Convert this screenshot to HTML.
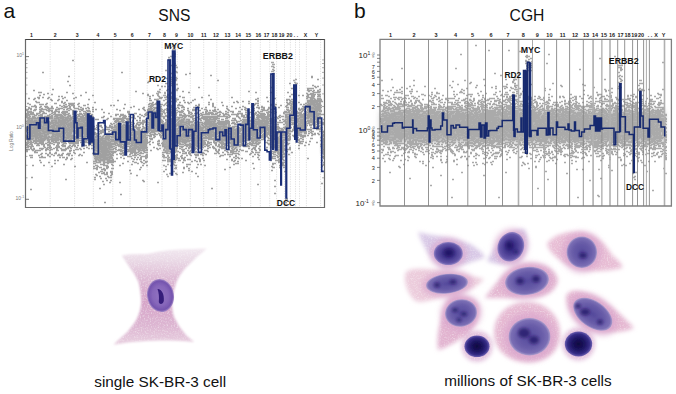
<!DOCTYPE html><html><head><meta charset="utf-8"><style>html,body{margin:0;padding:0;background:#fff;width:676px;height:394px;overflow:hidden}svg{display:block}</style></head><body>
<svg width="676" height="394" viewBox="0 0 676 394" font-family='"Liberation Sans", sans-serif'>
<defs>
<filter id="bl1" x="-20%" y="-20%" width="140%" height="140%"><feGaussianBlur stdDeviation="0.5"/></filter>
<filter id="bl2" x="-30%" y="-30%" width="160%" height="160%"><feGaussianBlur stdDeviation="1.5"/></filter>
<filter id="bl3" x="-30%" y="-30%" width="160%" height="160%"><feGaussianBlur stdDeviation="3"/></filter>
<radialGradient id="nuc" cx="50%" cy="50%" r="50%"><stop offset="0" stop-color="#2e2478"/><stop offset="0.55" stop-color="#3f3590"/><stop offset="0.85" stop-color="#5a4fa8"/><stop offset="1" stop-color="#7f74c0"/></radialGradient>
<radialGradient id="nucd" cx="50%" cy="50%" r="50%"><stop offset="0" stop-color="#15104a"/><stop offset="0.45" stop-color="#2a2070"/><stop offset="0.8" stop-color="#40368e"/><stop offset="1" stop-color="#6a60b0"/></radialGradient>
<radialGradient id="nuc1" cx="50%" cy="50%" r="50%"><stop offset="0" stop-color="#7550b0"/><stop offset="0.8" stop-color="#8a64bc"/><stop offset="1" stop-color="#a98ac8"/></radialGradient>
</defs>
<text x="3.6" y="17.6" font-size="21" fill="#111">a</text>
<text x="354" y="17.8" font-size="21" fill="#111">b</text>
<text x="174.4" y="20.5" font-size="15.6" text-anchor="middle" fill="#111">SNS</text>
<text x="527" y="20.5" font-size="15.7" text-anchor="middle" fill="#111">CGH</text>
<line x1="50.2" y1="39.5" x2="50.2" y2="207.5" stroke="#d8d8d8" stroke-width="0.8" stroke-dasharray="1.2 1.2"/>
<line x1="74.6" y1="39.5" x2="74.6" y2="207.5" stroke="#d8d8d8" stroke-width="0.8" stroke-dasharray="1.2 1.2"/>
<line x1="93.3" y1="39.5" x2="93.3" y2="207.5" stroke="#d8d8d8" stroke-width="0.8" stroke-dasharray="1.2 1.2"/>
<line x1="112.8" y1="39.5" x2="112.8" y2="207.5" stroke="#d8d8d8" stroke-width="0.8" stroke-dasharray="1.2 1.2"/>
<line x1="130.0" y1="39.5" x2="130.0" y2="207.5" stroke="#d8d8d8" stroke-width="0.8" stroke-dasharray="1.2 1.2"/>
<line x1="147.2" y1="39.5" x2="147.2" y2="207.5" stroke="#d8d8d8" stroke-width="0.8" stroke-dasharray="1.2 1.2"/>
<line x1="162.0" y1="39.5" x2="162.0" y2="207.5" stroke="#d8d8d8" stroke-width="0.8" stroke-dasharray="1.2 1.2"/>
<line x1="177.2" y1="39.5" x2="177.2" y2="207.5" stroke="#d8d8d8" stroke-width="0.8" stroke-dasharray="1.2 1.2"/>
<line x1="190.3" y1="39.5" x2="190.3" y2="207.5" stroke="#d8d8d8" stroke-width="0.8" stroke-dasharray="1.2 1.2"/>
<line x1="203.7" y1="39.5" x2="203.7" y2="207.5" stroke="#d8d8d8" stroke-width="0.8" stroke-dasharray="1.2 1.2"/>
<line x1="216.8" y1="39.5" x2="216.8" y2="207.5" stroke="#d8d8d8" stroke-width="0.8" stroke-dasharray="1.2 1.2"/>
<line x1="229.3" y1="39.5" x2="229.3" y2="207.5" stroke="#d8d8d8" stroke-width="0.8" stroke-dasharray="1.2 1.2"/>
<line x1="240.4" y1="39.5" x2="240.4" y2="207.5" stroke="#d8d8d8" stroke-width="0.8" stroke-dasharray="1.2 1.2"/>
<line x1="250.7" y1="39.5" x2="250.7" y2="207.5" stroke="#d8d8d8" stroke-width="0.8" stroke-dasharray="1.2 1.2"/>
<line x1="260.3" y1="39.5" x2="260.3" y2="207.5" stroke="#d8d8d8" stroke-width="0.8" stroke-dasharray="1.2 1.2"/>
<line x1="269.7" y1="39.5" x2="269.7" y2="207.5" stroke="#d8d8d8" stroke-width="0.8" stroke-dasharray="1.2 1.2"/>
<line x1="276.6" y1="39.5" x2="276.6" y2="207.5" stroke="#d8d8d8" stroke-width="0.8" stroke-dasharray="1.2 1.2"/>
<line x1="284.5" y1="39.5" x2="284.5" y2="207.5" stroke="#d8d8d8" stroke-width="0.8" stroke-dasharray="1.2 1.2"/>
<line x1="290.4" y1="39.5" x2="290.4" y2="207.5" stroke="#d8d8d8" stroke-width="0.8" stroke-dasharray="1.2 1.2"/>
<line x1="295.5" y1="39.5" x2="295.5" y2="207.5" stroke="#d8d8d8" stroke-width="0.8" stroke-dasharray="1.2 1.2"/>
<line x1="299.5" y1="39.5" x2="299.5" y2="207.5" stroke="#d8d8d8" stroke-width="0.8" stroke-dasharray="1.2 1.2"/>
<line x1="306.4" y1="39.5" x2="306.4" y2="207.5" stroke="#d8d8d8" stroke-width="0.8" stroke-dasharray="1.2 1.2"/>
<line x1="320.6" y1="39.5" x2="320.6" y2="207.5" stroke="#d8d8d8" stroke-width="0.8" stroke-dasharray="1.2 1.2"/>
<g fill="#b4b4b4" filter="url(#bl2)"><rect x="26.5" y="117.5" width="22.7" height="22.9"/><rect x="51.2" y="116.4" width="22.4" height="24.1"/><rect x="75.6" y="119.0" width="16.7" height="18.0"/><rect x="94.3" y="136.3" width="17.5" height="25.4"/><rect x="113.8" y="124.2" width="15.2" height="19.6"/><rect x="131.0" y="129.8" width="15.2" height="20.5"/><rect x="148.2" y="110.1" width="12.8" height="20.9"/><rect x="163.0" y="127.5" width="13.2" height="20.0"/><rect x="178.2" y="118.7" width="11.1" height="24.5"/><rect x="191.3" y="122.7" width="11.4" height="24.5"/><rect x="204.7" y="118.3" width="11.1" height="18.4"/><rect x="217.8" y="122.5" width="10.5" height="20.0"/><rect x="230.3" y="127.8" width="9.1" height="20.5"/><rect x="241.4" y="121.3" width="8.3" height="18.4"/><rect x="251.7" y="118.4" width="7.6" height="24.1"/><rect x="261.3" y="118.0" width="7.4" height="13.9"/><rect x="270.7" y="121.4" width="4.9" height="28.2"/><rect x="277.6" y="131.2" width="5.9" height="22.5"/><rect x="285.5" y="113.4" width="3.9" height="21.3"/><rect x="291.4" y="101.9" width="3.6" height="19.2"/><rect x="297.0" y="116.8" width="8.4" height="16.4"/><rect x="307.4" y="99.8" width="12.2" height="20.5"/><rect x="321.6" y="131.2" width="1.4" height="22.5"/></g>
<path d="M36 102.5h2M37 118.5h2M38 122.5h2M38 124.5h2M40 130.5h2M33 123.5h2M27 136.5h2M26 110.5h2M49 147.5h2M40 124.5h2M29 144.5h2M27 130.5h2M30 129.5h2M36 132.5h2M36 137.5h2M41 116.5h2M37 121.5h2M32 117.5h2M49 153.5h2M42 128.5h2M33 130.5h2M27 139.5h2M44 109.5h2M35 143.5h2M48 129.5h2M30 128.5h2M47 93.5h2M35 135.5h2M27 113.5h2M32 112.5h2M27 112.5h2M44 157.5h2M28 129.5h2M27 134.5h2M45 136.5h2M36 143.5h2M30 128.5h2M41 122.5h2M28 121.5h2M32 133.5h2M49 132.5h2M47 118.5h2M30 109.5h2M41 144.5h2M28 137.5h2M32 128.5h2M44 123.5h2M27 138.5h2M27 120.5h2M40 124.5h2M34 98.5h2M37 138.5h2M39 134.5h2M29 122.5h2M47 132.5h2M30 120.5h2M43 136.5h2M48 125.5h2M47 118.5h2M28 120.5h2M26 138.5h2M42 126.5h2M31 136.5h2M32 113.5h2M30 128.5h2M31 124.5h2M39 139.5h2M32 114.5h2M47 129.5h2M32 131.5h2M36 136.5h2M34 131.5h2M39 137.5h2M47 137.5h2M49 118.5h2M39 112.5h2M29 131.5h2M47 129.5h2M42 131.5h2M41 128.5h2M37 127.5h2M49 117.5h2M27 109.5h2M47 123.5h2M43 122.5h2M47 107.5h2M34 118.5h2M46 103.5h2M35 135.5h2M39 104.5h2M40 116.5h2M40 140.5h2M27 103.5h2M47 98.5h2M43 113.5h2M39 142.5h2M36 131.5h2M43 124.5h2M26 117.5h2M31 120.5h2M42 111.5h2M47 129.5h2M31 139.5h2M42 129.5h2M30 142.5h2M41 153.5h2M36 137.5h2M41 121.5h2M30 108.5h2M47 138.5h2M47 116.5h2M33 140.5h2M29 104.5h2M46 129.5h2M42 138.5h2M29 125.5h2M36 127.5h2M35 137.5h2M40 117.5h2M46 129.5h2M49 124.5h2M26 130.5h2M46 148.5h2M39 134.5h2M33 129.5h2M29 126.5h2M36 152.5h2M31 132.5h2M29 146.5h2M36 134.5h2M40 116.5h2M48 109.5h2M42 133.5h2M30 142.5h2M26 109.5h2M30 132.5h2M32 117.5h2M38 145.5h2M40 129.5h2M44 116.5h2M47 154.5h2M43 144.5h2M28 111.5h2M47 134.5h2M34 105.5h2M45 118.5h2M48 111.5h2M30 133.5h2M43 136.5h2M43 112.5h2M30 157.5h2M49 108.5h2M38 131.5h2M47 118.5h2M46 125.5h2M36 133.5h2M39 130.5h2M26 114.5h2M45 150.5h2M29 137.5h2M33 130.5h2M29 122.5h2M38 124.5h2M42 104.5h2M48 97.5h2M27 130.5h2M31 118.5h2M43 127.5h2M41 104.5h2M39 125.5h2M33 110.5h2M47 145.5h2M30 148.5h2M38 102.5h2M39 133.5h2M37 144.5h2M40 162.5h2M38 134.5h2M35 134.5h2M37 113.5h2M42 143.5h2M35 135.5h2M48 137.5h2M37 124.5h2M28 107.5h2M47 138.5h2M37 125.5h2M40 136.5h2M48 144.5h2M26 145.5h2M30 131.5h2M33 148.5h2M34 124.5h2M43 124.5h2M28 119.5h2M30 128.5h2M38 117.5h2M35 133.5h2M38 133.5h2M41 136.5h2M41 104.5h2M40 124.5h2M46 131.5h2M45 149.5h2M47 124.5h2M48 139.5h2M31 155.5h2M29 128.5h2M31 127.5h2M28 119.5h2M45 109.5h2M28 139.5h2M35 128.5h2M30 126.5h2M42 157.5h2M28 111.5h2M37 129.5h2M42 113.5h2M30 134.5h2M26 131.5h2M39 112.5h2M29 127.5h2M30 135.5h2M49 152.5h2M48 132.5h2M48 131.5h2M36 130.5h2M37 117.5h2M38 113.5h2M26 136.5h2M42 133.5h2M36 122.5h2M43 122.5h2M29 133.5h2M38 155.5h2M45 131.5h2M42 140.5h2M35 115.5h2M40 92.5h2M45 128.5h2M32 146.5h2M44 117.5h2M45 106.5h2M47 144.5h2M42 131.5h2M35 107.5h2M43 139.5h2M37 133.5h2M26 117.5h2M40 143.5h2M31 146.5h2M33 122.5h2M41 114.5h2M35 122.5h2M49 116.5h2M44 113.5h2M49 146.5h2M43 131.5h2M31 125.5h2M30 131.5h2M34 136.5h2M47 134.5h2M39 95.5h2M39 127.5h2M49 114.5h2M27 111.5h2M40 129.5h2M48 125.5h2M29 121.5h2M37 130.5h2M40 157.5h2M35 140.5h2M38 119.5h2M32 121.5h2M41 119.5h2M43 125.5h2M32 138.5h2M26 129.5h2M29 129.5h2M47 116.5h2M43 165.5h2M48 140.5h2M27 140.5h2M37 121.5h2M49 129.5h2M48 144.5h2M43 94.5h2M45 135.5h2M40 142.5h2M36 140.5h2M30 143.5h2M28 134.5h2M36 122.5h2M32 116.5h2M39 109.5h2M38 139.5h2M49 148.5h2M31 122.5h2M28 146.5h2M40 115.5h2M34 126.5h2M39 148.5h2M40 114.5h2M30 113.5h2M31 157.5h2M46 125.5h2M26 138.5h2M36 132.5h2M40 141.5h2M27 138.5h2M27 121.5h2M41 114.5h2M34 120.5h2M34 130.5h2M43 131.5h2M28 124.5h2M45 113.5h2M30 113.5h2M36 127.5h2M34 152.5h2M41 140.5h2M39 128.5h2M43 140.5h2M34 122.5h2M28 132.5h2M27 125.5h2M39 109.5h2M33 130.5h2M44 136.5h2M41 133.5h2M27 122.5h2M42 148.5h2M32 136.5h2M43 138.5h2M34 143.5h2M39 142.5h2M47 155.5h2M36 118.5h2M45 125.5h2M35 139.5h2M48 136.5h2M34 123.5h2M34 120.5h2M35 138.5h2M30 108.5h2M38 120.5h2M45 121.5h2M44 125.5h2M47 128.5h2M38 131.5h2M38 98.5h2M41 115.5h2M45 143.5h2M44 135.5h2M27 147.5h2M47 139.5h2M27 124.5h2M43 123.5h2M41 129.5h2M44 137.5h2M38 130.5h2M33 116.5h2M49 122.5h2M38 115.5h2M43 121.5h2M35 101.5h2M45 116.5h2M45 107.5h2M45 153.5h2M41 108.5h2M38 123.5h2M35 106.5h2M35 141.5h2M49 145.5h2M34 133.5h2M36 136.5h2M32 133.5h2M33 128.5h2M28 115.5h2M30 111.5h2M27 112.5h2M47 133.5h2M26 135.5h2M31 134.5h2M31 125.5h2M31 112.5h2M30 127.5h2M44 136.5h2M33 106.5h2M37 121.5h2M32 150.5h2M34 110.5h2M38 143.5h2M31 125.5h2M26 150.5h2M35 121.5h2M38 118.5h2M49 127.5h2M41 129.5h2M37 130.5h2M34 134.5h2M40 109.5h2M29 135.5h2M32 138.5h2M46 110.5h2M49 127.5h2M32 121.5h2M44 127.5h2M25 139.5h2M45 106.5h2M27 126.5h2M28 149.5h2M37 97.5h2M39 135.5h2M46 121.5h2M35 150.5h2M47 149.5h2M30 141.5h2M38 121.5h2M45 127.5h2M33 127.5h2M33 133.5h2M37 126.5h2M42 117.5h2M28 117.5h2M49 137.5h2M45 127.5h2M34 127.5h2M42 130.5h2M36 145.5h2M26 151.5h2M30 127.5h2M40 125.5h2M38 140.5h2M32 122.5h2M41 139.5h2M31 135.5h2M33 148.5h2M48 110.5h2M33 121.5h2M45 134.5h2M28 132.5h2M42 126.5h2M35 121.5h2M45 124.5h2M31 125.5h2M29 138.5h2M27 138.5h2M47 115.5h2M41 135.5h2M44 134.5h2M33 117.5h2M35 141.5h2M42 130.5h2M49 133.5h2M40 110.5h2M26 123.5h2M41 139.5h2M28 118.5h2M44 139.5h2M45 123.5h2M44 124.5h2M47 117.5h2M37 125.5h2M29 120.5h2M38 92.5h2M43 133.5h2M48 121.5h2M40 130.5h2M31 134.5h2M39 125.5h2M48 118.5h2M34 122.5h2M49 130.5h2M29 142.5h2M39 119.5h2M39 126.5h2M49 156.5h2M45 123.5h2M45 125.5h2M32 136.5h2M39 123.5h2M45 135.5h2M27 143.5h2M26 144.5h2M48 162.5h2M41 122.5h2M43 146.5h2M34 109.5h2M26 116.5h2M30 122.5h2M35 130.5h2M39 136.5h2M32 142.5h2M39 120.5h2M26 144.5h2M41 148.5h2M40 154.5h2M37 113.5h2M42 138.5h2M44 129.5h2M49 114.5h2M46 137.5h2M36 118.5h2M39 141.5h2M38 120.5h2M36 138.5h2M27 122.5h2M43 145.5h2M40 116.5h2M43 123.5h2M27 145.5h2M28 114.5h2M35 133.5h2M27 123.5h2M31 114.5h2M33 121.5h2M27 134.5h2M47 147.5h2M46 125.5h2M35 132.5h2M43 120.5h2M39 133.5h2M44 125.5h2M28 98.5h2M25 121.5h2M31 125.5h2M27 139.5h2M47 134.5h2M34 117.5h2M39 132.5h2M47 129.5h2M33 99.5h2M49 129.5h2M37 131.5h2M48 139.5h2M47 137.5h2M34 151.5h2M37 141.5h2M49 152.5h2M30 123.5h2M47 122.5h2M27 145.5h2M33 141.5h2M47 142.5h2M29 114.5h2M42 141.5h2M27 123.5h2M31 121.5h2M30 147.5h2M30 130.5h2M44 147.5h2M34 115.5h2M40 106.5h2M31 119.5h2M41 156.5h2M32 125.5h2M49 124.5h2M36 113.5h2M26 126.5h2M40 126.5h2M45 138.5h2M27 124.5h2M31 149.5h2M32 121.5h2M47 126.5h2M49 142.5h2M43 131.5h2M35 142.5h2M30 122.5h2M39 121.5h2M41 119.5h2M44 113.5h2M46 127.5h2M42 97.5h2M29 124.5h2M44 137.5h2M31 144.5h2M36 132.5h2M44 106.5h2M31 120.5h2M39 129.5h2M37 145.5h2M43 132.5h2M39 134.5h2M29 123.5h2M26 115.5h2M36 129.5h2M32 130.5h2M47 124.5h2M39 107.5h2M31 122.5h2M29 127.5h2M33 132.5h2M40 119.5h2M39 127.5h2M27 132.5h2M31 121.5h2M29 120.5h2M44 106.5h2M27 118.5h2M31 135.5h2M49 143.5h2M44 132.5h2M49 137.5h2M43 140.5h2M26 130.5h2M29 155.5h2M35 125.5h2M27 141.5h2M26 150.5h2M43 128.5h2M31 128.5h2M31 145.5h2M36 140.5h2M33 124.5h2M49 126.5h2M35 126.5h2M41 139.5h2M42 133.5h2M46 106.5h2M36 114.5h2M35 135.5h2M44 118.5h2M30 124.5h2M39 135.5h2M29 131.5h2M37 137.5h2M33 90.5h2M42 142.5h2M46 132.5h2M27 141.5h2M42 122.5h2M26 136.5h2M30 128.5h2M48 141.5h2M43 127.5h2M29 140.5h2M48 115.5h2M43 145.5h2M47 140.5h2M35 130.5h2M27 137.5h2M44 121.5h2M38 140.5h2M31 133.5h2M26 138.5h2M26 142.5h2M33 114.5h2M29 136.5h2M42 127.5h2M41 149.5h2M29 131.5h2M42 138.5h2M35 109.5h2M31 145.5h2M32 124.5h2M26 136.5h2M26 117.5h2M45 116.5h2M49 123.5h2M47 147.5h2M31 121.5h2M48 111.5h2M46 130.5h2M27 146.5h2M36 125.5h2M35 131.5h2M33 118.5h2M29 129.5h2M35 121.5h2M41 130.5h2M31 138.5h2M35 135.5h2M29 111.5h2M39 119.5h2M42 141.5h2M34 130.5h2M27 125.5h2M37 131.5h2M39 117.5h2M31 131.5h2M26 113.5h2M39 150.5h2M32 124.5h2M37 121.5h2M40 140.5h2M39 125.5h2M48 131.5h2M40 111.5h2M35 120.5h2M45 134.5h2M47 108.5h2M26 147.5h2M29 118.5h2M34 128.5h2M49 133.5h2M31 135.5h2M42 129.5h2M38 129.5h2M35 129.5h2M41 143.5h2M39 117.5h2M45 117.5h2M49 123.5h2M47 139.5h2M33 124.5h2M42 109.5h2M49 132.5h2M40 122.5h2M37 117.5h2M32 124.5h2M43 119.5h2M31 127.5h2M33 135.5h2M28 142.5h2M27 134.5h2M42 131.5h2M28 108.5h2M37 135.5h2M29 146.5h2M27 109.5h2M31 106.5h2M35 127.5h2M43 128.5h2M33 149.5h2M33 130.5h2M45 104.5h2M39 111.5h2M40 138.5h2M45 131.5h2M34 122.5h2M41 129.5h2M26 137.5h2M39 160.5h2M29 116.5h2M42 113.5h2M35 137.5h2M48 133.5h2M42 128.5h2M28 139.5h2M43 136.5h2M49 150.5h2M26 149.5h2M38 97.5h2M33 132.5h2M45 143.5h2M35 106.5h2M40 137.5h2M42 72.5h2M29 112.5h2M30 189.5h2M31 177.5h2M37 150.5h2M26 149.5h2M39 157.5h2M32 165.5h2M55 115.5h2M56 129.5h2M51 154.5h2M57 139.5h2M52 134.5h2M74 142.5h2M55 138.5h2M60 117.5h2M69 124.5h2M63 131.5h2M66 120.5h2M72 120.5h2M71 143.5h2M70 127.5h2M67 129.5h2M54 131.5h2M53 139.5h2M68 134.5h2M57 126.5h2M55 128.5h2M73 144.5h2M69 129.5h2M69 127.5h2M69 115.5h2M70 132.5h2M52 89.5h2M73 111.5h2M56 140.5h2M72 145.5h2M55 131.5h2M59 115.5h2M69 142.5h2M59 120.5h2M57 118.5h2M72 125.5h2M58 133.5h2M68 133.5h2M63 149.5h2M66 131.5h2M53 134.5h2M58 126.5h2M62 129.5h2M60 121.5h2M73 143.5h2M55 137.5h2M68 120.5h2M53 142.5h2M73 127.5h2M55 110.5h2M54 139.5h2M57 114.5h2M58 99.5h2M54 103.5h2M54 160.5h2M65 114.5h2M55 141.5h2M65 148.5h2M65 111.5h2M62 122.5h2M70 125.5h2M66 109.5h2M60 134.5h2M59 130.5h2M64 146.5h2M62 146.5h2M61 132.5h2M64 102.5h2M54 111.5h2M61 150.5h2M57 127.5h2M68 142.5h2M71 127.5h2M53 144.5h2M56 127.5h2M70 109.5h2M70 103.5h2M69 85.5h2M52 125.5h2M71 126.5h2M69 118.5h2M61 102.5h2M55 122.5h2M57 125.5h2M63 124.5h2M69 118.5h2M69 129.5h2M70 130.5h2M72 111.5h2M69 135.5h2M52 138.5h2M51 113.5h2M70 150.5h2M53 134.5h2M70 140.5h2M65 132.5h2M74 125.5h2M55 109.5h2M67 108.5h2M55 121.5h2M50 116.5h2M58 120.5h2M57 145.5h2M64 125.5h2M53 120.5h2M67 121.5h2M53 129.5h2M72 118.5h2M55 120.5h2M74 120.5h2M59 108.5h2M57 122.5h2M65 132.5h2M60 134.5h2M61 116.5h2M62 140.5h2M67 124.5h2M56 118.5h2M71 123.5h2M57 140.5h2M61 112.5h2M72 111.5h2M64 142.5h2M61 141.5h2M57 133.5h2M60 139.5h2M67 125.5h2M66 128.5h2M53 142.5h2M71 128.5h2M58 142.5h2M70 139.5h2M63 114.5h2M52 133.5h2M59 125.5h2M59 125.5h2M58 108.5h2M71 131.5h2M65 127.5h2M61 118.5h2M58 139.5h2M66 100.5h2M73 106.5h2M74 108.5h2M65 143.5h2M67 133.5h2M61 128.5h2M60 123.5h2M74 120.5h2M55 123.5h2M59 133.5h2M68 135.5h2M65 132.5h2M65 127.5h2M69 118.5h2M67 129.5h2M61 121.5h2M50 149.5h2M71 103.5h2M51 118.5h2M63 141.5h2M53 131.5h2M62 117.5h2M53 122.5h2M52 125.5h2M62 122.5h2M56 150.5h2M60 137.5h2M61 131.5h2M63 103.5h2M52 135.5h2M70 148.5h2M62 157.5h2M60 108.5h2M73 111.5h2M60 136.5h2M69 129.5h2M67 126.5h2M63 120.5h2M51 137.5h2M73 135.5h2M65 130.5h2M60 125.5h2M52 128.5h2M72 135.5h2M58 109.5h2M71 129.5h2M73 114.5h2M72 121.5h2M59 121.5h2M56 149.5h2M59 114.5h2M59 135.5h2M60 124.5h2M70 129.5h2M51 111.5h2M60 125.5h2M55 139.5h2M57 136.5h2M62 131.5h2M62 150.5h2M50 99.5h2M50 147.5h2M64 140.5h2M64 125.5h2M59 122.5h2M64 145.5h2M58 112.5h2M68 128.5h2M51 137.5h2M56 134.5h2M69 104.5h2M60 140.5h2M57 126.5h2M73 123.5h2M70 122.5h2M70 138.5h2M69 125.5h2M68 124.5h2M51 116.5h2M72 116.5h2M65 159.5h2M68 132.5h2M64 150.5h2M60 129.5h2M66 158.5h2M52 125.5h2M69 107.5h2M59 136.5h2M61 122.5h2M58 131.5h2M67 134.5h2M70 131.5h2M66 122.5h2M53 126.5h2M57 144.5h2M72 123.5h2M55 114.5h2M70 136.5h2M53 139.5h2M51 117.5h2M60 114.5h2M72 142.5h2M62 123.5h2M69 116.5h2M53 128.5h2M64 120.5h2M55 123.5h2M58 135.5h2M64 115.5h2M64 126.5h2M70 117.5h2M61 142.5h2M73 118.5h2M56 146.5h2M56 126.5h2M56 111.5h2M52 134.5h2M67 116.5h2M60 115.5h2M73 116.5h2M72 113.5h2M56 132.5h2M68 137.5h2M70 135.5h2M51 122.5h2M63 112.5h2M58 147.5h2M68 155.5h2M69 147.5h2M55 142.5h2M55 110.5h2M53 124.5h2M68 103.5h2M72 114.5h2M66 106.5h2M67 153.5h2M57 142.5h2M56 111.5h2M56 145.5h2M56 130.5h2M57 128.5h2M62 135.5h2M56 126.5h2M62 139.5h2M71 142.5h2M70 150.5h2M65 107.5h2M63 122.5h2M66 148.5h2M56 117.5h2M51 140.5h2M69 123.5h2M56 116.5h2M67 132.5h2M72 111.5h2M58 127.5h2M56 134.5h2M72 126.5h2M66 154.5h2M52 141.5h2M63 157.5h2M57 155.5h2M71 146.5h2M52 135.5h2M51 94.5h2M66 112.5h2M70 132.5h2M52 112.5h2M63 135.5h2M58 143.5h2M62 135.5h2M60 148.5h2M62 142.5h2M63 135.5h2M73 121.5h2M57 125.5h2M58 119.5h2M73 98.5h2M73 152.5h2M72 116.5h2M50 110.5h2M66 129.5h2M65 104.5h2M52 108.5h2M62 131.5h2M53 127.5h2M71 131.5h2M51 127.5h2M70 122.5h2M64 113.5h2M68 128.5h2M52 128.5h2M69 153.5h2M60 124.5h2M58 127.5h2M68 130.5h2M56 114.5h2M58 120.5h2M66 119.5h2M71 131.5h2M54 134.5h2M61 136.5h2M69 123.5h2M66 137.5h2M56 118.5h2M71 127.5h2M54 129.5h2M58 139.5h2M67 117.5h2M63 107.5h2M52 129.5h2M55 118.5h2M60 141.5h2M58 127.5h2M72 141.5h2M53 127.5h2M69 130.5h2M69 116.5h2M59 124.5h2M68 146.5h2M61 129.5h2M62 126.5h2M59 155.5h2M53 140.5h2M55 153.5h2M72 104.5h2M58 135.5h2M67 125.5h2M73 131.5h2M66 135.5h2M71 123.5h2M61 96.5h2M59 136.5h2M72 135.5h2M52 133.5h2M51 139.5h2M57 131.5h2M63 134.5h2M63 107.5h2M63 119.5h2M73 136.5h2M52 133.5h2M57 130.5h2M62 98.5h2M54 120.5h2M57 143.5h2M69 143.5h2M64 125.5h2M70 119.5h2M72 130.5h2M73 150.5h2M60 131.5h2M51 132.5h2M68 135.5h2M55 137.5h2M69 129.5h2M62 119.5h2M54 116.5h2M50 127.5h2M56 132.5h2M65 118.5h2M65 139.5h2M58 111.5h2M64 150.5h2M60 114.5h2M58 124.5h2M72 131.5h2M70 159.5h2M71 136.5h2M73 142.5h2M57 138.5h2M56 147.5h2M64 146.5h2M57 155.5h2M52 123.5h2M63 117.5h2M62 142.5h2M59 120.5h2M50 117.5h2M64 128.5h2M65 122.5h2M62 129.5h2M61 106.5h2M57 100.5h2M61 149.5h2M56 140.5h2M70 131.5h2M71 118.5h2M62 113.5h2M73 136.5h2M62 117.5h2M70 129.5h2M62 123.5h2M55 135.5h2M70 140.5h2M72 93.5h2M66 134.5h2M69 108.5h2M69 139.5h2M57 150.5h2M56 131.5h2M62 127.5h2M58 133.5h2M72 110.5h2M72 125.5h2M66 124.5h2M53 155.5h2M57 125.5h2M54 120.5h2M73 107.5h2M65 143.5h2M51 143.5h2M71 131.5h2M71 105.5h2M64 146.5h2M62 121.5h2M59 126.5h2M54 130.5h2M69 131.5h2M68 147.5h2M67 116.5h2M56 127.5h2M54 116.5h2M72 112.5h2M58 154.5h2M57 115.5h2M73 103.5h2M68 105.5h2M58 125.5h2M62 144.5h2M51 139.5h2M61 115.5h2M68 128.5h2M64 137.5h2M56 126.5h2M51 133.5h2M58 96.5h2M65 122.5h2M60 120.5h2M61 133.5h2M73 138.5h2M66 138.5h2M68 110.5h2M72 121.5h2M71 128.5h2M74 145.5h2M63 136.5h2M51 149.5h2M54 118.5h2M67 125.5h2M67 118.5h2M65 149.5h2M67 114.5h2M53 132.5h2M61 155.5h2M51 120.5h2M52 125.5h2M60 148.5h2M53 112.5h2M68 136.5h2M60 116.5h2M65 112.5h2M51 126.5h2M51 121.5h2M61 133.5h2M59 129.5h2M61 154.5h2M70 148.5h2M62 118.5h2M73 122.5h2M53 125.5h2M71 137.5h2M62 117.5h2M71 135.5h2M56 133.5h2M61 108.5h2M59 114.5h2M58 134.5h2M65 118.5h2M68 134.5h2M61 101.5h2M61 133.5h2M59 157.5h2M69 106.5h2M60 118.5h2M57 109.5h2M67 147.5h2M66 122.5h2M60 123.5h2M68 120.5h2M63 140.5h2M67 126.5h2M50 108.5h2M56 139.5h2M65 130.5h2M74 141.5h2M55 132.5h2M64 126.5h2M70 135.5h2M64 117.5h2M67 130.5h2M64 106.5h2M56 123.5h2M63 111.5h2M73 143.5h2M58 146.5h2M67 138.5h2M63 125.5h2M63 120.5h2M65 128.5h2M71 122.5h2M69 119.5h2M60 139.5h2M61 142.5h2M63 145.5h2M73 127.5h2M58 128.5h2M57 123.5h2M66 119.5h2M59 105.5h2M57 118.5h2M51 141.5h2M59 124.5h2M57 122.5h2M71 137.5h2M54 124.5h2M53 148.5h2M68 140.5h2M56 107.5h2M51 129.5h2M69 134.5h2M67 121.5h2M67 114.5h2M55 152.5h2M61 122.5h2M69 141.5h2M64 97.5h2M55 103.5h2M55 122.5h2M73 123.5h2M58 115.5h2M70 133.5h2M72 124.5h2M58 121.5h2M67 134.5h2M71 155.5h2M55 122.5h2M67 135.5h2M51 126.5h2M70 123.5h2M63 123.5h2M51 125.5h2M58 146.5h2M71 126.5h2M51 130.5h2M67 130.5h2M54 125.5h2M67 148.5h2M58 117.5h2M63 130.5h2M58 122.5h2M57 136.5h2M56 140.5h2M64 129.5h2M56 148.5h2M61 145.5h2M62 117.5h2M68 154.5h2M65 117.5h2M62 111.5h2M60 116.5h2M61 138.5h2M63 105.5h2M71 123.5h2M55 139.5h2M51 130.5h2M69 120.5h2M55 120.5h2M71 138.5h2M66 111.5h2M68 115.5h2M63 132.5h2M71 158.5h2M70 126.5h2M52 129.5h2M63 164.5h2M62 118.5h2M62 153.5h2M74 166.5h2M50 147.5h2M54 113.5h2M53 140.5h2M63 141.5h2M68 123.5h2M64 121.5h2M61 124.5h2M71 124.5h2M61 120.5h2M63 119.5h2M65 143.5h2M50 132.5h2M55 147.5h2M52 129.5h2M73 116.5h2M63 143.5h2M56 139.5h2M69 124.5h2M51 106.5h2M51 130.5h2M55 121.5h2M51 136.5h2M73 141.5h2M58 127.5h2M54 153.5h2M65 104.5h2M51 107.5h2M63 109.5h2M56 145.5h2M67 134.5h2M73 142.5h2M56 123.5h2M66 157.5h2M52 132.5h2M57 137.5h2M70 117.5h2M66 92.5h2M65 112.5h2M62 142.5h2M51 115.5h2M63 129.5h2M51 166.5h2M59 135.5h2M58 139.5h2M72 142.5h2M54 112.5h2M68 128.5h2M63 129.5h2M67 137.5h2M52 130.5h2M55 125.5h2M61 138.5h2M68 113.5h2M68 127.5h2M70 124.5h2M54 130.5h2M51 131.5h2M71 124.5h2M51 132.5h2M70 104.5h2M51 110.5h2M53 126.5h2M53 136.5h2M55 123.5h2M54 122.5h2M63 123.5h2M64 133.5h2M62 116.5h2M51 138.5h2M65 132.5h2M50 139.5h2M71 117.5h2M63 121.5h2M72 137.5h2M67 138.5h2M59 120.5h2M51 100.5h2M57 122.5h2M69 150.5h2M67 136.5h2M59 124.5h2M70 129.5h2M73 121.5h2M68 136.5h2M64 119.5h2M73 142.5h2M71 117.5h2M74 138.5h2M73 111.5h2M53 114.5h2M53 138.5h2M69 145.5h2M57 135.5h2M58 121.5h2M61 123.5h2M70 138.5h2M59 127.5h2M67 138.5h2M55 152.5h2M63 128.5h2M50 129.5h2M50 123.5h2M74 153.5h2M65 179.5h2M56 150.5h2M61 116.5h2M72 60.5h2M60 114.5h2M57 160.5h2M68 76.5h2M54 140.5h2M69 151.5h2M65 123.5h2M54 163.5h2M54 136.5h2M67 81.5h2M73 105.5h2M51 136.5h2M61 133.5h2M89 122.5h2M90 116.5h2M81 138.5h2M75 137.5h2M79 133.5h2M76 129.5h2M84 137.5h2M89 137.5h2M81 138.5h2M88 138.5h2M90 115.5h2M90 123.5h2M87 136.5h2M88 126.5h2M86 126.5h2M83 128.5h2M79 118.5h2M84 120.5h2M75 137.5h2M87 138.5h2M92 130.5h2M83 120.5h2M84 131.5h2M91 118.5h2M83 118.5h2M81 134.5h2M92 137.5h2M76 130.5h2M87 131.5h2M82 132.5h2M85 128.5h2M80 117.5h2M81 133.5h2M75 123.5h2M90 122.5h2M77 128.5h2M91 127.5h2M87 124.5h2M78 115.5h2M75 132.5h2M91 125.5h2M89 132.5h2M76 142.5h2M83 131.5h2M91 129.5h2M75 121.5h2M85 119.5h2M91 129.5h2M78 125.5h2M91 124.5h2M92 121.5h2M88 122.5h2M91 128.5h2M84 125.5h2M77 104.5h2M90 120.5h2M79 119.5h2M77 125.5h2M88 128.5h2M82 118.5h2M87 126.5h2M77 116.5h2M76 137.5h2M83 144.5h2M86 121.5h2M78 135.5h2M92 123.5h2M87 124.5h2M85 115.5h2M85 116.5h2M90 138.5h2M86 126.5h2M81 119.5h2M86 133.5h2M81 116.5h2M89 143.5h2M87 133.5h2M86 119.5h2M79 126.5h2M89 132.5h2M91 124.5h2M77 137.5h2M77 114.5h2M76 111.5h2M79 128.5h2M90 120.5h2M81 121.5h2M80 129.5h2M82 125.5h2M75 143.5h2M86 130.5h2M78 119.5h2M77 143.5h2M85 136.5h2M75 115.5h2M80 131.5h2M75 119.5h2M92 132.5h2M81 145.5h2M85 118.5h2M77 129.5h2M84 123.5h2M76 136.5h2M77 133.5h2M92 109.5h2M92 117.5h2M88 121.5h2M88 119.5h2M87 134.5h2M82 138.5h2M84 124.5h2M85 113.5h2M89 130.5h2M77 124.5h2M75 141.5h2M80 149.5h2M82 115.5h2M79 130.5h2M88 118.5h2M89 144.5h2M74 123.5h2M90 126.5h2M76 126.5h2M85 145.5h2M86 117.5h2M78 134.5h2M83 127.5h2M76 142.5h2M77 131.5h2M85 139.5h2M74 146.5h2M81 126.5h2M77 140.5h2M78 103.5h2M88 137.5h2M78 106.5h2M77 131.5h2M91 134.5h2M91 122.5h2M81 128.5h2M79 118.5h2M88 115.5h2M82 117.5h2M81 131.5h2M83 121.5h2M80 113.5h2M85 129.5h2M81 130.5h2M81 131.5h2M82 128.5h2M91 129.5h2M80 125.5h2M81 125.5h2M85 133.5h2M90 123.5h2M76 132.5h2M75 128.5h2M88 120.5h2M89 133.5h2M80 131.5h2M88 127.5h2M83 119.5h2M81 110.5h2M79 131.5h2M89 139.5h2M92 121.5h2M91 142.5h2M78 155.5h2M89 134.5h2M82 133.5h2M90 125.5h2M91 121.5h2M90 124.5h2M80 127.5h2M80 107.5h2M85 139.5h2M89 134.5h2M88 131.5h2M81 128.5h2M75 131.5h2M82 118.5h2M85 125.5h2M80 142.5h2M80 129.5h2M83 122.5h2M75 133.5h2M80 126.5h2M75 132.5h2M83 148.5h2M81 130.5h2M82 125.5h2M76 127.5h2M89 117.5h2M81 123.5h2M88 110.5h2M90 127.5h2M91 125.5h2M83 113.5h2M84 117.5h2M89 122.5h2M90 143.5h2M86 133.5h2M85 130.5h2M83 126.5h2M81 133.5h2M85 126.5h2M77 128.5h2M88 116.5h2M80 128.5h2M78 127.5h2M88 140.5h2M79 116.5h2M76 123.5h2M75 112.5h2M91 125.5h2M83 127.5h2M81 144.5h2M91 140.5h2M77 120.5h2M87 130.5h2M76 122.5h2M83 136.5h2M82 108.5h2M91 114.5h2M91 131.5h2M79 121.5h2M83 119.5h2M81 117.5h2M92 127.5h2M76 129.5h2M78 125.5h2M75 108.5h2M79 128.5h2M91 145.5h2M79 148.5h2M92 143.5h2M87 111.5h2M88 130.5h2M84 126.5h2M86 140.5h2M80 124.5h2M92 123.5h2M78 131.5h2M92 153.5h2M91 138.5h2M89 111.5h2M85 142.5h2M90 135.5h2M90 131.5h2M88 128.5h2M83 152.5h2M82 109.5h2M87 120.5h2M81 114.5h2M86 147.5h2M87 136.5h2M89 121.5h2M83 129.5h2M87 123.5h2M74 126.5h2M82 128.5h2M78 135.5h2M82 120.5h2M87 107.5h2M75 137.5h2M88 117.5h2M86 122.5h2M76 135.5h2M86 142.5h2M91 133.5h2M86 113.5h2M92 116.5h2M89 139.5h2M75 127.5h2M86 115.5h2M85 112.5h2M81 146.5h2M86 128.5h2M92 111.5h2M88 117.5h2M92 107.5h2M82 133.5h2M75 123.5h2M92 136.5h2M82 125.5h2M76 143.5h2M80 123.5h2M85 131.5h2M82 130.5h2M92 119.5h2M78 120.5h2M75 126.5h2M80 134.5h2M83 122.5h2M84 126.5h2M76 140.5h2M81 124.5h2M88 145.5h2M87 111.5h2M88 116.5h2M75 139.5h2M90 140.5h2M92 128.5h2M85 122.5h2M86 123.5h2M92 124.5h2M84 124.5h2M81 155.5h2M76 124.5h2M78 121.5h2M80 121.5h2M86 122.5h2M91 148.5h2M91 126.5h2M79 129.5h2M85 124.5h2M76 147.5h2M77 142.5h2M87 127.5h2M89 127.5h2M75 141.5h2M83 115.5h2M82 143.5h2M75 130.5h2M84 141.5h2M77 121.5h2M87 125.5h2M88 119.5h2M85 117.5h2M79 134.5h2M80 135.5h2M88 122.5h2M81 128.5h2M92 128.5h2M88 141.5h2M76 126.5h2M77 141.5h2M86 132.5h2M92 125.5h2M78 134.5h2M77 139.5h2M82 130.5h2M81 136.5h2M89 125.5h2M84 129.5h2M85 129.5h2M90 142.5h2M79 132.5h2M87 136.5h2M79 114.5h2M77 149.5h2M91 123.5h2M84 137.5h2M91 131.5h2M76 127.5h2M90 130.5h2M81 136.5h2M78 132.5h2M82 117.5h2M76 118.5h2M84 138.5h2M89 131.5h2M79 131.5h2M82 121.5h2M89 140.5h2M84 128.5h2M87 142.5h2M78 123.5h2M78 119.5h2M84 128.5h2M76 124.5h2M75 118.5h2M77 145.5h2M90 120.5h2M81 134.5h2M88 127.5h2M91 128.5h2M77 128.5h2M76 132.5h2M83 115.5h2M76 124.5h2M77 123.5h2M85 116.5h2M89 113.5h2M77 126.5h2M83 133.5h2M75 138.5h2M89 116.5h2M83 144.5h2M89 118.5h2M89 129.5h2M75 136.5h2M88 99.5h2M80 132.5h2M82 145.5h2M88 108.5h2M90 135.5h2M86 124.5h2M76 117.5h2M84 105.5h2M77 124.5h2M83 126.5h2M76 111.5h2M88 137.5h2M90 117.5h2M75 130.5h2M89 118.5h2M77 123.5h2M83 132.5h2M76 129.5h2M82 140.5h2M85 142.5h2M90 122.5h2M79 126.5h2M90 115.5h2M86 120.5h2M75 131.5h2M90 138.5h2M91 121.5h2M75 123.5h2M85 108.5h2M78 140.5h2M78 130.5h2M89 128.5h2M90 129.5h2M85 129.5h2M79 111.5h2M88 113.5h2M79 121.5h2M88 122.5h2M79 138.5h2M91 116.5h2M81 140.5h2M79 124.5h2M86 126.5h2M75 132.5h2M85 128.5h2M88 132.5h2M77 128.5h2M81 120.5h2M91 136.5h2M92 111.5h2M85 140.5h2M85 122.5h2M80 118.5h2M79 136.5h2M86 138.5h2M78 115.5h2M75 120.5h2M90 135.5h2M84 114.5h2M84 126.5h2M87 116.5h2M79 123.5h2M77 108.5h2M92 135.5h2M80 117.5h2M83 122.5h2M78 129.5h2M79 123.5h2M79 129.5h2M76 134.5h2M84 134.5h2M85 140.5h2M86 114.5h2M80 129.5h2M83 125.5h2M88 121.5h2M85 141.5h2M84 125.5h2M88 125.5h2M82 137.5h2M88 126.5h2M92 121.5h2M92 95.5h2M86 128.5h2M81 129.5h2M85 128.5h2M87 114.5h2M82 116.5h2M88 116.5h2M84 119.5h2M86 123.5h2M87 126.5h2M87 104.5h2M83 139.5h2M77 118.5h2M77 127.5h2M90 134.5h2M77 142.5h2M84 132.5h2M90 127.5h2M75 149.5h2M83 124.5h2M86 122.5h2M81 129.5h2M82 131.5h2M84 124.5h2M83 111.5h2M85 122.5h2M80 140.5h2M79 124.5h2M84 130.5h2M86 125.5h2M83 126.5h2M79 133.5h2M82 116.5h2M79 134.5h2M86 110.5h2M89 130.5h2M79 140.5h2M80 126.5h2M79 125.5h2M87 117.5h2M79 133.5h2M90 121.5h2M82 117.5h2M84 135.5h2M84 105.5h2M88 118.5h2M76 129.5h2M75 127.5h2M89 127.5h2M78 130.5h2M83 129.5h2M77 126.5h2M75 136.5h2M83 130.5h2M92 116.5h2M85 112.5h2M91 124.5h2M81 121.5h2M83 145.5h2M83 142.5h2M78 109.5h2M79 128.5h2M85 134.5h2M78 132.5h2M84 125.5h2M87 121.5h2M85 128.5h2M80 95.5h2M92 116.5h2M78 131.5h2M76 125.5h2M75 124.5h2M76 121.5h2M79 126.5h2M88 122.5h2M87 129.5h2M92 120.5h2M84 120.5h2M87 137.5h2M79 113.5h2M89 132.5h2M84 131.5h2M78 120.5h2M91 124.5h2M82 137.5h2M83 105.5h2M88 117.5h2M77 129.5h2M86 162.5h2M80 109.5h2M84 111.5h2M88 148.5h2M75 97.5h2M77 131.5h2M88 127.5h2M79 154.5h2M85 92.5h2M82 144.5h2M89 116.5h2M83 124.5h2M98 138.5h2M102 181.5h2M107 160.5h2M95 165.5h2M97 151.5h2M110 151.5h2M111 147.5h2M107 150.5h2M106 172.5h2M94 155.5h2M97 153.5h2M98 125.5h2M103 154.5h2M103 130.5h2M97 157.5h2M103 152.5h2M104 129.5h2M104 153.5h2M105 126.5h2M103 163.5h2M110 175.5h2M108 146.5h2M106 138.5h2M95 145.5h2M106 149.5h2M103 168.5h2M105 139.5h2M99 153.5h2M106 158.5h2M99 140.5h2M102 131.5h2M107 157.5h2M108 157.5h2M111 127.5h2M102 129.5h2M99 155.5h2M109 133.5h2M103 157.5h2M100 160.5h2M102 149.5h2M111 168.5h2M111 172.5h2M108 148.5h2M110 151.5h2M94 139.5h2M106 180.5h2M109 153.5h2M103 141.5h2M95 137.5h2M109 160.5h2M99 145.5h2M98 142.5h2M94 132.5h2M107 139.5h2M101 169.5h2M104 140.5h2M110 154.5h2M103 159.5h2M104 169.5h2M94 143.5h2M111 139.5h2M107 150.5h2M105 159.5h2M98 134.5h2M102 136.5h2M104 151.5h2M96 148.5h2M94 156.5h2M103 147.5h2M110 134.5h2M105 142.5h2M110 139.5h2M100 154.5h2M111 140.5h2M106 158.5h2M96 169.5h2M100 139.5h2M100 157.5h2M96 143.5h2M108 152.5h2M100 145.5h2M111 134.5h2M110 141.5h2M110 123.5h2M111 132.5h2M94 158.5h2M100 139.5h2M93 166.5h2M107 162.5h2M102 155.5h2M109 143.5h2M106 143.5h2M98 138.5h2M111 139.5h2M102 147.5h2M111 161.5h2M100 149.5h2M106 166.5h2M111 160.5h2M107 155.5h2M102 141.5h2M95 129.5h2M94 154.5h2M97 159.5h2M99 151.5h2M103 151.5h2M107 152.5h2M107 154.5h2M95 159.5h2M99 161.5h2M108 131.5h2M100 148.5h2M94 155.5h2M109 136.5h2M95 133.5h2M96 156.5h2M94 179.5h2M112 135.5h2M103 146.5h2M102 130.5h2M96 139.5h2M106 137.5h2M94 147.5h2M107 155.5h2M102 143.5h2M103 172.5h2M99 148.5h2M94 149.5h2M94 177.5h2M103 142.5h2M111 128.5h2M95 143.5h2M101 137.5h2M105 139.5h2M100 143.5h2M102 141.5h2M101 144.5h2M98 148.5h2M107 157.5h2M112 162.5h2M105 146.5h2M111 124.5h2M100 130.5h2M94 163.5h2M102 146.5h2M107 166.5h2M109 127.5h2M95 148.5h2M106 166.5h2M102 140.5h2M103 141.5h2M97 153.5h2M108 145.5h2M105 148.5h2M109 143.5h2M111 141.5h2M97 133.5h2M96 148.5h2M98 152.5h2M94 156.5h2M105 143.5h2M111 139.5h2M101 117.5h2M105 157.5h2M102 148.5h2M99 125.5h2M94 146.5h2M104 125.5h2M95 148.5h2M108 140.5h2M105 145.5h2M100 144.5h2M107 152.5h2M101 151.5h2M109 142.5h2M95 141.5h2M109 161.5h2M97 130.5h2M107 157.5h2M99 149.5h2M111 157.5h2M107 150.5h2M107 148.5h2M109 154.5h2M111 164.5h2M95 139.5h2M107 133.5h2M107 127.5h2M103 164.5h2M102 146.5h2M105 153.5h2M111 130.5h2M98 172.5h2M100 131.5h2M94 133.5h2M111 137.5h2M104 145.5h2M96 125.5h2M106 139.5h2M98 152.5h2M100 147.5h2M99 131.5h2M94 154.5h2M109 126.5h2M108 159.5h2M102 153.5h2M99 153.5h2M93 140.5h2M102 152.5h2M105 150.5h2M104 143.5h2M104 147.5h2M103 145.5h2M96 158.5h2M102 136.5h2M106 162.5h2M98 140.5h2M107 142.5h2M97 129.5h2M108 136.5h2M103 184.5h2M108 127.5h2M100 146.5h2M96 168.5h2M96 165.5h2M100 160.5h2M110 155.5h2M100 132.5h2M99 155.5h2M110 151.5h2M99 188.5h2M100 151.5h2M108 113.5h2M95 159.5h2M102 147.5h2M110 146.5h2M99 146.5h2M95 143.5h2M95 157.5h2M110 116.5h2M103 169.5h2M103 162.5h2M108 136.5h2M96 135.5h2M96 162.5h2M99 156.5h2M111 171.5h2M95 156.5h2M95 157.5h2M104 144.5h2M104 138.5h2M96 156.5h2M106 135.5h2M109 162.5h2M95 137.5h2M111 155.5h2M105 154.5h2M93 163.5h2M103 155.5h2M103 152.5h2M103 153.5h2M99 167.5h2M106 174.5h2M102 157.5h2M96 143.5h2M95 168.5h2M110 151.5h2M94 163.5h2M102 157.5h2M96 146.5h2M103 144.5h2M97 142.5h2M104 149.5h2M106 152.5h2M109 158.5h2M97 123.5h2M99 133.5h2M105 137.5h2M104 150.5h2M95 159.5h2M94 143.5h2M110 146.5h2M111 171.5h2M105 178.5h2M93 139.5h2M99 157.5h2M94 149.5h2M102 151.5h2M102 152.5h2M110 180.5h2M103 153.5h2M107 136.5h2M108 135.5h2M100 167.5h2M96 142.5h2M107 152.5h2M98 123.5h2M104 149.5h2M110 145.5h2M107 127.5h2M106 165.5h2M106 139.5h2M103 116.5h2M99 141.5h2M97 136.5h2M107 148.5h2M105 158.5h2M105 149.5h2M101 142.5h2M95 134.5h2M106 155.5h2M105 147.5h2M105 136.5h2M103 138.5h2M112 159.5h2M108 138.5h2M106 165.5h2M94 102.5h2M97 151.5h2M111 174.5h2M97 119.5h2M107 151.5h2M104 174.5h2M95 129.5h2M111 144.5h2M107 167.5h2M99 138.5h2M108 177.5h2M112 165.5h2M107 159.5h2M111 147.5h2M95 137.5h2M96 147.5h2M99 167.5h2M96 167.5h2M108 160.5h2M95 109.5h2M100 145.5h2M103 150.5h2M110 146.5h2M108 147.5h2M102 136.5h2M111 154.5h2M105 151.5h2M111 154.5h2M102 156.5h2M108 129.5h2M94 140.5h2M97 129.5h2M95 137.5h2M95 143.5h2M99 162.5h2M96 167.5h2M111 158.5h2M105 155.5h2M105 145.5h2M100 159.5h2M105 133.5h2M110 156.5h2M101 146.5h2M95 139.5h2M106 145.5h2M100 178.5h2M95 150.5h2M98 144.5h2M108 148.5h2M107 163.5h2M96 162.5h2M103 158.5h2M102 155.5h2M103 130.5h2M99 122.5h2M100 154.5h2M100 171.5h2M97 154.5h2M109 162.5h2M101 155.5h2M104 134.5h2M98 129.5h2M95 161.5h2M102 148.5h2M99 160.5h2M97 145.5h2M98 147.5h2M98 160.5h2M106 173.5h2M110 155.5h2M99 155.5h2M103 162.5h2M109 125.5h2M93 161.5h2M101 151.5h2M93 144.5h2M110 154.5h2M97 145.5h2M109 156.5h2M95 139.5h2M98 152.5h2M112 143.5h2M100 126.5h2M112 168.5h2M97 144.5h2M94 133.5h2M109 144.5h2M112 153.5h2M112 139.5h2M105 158.5h2M111 151.5h2M108 147.5h2M94 128.5h2M111 141.5h2M103 172.5h2M102 117.5h2M109 143.5h2M101 154.5h2M100 142.5h2M99 162.5h2M93 153.5h2M111 155.5h2M94 134.5h2M98 150.5h2M95 137.5h2M101 142.5h2M100 145.5h2M104 148.5h2M112 134.5h2M98 149.5h2M110 143.5h2M103 161.5h2M110 171.5h2M96 175.5h2M100 125.5h2M108 145.5h2M100 131.5h2M99 158.5h2M111 126.5h2M94 129.5h2M97 139.5h2M93 168.5h2M107 133.5h2M99 125.5h2M95 158.5h2M107 144.5h2M111 133.5h2M105 155.5h2M101 142.5h2M99 125.5h2M112 149.5h2M110 172.5h2M107 118.5h2M107 161.5h2M102 156.5h2M95 160.5h2M98 141.5h2M95 136.5h2M111 146.5h2M105 141.5h2M94 152.5h2M106 136.5h2M103 138.5h2M101 152.5h2M97 146.5h2M108 143.5h2M101 160.5h2M99 149.5h2M104 142.5h2M107 136.5h2M100 167.5h2M105 158.5h2M104 156.5h2M105 145.5h2M103 149.5h2M109 147.5h2M105 158.5h2M97 153.5h2M105 152.5h2M110 151.5h2M110 130.5h2M109 147.5h2M111 162.5h2M111 136.5h2M100 133.5h2M95 144.5h2M105 157.5h2M105 127.5h2M93 126.5h2M97 159.5h2M110 156.5h2M102 151.5h2M100 140.5h2M108 142.5h2M104 170.5h2M105 162.5h2M112 151.5h2M100 139.5h2M104 202.5h2M106 129.5h2M100 151.5h2M98 146.5h2M106 158.5h2M95 161.5h2M112 160.5h2M108 137.5h2M97 128.5h2M103 165.5h2M94 150.5h2M95 158.5h2M102 157.5h2M97 155.5h2M111 152.5h2M112 155.5h2M97 145.5h2M110 156.5h2M105 149.5h2M111 173.5h2M99 136.5h2M107 176.5h2M111 137.5h2M107 154.5h2M101 127.5h2M104 165.5h2M94 141.5h2M102 164.5h2M102 132.5h2M111 149.5h2M106 138.5h2M109 182.5h2M101 150.5h2M109 161.5h2M99 149.5h2M97 135.5h2M105 127.5h2M110 157.5h2M101 156.5h2M108 145.5h2M110 105.5h2M103 147.5h2M103 123.5h2M106 165.5h2M96 127.5h2M94 142.5h2M97 124.5h2M109 149.5h2M96 140.5h2M106 143.5h2M110 143.5h2M97 166.5h2M95 119.5h2M106 119.5h2M101 139.5h2M101 151.5h2M99 176.5h2M110 177.5h2M93 155.5h2M107 160.5h2M104 145.5h2M101 173.5h2M102 159.5h2M108 157.5h2M97 150.5h2M108 151.5h2M100 149.5h2M100 164.5h2M98 126.5h2M107 134.5h2M106 167.5h2M94 134.5h2M102 151.5h2M104 143.5h2M103 135.5h2M109 145.5h2M96 140.5h2M98 162.5h2M110 144.5h2M111 144.5h2M107 136.5h2M103 164.5h2M105 144.5h2M106 142.5h2M104 142.5h2M101 138.5h2M97 126.5h2M100 147.5h2M109 134.5h2M103 173.5h2M95 174.5h2M101 109.5h2M112 161.5h2M103 160.5h2M106 168.5h2M103 112.5h2M101 171.5h2M106 139.5h2M102 142.5h2M117 123.5h2M125 127.5h2M129 133.5h2M121 118.5h2M114 133.5h2M119 126.5h2M122 131.5h2M122 155.5h2M129 146.5h2M118 135.5h2M122 125.5h2M128 122.5h2M120 121.5h2M122 147.5h2M117 140.5h2M114 130.5h2M122 152.5h2M126 122.5h2M123 124.5h2M115 133.5h2M120 140.5h2M129 121.5h2M126 119.5h2M120 130.5h2M128 137.5h2M128 128.5h2M124 122.5h2M120 147.5h2M124 118.5h2M128 133.5h2M127 123.5h2M124 135.5h2M124 144.5h2M117 141.5h2M123 138.5h2M117 141.5h2M117 114.5h2M123 125.5h2M123 134.5h2M120 123.5h2M123 138.5h2M128 151.5h2M127 156.5h2M116 143.5h2M115 126.5h2M116 127.5h2M123 120.5h2M121 130.5h2M123 136.5h2M124 116.5h2M126 118.5h2M114 136.5h2M114 118.5h2M116 138.5h2M129 130.5h2M120 146.5h2M129 138.5h2M123 140.5h2M119 130.5h2M128 138.5h2M120 126.5h2M128 130.5h2M114 132.5h2M121 130.5h2M118 145.5h2M127 130.5h2M113 136.5h2M119 165.5h2M113 133.5h2M121 144.5h2M119 129.5h2M120 145.5h2M116 119.5h2M122 132.5h2M125 126.5h2M128 136.5h2M115 130.5h2M119 144.5h2M116 139.5h2M122 126.5h2M123 141.5h2M115 142.5h2M122 131.5h2M128 112.5h2M114 118.5h2M119 138.5h2M128 111.5h2M114 134.5h2M119 127.5h2M121 114.5h2M127 134.5h2M124 122.5h2M121 151.5h2M127 149.5h2M127 135.5h2M113 152.5h2M121 129.5h2M119 146.5h2M122 117.5h2M124 141.5h2M117 136.5h2M118 141.5h2M120 115.5h2M129 133.5h2M117 130.5h2M113 146.5h2M123 148.5h2M122 137.5h2M119 143.5h2M113 133.5h2M114 135.5h2M125 151.5h2M118 138.5h2M116 129.5h2M122 115.5h2M118 130.5h2M128 122.5h2M122 121.5h2M116 109.5h2M113 123.5h2M118 131.5h2M125 141.5h2M123 145.5h2M127 146.5h2M114 148.5h2M127 135.5h2M122 122.5h2M122 133.5h2M128 119.5h2M120 123.5h2M127 135.5h2M118 121.5h2M118 149.5h2M114 131.5h2M121 120.5h2M117 140.5h2M128 113.5h2M117 136.5h2M127 120.5h2M120 130.5h2M128 121.5h2M119 128.5h2M120 132.5h2M117 145.5h2M114 132.5h2M124 135.5h2M114 141.5h2M117 128.5h2M122 129.5h2M118 150.5h2M128 137.5h2M127 134.5h2M124 132.5h2M119 149.5h2M121 131.5h2M123 147.5h2M127 133.5h2M122 148.5h2M127 112.5h2M128 136.5h2M119 110.5h2M122 150.5h2M121 136.5h2M121 119.5h2M124 133.5h2M113 144.5h2M125 141.5h2M129 118.5h2M125 141.5h2M128 139.5h2M114 148.5h2M115 120.5h2M116 132.5h2M113 118.5h2M121 142.5h2M121 153.5h2M113 132.5h2M128 134.5h2M127 133.5h2M128 133.5h2M117 123.5h2M122 118.5h2M114 134.5h2M115 151.5h2M119 144.5h2M115 129.5h2M123 122.5h2M119 149.5h2M126 137.5h2M122 127.5h2M120 151.5h2M118 150.5h2M123 158.5h2M129 143.5h2M124 144.5h2M120 145.5h2M120 135.5h2M127 140.5h2M123 133.5h2M119 116.5h2M122 128.5h2M120 149.5h2M126 131.5h2M114 144.5h2M113 134.5h2M120 135.5h2M119 136.5h2M129 131.5h2M114 138.5h2M117 125.5h2M123 132.5h2M115 135.5h2M124 127.5h2M117 100.5h2M125 126.5h2M117 144.5h2M119 141.5h2M120 129.5h2M128 114.5h2M121 139.5h2M118 131.5h2M119 118.5h2M129 151.5h2M125 145.5h2M124 116.5h2M113 136.5h2M124 141.5h2M125 125.5h2M124 115.5h2M121 133.5h2M115 115.5h2M115 131.5h2M120 134.5h2M127 132.5h2M118 122.5h2M122 146.5h2M117 140.5h2M127 143.5h2M129 130.5h2M124 117.5h2M128 137.5h2M127 139.5h2M113 123.5h2M128 132.5h2M123 134.5h2M120 137.5h2M122 119.5h2M114 136.5h2M119 138.5h2M116 126.5h2M116 154.5h2M119 125.5h2M118 118.5h2M128 150.5h2M128 144.5h2M114 121.5h2M128 142.5h2M118 149.5h2M113 129.5h2M127 126.5h2M116 128.5h2M113 123.5h2M117 127.5h2M125 151.5h2M128 137.5h2M119 140.5h2M118 138.5h2M113 151.5h2M121 140.5h2M117 141.5h2M120 150.5h2M120 127.5h2M129 133.5h2M123 141.5h2M125 131.5h2M125 121.5h2M118 150.5h2M126 128.5h2M122 144.5h2M128 127.5h2M120 143.5h2M121 131.5h2M122 114.5h2M127 127.5h2M116 130.5h2M119 121.5h2M114 161.5h2M125 116.5h2M122 142.5h2M118 138.5h2M114 126.5h2M119 141.5h2M114 152.5h2M122 153.5h2M116 124.5h2M121 137.5h2M115 133.5h2M123 108.5h2M129 139.5h2M121 121.5h2M124 131.5h2M120 137.5h2M126 132.5h2M126 131.5h2M113 127.5h2M118 133.5h2M116 121.5h2M127 122.5h2M121 136.5h2M114 135.5h2M115 138.5h2M115 142.5h2M127 126.5h2M126 143.5h2M116 130.5h2M121 133.5h2M128 125.5h2M123 130.5h2M121 118.5h2M124 134.5h2M127 161.5h2M126 129.5h2M124 136.5h2M116 127.5h2M127 131.5h2M125 134.5h2M115 130.5h2M116 158.5h2M126 131.5h2M119 153.5h2M122 126.5h2M116 118.5h2M124 138.5h2M126 141.5h2M115 129.5h2M122 136.5h2M115 114.5h2M120 157.5h2M121 142.5h2M114 135.5h2M123 137.5h2M115 139.5h2M125 128.5h2M118 126.5h2M117 120.5h2M115 129.5h2M115 127.5h2M124 127.5h2M115 137.5h2M127 136.5h2M121 144.5h2M123 135.5h2M116 134.5h2M121 133.5h2M122 146.5h2M122 163.5h2M115 134.5h2M124 131.5h2M126 132.5h2M114 132.5h2M126 138.5h2M128 126.5h2M126 151.5h2M113 148.5h2M118 135.5h2M121 141.5h2M113 141.5h2M124 132.5h2M118 146.5h2M121 127.5h2M125 122.5h2M115 129.5h2M126 125.5h2M129 125.5h2M120 133.5h2M119 127.5h2M123 132.5h2M129 170.5h2M123 132.5h2M125 125.5h2M127 120.5h2M123 137.5h2M117 140.5h2M121 135.5h2M123 139.5h2M115 127.5h2M120 138.5h2M121 141.5h2M124 139.5h2M120 138.5h2M121 141.5h2M122 148.5h2M129 148.5h2M114 129.5h2M121 132.5h2M114 142.5h2M124 129.5h2M116 126.5h2M129 118.5h2M117 128.5h2M128 131.5h2M114 121.5h2M120 141.5h2M126 135.5h2M114 136.5h2M129 143.5h2M115 122.5h2M113 140.5h2M122 142.5h2M118 138.5h2M129 125.5h2M118 137.5h2M118 138.5h2M124 142.5h2M118 134.5h2M126 137.5h2M118 131.5h2M129 154.5h2M122 152.5h2M125 142.5h2M113 129.5h2M120 154.5h2M115 141.5h2M116 133.5h2M124 151.5h2M113 132.5h2M113 137.5h2M129 149.5h2M114 125.5h2M113 119.5h2M128 129.5h2M126 143.5h2M122 131.5h2M123 131.5h2M115 142.5h2M123 117.5h2M123 154.5h2M124 130.5h2M119 182.5h2M114 137.5h2M113 105.5h2M120 114.5h2M116 140.5h2M119 134.5h2M118 131.5h2M129 156.5h2M129 139.5h2M115 149.5h2M120 124.5h2M126 133.5h2M116 140.5h2M123 116.5h2M114 148.5h2M129 147.5h2M117 124.5h2M127 118.5h2M115 135.5h2M124 137.5h2M119 131.5h2M123 127.5h2M117 120.5h2M128 139.5h2M116 134.5h2M115 130.5h2M124 152.5h2M127 144.5h2M116 129.5h2M129 118.5h2M121 118.5h2M117 150.5h2M128 126.5h2M126 142.5h2M125 140.5h2M129 148.5h2M119 119.5h2M125 128.5h2M119 129.5h2M123 138.5h2M118 134.5h2M125 130.5h2M115 147.5h2M118 119.5h2M114 135.5h2M129 141.5h2M126 135.5h2M122 134.5h2M120 114.5h2M126 127.5h2M115 145.5h2M120 131.5h2M115 134.5h2M117 140.5h2M122 133.5h2M114 142.5h2M114 143.5h2M120 127.5h2M115 135.5h2M126 133.5h2M113 130.5h2M120 146.5h2M124 118.5h2M114 126.5h2M117 132.5h2M120 146.5h2M114 136.5h2M113 136.5h2M123 148.5h2M116 130.5h2M123 125.5h2M126 134.5h2M117 132.5h2M117 137.5h2M128 116.5h2M121 136.5h2M117 126.5h2M118 144.5h2M121 144.5h2M114 138.5h2M121 72.5h2M127 122.5h2M127 111.5h2M127 142.5h2M115 126.5h2M126 140.5h2M125 150.5h2M126 125.5h2M124 104.5h2M126 125.5h2M120 194.5h2M136 131.5h2M139 117.5h2M144 150.5h2M136 133.5h2M141 147.5h2M141 129.5h2M141 130.5h2M130 122.5h2M142 142.5h2M143 143.5h2M146 165.5h2M140 143.5h2M133 133.5h2M133 116.5h2M136 134.5h2M145 141.5h2M130 137.5h2M146 120.5h2M144 140.5h2M135 162.5h2M145 142.5h2M136 139.5h2M145 138.5h2M140 157.5h2M136 137.5h2M133 117.5h2M139 137.5h2M139 141.5h2M134 146.5h2M135 113.5h2M134 144.5h2M134 138.5h2M134 113.5h2M135 136.5h2M131 142.5h2M139 140.5h2M143 148.5h2M138 124.5h2M142 133.5h2M145 145.5h2M142 138.5h2M130 146.5h2M132 145.5h2M132 142.5h2M143 160.5h2M138 122.5h2M140 134.5h2M131 132.5h2M138 141.5h2M146 143.5h2M139 149.5h2M141 136.5h2M138 150.5h2M145 162.5h2M139 147.5h2M145 127.5h2M130 150.5h2M133 133.5h2M138 131.5h2M146 124.5h2M139 133.5h2M134 151.5h2M130 139.5h2M137 133.5h2M137 143.5h2M131 152.5h2M135 135.5h2M139 130.5h2M143 133.5h2M137 157.5h2M141 130.5h2M133 130.5h2M143 109.5h2M131 139.5h2M141 140.5h2M145 133.5h2M139 124.5h2M142 120.5h2M132 134.5h2M138 137.5h2M139 136.5h2M145 155.5h2M142 149.5h2M145 155.5h2M140 136.5h2M138 125.5h2M135 145.5h2M143 128.5h2M138 136.5h2M142 150.5h2M142 122.5h2M134 145.5h2M131 140.5h2M138 151.5h2M142 145.5h2M137 147.5h2M138 132.5h2M134 150.5h2M132 150.5h2M132 135.5h2M146 157.5h2M133 141.5h2M139 169.5h2M143 156.5h2M134 139.5h2M146 140.5h2M146 139.5h2M141 141.5h2M135 152.5h2M143 136.5h2M145 142.5h2M135 148.5h2M132 155.5h2M140 134.5h2M146 141.5h2M141 162.5h2M141 148.5h2M143 140.5h2M135 133.5h2M133 150.5h2M139 114.5h2M141 153.5h2M137 137.5h2M134 145.5h2M133 139.5h2M144 147.5h2M139 141.5h2M134 138.5h2M141 141.5h2M131 138.5h2M141 145.5h2M133 137.5h2M139 139.5h2M135 146.5h2M135 135.5h2M144 152.5h2M138 144.5h2M135 146.5h2M130 151.5h2M130 137.5h2M134 150.5h2M142 126.5h2M140 147.5h2M142 153.5h2M141 133.5h2M139 159.5h2M139 149.5h2M130 139.5h2M146 126.5h2M137 116.5h2M145 144.5h2M143 128.5h2M142 144.5h2M145 122.5h2M139 144.5h2M139 142.5h2M134 149.5h2M146 147.5h2M133 141.5h2M143 135.5h2M132 131.5h2M141 139.5h2M142 123.5h2M140 159.5h2M144 143.5h2M133 115.5h2M146 161.5h2M143 143.5h2M144 134.5h2M143 147.5h2M143 163.5h2M145 144.5h2M133 137.5h2M143 144.5h2M143 149.5h2M144 130.5h2M141 146.5h2M146 132.5h2M134 132.5h2M133 126.5h2M133 128.5h2M142 128.5h2M139 130.5h2M137 154.5h2M141 141.5h2M145 156.5h2M132 137.5h2M144 114.5h2M145 155.5h2M131 143.5h2M141 141.5h2M138 132.5h2M140 132.5h2M131 144.5h2M134 157.5h2M132 120.5h2M145 113.5h2M144 139.5h2M132 138.5h2M139 118.5h2M130 135.5h2M140 157.5h2M131 148.5h2M138 144.5h2M143 107.5h2M143 135.5h2M139 155.5h2M138 129.5h2M136 133.5h2M142 121.5h2M145 115.5h2M143 150.5h2M138 148.5h2M143 146.5h2M130 135.5h2M144 150.5h2M140 138.5h2M136 127.5h2M141 150.5h2M145 131.5h2M137 149.5h2M146 114.5h2M146 137.5h2M130 140.5h2M138 134.5h2M140 153.5h2M141 147.5h2M136 128.5h2M132 137.5h2M134 155.5h2M139 134.5h2M143 149.5h2M136 123.5h2M139 138.5h2M145 143.5h2M131 124.5h2M135 155.5h2M145 146.5h2M137 140.5h2M140 146.5h2M143 116.5h2M133 143.5h2M138 139.5h2M136 147.5h2M146 141.5h2M146 112.5h2M142 180.5h2M130 133.5h2M134 135.5h2M142 142.5h2M130 150.5h2M135 138.5h2M131 145.5h2M137 163.5h2M134 153.5h2M136 159.5h2M133 148.5h2M131 122.5h2M145 158.5h2M138 136.5h2M145 137.5h2M142 140.5h2M132 161.5h2M138 136.5h2M134 154.5h2M139 139.5h2M132 142.5h2M143 127.5h2M141 144.5h2M134 144.5h2M142 150.5h2M142 124.5h2M134 143.5h2M146 126.5h2M136 124.5h2M139 136.5h2M142 126.5h2M134 142.5h2M138 130.5h2M132 120.5h2M130 153.5h2M133 123.5h2M141 135.5h2M141 137.5h2M132 124.5h2M139 139.5h2M138 141.5h2M146 121.5h2M140 144.5h2M130 107.5h2M141 129.5h2M135 153.5h2M145 130.5h2M144 128.5h2M139 133.5h2M135 143.5h2M146 135.5h2M135 125.5h2M135 145.5h2M140 161.5h2M132 147.5h2M144 152.5h2M142 124.5h2M133 136.5h2M142 138.5h2M143 143.5h2M131 151.5h2M141 138.5h2M140 136.5h2M144 150.5h2M134 162.5h2M130 156.5h2M133 149.5h2M144 135.5h2M143 141.5h2M135 140.5h2M135 140.5h2M137 124.5h2M131 140.5h2M130 149.5h2M142 132.5h2M145 124.5h2M133 129.5h2M133 106.5h2M146 137.5h2M134 133.5h2M136 132.5h2M134 151.5h2M138 139.5h2M131 142.5h2M144 136.5h2M134 140.5h2M136 143.5h2M146 133.5h2M142 147.5h2M134 141.5h2M144 110.5h2M130 143.5h2M143 120.5h2M139 153.5h2M139 150.5h2M138 140.5h2M136 132.5h2M140 167.5h2M145 119.5h2M134 127.5h2M137 146.5h2M131 122.5h2M136 159.5h2M144 150.5h2M145 131.5h2M146 155.5h2M146 140.5h2M135 135.5h2M144 144.5h2M139 127.5h2M145 131.5h2M138 128.5h2M135 136.5h2M146 131.5h2M131 129.5h2M140 152.5h2M133 143.5h2M136 141.5h2M137 147.5h2M132 139.5h2M131 158.5h2M144 133.5h2M143 144.5h2M136 139.5h2M133 140.5h2M145 127.5h2M140 140.5h2M131 153.5h2M140 158.5h2M135 146.5h2M137 132.5h2M143 145.5h2M146 132.5h2M133 138.5h2M139 153.5h2M139 120.5h2M134 144.5h2M137 129.5h2M134 118.5h2M136 131.5h2M138 141.5h2M145 142.5h2M145 161.5h2M138 136.5h2M139 144.5h2M144 133.5h2M144 145.5h2M132 122.5h2M138 132.5h2M135 131.5h2M141 134.5h2M143 146.5h2M132 121.5h2M134 132.5h2M145 125.5h2M137 144.5h2M131 141.5h2M139 138.5h2M145 142.5h2M131 128.5h2M141 156.5h2M133 152.5h2M143 137.5h2M137 122.5h2M131 117.5h2M139 114.5h2M140 123.5h2M134 149.5h2M133 151.5h2M136 146.5h2M133 138.5h2M141 115.5h2M135 139.5h2M142 108.5h2M145 158.5h2M133 131.5h2M138 149.5h2M140 137.5h2M141 133.5h2M143 132.5h2M134 144.5h2M140 145.5h2M135 145.5h2M141 139.5h2M132 125.5h2M136 175.5h2M137 154.5h2M144 140.5h2M132 149.5h2M136 134.5h2M135 126.5h2M132 137.5h2M133 159.5h2M146 143.5h2M130 134.5h2M143 156.5h2M138 144.5h2M137 138.5h2M142 138.5h2M144 148.5h2M144 142.5h2M133 152.5h2M146 156.5h2M146 142.5h2M130 145.5h2M132 126.5h2M142 165.5h2M133 128.5h2M132 148.5h2M131 143.5h2M130 148.5h2M146 152.5h2M137 137.5h2M139 145.5h2M145 129.5h2M146 137.5h2M146 154.5h2M135 153.5h2M141 139.5h2M131 126.5h2M133 150.5h2M146 128.5h2M143 148.5h2M135 134.5h2M143 122.5h2M135 132.5h2M137 152.5h2M138 122.5h2M132 132.5h2M133 149.5h2M133 149.5h2M145 143.5h2M143 151.5h2M134 147.5h2M142 143.5h2M136 146.5h2M135 137.5h2M138 135.5h2M132 148.5h2M138 139.5h2M146 129.5h2M140 132.5h2M134 148.5h2M131 126.5h2M143 142.5h2M131 164.5h2M136 144.5h2M142 146.5h2M133 133.5h2M143 135.5h2M130 152.5h2M139 132.5h2M133 142.5h2M145 147.5h2M135 134.5h2M135 133.5h2M146 149.5h2M130 130.5h2M140 150.5h2M135 137.5h2M132 128.5h2M145 144.5h2M145 157.5h2M133 140.5h2M136 120.5h2M145 148.5h2M146 150.5h2M139 148.5h2M141 131.5h2M138 127.5h2M142 93.5h2M142 149.5h2M143 181.5h2M142 156.5h2M130 173.5h2M146 126.5h2M140 122.5h2M135 91.5h2M144 121.5h2M146 120.5h2M138 109.5h2M149 144.5h2M161 125.5h2M159 126.5h2M150 135.5h2M152 127.5h2M147 94.5h2M158 116.5h2M149 103.5h2M152 120.5h2M149 112.5h2M154 124.5h2M149 128.5h2M150 130.5h2M152 127.5h2M149 125.5h2M148 131.5h2M151 138.5h2M149 125.5h2M154 131.5h2M161 133.5h2M157 127.5h2M149 124.5h2M160 137.5h2M158 130.5h2M159 109.5h2M152 125.5h2M156 102.5h2M153 122.5h2M159 113.5h2M153 115.5h2M150 123.5h2M153 118.5h2M153 116.5h2M157 117.5h2M149 118.5h2M148 130.5h2M161 143.5h2M157 129.5h2M160 108.5h2M153 112.5h2M155 117.5h2M155 126.5h2M158 145.5h2M156 116.5h2M150 114.5h2M159 118.5h2M158 113.5h2M160 127.5h2M153 135.5h2M153 128.5h2M149 125.5h2M150 114.5h2M155 120.5h2M153 130.5h2M160 110.5h2M159 113.5h2M160 122.5h2M158 119.5h2M158 116.5h2M156 102.5h2M150 139.5h2M150 111.5h2M155 123.5h2M156 128.5h2M149 136.5h2M156 121.5h2M160 130.5h2M149 122.5h2M160 122.5h2M154 114.5h2M157 110.5h2M155 111.5h2M150 126.5h2M154 123.5h2M149 127.5h2M147 114.5h2M156 110.5h2M153 104.5h2M160 108.5h2M158 96.5h2M151 113.5h2M156 123.5h2M153 109.5h2M150 123.5h2M155 118.5h2M149 109.5h2M156 110.5h2M159 110.5h2M160 121.5h2M160 104.5h2M155 112.5h2M152 119.5h2M152 119.5h2M150 129.5h2M148 108.5h2M158 116.5h2M157 143.5h2M149 109.5h2M156 124.5h2M149 118.5h2M147 132.5h2M159 145.5h2M149 126.5h2M159 120.5h2M152 110.5h2M153 115.5h2M156 124.5h2M153 118.5h2M157 124.5h2M151 104.5h2M147 122.5h2M160 135.5h2M155 111.5h2M158 113.5h2M161 104.5h2M155 123.5h2M151 124.5h2M153 117.5h2M160 110.5h2M150 115.5h2M152 120.5h2M156 102.5h2M160 114.5h2M156 127.5h2M160 114.5h2M159 98.5h2M147 114.5h2M157 113.5h2M158 123.5h2M152 113.5h2M149 129.5h2M155 104.5h2M155 119.5h2M150 107.5h2M161 122.5h2M155 107.5h2M150 120.5h2M156 124.5h2M159 119.5h2M153 128.5h2M151 120.5h2M151 111.5h2M153 132.5h2M149 106.5h2M149 136.5h2M156 125.5h2M149 115.5h2M148 142.5h2M157 128.5h2M152 105.5h2M158 133.5h2M156 113.5h2M156 148.5h2M156 107.5h2M154 130.5h2M153 129.5h2M157 111.5h2M150 121.5h2M158 102.5h2M150 111.5h2M153 125.5h2M152 125.5h2M151 125.5h2M154 118.5h2M148 124.5h2M159 116.5h2M151 117.5h2M156 124.5h2M148 113.5h2M151 108.5h2M156 119.5h2M160 116.5h2M159 128.5h2M152 95.5h2M149 96.5h2M157 131.5h2M149 120.5h2M154 99.5h2M156 128.5h2M158 111.5h2M155 125.5h2M149 98.5h2M150 111.5h2M151 114.5h2M147 82.5h2M153 134.5h2M150 109.5h2M147 131.5h2M149 109.5h2M157 118.5h2M149 144.5h2M158 130.5h2M156 114.5h2M149 115.5h2M153 115.5h2M154 108.5h2M148 128.5h2M153 117.5h2M158 130.5h2M153 116.5h2M159 114.5h2M150 120.5h2M152 124.5h2M160 120.5h2M159 125.5h2M152 111.5h2M160 132.5h2M152 124.5h2M158 105.5h2M161 86.5h2M156 134.5h2M150 112.5h2M154 117.5h2M158 145.5h2M148 110.5h2M158 107.5h2M149 115.5h2M153 117.5h2M152 113.5h2M154 129.5h2M149 115.5h2M157 119.5h2M148 119.5h2M158 120.5h2M160 120.5h2M154 107.5h2M158 130.5h2M154 125.5h2M149 110.5h2M149 123.5h2M155 114.5h2M155 122.5h2M150 111.5h2M157 116.5h2M155 130.5h2M158 120.5h2M152 123.5h2M160 97.5h2M158 108.5h2M148 126.5h2M151 118.5h2M158 141.5h2M156 121.5h2M156 108.5h2M152 134.5h2M159 121.5h2M154 129.5h2M151 113.5h2M149 111.5h2M149 124.5h2M151 139.5h2M153 114.5h2M150 110.5h2M156 120.5h2M151 106.5h2M151 106.5h2M150 106.5h2M160 114.5h2M159 107.5h2M158 123.5h2M155 128.5h2M149 128.5h2M157 123.5h2M148 104.5h2M153 137.5h2M158 122.5h2M150 119.5h2M149 116.5h2M160 124.5h2M160 136.5h2M158 108.5h2M153 123.5h2M149 123.5h2M158 106.5h2M154 121.5h2M149 129.5h2M157 109.5h2M161 120.5h2M152 115.5h2M151 126.5h2M151 108.5h2M154 119.5h2M159 111.5h2M154 133.5h2M160 98.5h2M152 105.5h2M150 126.5h2M149 141.5h2M151 122.5h2M157 117.5h2M153 125.5h2M159 148.5h2M150 130.5h2M148 131.5h2M160 115.5h2M148 129.5h2M154 114.5h2M157 118.5h2M154 131.5h2M159 97.5h2M153 111.5h2M153 134.5h2M153 120.5h2M148 127.5h2M156 148.5h2M151 103.5h2M150 125.5h2M159 123.5h2M152 115.5h2M157 126.5h2M150 122.5h2M160 119.5h2M153 107.5h2M150 125.5h2M160 106.5h2M159 118.5h2M156 123.5h2M151 115.5h2M150 111.5h2M160 119.5h2M150 111.5h2M152 128.5h2M157 99.5h2M152 121.5h2M159 126.5h2M160 110.5h2M160 122.5h2M159 134.5h2M150 127.5h2M159 113.5h2M152 142.5h2M152 112.5h2M147 109.5h2M151 110.5h2M160 108.5h2M150 127.5h2M157 114.5h2M160 119.5h2M151 132.5h2M153 134.5h2M158 107.5h2M157 127.5h2M159 123.5h2M154 125.5h2M149 123.5h2M152 110.5h2M148 118.5h2M151 131.5h2M150 116.5h2M149 138.5h2M154 119.5h2M159 118.5h2M158 120.5h2M148 124.5h2M159 135.5h2M155 124.5h2M156 108.5h2M154 124.5h2M158 127.5h2M154 125.5h2M153 111.5h2M161 113.5h2M150 122.5h2M159 119.5h2M148 117.5h2M160 132.5h2M149 100.5h2M154 119.5h2M157 141.5h2M151 120.5h2M152 102.5h2M161 114.5h2M159 123.5h2M157 104.5h2M159 122.5h2M150 113.5h2M153 130.5h2M159 118.5h2M151 114.5h2M161 97.5h2M155 114.5h2M159 116.5h2M150 136.5h2M154 136.5h2M154 129.5h2M157 144.5h2M159 110.5h2M154 128.5h2M148 135.5h2M152 122.5h2M159 121.5h2M155 103.5h2M150 105.5h2M151 112.5h2M154 136.5h2M153 127.5h2M150 115.5h2M150 100.5h2M147 95.5h2M148 106.5h2M158 106.5h2M147 109.5h2M153 147.5h2M161 128.5h2M157 103.5h2M149 109.5h2M161 111.5h2M147 128.5h2M148 127.5h2M154 117.5h2M157 118.5h2M157 108.5h2M159 123.5h2M155 131.5h2M157 117.5h2M150 119.5h2M152 131.5h2M151 108.5h2M155 111.5h2M157 149.5h2M159 115.5h2M158 124.5h2M150 132.5h2M159 104.5h2M155 118.5h2M151 118.5h2M149 133.5h2M148 126.5h2M154 124.5h2M158 126.5h2M161 109.5h2M150 108.5h2M153 123.5h2M152 117.5h2M150 121.5h2M157 127.5h2M152 130.5h2M157 119.5h2M152 121.5h2M161 116.5h2M151 119.5h2M147 110.5h2M155 134.5h2M150 134.5h2M148 81.5h2M156 110.5h2M157 182.5h2M158 140.5h2M158 145.5h2M150 121.5h2M160 116.5h2M150 150.5h2M157 144.5h2M158 143.5h2M167 139.5h2M165 150.5h2M172 140.5h2M163 129.5h2M167 159.5h2M176 139.5h2M170 122.5h2M167 135.5h2M170 121.5h2M166 123.5h2M164 134.5h2M166 138.5h2M169 146.5h2M176 125.5h2M173 160.5h2M167 135.5h2M164 131.5h2M168 120.5h2M174 124.5h2M162 121.5h2M174 143.5h2M174 131.5h2M166 149.5h2M174 120.5h2M163 142.5h2M165 150.5h2M167 161.5h2M164 131.5h2M164 140.5h2M162 123.5h2M176 139.5h2M175 141.5h2M174 149.5h2M176 146.5h2M176 155.5h2M175 125.5h2M168 132.5h2M174 116.5h2M171 147.5h2M175 121.5h2M175 142.5h2M167 132.5h2M169 146.5h2M175 137.5h2M176 124.5h2M163 138.5h2M170 146.5h2M171 133.5h2M174 126.5h2M172 140.5h2M164 133.5h2M163 144.5h2M165 146.5h2M168 121.5h2M163 128.5h2M171 136.5h2M174 131.5h2M174 145.5h2M174 133.5h2M175 128.5h2M163 155.5h2M163 136.5h2M164 144.5h2M163 112.5h2M171 147.5h2M175 124.5h2M175 139.5h2M175 141.5h2M165 157.5h2M167 117.5h2M173 140.5h2M164 150.5h2M171 144.5h2M162 146.5h2M176 129.5h2M165 130.5h2M173 123.5h2M162 138.5h2M167 116.5h2M165 141.5h2M163 129.5h2M162 135.5h2M163 125.5h2M166 138.5h2M172 146.5h2M169 140.5h2M165 147.5h2M168 135.5h2M176 129.5h2M169 136.5h2M176 142.5h2M163 129.5h2M175 136.5h2M168 141.5h2M173 123.5h2M175 151.5h2M172 148.5h2M163 127.5h2M172 136.5h2M175 157.5h2M169 136.5h2M170 134.5h2M171 141.5h2M165 135.5h2M173 128.5h2M176 129.5h2M163 141.5h2M165 133.5h2M171 155.5h2M166 143.5h2M173 130.5h2M173 132.5h2M175 138.5h2M168 132.5h2M163 128.5h2M170 140.5h2M174 136.5h2M163 117.5h2M169 122.5h2M175 146.5h2M162 143.5h2M162 129.5h2M171 109.5h2M174 131.5h2M169 141.5h2M169 114.5h2M166 125.5h2M172 119.5h2M171 146.5h2M171 152.5h2M172 134.5h2M166 138.5h2M170 143.5h2M168 145.5h2M164 135.5h2M175 149.5h2M172 146.5h2M174 144.5h2M162 132.5h2M165 120.5h2M162 133.5h2M172 146.5h2M163 146.5h2M162 152.5h2M170 130.5h2M168 144.5h2M167 144.5h2M170 113.5h2M172 140.5h2M169 133.5h2M162 138.5h2M164 113.5h2M168 127.5h2M163 128.5h2M168 129.5h2M175 150.5h2M163 125.5h2M167 134.5h2M165 132.5h2M172 139.5h2M166 143.5h2M165 131.5h2M165 134.5h2M174 116.5h2M169 130.5h2M170 129.5h2M163 145.5h2M169 129.5h2M163 130.5h2M176 136.5h2M163 134.5h2M165 141.5h2M169 151.5h2M171 144.5h2M173 128.5h2M167 150.5h2M172 144.5h2M172 136.5h2M173 137.5h2M169 141.5h2M169 123.5h2M167 125.5h2M174 135.5h2M165 129.5h2M168 151.5h2M170 119.5h2M170 119.5h2M162 138.5h2M172 123.5h2M174 136.5h2M163 110.5h2M165 135.5h2M171 134.5h2M171 156.5h2M164 144.5h2M168 145.5h2M173 150.5h2M163 132.5h2M169 141.5h2M168 135.5h2M166 132.5h2M162 131.5h2M165 125.5h2M174 135.5h2M165 122.5h2M162 116.5h2M169 140.5h2M166 148.5h2M173 136.5h2M165 169.5h2M166 133.5h2M164 133.5h2M167 126.5h2M170 119.5h2M166 108.5h2M167 125.5h2M163 149.5h2M176 140.5h2M176 134.5h2M167 129.5h2M165 119.5h2M162 144.5h2M169 140.5h2M173 152.5h2M173 123.5h2M162 156.5h2M166 147.5h2M169 151.5h2M171 142.5h2M173 139.5h2M171 147.5h2M171 131.5h2M168 144.5h2M169 130.5h2M173 129.5h2M163 146.5h2M176 124.5h2M164 137.5h2M168 133.5h2M167 143.5h2M167 134.5h2M176 134.5h2M174 149.5h2M173 138.5h2M162 160.5h2M163 118.5h2M167 146.5h2M173 135.5h2M174 150.5h2M167 137.5h2M174 152.5h2M162 145.5h2M171 112.5h2M176 141.5h2M174 134.5h2M170 127.5h2M168 136.5h2M171 107.5h2M164 124.5h2M175 133.5h2M166 123.5h2M171 147.5h2M169 131.5h2M163 132.5h2M168 119.5h2M168 134.5h2M167 161.5h2M165 131.5h2M174 135.5h2M173 140.5h2M169 148.5h2M162 132.5h2M168 134.5h2M171 129.5h2M165 136.5h2M172 136.5h2M165 115.5h2M163 156.5h2M163 157.5h2M170 133.5h2M169 121.5h2M174 141.5h2M164 129.5h2M164 147.5h2M163 117.5h2M174 112.5h2M166 120.5h2M174 165.5h2M171 142.5h2M173 140.5h2M167 133.5h2M172 131.5h2M169 141.5h2M165 141.5h2M168 111.5h2M165 130.5h2M165 129.5h2M162 135.5h2M169 123.5h2M169 145.5h2M163 132.5h2M163 139.5h2M174 160.5h2M173 122.5h2M171 123.5h2M166 137.5h2M175 113.5h2M167 143.5h2M165 126.5h2M169 124.5h2M165 151.5h2M164 145.5h2M174 120.5h2M166 141.5h2M175 139.5h2M163 171.5h2M173 129.5h2M171 162.5h2M173 119.5h2M166 132.5h2M167 135.5h2M166 134.5h2M165 141.5h2M162 145.5h2M170 121.5h2M176 146.5h2M171 124.5h2M176 117.5h2M168 145.5h2M169 128.5h2M166 137.5h2M166 129.5h2M168 157.5h2M162 139.5h2M164 152.5h2M162 125.5h2M165 135.5h2M165 138.5h2M167 141.5h2M172 137.5h2M165 136.5h2M173 136.5h2M175 165.5h2M174 148.5h2M166 136.5h2M164 137.5h2M163 132.5h2M163 144.5h2M163 139.5h2M164 141.5h2M174 133.5h2M174 139.5h2M164 138.5h2M174 140.5h2M168 125.5h2M174 131.5h2M175 141.5h2M172 124.5h2M165 146.5h2M162 127.5h2M167 146.5h2M164 134.5h2M176 124.5h2M167 143.5h2M166 126.5h2M169 160.5h2M172 131.5h2M175 132.5h2M175 139.5h2M172 140.5h2M164 146.5h2M169 127.5h2M166 128.5h2M162 134.5h2M170 149.5h2M169 125.5h2M174 144.5h2M167 139.5h2M162 154.5h2M169 148.5h2M171 147.5h2M175 159.5h2M167 140.5h2M166 147.5h2M167 129.5h2M175 120.5h2M171 144.5h2M163 123.5h2M164 137.5h2M166 142.5h2M172 136.5h2M170 125.5h2M171 132.5h2M167 126.5h2M169 132.5h2M169 134.5h2M169 138.5h2M176 128.5h2M172 128.5h2M164 128.5h2M167 132.5h2M163 149.5h2M162 138.5h2M166 137.5h2M168 147.5h2M166 136.5h2M169 121.5h2M172 121.5h2M163 157.5h2M163 123.5h2M174 155.5h2M175 126.5h2M166 124.5h2M174 122.5h2M171 149.5h2M167 126.5h2M176 133.5h2M175 140.5h2M167 143.5h2M173 115.5h2M172 131.5h2M168 149.5h2M174 132.5h2M173 148.5h2M163 140.5h2M172 123.5h2M172 138.5h2M171 160.5h2M167 143.5h2M162 142.5h2M166 139.5h2M163 139.5h2M163 138.5h2M166 142.5h2M163 145.5h2M167 149.5h2M172 139.5h2M166 153.5h2M168 137.5h2M176 142.5h2M166 152.5h2M163 137.5h2M163 138.5h2M167 144.5h2M167 130.5h2M167 155.5h2M175 130.5h2M168 115.5h2M167 101.5h2M163 117.5h2M172 143.5h2M164 124.5h2M176 125.5h2M169 159.5h2M164 128.5h2M166 132.5h2M175 168.5h2M171 115.5h2M172 90.5h2M171 153.5h2M176 157.5h2M162 80.5h2M169 151.5h2M163 157.5h2M174 101.5h2M187 135.5h2M187 133.5h2M178 128.5h2M183 97.5h2M181 110.5h2M179 131.5h2M186 138.5h2M184 131.5h2M182 153.5h2M179 152.5h2M187 141.5h2M186 164.5h2M177 122.5h2M179 114.5h2M181 130.5h2M180 127.5h2M183 167.5h2M182 129.5h2M187 108.5h2M187 127.5h2M183 140.5h2M186 127.5h2M179 160.5h2M180 124.5h2M179 136.5h2M181 149.5h2M184 131.5h2M179 130.5h2M184 116.5h2M188 124.5h2M181 130.5h2M179 138.5h2M178 124.5h2M183 118.5h2M177 151.5h2M180 128.5h2M183 136.5h2M188 147.5h2M177 122.5h2M185 140.5h2M185 144.5h2M189 121.5h2M178 126.5h2M186 123.5h2M184 140.5h2M185 129.5h2M187 129.5h2M185 144.5h2M185 116.5h2M180 112.5h2M181 157.5h2M188 130.5h2M189 146.5h2M185 129.5h2M182 130.5h2M179 96.5h2M180 115.5h2M189 138.5h2M188 127.5h2M186 134.5h2M185 137.5h2M188 123.5h2M185 153.5h2M179 127.5h2M179 120.5h2M183 158.5h2M177 137.5h2M189 159.5h2M184 128.5h2M189 143.5h2M183 134.5h2M179 121.5h2M183 107.5h2M178 117.5h2M189 154.5h2M182 158.5h2M186 133.5h2M178 118.5h2M189 130.5h2M184 143.5h2M181 124.5h2M184 142.5h2M181 138.5h2M179 140.5h2M186 115.5h2M185 132.5h2M179 141.5h2M185 128.5h2M187 137.5h2M179 143.5h2M185 129.5h2M189 132.5h2M181 158.5h2M184 114.5h2M186 135.5h2M187 115.5h2M188 145.5h2M183 116.5h2M179 133.5h2M185 129.5h2M189 144.5h2M181 121.5h2M185 148.5h2M188 138.5h2M179 138.5h2M179 112.5h2M187 145.5h2M179 128.5h2M183 122.5h2M179 132.5h2M186 155.5h2M183 136.5h2M181 126.5h2M185 141.5h2M182 141.5h2M179 129.5h2M184 141.5h2M181 119.5h2M186 125.5h2M188 111.5h2M183 113.5h2M178 138.5h2M178 125.5h2M186 144.5h2M182 140.5h2M178 124.5h2M186 132.5h2M188 115.5h2M182 139.5h2M184 140.5h2M184 129.5h2M177 135.5h2M182 128.5h2M182 121.5h2M179 128.5h2M184 145.5h2M182 97.5h2M180 128.5h2M188 137.5h2M187 150.5h2M183 153.5h2M184 115.5h2M180 114.5h2M181 112.5h2M186 125.5h2M180 137.5h2M182 150.5h2M189 164.5h2M189 121.5h2M188 132.5h2M187 126.5h2M187 134.5h2M188 136.5h2M179 143.5h2M181 134.5h2M181 136.5h2M188 144.5h2M177 99.5h2M187 135.5h2M177 122.5h2M179 127.5h2M188 170.5h2M177 107.5h2M177 124.5h2M178 142.5h2M188 92.5h2M178 139.5h2M183 159.5h2M188 153.5h2M178 108.5h2M184 160.5h2M182 119.5h2M188 121.5h2M178 104.5h2M177 117.5h2M181 115.5h2M187 140.5h2M184 160.5h2M179 148.5h2M187 135.5h2M185 135.5h2M182 133.5h2M178 127.5h2M178 123.5h2M179 133.5h2M183 135.5h2M182 107.5h2M181 129.5h2M182 151.5h2M186 138.5h2M184 137.5h2M177 151.5h2M182 115.5h2M178 121.5h2M181 139.5h2M182 134.5h2M178 134.5h2M179 135.5h2M179 144.5h2M179 115.5h2M180 122.5h2M186 121.5h2M188 129.5h2M184 141.5h2M178 143.5h2M181 141.5h2M183 122.5h2M177 105.5h2M188 141.5h2M183 168.5h2M178 127.5h2M187 131.5h2M183 149.5h2M180 144.5h2M188 168.5h2M182 139.5h2M182 111.5h2M187 137.5h2M188 120.5h2M181 136.5h2M187 159.5h2M180 123.5h2M187 129.5h2M178 160.5h2M182 130.5h2M188 113.5h2M188 136.5h2M177 142.5h2M184 131.5h2M186 132.5h2M177 135.5h2M177 139.5h2M182 162.5h2M180 136.5h2M180 144.5h2M180 117.5h2M189 135.5h2M182 135.5h2M186 132.5h2M184 102.5h2M181 112.5h2M179 102.5h2M188 148.5h2M184 130.5h2M183 119.5h2M180 111.5h2M184 117.5h2M188 132.5h2M186 155.5h2M188 119.5h2M182 127.5h2M186 121.5h2M186 166.5h2M189 116.5h2M187 138.5h2M189 153.5h2M189 147.5h2M182 126.5h2M185 135.5h2M182 124.5h2M188 137.5h2M177 137.5h2M182 127.5h2M180 135.5h2M178 132.5h2M177 131.5h2M184 142.5h2M188 103.5h2M182 129.5h2M187 132.5h2M180 144.5h2M182 91.5h2M186 133.5h2M182 126.5h2M185 152.5h2M189 135.5h2M188 128.5h2M178 126.5h2M180 141.5h2M182 134.5h2M180 146.5h2M184 135.5h2M178 130.5h2M179 139.5h2M187 164.5h2M183 135.5h2M178 130.5h2M179 139.5h2M181 107.5h2M188 116.5h2M187 141.5h2M186 119.5h2M179 126.5h2M182 172.5h2M188 120.5h2M186 146.5h2M189 132.5h2M183 119.5h2M184 116.5h2M185 116.5h2M189 131.5h2M182 106.5h2M181 107.5h2M179 137.5h2M180 131.5h2M183 160.5h2M184 135.5h2M185 142.5h2M182 128.5h2M189 151.5h2M181 117.5h2M188 137.5h2M184 131.5h2M178 158.5h2M181 155.5h2M179 136.5h2M188 124.5h2M182 128.5h2M180 156.5h2M189 135.5h2M179 133.5h2M189 129.5h2M182 141.5h2M177 119.5h2M188 122.5h2M188 112.5h2M189 129.5h2M182 146.5h2M178 124.5h2M179 134.5h2M177 88.5h2M179 135.5h2M179 105.5h2M182 116.5h2M182 120.5h2M184 157.5h2M181 120.5h2M189 128.5h2M182 142.5h2M188 159.5h2M187 140.5h2M183 109.5h2M187 139.5h2M185 145.5h2M181 135.5h2M183 137.5h2M189 125.5h2M182 126.5h2M187 110.5h2M186 131.5h2M182 150.5h2M189 135.5h2M179 135.5h2M177 141.5h2M184 139.5h2M183 137.5h2M177 133.5h2M185 127.5h2M181 147.5h2M188 121.5h2M187 133.5h2M183 107.5h2M178 111.5h2M181 124.5h2M178 140.5h2M182 129.5h2M188 92.5h2M188 132.5h2M184 135.5h2M189 145.5h2M182 134.5h2M187 137.5h2M187 108.5h2M177 123.5h2M181 105.5h2M177 145.5h2M177 105.5h2M184 124.5h2M183 151.5h2M188 135.5h2M185 122.5h2M179 146.5h2M182 144.5h2M188 152.5h2M183 118.5h2M179 130.5h2M183 132.5h2M187 164.5h2M177 138.5h2M189 127.5h2M189 140.5h2M183 100.5h2M189 136.5h2M177 122.5h2M184 117.5h2M182 135.5h2M185 74.5h2M187 102.5h2M178 140.5h2M182 130.5h2M181 122.5h2M189 73.5h2M199 161.5h2M193 133.5h2M199 159.5h2M194 113.5h2M199 133.5h2M201 108.5h2M198 152.5h2M197 152.5h2M197 131.5h2M191 161.5h2M197 145.5h2M195 139.5h2M195 142.5h2M196 130.5h2M193 128.5h2M195 151.5h2M201 142.5h2M202 128.5h2M202 127.5h2M198 138.5h2M191 127.5h2M192 151.5h2M197 138.5h2M201 124.5h2M190 122.5h2M202 131.5h2M198 135.5h2M202 153.5h2M197 142.5h2M190 134.5h2M196 141.5h2M196 128.5h2M201 154.5h2M190 127.5h2M197 141.5h2M195 132.5h2M192 121.5h2M200 132.5h2M200 148.5h2M195 143.5h2M192 146.5h2M197 143.5h2M201 135.5h2M198 107.5h2M192 143.5h2M193 132.5h2M195 157.5h2M191 132.5h2M192 139.5h2M195 145.5h2M198 128.5h2M196 109.5h2M192 135.5h2M192 136.5h2M194 147.5h2M193 140.5h2M195 152.5h2M198 140.5h2M193 146.5h2M201 133.5h2M192 146.5h2M197 132.5h2M195 155.5h2M198 104.5h2M193 130.5h2M201 141.5h2M199 151.5h2M190 130.5h2M192 148.5h2M200 145.5h2M193 144.5h2M199 126.5h2M197 112.5h2M198 146.5h2M202 127.5h2M194 110.5h2M191 149.5h2M196 131.5h2M190 117.5h2M195 141.5h2M194 122.5h2M193 134.5h2M200 130.5h2M194 109.5h2M200 137.5h2M200 138.5h2M201 141.5h2M197 131.5h2M195 148.5h2M201 136.5h2M200 120.5h2M200 133.5h2M197 143.5h2M191 133.5h2M195 122.5h2M201 135.5h2M201 141.5h2M190 150.5h2M191 125.5h2M200 133.5h2M202 147.5h2M191 117.5h2M196 161.5h2M197 176.5h2M198 146.5h2M201 140.5h2M194 139.5h2M200 164.5h2M201 145.5h2M195 120.5h2M197 146.5h2M192 129.5h2M203 137.5h2M193 145.5h2M196 122.5h2M195 144.5h2M192 124.5h2M195 145.5h2M193 140.5h2M202 112.5h2M190 140.5h2M194 140.5h2M202 116.5h2M195 140.5h2M197 129.5h2M197 106.5h2M202 144.5h2M198 145.5h2M194 130.5h2M203 119.5h2M191 171.5h2M194 115.5h2M190 114.5h2M193 143.5h2M197 136.5h2M193 150.5h2M192 148.5h2M203 153.5h2M202 112.5h2M202 142.5h2M190 127.5h2M191 147.5h2M196 135.5h2M199 130.5h2M195 138.5h2M199 132.5h2M195 133.5h2M199 140.5h2M200 146.5h2M201 133.5h2M193 140.5h2M200 134.5h2M194 127.5h2M195 122.5h2M191 135.5h2M195 105.5h2M190 126.5h2M200 127.5h2M200 139.5h2M190 138.5h2M194 149.5h2M200 151.5h2M191 138.5h2M190 136.5h2M192 141.5h2M195 173.5h2M193 134.5h2M193 128.5h2M200 140.5h2M196 124.5h2M193 125.5h2M192 142.5h2M196 146.5h2M191 126.5h2M199 139.5h2M202 130.5h2M197 137.5h2M198 119.5h2M201 143.5h2M193 120.5h2M191 152.5h2M199 140.5h2M200 144.5h2M200 115.5h2M192 146.5h2M198 105.5h2M201 122.5h2M197 135.5h2M202 143.5h2M191 132.5h2M191 152.5h2M202 125.5h2M196 109.5h2M199 160.5h2M201 136.5h2M196 129.5h2M194 126.5h2M195 137.5h2M192 100.5h2M202 131.5h2M200 128.5h2M194 148.5h2M191 137.5h2M202 138.5h2M191 144.5h2M196 125.5h2M199 134.5h2M202 140.5h2M193 143.5h2M195 123.5h2M197 140.5h2M202 128.5h2M197 131.5h2M197 124.5h2M195 135.5h2M194 99.5h2M196 113.5h2M195 141.5h2M193 138.5h2M197 126.5h2M201 124.5h2M203 118.5h2M197 155.5h2M193 145.5h2M199 147.5h2M195 123.5h2M191 116.5h2M195 119.5h2M192 116.5h2M198 119.5h2M197 164.5h2M203 140.5h2M194 118.5h2M194 134.5h2M203 141.5h2M201 130.5h2M202 128.5h2M197 128.5h2M202 128.5h2M191 122.5h2M202 142.5h2M197 121.5h2M199 130.5h2M190 155.5h2M196 113.5h2M196 117.5h2M200 132.5h2M200 129.5h2M202 142.5h2M192 135.5h2M193 118.5h2M193 146.5h2M197 149.5h2M191 128.5h2M202 132.5h2M201 136.5h2M196 154.5h2M192 110.5h2M199 110.5h2M202 116.5h2M192 119.5h2M191 149.5h2M202 152.5h2M192 109.5h2M199 143.5h2M195 157.5h2M191 126.5h2M198 116.5h2M197 132.5h2M200 136.5h2M202 128.5h2M196 136.5h2M195 125.5h2M196 167.5h2M199 134.5h2M194 126.5h2M200 139.5h2M198 135.5h2M190 121.5h2M195 132.5h2M194 148.5h2M195 137.5h2M194 132.5h2M197 128.5h2M200 154.5h2M195 131.5h2M196 124.5h2M200 148.5h2M196 145.5h2M200 137.5h2M197 154.5h2M201 152.5h2M197 117.5h2M194 141.5h2M194 122.5h2M194 140.5h2M201 130.5h2M199 137.5h2M201 115.5h2M191 113.5h2M194 133.5h2M202 145.5h2M192 144.5h2M198 137.5h2M201 127.5h2M196 146.5h2M200 122.5h2M194 123.5h2M202 142.5h2M193 135.5h2M202 114.5h2M201 132.5h2M202 133.5h2M201 128.5h2M191 124.5h2M198 143.5h2M192 131.5h2M194 154.5h2M202 116.5h2M199 119.5h2M197 125.5h2M196 140.5h2M201 129.5h2M196 140.5h2M193 107.5h2M191 136.5h2M197 132.5h2M192 118.5h2M201 146.5h2M200 113.5h2M198 151.5h2M200 133.5h2M201 133.5h2M197 112.5h2M202 130.5h2M196 117.5h2M195 132.5h2M192 139.5h2M191 127.5h2M191 134.5h2M199 119.5h2M198 124.5h2M190 112.5h2M194 133.5h2M191 148.5h2M202 127.5h2M191 152.5h2M198 132.5h2M191 131.5h2M196 135.5h2M197 127.5h2M190 102.5h2M192 128.5h2M197 129.5h2M192 137.5h2M198 122.5h2M193 147.5h2M194 144.5h2M202 155.5h2M202 132.5h2M203 141.5h2M202 117.5h2M198 148.5h2M202 133.5h2M196 130.5h2M190 146.5h2M192 115.5h2M196 138.5h2M197 122.5h2M191 131.5h2M202 134.5h2M201 97.5h2M193 145.5h2M203 126.5h2M202 123.5h2M201 134.5h2M191 124.5h2M201 117.5h2M195 132.5h2M198 133.5h2M198 158.5h2M200 118.5h2M194 144.5h2M191 132.5h2M193 148.5h2M196 130.5h2M190 136.5h2M196 130.5h2M193 131.5h2M194 129.5h2M202 135.5h2M193 137.5h2M201 114.5h2M198 118.5h2M193 139.5h2M201 149.5h2M196 143.5h2M201 118.5h2M199 140.5h2M194 160.5h2M193 134.5h2M199 138.5h2M202 158.5h2M201 139.5h2M203 160.5h2M198 87.5h2M193 146.5h2M197 164.5h2M194 128.5h2M198 114.5h2M211 112.5h2M210 139.5h2M205 111.5h2M205 136.5h2M207 151.5h2M214 127.5h2M207 134.5h2M204 130.5h2M206 113.5h2M209 112.5h2M212 110.5h2M210 138.5h2M214 136.5h2M214 126.5h2M206 131.5h2M215 117.5h2M212 104.5h2M207 113.5h2M210 121.5h2M215 127.5h2M214 137.5h2M208 112.5h2M207 135.5h2M213 111.5h2M212 114.5h2M207 138.5h2M204 123.5h2M208 131.5h2M204 123.5h2M210 121.5h2M205 113.5h2M212 135.5h2M215 123.5h2M206 122.5h2M213 135.5h2M211 136.5h2M204 146.5h2M214 110.5h2M210 123.5h2M215 132.5h2M214 126.5h2M211 135.5h2M205 129.5h2M205 128.5h2M207 131.5h2M209 113.5h2M210 132.5h2M215 137.5h2M216 132.5h2M207 137.5h2M211 134.5h2M210 135.5h2M212 147.5h2M211 138.5h2M213 141.5h2M214 125.5h2M214 132.5h2M212 129.5h2M207 142.5h2M206 138.5h2M212 119.5h2M206 145.5h2M211 130.5h2M215 119.5h2M206 150.5h2M209 128.5h2M206 111.5h2M210 124.5h2M213 123.5h2M215 124.5h2M204 132.5h2M211 130.5h2M208 145.5h2M212 113.5h2M207 128.5h2M205 131.5h2M206 138.5h2M214 143.5h2M212 124.5h2M204 123.5h2M205 125.5h2M209 136.5h2M204 117.5h2M210 121.5h2M215 114.5h2M216 131.5h2M216 125.5h2M214 128.5h2M213 127.5h2M207 131.5h2M210 124.5h2M210 99.5h2M206 132.5h2M210 137.5h2M204 114.5h2M214 137.5h2M215 145.5h2M208 123.5h2M214 132.5h2M214 121.5h2M208 104.5h2M205 128.5h2M208 114.5h2M213 114.5h2M212 125.5h2M206 126.5h2M205 123.5h2M207 120.5h2M212 119.5h2M205 130.5h2M210 113.5h2M208 114.5h2M205 154.5h2M216 123.5h2M213 134.5h2M208 135.5h2M208 134.5h2M208 119.5h2M204 137.5h2M204 150.5h2M209 119.5h2M207 126.5h2M208 131.5h2M214 134.5h2M209 125.5h2M206 118.5h2M209 121.5h2M212 128.5h2M214 123.5h2M215 128.5h2M206 110.5h2M215 116.5h2M206 119.5h2M212 123.5h2M215 149.5h2M212 124.5h2M212 105.5h2M206 126.5h2M214 120.5h2M207 146.5h2M213 122.5h2M215 130.5h2M214 148.5h2M214 132.5h2M214 109.5h2M209 137.5h2M213 125.5h2M213 129.5h2M215 133.5h2M212 123.5h2M210 144.5h2M212 106.5h2M214 132.5h2M205 129.5h2M204 114.5h2M208 132.5h2M206 117.5h2M210 131.5h2M207 130.5h2M204 109.5h2M213 132.5h2M212 146.5h2M208 95.5h2M211 123.5h2M212 121.5h2M209 130.5h2M216 136.5h2M209 117.5h2M207 114.5h2M206 128.5h2M208 126.5h2M215 111.5h2M210 126.5h2M211 139.5h2M207 141.5h2M212 131.5h2M213 126.5h2M204 137.5h2M214 138.5h2M212 134.5h2M206 145.5h2M209 137.5h2M206 124.5h2M207 130.5h2M207 148.5h2M204 144.5h2M211 130.5h2M210 131.5h2M215 143.5h2M216 126.5h2M208 143.5h2M210 126.5h2M214 132.5h2M207 134.5h2M207 127.5h2M205 121.5h2M209 122.5h2M211 132.5h2M208 124.5h2M208 114.5h2M204 124.5h2M212 146.5h2M209 142.5h2M208 116.5h2M210 133.5h2M210 123.5h2M213 139.5h2M210 129.5h2M209 110.5h2M211 128.5h2M213 118.5h2M214 124.5h2M207 129.5h2M212 138.5h2M212 117.5h2M211 113.5h2M214 137.5h2M215 136.5h2M211 116.5h2M208 120.5h2M216 113.5h2M209 118.5h2M210 136.5h2M205 123.5h2M211 117.5h2M213 148.5h2M215 138.5h2M215 124.5h2M213 142.5h2M204 144.5h2M214 143.5h2M215 118.5h2M211 119.5h2M215 124.5h2M215 132.5h2M204 124.5h2M214 118.5h2M214 135.5h2M210 135.5h2M204 133.5h2M208 117.5h2M208 139.5h2M215 144.5h2M214 142.5h2M205 140.5h2M208 128.5h2M205 112.5h2M205 107.5h2M210 117.5h2M208 127.5h2M210 142.5h2M211 114.5h2M213 126.5h2M208 117.5h2M209 135.5h2M212 117.5h2M210 134.5h2M216 132.5h2M213 136.5h2M213 140.5h2M212 128.5h2M204 130.5h2M214 120.5h2M215 113.5h2M211 125.5h2M212 130.5h2M209 147.5h2M214 125.5h2M214 117.5h2M209 125.5h2M205 128.5h2M205 113.5h2M204 117.5h2M216 123.5h2M210 124.5h2M208 122.5h2M216 151.5h2M214 140.5h2M205 120.5h2M204 137.5h2M214 137.5h2M213 129.5h2M204 138.5h2M207 123.5h2M205 123.5h2M208 127.5h2M209 125.5h2M208 131.5h2M212 130.5h2M208 112.5h2M206 134.5h2M207 121.5h2M214 153.5h2M209 138.5h2M211 139.5h2M215 124.5h2M204 116.5h2M207 127.5h2M213 142.5h2M215 137.5h2M211 130.5h2M213 127.5h2M205 120.5h2M214 116.5h2M204 134.5h2M214 118.5h2M204 140.5h2M213 125.5h2M208 133.5h2M216 126.5h2M204 126.5h2M214 117.5h2M215 128.5h2M215 130.5h2M208 126.5h2M215 128.5h2M214 120.5h2M215 144.5h2M204 122.5h2M204 135.5h2M208 121.5h2M213 119.5h2M208 122.5h2M208 132.5h2M209 126.5h2M209 137.5h2M213 116.5h2M209 125.5h2M216 134.5h2M205 128.5h2M207 124.5h2M207 143.5h2M210 123.5h2M216 140.5h2M211 138.5h2M210 125.5h2M205 137.5h2M204 116.5h2M205 109.5h2M209 116.5h2M206 114.5h2M208 102.5h2M206 137.5h2M214 129.5h2M211 119.5h2M208 135.5h2M205 132.5h2M212 128.5h2M208 123.5h2M214 109.5h2M204 114.5h2M211 134.5h2M213 125.5h2M207 129.5h2M210 116.5h2M212 106.5h2M209 124.5h2M206 116.5h2M208 136.5h2M211 130.5h2M214 127.5h2M209 132.5h2M204 140.5h2M205 119.5h2M207 130.5h2M205 118.5h2M213 129.5h2M215 128.5h2M210 122.5h2M205 121.5h2M204 140.5h2M205 136.5h2M216 127.5h2M204 127.5h2M213 133.5h2M206 144.5h2M213 142.5h2M209 117.5h2M212 103.5h2M214 134.5h2M204 142.5h2M215 142.5h2M212 125.5h2M206 138.5h2M216 117.5h2M216 132.5h2M204 137.5h2M213 138.5h2M205 131.5h2M211 128.5h2M208 132.5h2M205 124.5h2M214 121.5h2M204 143.5h2M215 150.5h2M215 153.5h2M213 147.5h2M210 75.5h2M204 165.5h2M211 188.5h2M215 137.5h2M214 107.5h2M223 136.5h2M223 123.5h2M226 138.5h2M219 130.5h2M222 140.5h2M222 124.5h2M228 124.5h2M224 132.5h2M224 169.5h2M227 132.5h2M222 142.5h2M224 124.5h2M219 156.5h2M223 122.5h2M226 108.5h2M222 135.5h2M220 116.5h2M217 141.5h2M223 125.5h2M220 155.5h2M218 129.5h2M223 140.5h2M221 139.5h2M227 140.5h2M218 131.5h2M220 130.5h2M221 133.5h2M221 116.5h2M221 132.5h2M221 146.5h2M219 136.5h2M219 116.5h2M222 134.5h2M223 126.5h2M219 127.5h2M225 122.5h2M225 126.5h2M218 131.5h2M221 133.5h2M225 113.5h2M217 132.5h2M224 121.5h2M224 127.5h2M219 116.5h2M217 120.5h2M217 130.5h2M227 145.5h2M224 138.5h2M225 123.5h2M228 134.5h2M221 126.5h2M219 142.5h2M218 118.5h2M224 130.5h2M227 114.5h2M227 142.5h2M225 122.5h2M224 136.5h2M226 140.5h2M221 130.5h2M226 142.5h2M221 147.5h2M225 136.5h2M226 129.5h2M218 129.5h2M222 155.5h2M223 131.5h2M219 133.5h2M217 116.5h2M217 129.5h2M226 108.5h2M220 136.5h2M222 137.5h2M228 122.5h2M218 144.5h2M218 121.5h2M220 135.5h2M225 134.5h2M221 140.5h2M225 128.5h2M228 137.5h2M223 126.5h2M217 140.5h2M224 150.5h2M225 139.5h2M220 131.5h2M222 123.5h2M225 137.5h2M223 143.5h2M226 142.5h2M225 131.5h2M218 120.5h2M221 135.5h2M223 130.5h2M224 138.5h2M221 148.5h2M227 112.5h2M220 126.5h2M221 138.5h2M219 132.5h2M228 136.5h2M225 132.5h2M222 152.5h2M223 121.5h2M218 115.5h2M226 130.5h2M222 134.5h2M225 122.5h2M218 146.5h2M225 131.5h2M219 130.5h2M218 141.5h2M225 120.5h2M218 146.5h2M217 152.5h2M219 122.5h2M223 123.5h2M224 135.5h2M223 122.5h2M218 150.5h2M217 118.5h2M220 143.5h2M218 140.5h2M223 128.5h2M217 136.5h2M219 127.5h2M221 129.5h2M221 102.5h2M227 130.5h2M224 137.5h2M224 131.5h2M226 159.5h2M225 135.5h2M228 133.5h2M225 139.5h2M218 123.5h2M218 127.5h2M219 137.5h2M218 128.5h2M221 135.5h2M225 145.5h2M228 128.5h2M220 124.5h2M222 128.5h2M222 146.5h2M227 135.5h2M228 117.5h2M227 129.5h2M227 154.5h2M226 135.5h2M228 130.5h2M224 139.5h2M227 149.5h2M224 148.5h2M224 127.5h2M227 152.5h2M223 128.5h2M225 132.5h2M218 139.5h2M221 135.5h2M226 116.5h2M220 123.5h2M218 153.5h2M227 136.5h2M226 123.5h2M228 115.5h2M218 123.5h2M228 147.5h2M226 136.5h2M225 133.5h2M219 147.5h2M220 132.5h2M219 111.5h2M226 121.5h2M221 126.5h2M224 127.5h2M228 129.5h2M227 123.5h2M227 120.5h2M224 128.5h2M218 121.5h2M228 149.5h2M225 126.5h2M218 135.5h2M220 112.5h2M221 144.5h2M228 136.5h2M226 106.5h2M224 135.5h2M219 116.5h2M224 145.5h2M219 136.5h2M223 148.5h2M219 133.5h2M227 138.5h2M226 138.5h2M217 115.5h2M218 128.5h2M226 117.5h2M226 118.5h2M228 139.5h2M217 122.5h2M223 123.5h2M224 127.5h2M225 135.5h2M228 110.5h2M227 135.5h2M223 139.5h2M221 124.5h2M222 126.5h2M218 133.5h2M224 135.5h2M221 145.5h2M222 116.5h2M217 151.5h2M218 138.5h2M224 132.5h2M221 138.5h2M221 129.5h2M228 121.5h2M223 132.5h2M228 138.5h2M227 122.5h2M228 126.5h2M227 141.5h2M221 141.5h2M225 136.5h2M219 127.5h2M222 130.5h2M224 145.5h2M219 139.5h2M222 131.5h2M222 130.5h2M223 146.5h2M227 131.5h2M227 141.5h2M218 122.5h2M220 136.5h2M222 134.5h2M225 127.5h2M219 114.5h2M218 145.5h2M220 135.5h2M225 132.5h2M220 122.5h2M223 147.5h2M225 114.5h2M225 131.5h2M225 130.5h2M217 140.5h2M220 133.5h2M226 130.5h2M228 125.5h2M217 112.5h2M218 128.5h2M224 130.5h2M217 146.5h2M225 122.5h2M218 126.5h2M218 124.5h2M221 140.5h2M220 123.5h2M225 134.5h2M221 138.5h2M217 133.5h2M221 123.5h2M223 134.5h2M225 118.5h2M227 136.5h2M217 132.5h2M223 137.5h2M226 117.5h2M221 121.5h2M228 124.5h2M218 112.5h2M219 130.5h2M225 124.5h2M223 144.5h2M223 130.5h2M221 138.5h2M218 127.5h2M228 142.5h2M219 130.5h2M221 134.5h2M224 144.5h2M222 122.5h2M225 128.5h2M221 130.5h2M223 144.5h2M224 143.5h2M223 132.5h2M219 135.5h2M222 113.5h2M219 140.5h2M219 140.5h2M227 109.5h2M227 143.5h2M223 147.5h2M221 142.5h2M228 121.5h2M222 119.5h2M217 141.5h2M219 140.5h2M217 138.5h2M225 122.5h2M228 130.5h2M221 121.5h2M220 129.5h2M218 135.5h2M220 121.5h2M218 149.5h2M227 132.5h2M223 134.5h2M220 135.5h2M219 147.5h2M219 135.5h2M227 112.5h2M220 122.5h2M220 140.5h2M220 126.5h2M223 132.5h2M221 143.5h2M217 131.5h2M223 115.5h2M224 116.5h2M219 128.5h2M225 140.5h2M223 114.5h2M226 141.5h2M221 136.5h2M221 138.5h2M221 133.5h2M223 135.5h2M222 105.5h2M228 123.5h2M221 122.5h2M220 146.5h2M219 126.5h2M223 127.5h2M225 132.5h2M222 133.5h2M218 130.5h2M218 128.5h2M225 147.5h2M217 127.5h2M220 126.5h2M221 148.5h2M227 128.5h2M221 130.5h2M219 133.5h2M225 128.5h2M220 136.5h2M217 128.5h2M225 135.5h2M226 137.5h2M227 139.5h2M225 113.5h2M221 138.5h2M227 127.5h2M227 141.5h2M228 127.5h2M223 127.5h2M224 137.5h2M227 129.5h2M217 127.5h2M228 130.5h2M226 127.5h2M226 138.5h2M227 133.5h2M224 139.5h2M219 127.5h2M225 130.5h2M221 121.5h2M221 119.5h2M217 109.5h2M224 154.5h2M218 130.5h2M219 140.5h2M217 80.5h2M219 122.5h2M225 111.5h2M226 151.5h2M227 132.5h2M232 130.5h2M230 134.5h2M233 153.5h2M238 140.5h2M233 136.5h2M234 134.5h2M238 128.5h2M232 132.5h2M236 145.5h2M239 129.5h2M233 145.5h2M236 138.5h2M235 136.5h2M239 128.5h2M236 149.5h2M231 123.5h2M229 129.5h2M236 137.5h2M235 158.5h2M238 129.5h2M236 138.5h2M238 140.5h2M231 127.5h2M236 141.5h2M237 153.5h2M237 132.5h2M230 137.5h2M237 142.5h2M236 150.5h2M233 133.5h2M235 155.5h2M235 129.5h2M231 150.5h2M238 138.5h2M239 133.5h2M230 140.5h2M237 144.5h2M233 120.5h2M236 133.5h2M235 120.5h2M239 139.5h2M235 126.5h2M239 107.5h2M230 127.5h2M233 141.5h2M232 138.5h2M237 142.5h2M238 141.5h2M234 118.5h2M233 161.5h2M232 145.5h2M234 119.5h2M236 130.5h2M230 146.5h2M238 151.5h2M237 145.5h2M240 142.5h2M229 154.5h2M239 138.5h2M231 114.5h2M238 131.5h2M232 135.5h2M236 144.5h2M239 141.5h2M240 125.5h2M238 117.5h2M231 128.5h2M231 134.5h2M239 118.5h2M239 146.5h2M232 153.5h2M235 143.5h2M233 145.5h2M229 139.5h2M235 143.5h2M231 137.5h2M231 106.5h2M238 121.5h2M229 156.5h2M235 137.5h2M232 134.5h2M238 137.5h2M233 122.5h2M237 143.5h2M239 144.5h2M237 113.5h2M237 131.5h2M237 138.5h2M237 153.5h2M238 144.5h2M239 130.5h2M235 129.5h2M233 149.5h2M234 143.5h2M234 139.5h2M231 129.5h2M234 134.5h2M240 139.5h2M235 163.5h2M235 126.5h2M232 146.5h2M232 141.5h2M233 114.5h2M238 132.5h2M236 114.5h2M239 138.5h2M237 132.5h2M232 132.5h2M238 133.5h2M237 128.5h2M230 151.5h2M238 142.5h2M234 144.5h2M231 137.5h2M232 111.5h2M235 156.5h2M231 141.5h2M239 113.5h2M231 136.5h2M236 115.5h2M229 167.5h2M229 146.5h2M235 130.5h2M232 136.5h2M229 116.5h2M232 137.5h2M232 149.5h2M237 138.5h2M232 138.5h2M236 137.5h2M230 152.5h2M238 151.5h2M237 102.5h2M231 137.5h2M233 102.5h2M235 147.5h2M234 137.5h2M235 133.5h2M239 149.5h2M234 134.5h2M234 129.5h2M232 140.5h2M229 146.5h2M233 151.5h2M230 139.5h2M229 154.5h2M233 127.5h2M233 139.5h2M229 137.5h2M230 128.5h2M236 139.5h2M236 135.5h2M232 120.5h2M236 128.5h2M237 157.5h2M235 153.5h2M232 131.5h2M231 151.5h2M230 111.5h2M231 142.5h2M234 114.5h2M238 136.5h2M232 140.5h2M230 140.5h2M231 136.5h2M232 122.5h2M238 128.5h2M239 135.5h2M238 138.5h2M232 129.5h2M230 134.5h2M233 123.5h2M229 128.5h2M233 144.5h2M238 128.5h2M231 145.5h2M230 133.5h2M238 154.5h2M236 130.5h2M234 120.5h2M237 133.5h2M236 131.5h2M237 131.5h2M238 142.5h2M236 101.5h2M235 120.5h2M235 132.5h2M237 116.5h2M233 129.5h2M236 122.5h2M232 126.5h2M238 141.5h2M231 160.5h2M231 159.5h2M234 142.5h2M239 131.5h2M236 116.5h2M236 132.5h2M236 135.5h2M232 152.5h2M237 136.5h2M233 126.5h2M237 129.5h2M233 143.5h2M237 143.5h2M235 135.5h2M233 140.5h2M239 145.5h2M237 143.5h2M229 137.5h2M234 141.5h2M231 137.5h2M236 142.5h2M232 147.5h2M229 125.5h2M232 145.5h2M235 108.5h2M233 141.5h2M238 139.5h2M239 135.5h2M235 136.5h2M235 151.5h2M233 137.5h2M233 133.5h2M236 130.5h2M237 144.5h2M234 126.5h2M230 131.5h2M231 135.5h2M232 139.5h2M236 126.5h2M231 136.5h2M230 137.5h2M233 139.5h2M236 134.5h2M236 137.5h2M238 142.5h2M230 139.5h2M234 148.5h2M232 150.5h2M237 114.5h2M232 149.5h2M238 130.5h2M238 131.5h2M229 136.5h2M237 134.5h2M230 140.5h2M238 142.5h2M234 123.5h2M237 137.5h2M232 137.5h2M233 164.5h2M232 118.5h2M231 136.5h2M232 134.5h2M229 131.5h2M232 144.5h2M235 144.5h2M229 131.5h2M238 128.5h2M230 150.5h2M239 140.5h2M237 145.5h2M239 137.5h2M230 136.5h2M231 120.5h2M230 143.5h2M236 121.5h2M239 138.5h2M239 142.5h2M231 144.5h2M233 157.5h2M231 123.5h2M231 132.5h2M239 142.5h2M236 141.5h2M230 129.5h2M236 139.5h2M230 139.5h2M237 163.5h2M235 135.5h2M234 130.5h2M236 149.5h2M231 145.5h2M232 112.5h2M239 111.5h2M238 158.5h2M232 143.5h2M237 145.5h2M231 154.5h2M238 136.5h2M236 136.5h2M236 142.5h2M237 121.5h2M232 145.5h2M231 132.5h2M238 141.5h2M238 138.5h2M234 124.5h2M235 134.5h2M231 120.5h2M231 127.5h2M231 148.5h2M231 146.5h2M231 159.5h2M232 135.5h2M239 124.5h2M231 140.5h2M232 140.5h2M230 137.5h2M238 127.5h2M239 130.5h2M239 138.5h2M232 149.5h2M232 131.5h2M232 132.5h2M235 144.5h2M232 128.5h2M235 124.5h2M235 140.5h2M235 142.5h2M232 133.5h2M230 140.5h2M236 135.5h2M236 131.5h2M235 139.5h2M233 132.5h2M230 133.5h2M236 150.5h2M235 131.5h2M239 133.5h2M237 161.5h2M229 142.5h2M231 97.5h2M238 111.5h2M235 114.5h2M239 145.5h2M234 160.5h2M232 153.5h2M249 130.5h2M246 121.5h2M246 124.5h2M249 135.5h2M243 146.5h2M242 119.5h2M247 138.5h2M241 126.5h2M241 143.5h2M246 144.5h2M241 129.5h2M246 125.5h2M245 146.5h2M244 138.5h2M241 130.5h2M242 138.5h2M250 124.5h2M242 131.5h2M241 140.5h2M245 132.5h2M249 131.5h2M244 125.5h2M245 114.5h2M244 128.5h2M242 123.5h2M246 136.5h2M242 124.5h2M243 116.5h2M244 121.5h2M242 128.5h2M241 134.5h2M245 123.5h2M247 115.5h2M247 140.5h2M244 130.5h2M247 127.5h2M246 130.5h2M241 128.5h2M246 123.5h2M245 144.5h2M249 112.5h2M245 137.5h2M243 117.5h2M247 139.5h2M241 150.5h2M249 132.5h2M241 140.5h2M245 110.5h2M242 135.5h2M249 125.5h2M241 137.5h2M240 142.5h2M248 131.5h2M249 144.5h2M243 129.5h2M248 118.5h2M241 139.5h2M245 129.5h2M246 128.5h2M247 146.5h2M247 133.5h2M243 133.5h2M250 144.5h2M242 130.5h2M246 127.5h2M243 144.5h2M243 120.5h2M244 130.5h2M244 122.5h2M244 120.5h2M246 131.5h2M244 137.5h2M244 119.5h2M244 136.5h2M240 120.5h2M246 124.5h2M240 144.5h2M244 134.5h2M245 132.5h2M241 140.5h2M245 131.5h2M246 115.5h2M249 117.5h2M245 136.5h2M244 132.5h2M242 144.5h2M244 129.5h2M244 128.5h2M246 133.5h2M243 131.5h2M247 136.5h2M245 130.5h2M245 127.5h2M244 122.5h2M242 123.5h2M250 139.5h2M243 126.5h2M244 125.5h2M244 140.5h2M244 132.5h2M245 130.5h2M240 138.5h2M243 115.5h2M248 140.5h2M250 143.5h2M242 140.5h2M246 146.5h2M247 133.5h2M244 107.5h2M246 120.5h2M245 127.5h2M246 121.5h2M248 112.5h2M245 138.5h2M243 133.5h2M244 136.5h2M248 136.5h2M242 115.5h2M244 117.5h2M243 146.5h2M247 134.5h2M248 146.5h2M241 144.5h2M248 118.5h2M245 132.5h2M249 121.5h2M245 142.5h2M245 146.5h2M248 127.5h2M241 133.5h2M249 132.5h2M241 128.5h2M248 131.5h2M241 128.5h2M247 145.5h2M241 113.5h2M248 114.5h2M245 142.5h2M249 128.5h2M246 119.5h2M249 123.5h2M245 126.5h2M243 119.5h2M244 133.5h2M247 130.5h2M242 127.5h2M244 119.5h2M248 135.5h2M242 130.5h2M243 132.5h2M242 150.5h2M249 132.5h2M245 133.5h2M243 138.5h2M241 124.5h2M243 116.5h2M244 128.5h2M248 129.5h2M242 122.5h2M249 142.5h2M247 124.5h2M242 123.5h2M246 135.5h2M244 129.5h2M248 138.5h2M241 136.5h2M247 115.5h2M246 134.5h2M244 144.5h2M244 132.5h2M247 135.5h2M248 137.5h2M250 129.5h2M241 109.5h2M244 109.5h2M247 138.5h2M241 140.5h2M243 131.5h2M245 124.5h2M240 136.5h2M245 108.5h2M242 126.5h2M246 140.5h2M248 132.5h2M246 131.5h2M243 121.5h2M247 143.5h2M242 124.5h2M242 121.5h2M242 132.5h2M245 131.5h2M242 121.5h2M241 129.5h2M245 151.5h2M247 138.5h2M250 128.5h2M241 140.5h2M247 130.5h2M246 125.5h2M247 121.5h2M249 127.5h2M246 110.5h2M250 135.5h2M246 120.5h2M249 117.5h2M248 120.5h2M246 125.5h2M244 122.5h2M248 134.5h2M245 121.5h2M248 129.5h2M245 139.5h2M241 113.5h2M247 138.5h2M242 136.5h2M241 145.5h2M243 116.5h2M245 127.5h2M248 138.5h2M243 130.5h2M246 122.5h2M244 141.5h2M245 126.5h2M246 151.5h2M245 131.5h2M248 129.5h2M248 120.5h2M249 133.5h2M242 106.5h2M241 136.5h2M248 103.5h2M249 133.5h2M249 127.5h2M244 133.5h2M244 124.5h2M246 125.5h2M249 138.5h2M247 133.5h2M243 129.5h2M250 153.5h2M242 127.5h2M245 139.5h2M244 130.5h2M248 137.5h2M244 126.5h2M241 123.5h2M246 116.5h2M248 101.5h2M246 136.5h2M241 127.5h2M244 133.5h2M241 139.5h2M248 143.5h2M244 138.5h2M243 123.5h2M245 133.5h2M250 126.5h2M241 128.5h2M249 137.5h2M245 114.5h2M250 130.5h2M242 115.5h2M245 131.5h2M249 126.5h2M241 115.5h2M244 134.5h2M245 131.5h2M249 154.5h2M241 124.5h2M249 138.5h2M244 129.5h2M245 130.5h2M242 137.5h2M248 112.5h2M250 133.5h2M246 121.5h2M241 128.5h2M241 138.5h2M241 130.5h2M241 130.5h2M248 113.5h2M245 160.5h2M245 112.5h2M240 141.5h2M246 128.5h2M244 132.5h2M241 116.5h2M243 128.5h2M249 120.5h2M241 135.5h2M245 124.5h2M247 121.5h2M248 148.5h2M249 134.5h2M241 141.5h2M243 123.5h2M246 117.5h2M245 129.5h2M240 129.5h2M248 124.5h2M244 132.5h2M245 123.5h2M241 114.5h2M246 123.5h2M249 136.5h2M246 129.5h2M247 118.5h2M244 123.5h2M241 127.5h2M240 124.5h2M241 158.5h2M249 112.5h2M248 118.5h2M242 101.5h2M248 91.5h2M257 100.5h2M251 112.5h2M251 126.5h2M256 141.5h2M256 134.5h2M255 127.5h2M258 123.5h2M254 131.5h2M252 141.5h2M252 130.5h2M254 143.5h2M256 117.5h2M259 116.5h2M257 123.5h2M254 132.5h2M255 146.5h2M253 134.5h2M257 118.5h2M251 119.5h2M252 134.5h2M254 121.5h2M259 120.5h2M256 133.5h2M258 139.5h2M253 139.5h2M251 124.5h2M255 113.5h2M252 116.5h2M255 126.5h2M253 123.5h2M258 135.5h2M259 129.5h2M253 113.5h2M257 114.5h2M258 124.5h2M257 105.5h2M254 143.5h2M253 116.5h2M251 149.5h2M257 98.5h2M257 154.5h2M256 107.5h2M259 115.5h2M258 127.5h2M258 143.5h2M258 127.5h2M259 131.5h2M253 121.5h2M258 122.5h2M259 129.5h2M252 143.5h2M253 133.5h2M259 121.5h2M259 146.5h2M251 140.5h2M259 149.5h2M254 147.5h2M256 122.5h2M252 131.5h2M252 116.5h2M252 132.5h2M251 145.5h2M252 134.5h2M258 107.5h2M256 124.5h2M258 124.5h2M258 116.5h2M251 121.5h2M251 112.5h2M254 154.5h2M259 140.5h2M255 126.5h2M258 119.5h2M253 116.5h2M252 115.5h2M257 124.5h2M252 122.5h2M257 132.5h2M256 128.5h2M251 138.5h2M251 151.5h2M255 124.5h2M258 155.5h2M252 156.5h2M256 115.5h2M252 124.5h2M255 152.5h2M256 128.5h2M259 130.5h2M253 134.5h2M253 110.5h2M257 114.5h2M257 119.5h2M252 117.5h2M256 134.5h2M255 137.5h2M252 112.5h2M253 133.5h2M259 126.5h2M252 130.5h2M252 110.5h2M252 117.5h2M253 147.5h2M257 111.5h2M256 152.5h2M252 128.5h2M255 140.5h2M258 128.5h2M257 127.5h2M251 124.5h2M256 135.5h2M252 115.5h2M259 122.5h2M258 126.5h2M256 124.5h2M253 118.5h2M254 121.5h2M254 114.5h2M252 120.5h2M251 144.5h2M252 138.5h2M254 121.5h2M251 122.5h2M251 129.5h2M255 112.5h2M254 132.5h2M253 148.5h2M252 111.5h2M259 124.5h2M255 103.5h2M253 145.5h2M253 115.5h2M253 136.5h2M259 142.5h2M254 104.5h2M254 129.5h2M253 118.5h2M253 131.5h2M256 139.5h2M251 130.5h2M253 121.5h2M251 131.5h2M256 137.5h2M254 129.5h2M252 115.5h2M258 125.5h2M252 124.5h2M256 132.5h2M253 118.5h2M253 117.5h2M259 137.5h2M257 101.5h2M253 118.5h2M257 140.5h2M255 145.5h2M251 124.5h2M258 108.5h2M257 103.5h2M255 123.5h2M255 131.5h2M258 119.5h2M259 137.5h2M252 136.5h2M256 133.5h2M256 143.5h2M259 117.5h2M251 141.5h2M254 149.5h2M258 139.5h2M252 135.5h2M253 134.5h2M256 140.5h2M259 140.5h2M251 106.5h2M253 108.5h2M259 125.5h2M251 120.5h2M257 119.5h2M254 139.5h2M259 135.5h2M252 163.5h2M255 119.5h2M252 141.5h2M252 123.5h2M252 113.5h2M258 148.5h2M252 127.5h2M258 120.5h2M253 136.5h2M252 125.5h2M251 114.5h2M257 157.5h2M256 103.5h2M254 148.5h2M258 140.5h2M254 145.5h2M257 133.5h2M257 134.5h2M251 128.5h2M258 152.5h2M257 132.5h2M253 168.5h2M257 130.5h2M253 125.5h2M255 143.5h2M253 125.5h2M259 136.5h2M258 129.5h2M257 116.5h2M253 128.5h2M253 130.5h2M251 132.5h2M253 140.5h2M252 142.5h2M254 128.5h2M255 137.5h2M257 129.5h2M253 143.5h2M254 133.5h2M254 138.5h2M254 131.5h2M258 117.5h2M252 121.5h2M252 122.5h2M256 124.5h2M257 144.5h2M253 105.5h2M259 113.5h2M251 121.5h2M258 112.5h2M258 159.5h2M255 142.5h2M258 138.5h2M251 125.5h2M251 137.5h2M253 120.5h2M252 136.5h2M252 148.5h2M256 129.5h2M253 122.5h2M254 114.5h2M256 135.5h2M257 115.5h2M255 131.5h2M255 150.5h2M253 138.5h2M259 123.5h2M259 126.5h2M259 130.5h2M259 130.5h2M258 115.5h2M258 136.5h2M251 134.5h2M257 134.5h2M252 140.5h2M253 126.5h2M259 122.5h2M256 133.5h2M255 125.5h2M255 123.5h2M252 134.5h2M258 138.5h2M253 140.5h2M254 136.5h2M257 127.5h2M255 113.5h2M255 121.5h2M251 133.5h2M253 128.5h2M254 126.5h2M259 122.5h2M255 135.5h2M251 139.5h2M256 144.5h2M254 123.5h2M251 135.5h2M255 130.5h2M257 121.5h2M258 137.5h2M259 127.5h2M251 110.5h2M255 125.5h2M253 127.5h2M252 126.5h2M258 122.5h2M258 142.5h2M255 99.5h2M255 134.5h2M255 92.5h2M252 152.5h2M259 150.5h2M258 139.5h2M257 184.5h2M258 128.5h2M263 126.5h2M260 116.5h2M263 110.5h2M268 130.5h2M269 114.5h2M268 125.5h2M262 131.5h2M265 128.5h2M263 131.5h2M265 131.5h2M268 143.5h2M261 118.5h2M261 122.5h2M264 126.5h2M264 140.5h2M268 115.5h2M263 127.5h2M266 133.5h2M260 130.5h2M264 127.5h2M262 117.5h2M262 116.5h2M261 115.5h2M267 121.5h2M262 120.5h2M261 135.5h2M262 117.5h2M268 118.5h2M264 122.5h2M268 127.5h2M268 144.5h2M265 132.5h2M263 121.5h2M265 127.5h2M265 122.5h2M261 118.5h2M267 114.5h2M267 125.5h2M263 137.5h2M268 119.5h2M264 121.5h2M267 128.5h2M268 112.5h2M264 116.5h2M269 140.5h2M267 134.5h2M261 122.5h2M267 114.5h2M262 129.5h2M265 131.5h2M264 132.5h2M263 121.5h2M263 117.5h2M267 137.5h2M261 129.5h2M264 130.5h2M262 116.5h2M268 125.5h2M264 127.5h2M268 125.5h2M268 118.5h2M263 115.5h2M265 142.5h2M265 128.5h2M268 114.5h2M268 107.5h2M264 130.5h2M261 136.5h2M261 109.5h2M267 123.5h2M268 138.5h2M261 116.5h2M264 122.5h2M264 134.5h2M263 124.5h2M265 124.5h2M267 127.5h2M266 127.5h2M266 110.5h2M267 132.5h2M262 119.5h2M266 118.5h2M262 110.5h2M267 113.5h2M261 124.5h2M266 127.5h2M267 122.5h2M261 124.5h2M267 117.5h2M262 121.5h2M263 107.5h2M263 113.5h2M261 124.5h2M263 121.5h2M268 127.5h2M266 123.5h2M263 113.5h2M262 129.5h2M263 135.5h2M263 128.5h2M261 135.5h2M264 126.5h2M265 122.5h2M265 126.5h2M264 124.5h2M261 131.5h2M267 127.5h2M265 116.5h2M263 117.5h2M268 134.5h2M261 131.5h2M266 124.5h2M266 119.5h2M268 138.5h2M266 126.5h2M268 108.5h2M261 129.5h2M261 125.5h2M261 117.5h2M261 123.5h2M261 123.5h2M266 147.5h2M266 142.5h2M262 113.5h2M268 115.5h2M262 116.5h2M266 116.5h2M262 116.5h2M261 107.5h2M263 129.5h2M269 126.5h2M266 135.5h2M262 125.5h2M268 131.5h2M267 130.5h2M261 139.5h2M267 123.5h2M263 121.5h2M269 129.5h2M267 123.5h2M263 109.5h2M262 125.5h2M263 130.5h2M263 123.5h2M267 134.5h2M260 114.5h2M261 129.5h2M264 117.5h2M264 130.5h2M265 122.5h2M268 116.5h2M261 106.5h2M262 130.5h2M265 125.5h2M262 134.5h2M268 123.5h2M266 127.5h2M269 135.5h2M267 115.5h2M268 143.5h2M267 118.5h2M268 127.5h2M264 124.5h2M261 125.5h2M261 123.5h2M263 119.5h2M260 113.5h2M268 111.5h2M268 127.5h2M263 120.5h2M262 130.5h2M265 124.5h2M264 130.5h2M269 115.5h2M263 117.5h2M260 111.5h2M266 117.5h2M263 129.5h2M264 135.5h2M260 123.5h2M263 119.5h2M265 121.5h2M264 121.5h2M263 124.5h2M267 109.5h2M268 125.5h2M261 132.5h2M264 124.5h2M268 128.5h2M267 119.5h2M261 128.5h2M261 115.5h2M266 129.5h2M268 121.5h2M262 114.5h2M264 118.5h2M266 133.5h2M268 116.5h2M262 125.5h2M261 116.5h2M267 132.5h2M261 125.5h2M264 131.5h2M267 119.5h2M264 121.5h2M261 121.5h2M265 126.5h2M261 137.5h2M263 118.5h2M261 120.5h2M266 120.5h2M267 143.5h2M261 128.5h2M263 126.5h2M264 120.5h2M264 117.5h2M267 128.5h2M264 123.5h2M263 136.5h2M265 110.5h2M264 114.5h2M268 118.5h2M264 125.5h2M266 142.5h2M265 136.5h2M260 125.5h2M261 111.5h2M268 132.5h2M268 119.5h2M263 118.5h2M262 117.5h2M264 122.5h2M268 127.5h2M267 101.5h2M265 136.5h2M263 108.5h2M261 115.5h2M266 132.5h2M267 121.5h2M263 123.5h2M262 135.5h2M262 135.5h2M266 130.5h2M268 123.5h2M266 122.5h2M263 133.5h2M263 138.5h2M268 125.5h2M264 137.5h2M263 118.5h2M262 124.5h2M267 134.5h2M266 133.5h2M268 133.5h2M261 131.5h2M262 131.5h2M265 133.5h2M262 139.5h2M260 133.5h2M266 123.5h2M267 140.5h2M264 120.5h2M266 132.5h2M267 130.5h2M266 134.5h2M265 126.5h2M267 123.5h2M264 125.5h2M269 120.5h2M266 127.5h2M268 129.5h2M263 129.5h2M267 127.5h2M263 131.5h2M265 122.5h2M268 138.5h2M269 118.5h2M264 126.5h2M263 129.5h2M264 125.5h2M262 129.5h2M265 149.5h2M269 111.5h2M266 136.5h2M261 115.5h2M266 112.5h2M266 97.5h2M270 155.5h2M275 120.5h2M274 186.5h2M270 92.5h2M276 141.5h2M272 138.5h2M271 141.5h2M271 130.5h2M274 129.5h2M273 154.5h2M272 125.5h2M271 157.5h2M273 117.5h2M271 135.5h2M274 135.5h2M274 119.5h2M270 154.5h2M273 134.5h2M275 129.5h2M272 158.5h2M275 116.5h2M271 153.5h2M276 143.5h2M271 119.5h2M271 138.5h2M275 121.5h2M274 127.5h2M270 109.5h2M271 138.5h2M272 153.5h2M275 132.5h2M274 138.5h2M270 123.5h2M275 126.5h2M271 153.5h2M276 155.5h2M276 138.5h2M273 131.5h2M272 164.5h2M273 140.5h2M271 127.5h2M270 126.5h2M272 128.5h2M275 137.5h2M275 133.5h2M274 152.5h2M273 152.5h2M275 133.5h2M274 163.5h2M270 129.5h2M273 134.5h2M270 133.5h2M273 144.5h2M274 128.5h2M270 131.5h2M270 152.5h2M273 124.5h2M271 166.5h2M272 113.5h2M272 125.5h2M270 131.5h2M272 140.5h2M275 141.5h2M275 146.5h2M274 158.5h2M275 104.5h2M270 126.5h2M271 127.5h2M271 131.5h2M274 134.5h2M273 124.5h2M270 104.5h2M275 148.5h2M270 126.5h2M270 132.5h2M275 139.5h2M273 131.5h2M273 154.5h2M272 135.5h2M270 123.5h2M273 140.5h2M272 167.5h2M274 151.5h2M271 132.5h2M274 141.5h2M272 146.5h2M273 126.5h2M272 146.5h2M275 144.5h2M271 138.5h2M272 127.5h2M273 136.5h2M272 130.5h2M271 142.5h2M270 105.5h2M274 132.5h2M270 144.5h2M273 147.5h2M270 138.5h2M276 126.5h2M272 156.5h2M274 156.5h2M271 156.5h2M271 130.5h2M274 111.5h2M273 140.5h2M271 146.5h2M270 137.5h2M275 150.5h2M273 139.5h2M270 146.5h2M274 106.5h2M274 121.5h2M273 127.5h2M270 140.5h2M273 122.5h2M271 151.5h2M271 132.5h2M273 142.5h2M273 151.5h2M272 128.5h2M272 98.5h2M274 136.5h2M271 118.5h2M272 147.5h2M275 112.5h2M274 156.5h2M270 142.5h2M274 154.5h2M272 134.5h2M270 153.5h2M272 140.5h2M272 132.5h2M272 151.5h2M274 144.5h2M273 146.5h2M275 131.5h2M270 133.5h2M275 133.5h2M275 133.5h2M271 139.5h2M273 167.5h2M275 121.5h2M271 133.5h2M270 121.5h2M274 98.5h2M272 163.5h2M272 128.5h2M272 140.5h2M276 160.5h2M271 122.5h2M271 132.5h2M271 139.5h2M275 119.5h2M270 138.5h2M274 145.5h2M272 134.5h2M274 136.5h2M273 131.5h2M270 160.5h2M271 147.5h2M272 146.5h2M271 153.5h2M276 147.5h2M271 158.5h2M275 116.5h2M275 124.5h2M275 144.5h2M270 136.5h2M271 140.5h2M270 112.5h2M272 129.5h2M276 117.5h2M275 151.5h2M271 127.5h2M270 120.5h2M270 132.5h2M275 160.5h2M270 153.5h2M271 170.5h2M272 139.5h2M271 151.5h2M270 137.5h2M272 141.5h2M270 147.5h2M273 152.5h2M275 149.5h2M270 147.5h2M271 128.5h2M272 158.5h2M272 126.5h2M270 121.5h2M270 127.5h2M274 113.5h2M275 127.5h2M273 120.5h2M273 152.5h2M270 160.5h2M270 137.5h2M274 121.5h2M274 180.5h2M271 119.5h2M273 146.5h2M275 133.5h2M272 143.5h2M271 87.5h2M273 124.5h2M270 112.5h2M273 73.5h2M271 130.5h2M274 193.5h2M278 139.5h2M276 146.5h2M281 152.5h2M283 165.5h2M279 141.5h2M278 142.5h2M279 167.5h2M277 160.5h2M281 122.5h2M284 171.5h2M284 150.5h2M278 141.5h2M280 137.5h2M280 166.5h2M281 116.5h2M279 155.5h2M277 126.5h2M278 143.5h2M279 160.5h2M278 128.5h2M277 151.5h2M280 163.5h2M277 142.5h2M281 146.5h2M280 143.5h2M281 128.5h2M279 165.5h2M283 153.5h2M278 132.5h2M277 124.5h2M282 135.5h2M281 146.5h2M283 112.5h2M278 147.5h2M282 157.5h2M283 167.5h2M278 141.5h2M277 133.5h2M277 141.5h2M280 139.5h2M280 152.5h2M278 154.5h2M283 146.5h2M283 156.5h2M282 145.5h2M278 161.5h2M283 145.5h2M280 146.5h2M280 130.5h2M277 147.5h2M282 135.5h2M283 134.5h2M279 146.5h2M277 147.5h2M281 148.5h2M282 143.5h2M282 152.5h2M284 149.5h2M283 124.5h2M283 146.5h2M280 122.5h2M279 139.5h2M284 128.5h2M281 137.5h2M278 149.5h2M283 142.5h2M278 116.5h2M282 142.5h2M281 142.5h2M278 154.5h2M280 140.5h2M278 139.5h2M283 150.5h2M282 137.5h2M282 147.5h2M277 129.5h2M281 129.5h2M282 146.5h2M279 117.5h2M282 154.5h2M282 143.5h2M280 155.5h2M283 133.5h2M283 145.5h2M278 147.5h2M279 149.5h2M279 140.5h2M282 163.5h2M278 154.5h2M277 118.5h2M282 130.5h2M283 140.5h2M283 162.5h2M277 157.5h2M280 145.5h2M281 146.5h2M277 151.5h2M279 152.5h2M282 159.5h2M283 148.5h2M283 133.5h2M283 140.5h2M282 130.5h2M278 145.5h2M282 144.5h2M277 138.5h2M279 132.5h2M278 162.5h2M282 146.5h2M281 131.5h2M278 152.5h2M282 119.5h2M277 142.5h2M283 124.5h2M282 144.5h2M279 140.5h2M279 131.5h2M278 141.5h2M280 156.5h2M283 133.5h2M279 155.5h2M282 152.5h2M282 129.5h2M283 150.5h2M278 147.5h2M280 148.5h2M282 147.5h2M279 136.5h2M278 122.5h2M277 126.5h2M281 142.5h2M281 135.5h2M282 156.5h2M277 152.5h2M282 142.5h2M277 150.5h2M277 157.5h2M277 128.5h2M280 136.5h2M281 152.5h2M279 115.5h2M283 142.5h2M279 145.5h2M283 133.5h2M282 116.5h2M281 155.5h2M277 141.5h2M282 140.5h2M282 135.5h2M280 131.5h2M283 148.5h2M276 127.5h2M282 154.5h2M280 138.5h2M277 149.5h2M281 165.5h2M281 158.5h2M283 121.5h2M282 133.5h2M282 164.5h2M282 141.5h2M277 139.5h2M281 158.5h2M278 153.5h2M277 145.5h2M278 141.5h2M279 141.5h2M277 137.5h2M278 116.5h2M283 127.5h2M276 155.5h2M277 153.5h2M279 138.5h2M283 149.5h2M280 144.5h2M284 132.5h2M283 160.5h2M282 144.5h2M281 147.5h2M283 137.5h2M280 153.5h2M278 140.5h2M281 149.5h2M280 137.5h2M282 150.5h2M279 136.5h2M281 142.5h2M277 145.5h2M279 152.5h2M279 120.5h2M277 143.5h2M284 137.5h2M282 142.5h2M277 149.5h2M283 139.5h2M282 159.5h2M278 138.5h2M280 151.5h2M283 154.5h2M278 162.5h2M280 138.5h2M278 150.5h2M282 149.5h2M278 140.5h2M280 157.5h2M282 151.5h2M277 122.5h2M279 159.5h2M277 129.5h2M282 151.5h2M280 159.5h2M281 148.5h2M280 136.5h2M279 145.5h2M277 156.5h2M278 127.5h2M281 135.5h2M279 158.5h2M282 135.5h2M283 134.5h2M279 156.5h2M277 142.5h2M281 163.5h2M278 159.5h2M280 146.5h2M277 157.5h2M277 149.5h2M282 162.5h2M278 130.5h2M278 138.5h2M278 138.5h2M278 140.5h2M283 113.5h2M278 139.5h2M281 147.5h2M280 128.5h2M280 160.5h2M278 107.5h2M280 105.5h2M279 138.5h2M283 133.5h2M285 121.5h2M289 148.5h2M286 122.5h2M290 127.5h2M285 145.5h2M285 135.5h2M285 117.5h2M285 127.5h2M285 114.5h2M287 110.5h2M288 111.5h2M286 134.5h2M287 136.5h2M288 130.5h2M287 144.5h2M289 110.5h2M289 147.5h2M289 102.5h2M285 119.5h2M288 117.5h2M287 128.5h2M288 135.5h2M289 100.5h2M287 116.5h2M288 127.5h2M286 122.5h2M285 119.5h2M287 116.5h2M289 113.5h2M285 126.5h2M286 121.5h2M287 114.5h2M289 131.5h2M287 119.5h2M289 133.5h2M286 132.5h2M285 133.5h2M288 114.5h2M288 128.5h2M287 126.5h2M289 125.5h2M289 119.5h2M287 129.5h2M286 102.5h2M289 119.5h2M285 129.5h2M289 120.5h2M285 106.5h2M288 143.5h2M287 120.5h2M286 100.5h2M289 123.5h2M289 114.5h2M286 112.5h2M287 133.5h2M289 138.5h2M288 112.5h2M288 116.5h2M286 109.5h2M287 92.5h2M286 130.5h2M286 139.5h2M288 99.5h2M288 135.5h2M285 134.5h2M288 129.5h2M288 111.5h2M286 124.5h2M288 135.5h2M289 125.5h2M285 133.5h2M287 125.5h2M286 125.5h2M289 83.5h2M285 145.5h2M285 150.5h2M285 119.5h2M286 112.5h2M287 114.5h2M289 126.5h2M287 109.5h2M285 106.5h2M286 109.5h2M285 123.5h2M289 119.5h2M286 125.5h2M289 134.5h2M288 128.5h2M286 112.5h2M286 121.5h2M285 139.5h2M289 130.5h2M286 143.5h2M285 117.5h2M289 118.5h2M288 128.5h2M288 104.5h2M287 129.5h2M286 137.5h2M286 117.5h2M288 104.5h2M289 103.5h2M289 127.5h2M286 123.5h2M287 118.5h2M287 103.5h2M289 149.5h2M289 125.5h2M285 134.5h2M286 99.5h2M287 103.5h2M288 121.5h2M286 117.5h2M288 133.5h2M285 137.5h2M284 135.5h2M288 122.5h2M288 122.5h2M289 96.5h2M286 151.5h2M288 140.5h2M289 121.5h2M285 106.5h2M287 121.5h2M288 154.5h2M285 139.5h2M285 134.5h2M289 136.5h2M289 131.5h2M287 138.5h2M285 116.5h2M289 119.5h2M287 107.5h2M285 129.5h2M285 132.5h2M289 137.5h2M286 107.5h2M286 140.5h2M289 128.5h2M289 102.5h2M287 133.5h2M284 111.5h2M287 149.5h2M288 121.5h2M285 115.5h2M287 103.5h2M287 131.5h2M287 128.5h2M286 126.5h2M287 129.5h2M287 127.5h2M286 102.5h2M286 114.5h2M284 120.5h2M287 129.5h2M285 122.5h2M288 123.5h2M288 118.5h2M290 108.5h2M288 127.5h2M287 132.5h2M285 112.5h2M286 105.5h2M285 111.5h2M287 130.5h2M289 125.5h2M289 127.5h2M289 113.5h2M289 139.5h2M286 121.5h2M285 138.5h2M287 139.5h2M284 111.5h2M287 124.5h2M287 130.5h2M285 114.5h2M287 104.5h2M289 139.5h2M286 136.5h2M286 142.5h2M294 106.5h2M293 104.5h2M293 127.5h2M294 130.5h2M291 88.5h2M294 106.5h2M291 117.5h2M293 111.5h2M292 130.5h2M291 118.5h2M293 127.5h2M293 104.5h2M293 129.5h2M294 93.5h2M293 104.5h2M292 118.5h2M294 116.5h2M294 112.5h2M293 103.5h2M292 110.5h2M291 118.5h2M291 99.5h2M292 115.5h2M293 98.5h2M294 112.5h2M292 115.5h2M295 104.5h2M292 117.5h2M293 113.5h2M293 105.5h2M293 136.5h2M294 102.5h2M293 101.5h2M293 126.5h2M294 126.5h2M294 116.5h2M290 119.5h2M293 100.5h2M295 111.5h2M292 112.5h2M293 97.5h2M292 109.5h2M290 101.5h2M293 130.5h2M291 106.5h2M295 114.5h2M293 114.5h2M293 94.5h2M292 102.5h2M291 115.5h2M291 122.5h2M292 114.5h2M295 123.5h2M294 123.5h2M295 129.5h2M294 98.5h2M293 114.5h2M293 112.5h2M295 108.5h2M294 108.5h2M295 98.5h2M293 97.5h2M293 109.5h2M295 116.5h2M292 110.5h2M295 125.5h2M291 109.5h2M295 113.5h2M293 113.5h2M292 109.5h2M294 112.5h2M292 101.5h2M292 117.5h2M290 105.5h2M292 107.5h2M290 114.5h2M295 83.5h2M293 105.5h2M292 106.5h2M290 118.5h2M292 108.5h2M293 107.5h2M293 104.5h2M291 108.5h2M291 131.5h2M293 104.5h2M291 115.5h2M295 105.5h2M293 128.5h2M294 125.5h2M291 103.5h2M292 104.5h2M295 114.5h2M294 85.5h2M293 100.5h2M291 111.5h2M294 107.5h2M292 103.5h2M294 128.5h2M293 115.5h2M292 135.5h2M294 134.5h2M295 106.5h2M291 113.5h2M294 101.5h2M293 105.5h2M293 122.5h2M291 112.5h2M292 112.5h2M293 96.5h2M295 109.5h2M292 111.5h2M291 124.5h2M295 115.5h2M292 120.5h2M291 112.5h2M292 124.5h2M294 109.5h2M292 117.5h2M292 103.5h2M293 113.5h2M293 111.5h2M293 105.5h2M290 120.5h2M294 112.5h2M291 94.5h2M292 123.5h2M290 107.5h2M293 91.5h2M291 104.5h2M293 88.5h2M293 127.5h2M292 101.5h2M294 105.5h2M291 94.5h2M292 103.5h2M293 118.5h2M293 118.5h2M294 117.5h2M291 124.5h2M291 120.5h2M293 112.5h2M294 109.5h2M291 113.5h2M293 130.5h2M295 114.5h2M291 117.5h2M294 121.5h2M294 123.5h2M291 131.5h2M295 104.5h2M293 120.5h2M292 117.5h2M293 93.5h2M293 101.5h2M293 110.5h2M291 113.5h2M294 118.5h2M291 115.5h2M295 128.5h2M294 104.5h2M295 119.5h2M291 109.5h2M290 124.5h2M290 119.5h2M293 108.5h2M294 102.5h2M291 115.5h2M292 129.5h2M294 99.5h2M291 152.5h2M298 124.5h2M299 142.5h2M297 135.5h2M297 131.5h2M303 130.5h2M304 130.5h2M302 137.5h2M304 128.5h2M300 119.5h2M300 119.5h2M302 128.5h2M304 131.5h2M299 123.5h2M304 133.5h2M299 143.5h2M303 130.5h2M298 95.5h2M297 116.5h2M299 124.5h2M303 107.5h2M297 129.5h2M300 127.5h2M304 113.5h2M301 117.5h2M303 126.5h2M302 108.5h2M300 120.5h2M298 123.5h2M303 123.5h2M301 121.5h2M305 111.5h2M300 122.5h2M304 120.5h2M302 120.5h2M300 131.5h2M299 123.5h2M300 136.5h2M303 129.5h2M296 137.5h2M298 123.5h2M296 127.5h2M300 138.5h2M298 130.5h2M303 107.5h2M304 133.5h2M302 116.5h2M298 128.5h2M304 135.5h2M298 127.5h2M299 135.5h2M297 112.5h2M296 121.5h2M305 133.5h2M297 120.5h2M296 120.5h2M297 125.5h2M300 112.5h2M303 123.5h2M300 128.5h2M304 136.5h2M301 116.5h2M304 135.5h2M296 111.5h2M297 120.5h2M305 123.5h2M302 136.5h2M298 125.5h2M301 127.5h2M305 129.5h2M303 118.5h2M299 115.5h2M305 121.5h2M298 140.5h2M303 113.5h2M302 123.5h2M305 122.5h2M298 109.5h2M305 118.5h2M304 124.5h2M300 123.5h2M303 125.5h2M300 131.5h2M304 145.5h2M302 141.5h2M303 120.5h2M300 113.5h2M299 127.5h2M305 117.5h2M298 118.5h2M302 110.5h2M304 116.5h2M305 125.5h2M297 139.5h2M298 121.5h2M302 129.5h2M303 125.5h2M297 135.5h2M306 129.5h2M300 125.5h2M297 120.5h2M296 128.5h2M297 126.5h2M305 125.5h2M296 126.5h2M300 127.5h2M303 113.5h2M298 121.5h2M297 116.5h2M305 103.5h2M305 126.5h2M305 128.5h2M304 128.5h2M305 142.5h2M298 133.5h2M301 129.5h2M300 114.5h2M296 127.5h2M298 113.5h2M296 120.5h2M305 126.5h2M296 138.5h2M305 129.5h2M300 129.5h2M303 130.5h2M299 126.5h2M298 145.5h2M300 127.5h2M297 130.5h2M301 125.5h2M304 123.5h2M301 143.5h2M298 118.5h2M297 115.5h2M305 132.5h2M304 111.5h2M297 113.5h2M304 117.5h2M305 131.5h2M299 131.5h2M297 125.5h2M301 114.5h2M299 128.5h2M304 127.5h2M302 123.5h2M296 130.5h2M300 135.5h2M300 104.5h2M304 125.5h2M300 132.5h2M296 127.5h2M297 129.5h2M299 110.5h2M304 123.5h2M304 126.5h2M302 131.5h2M296 120.5h2M304 113.5h2M303 130.5h2M305 125.5h2M301 130.5h2M299 131.5h2M301 108.5h2M304 109.5h2M298 134.5h2M305 133.5h2M304 122.5h2M297 139.5h2M303 119.5h2M300 116.5h2M298 148.5h2M304 111.5h2M300 113.5h2M297 118.5h2M305 125.5h2M304 122.5h2M298 133.5h2M296 113.5h2M297 125.5h2M299 117.5h2M297 137.5h2M304 130.5h2M300 116.5h2M298 126.5h2M304 132.5h2M303 129.5h2M302 109.5h2M300 134.5h2M303 135.5h2M297 112.5h2M296 119.5h2M303 121.5h2M297 127.5h2M306 117.5h2M305 105.5h2M304 133.5h2M305 131.5h2M303 123.5h2M296 118.5h2M303 136.5h2M301 126.5h2M301 111.5h2M301 109.5h2M305 125.5h2M300 113.5h2M297 125.5h2M296 122.5h2M304 130.5h2M304 128.5h2M303 114.5h2M301 130.5h2M304 123.5h2M302 122.5h2M302 130.5h2M298 131.5h2M299 123.5h2M303 131.5h2M303 125.5h2M297 130.5h2M298 139.5h2M302 106.5h2M302 128.5h2M305 112.5h2M297 132.5h2M304 131.5h2M302 117.5h2M300 123.5h2M303 104.5h2M300 119.5h2M299 141.5h2M305 123.5h2M300 127.5h2M297 115.5h2M300 134.5h2M304 132.5h2M302 114.5h2M302 130.5h2M299 125.5h2M299 121.5h2M301 135.5h2M301 121.5h2M303 126.5h2M300 134.5h2M297 131.5h2M300 116.5h2M300 119.5h2M303 115.5h2M301 115.5h2M300 123.5h2M305 142.5h2M302 119.5h2M303 120.5h2M303 109.5h2M297 135.5h2M302 124.5h2M302 115.5h2M301 117.5h2M299 129.5h2M297 120.5h2M304 119.5h2M299 114.5h2M305 126.5h2M302 110.5h2M298 126.5h2M302 136.5h2M298 112.5h2M302 123.5h2M298 108.5h2M300 129.5h2M299 109.5h2M301 141.5h2M305 113.5h2M297 116.5h2M302 139.5h2M297 119.5h2M301 129.5h2M303 127.5h2M302 110.5h2M304 131.5h2M298 124.5h2M296 112.5h2M300 120.5h2M303 107.5h2M304 117.5h2M305 129.5h2M304 113.5h2M304 126.5h2M301 125.5h2M299 110.5h2M305 128.5h2M302 120.5h2M304 118.5h2M298 142.5h2M300 119.5h2M305 122.5h2M298 115.5h2M300 127.5h2M298 109.5h2M304 130.5h2M300 122.5h2M301 116.5h2M305 127.5h2M298 132.5h2M303 125.5h2M305 124.5h2M303 121.5h2M296 127.5h2M305 122.5h2M297 125.5h2M297 129.5h2M302 128.5h2M297 133.5h2M305 108.5h2M297 113.5h2M302 95.5h2M301 121.5h2M303 126.5h2M298 102.5h2M298 140.5h2M314 108.5h2M310 138.5h2M317 123.5h2M307 114.5h2M316 108.5h2M313 90.5h2M307 89.5h2M319 102.5h2M315 104.5h2M311 112.5h2M309 108.5h2M312 113.5h2M312 115.5h2M317 129.5h2M320 100.5h2M307 95.5h2M315 114.5h2M315 87.5h2M308 129.5h2M319 111.5h2M307 110.5h2M311 131.5h2M314 105.5h2M317 121.5h2M306 112.5h2M316 122.5h2M314 119.5h2M309 115.5h2M315 110.5h2M319 117.5h2M309 116.5h2M307 107.5h2M311 138.5h2M309 115.5h2M312 85.5h2M319 118.5h2M311 119.5h2M317 90.5h2M311 112.5h2M313 104.5h2M311 94.5h2M319 122.5h2M309 114.5h2M308 106.5h2M310 132.5h2M317 100.5h2M307 112.5h2M319 114.5h2M310 116.5h2M307 121.5h2M314 125.5h2M310 99.5h2M314 94.5h2M310 98.5h2M318 126.5h2M310 110.5h2M308 100.5h2M307 115.5h2M315 109.5h2M317 86.5h2M309 113.5h2M312 104.5h2M317 115.5h2M310 115.5h2M311 95.5h2M318 106.5h2M307 105.5h2M307 135.5h2M313 100.5h2M312 115.5h2M311 108.5h2M320 111.5h2M317 119.5h2M313 95.5h2M314 113.5h2M318 99.5h2M312 101.5h2M310 115.5h2M308 101.5h2M315 117.5h2M309 141.5h2M318 94.5h2M313 103.5h2M312 121.5h2M317 91.5h2M313 96.5h2M307 89.5h2M317 109.5h2M317 117.5h2M314 123.5h2M316 116.5h2M313 112.5h2M310 125.5h2M317 99.5h2M311 98.5h2M310 97.5h2M311 100.5h2M315 128.5h2M315 108.5h2M316 119.5h2M309 121.5h2M319 119.5h2M319 111.5h2M307 116.5h2M311 77.5h2M308 121.5h2M318 121.5h2M319 91.5h2M311 107.5h2M311 76.5h2M320 107.5h2M311 99.5h2M312 96.5h2M312 119.5h2M308 106.5h2M311 113.5h2M314 128.5h2M319 110.5h2M309 107.5h2M308 108.5h2M310 111.5h2M311 110.5h2M312 103.5h2M312 94.5h2M313 104.5h2M310 113.5h2M311 135.5h2M317 92.5h2M312 112.5h2M308 108.5h2M310 101.5h2M320 128.5h2M312 116.5h2M317 101.5h2M313 95.5h2M308 113.5h2M314 119.5h2M310 97.5h2M311 113.5h2M316 111.5h2M316 118.5h2M317 115.5h2M316 100.5h2M311 96.5h2M309 88.5h2M309 122.5h2M312 107.5h2M315 124.5h2M319 101.5h2M307 100.5h2M314 125.5h2M319 94.5h2M307 120.5h2M318 126.5h2M315 110.5h2M310 129.5h2M319 105.5h2M317 99.5h2M308 110.5h2M308 110.5h2M307 121.5h2M312 104.5h2M307 116.5h2M313 116.5h2M317 79.5h2M306 125.5h2M310 119.5h2M314 123.5h2M309 114.5h2M307 96.5h2M311 124.5h2M314 126.5h2M316 114.5h2M307 115.5h2M314 102.5h2M313 95.5h2M312 131.5h2M315 121.5h2M316 108.5h2M319 125.5h2M314 110.5h2M306 96.5h2M307 94.5h2M316 121.5h2M308 111.5h2M317 104.5h2M315 104.5h2M310 114.5h2M318 128.5h2M314 118.5h2M317 94.5h2M308 116.5h2M314 111.5h2M320 111.5h2M315 108.5h2M314 111.5h2M308 91.5h2M316 126.5h2M315 104.5h2M306 93.5h2M315 107.5h2M307 97.5h2M319 104.5h2M308 116.5h2M311 110.5h2M311 122.5h2M309 106.5h2M307 88.5h2M319 104.5h2M314 113.5h2M316 113.5h2M315 118.5h2M309 103.5h2M307 129.5h2M317 118.5h2M315 109.5h2M312 98.5h2M320 105.5h2M317 105.5h2M314 133.5h2M315 106.5h2M310 130.5h2M307 90.5h2M317 114.5h2M309 94.5h2M307 109.5h2M309 114.5h2M316 142.5h2M313 118.5h2M317 119.5h2M316 121.5h2M314 109.5h2M312 100.5h2M316 102.5h2M320 107.5h2M307 106.5h2M312 124.5h2M316 108.5h2M319 94.5h2M314 106.5h2M307 100.5h2M318 119.5h2M307 102.5h2M313 122.5h2M313 103.5h2M314 114.5h2M314 122.5h2M315 114.5h2M318 123.5h2M317 98.5h2M313 98.5h2M317 96.5h2M318 134.5h2M308 117.5h2M314 117.5h2M309 120.5h2M320 127.5h2M319 121.5h2M313 102.5h2M317 110.5h2M316 115.5h2M319 103.5h2M310 88.5h2M315 106.5h2M319 129.5h2M308 104.5h2M312 117.5h2M306 123.5h2M315 113.5h2M310 124.5h2M312 110.5h2M307 101.5h2M319 129.5h2M308 103.5h2M316 111.5h2M317 107.5h2M310 103.5h2M310 115.5h2M318 126.5h2M313 104.5h2M307 116.5h2M314 113.5h2M315 107.5h2M315 114.5h2M313 101.5h2M313 119.5h2M309 105.5h2M309 125.5h2M311 133.5h2M316 107.5h2M315 112.5h2M314 122.5h2M317 106.5h2M318 107.5h2M312 122.5h2M315 118.5h2M319 106.5h2M316 120.5h2M314 106.5h2M314 134.5h2M319 118.5h2M308 115.5h2M319 121.5h2M319 108.5h2M316 127.5h2M306 98.5h2M309 97.5h2M319 109.5h2M319 96.5h2M311 116.5h2M318 108.5h2M319 121.5h2M310 118.5h2M316 121.5h2M318 107.5h2M311 119.5h2M319 116.5h2M319 98.5h2M310 90.5h2M312 107.5h2M319 116.5h2M308 112.5h2M315 114.5h2M307 112.5h2M317 133.5h2M314 100.5h2M310 121.5h2M310 93.5h2M311 120.5h2M317 120.5h2M310 107.5h2M313 120.5h2M320 110.5h2M308 104.5h2M313 108.5h2M309 115.5h2M312 100.5h2M314 99.5h2M313 108.5h2M307 105.5h2M306 115.5h2M310 110.5h2M320 99.5h2M310 127.5h2M308 133.5h2M314 108.5h2M313 116.5h2M319 100.5h2M309 108.5h2M319 107.5h2M312 115.5h2M313 105.5h2M312 97.5h2M316 103.5h2M317 107.5h2M309 100.5h2M312 128.5h2M306 114.5h2M315 116.5h2M313 125.5h2M308 103.5h2M311 102.5h2M319 100.5h2M318 114.5h2M312 93.5h2M306 107.5h2M312 103.5h2M317 106.5h2M312 88.5h2M315 117.5h2M313 117.5h2M315 108.5h2M313 92.5h2M320 111.5h2M312 115.5h2M315 113.5h2M316 101.5h2M319 104.5h2M320 114.5h2M308 131.5h2M312 134.5h2M314 101.5h2M307 118.5h2M307 121.5h2M316 103.5h2M318 95.5h2M309 121.5h2M308 122.5h2M309 106.5h2M319 119.5h2M313 101.5h2M308 90.5h2M317 127.5h2M319 131.5h2M310 116.5h2M308 131.5h2M306 112.5h2M312 114.5h2M317 119.5h2M319 123.5h2M311 115.5h2M318 117.5h2M311 96.5h2M312 103.5h2M319 113.5h2M310 130.5h2M310 104.5h2M308 123.5h2M310 97.5h2M309 115.5h2M318 108.5h2M309 124.5h2M308 108.5h2M314 102.5h2M309 110.5h2M312 128.5h2M317 103.5h2M312 91.5h2M310 102.5h2M310 101.5h2M306 112.5h2M311 121.5h2M316 106.5h2M308 108.5h2M307 104.5h2M316 129.5h2M315 92.5h2M318 113.5h2M318 92.5h2M308 144.5h2M312 123.5h2M308 114.5h2M314 86.5h2M319 89.5h2M307 158.5h2M321 127.5h2M323 145.5h2M321 146.5h2M322 123.5h2M322 157.5h2M323 134.5h2M322 146.5h2M321 122.5h2M323 153.5h2M323 157.5h2M321 129.5h2M321 143.5h2M321 166.5h2M322 151.5h2M323 138.5h2M322 140.5h2M323 154.5h2M321 140.5h2M321 142.5h2M322 152.5h2M321 160.5h2M321 165.5h2M322 142.5h2M323 145.5h2M320 140.5h2M320 144.5h2M320 140.5h2M322 142.5h2M323 119.5h2M322 131.5h2M323 145.5h2M321 148.5h2M322 147.5h2M323 134.5h2M322 147.5h2M321 143.5h2M323 149.5h2M322 149.5h2M321 140.5h2M322 149.5h2M323 141.5h2M323 151.5h2M322 138.5h2M323 140.5h2M322 124.5h2M321 137.5h2M321 129.5h2M323 154.5h2M322 149.5h2M323 139.5h2M323 136.5h2M321 140.5h2M322 114.5h2M321 145.5h2M322 145.5h2M321 156.5h2M321 122.5h2M322 150.5h2M322 144.5h2M321 142.5h2M321 153.5h2M321 101.5h2M323 144.5h2M323 164.5h2M323 150.5h2M323 149.5h2M320 137.5h2M323 158.5h2M321 151.5h2M323 135.5h2M321 145.5h2M321 136.5h2M320 146.5h2M323 122.5h2M321 143.5h2M321 151.5h2M322 132.5h2M321 137.5h2M321 147.5h2M323 153.5h2M322 142.5h2M321 137.5h2M322 148.5h2M321 133.5h2M322 139.5h2M321 138.5h2M322 153.5h2M321 146.5h2M323 138.5h2M323 152.5h2M323 132.5h2M323 162.5h2M321 127.5h2M322 142.5h2M321 127.5h2M322 156.5h2M321 141.5h2M322 135.5h2M322 157.5h2M322 144.5h2M321 123.5h2M321 183.5h2M321 122.5h2" stroke="#a0a0a0" stroke-width="1.5" fill="none"/>
<path d="M174 46.5h2M168 59.5h2M169 45.5h2M172 49.5h2M174 47.5h2M174 49.5h2M172 58.5h2M172 58.5h2M172 44.5h2M174 53.5h2M170 47.5h2M173 53.5h2M174 56.5h2M174 53.5h2M172 53.5h2M169 59.5h2M170 56.5h2M174 54.5h2M168 57.5h2M172 46.5h2M156 93.5h2M156 99.5h2M158 92.5h2M157 95.5h2M159 89.5h2M157 93.5h2M157 94.5h2M158 91.5h2M158 92.5h2M156 100.5h2M157 91.5h2M157 99.5h2M159 92.5h2M157 85.5h2M273 64.5h2M272 66.5h2M271 66.5h2M271 62.5h2M272 71.5h2M272 64.5h2M272 62.5h2M271 71.5h2M273 67.5h2M273 67.5h2M272 69.5h2M273 70.5h2M294 82.5h2M295 79.5h2M296 83.5h2M295 84.5h2M293 80.5h2M295 79.5h2M285 202.5h2M286 199.5h2M285 204.5h2M286 198.5h2M285 199.5h2M175 132.5h2M164 141.5h2M169 130.5h2M173 144.5h2M175 128.5h2M168 119.5h2M174 139.5h2M169 128.5h2M168 125.5h2M169 89.5h2M166 127.5h2M163 142.5h2M172 150.5h2M172 163.5h2M163 95.5h2M163 125.5h2M169 161.5h2M163 131.5h2M171 167.5h2M166 121.5h2M170 137.5h2M175 140.5h2M174 146.5h2M171 126.5h2M165 140.5h2M170 81.5h2M168 140.5h2M165 103.5h2M166 147.5h2M170 160.5h2M172 149.5h2M165 70.5h2M168 151.5h2M168 98.5h2M172 129.5h2M163 137.5h2M168 127.5h2M176 151.5h2M165 83.5h2M171 109.5h2M170 125.5h2M176 120.5h2M172 139.5h2M164 86.5h2M163 136.5h2M176 148.5h2M175 98.5h2M173 141.5h2M167 176.5h2M173 115.5h2M175 135.5h2M167 94.5h2M166 125.5h2M175 132.5h2M167 143.5h2M164 127.5h2M169 118.5h2M169 136.5h2M168 100.5h2M167 156.5h2M170 165.5h2M168 86.5h2M163 150.5h2M166 116.5h2M164 126.5h2M164 143.5h2M163 165.5h2M164 123.5h2M169 133.5h2M163 100.5h2M167 89.5h2M171 158.5h2M169 120.5h2M172 119.5h2M174 115.5h2M167 106.5h2M163 136.5h2M169 131.5h2M173 130.5h2M171 149.5h2M171 174.5h2M171 131.5h2M167 127.5h2M176 158.5h2M167 102.5h2M165 141.5h2M168 149.5h2M174 111.5h2M166 151.5h2M166 96.5h2M170 113.5h2M171 98.5h2M166 105.5h2M174 118.5h2M168 153.5h2M166 121.5h2M168 149.5h2M163 150.5h2M171 111.5h2M164 160.5h2M172 121.5h2M164 109.5h2M168 114.5h2M163 111.5h2M169 129.5h2M176 112.5h2M170 130.5h2M168 133.5h2M169 129.5h2M170 133.5h2M166 102.5h2M172 133.5h2M171 126.5h2M175 138.5h2M163 130.5h2M174 130.5h2M170 152.5h2M167 110.5h2M169 123.5h2M174 109.5h2M168 144.5h2M170 130.5h2M165 166.5h2M170 96.5h2M175 114.5h2M165 99.5h2M176 146.5h2M168 113.5h2M164 93.5h2M168 95.5h2M167 95.5h2M165 99.5h2M166 120.5h2M174 120.5h2M167 136.5h2M165 103.5h2M163 137.5h2M173 136.5h2M174 112.5h2M172 111.5h2M173 118.5h2M169 131.5h2M166 133.5h2M164 145.5h2M175 115.5h2M173 171.5h2M163 157.5h2M170 101.5h2M175 120.5h2M165 125.5h2M167 150.5h2M164 92.5h2M167 137.5h2M167 135.5h2M168 143.5h2M166 151.5h2M175 101.5h2M173 127.5h2M167 124.5h2M167 136.5h2M166 123.5h2M172 104.5h2M166 141.5h2M168 132.5h2M175 129.5h2M165 139.5h2M166 174.5h2M166 112.5h2M163 95.5h2M164 127.5h2M168 125.5h2M173 123.5h2M172 130.5h2M169 100.5h2M170 142.5h2M166 144.5h2M167 137.5h2M163 128.5h2M170 127.5h2M170 152.5h2M166 145.5h2M172 146.5h2M172 96.5h2M163 123.5h2M167 131.5h2M164 104.5h2M168 130.5h2M164 116.5h2M169 140.5h2M166 109.5h2M173 140.5h2M171 135.5h2M174 137.5h2M166 110.5h2M168 137.5h2M173 137.5h2M176 123.5h2M173 133.5h2M176 131.5h2M173 103.5h2M173 124.5h2M176 99.5h2M173 127.5h2M164 148.5h2M168 135.5h2M170 101.5h2M173 142.5h2M169 135.5h2M169 104.5h2M174 77.5h2M170 113.5h2M176 99.5h2M171 106.5h2M168 112.5h2M173 91.5h2M173 159.5h2M176 117.5h2M168 97.5h2M163 105.5h2M173 93.5h2M173 157.5h2M166 132.5h2M168 140.5h2M169 108.5h2M163 131.5h2M166 138.5h2M170 134.5h2M164 127.5h2M173 161.5h2M170 118.5h2M164 127.5h2M164 113.5h2M170 137.5h2M175 110.5h2M167 160.5h2M175 117.5h2M176 130.5h2M170 111.5h2M170 122.5h2M171 109.5h2M166 134.5h2M174 147.5h2M170 115.5h2M168 137.5h2M168 122.5h2M166 143.5h2M167 110.5h2M171 97.5h2M175 119.5h2M168 114.5h2M170 124.5h2M164 97.5h2M169 103.5h2M169 93.5h2M165 150.5h2M173 130.5h2M164 95.5h2M170 120.5h2M166 128.5h2M167 127.5h2M175 108.5h2M176 154.5h2M172 110.5h2M172 156.5h2M169 77.5h2M175 132.5h2M170 105.5h2M167 125.5h2M174 117.5h2M173 144.5h2M169 133.5h2M176 142.5h2M168 136.5h2M173 149.5h2M173 164.5h2M176 84.5h2M171 65.5h2M176 72.5h2M170 130.5h2M170 79.5h2M171 85.5h2M171 142.5h2M169 111.5h2M172 121.5h2M174 162.5h2M176 78.5h2M171 73.5h2M173 105.5h2M175 115.5h2M174 63.5h2M172 107.5h2M175 71.5h2M166 139.5h2M169 110.5h2M170 173.5h2M172 155.5h2M175 158.5h2M170 93.5h2M171 162.5h2M175 114.5h2M175 147.5h2M166 132.5h2M174 65.5h2M170 134.5h2M171 120.5h2M166 90.5h2M175 100.5h2M171 127.5h2M169 107.5h2M171 159.5h2M175 80.5h2M171 146.5h2M175 121.5h2M172 134.5h2M173 162.5h2M176 174.5h2M167 142.5h2M170 92.5h2M167 164.5h2M175 120.5h2M171 83.5h2M176 147.5h2M167 126.5h2M176 90.5h2M170 101.5h2M170 73.5h2M172 88.5h2M173 113.5h2M175 145.5h2M175 77.5h2M174 149.5h2M169 60.5h2M167 148.5h2M176 67.5h2M168 106.5h2M166 133.5h2M175 156.5h2M167 164.5h2M174 77.5h2M175 167.5h2M175 146.5h2M174 121.5h2M166 138.5h2M171 77.5h2M167 161.5h2M175 65.5h2M166 140.5h2M169 160.5h2M171 141.5h2M166 149.5h2M168 109.5h2M171 97.5h2M168 111.5h2M166 78.5h2M167 158.5h2M169 173.5h2M175 79.5h2M175 173.5h2M170 115.5h2M173 116.5h2M168 144.5h2M168 104.5h2M166 97.5h2M174 75.5h2M168 105.5h2M169 60.5h2M166 83.5h2M174 149.5h2M174 139.5h2M176 89.5h2M173 111.5h2M176 110.5h2M173 149.5h2M176 147.5h2M169 134.5h2M174 168.5h2M168 143.5h2M173 78.5h2M167 124.5h2M172 97.5h2" stroke="#a8a8a8" stroke-width="1.5" fill="none"/>
<rect x="168.9" y="60.0" width="2.0" height="89.0" fill="#1e3276"/>
<rect x="173.0" y="51.0" width="2.0" height="109.0" fill="#1e3276"/>
<rect x="157.3" y="101.4" width="2.1" height="29.6" fill="#1e3276"/>
<rect x="271.9" y="73.0" width="2.2" height="77.0" fill="#1e3276"/>
<rect x="274.5" y="106.7" width="2.0" height="33.3" fill="#1e3276"/>
<rect x="294.0" y="85.0" width="2.2" height="55.0" fill="#1e3276"/>
<path d="M27.2 126.8H27.4V139.0H29.9V124.8H36.5V122.7H38.5V128.2H40.0V118.0H44.6V122.8H46.8V118.0H48.4V130.5H53.0V131.2H59.0V128.2H63.6V141.1H74.2V111.4H75.8V122.8H77.0V138.0H78.0V128.0H81.0V127.4H82.3V145.7H83.8V138.8H87.6V114.0H89.0V144.0H90.0V116.0H91.5V142.0H92.5V118.0H93.7V154.0H98.3V122.8H103.6V120.6H105.1V134.3H112.7V132.0H115.8V139.6H118.8V123.6H120.4V141.9H125.0V155.0H126.4V122.0H128.0V140.0H130.3V114.5H133.3V130.0H134.5V140.0H136.3V142.5H141.3V131.9H146.7V118.2H148.2V112.0H152.0V128.0H153.5V113.0H155.5V117.4H157.3V101.4H159.6V131.0H161.9V125.0H163.4V138.7H165.7V129.6H168.0V60.0H170.3V149.0H171.5V175.0H172.5V51.0H175.0V146.0H177.1V135.7H180.2V126.5H183.2V129.6H186.3V136.0H188.5V129.6H192.3V152.5H193.8V131.2H196.0V107.6H198.4V152.5H201.4V132.7H208.3V129.7H209.8V129.0H213.0V128.0H215.9V139.6H219.7V132.0H222.7V135.8H225.0V129.7H226.5V149.5H228.8V128.2H231.1V139.0H234.2V145.0H238.0V124.4H240.3V125.1H243.3V145.7H245.6V124.4H248.0V109.0H249.0V139.6H249.6V128.2H251.9V103.8H253.4V129.7H257.2V138.0H260.2V127.4H264.8V150.2H267.1V151.8H269.4V160.0H270.9V74.0H273.9V109.0H275.5V150.0H277.0V132.0H280.8V185.0H281.4V132.0H286.0V198.0H286.6V128.2H289.9V115.2H293.8V85.0H296.3V142.0H297.0V128.2H300.2V130.0H305.2V106.6H310.0V111.7H314.1V128.2H318.0V118.0H321.7V171.4H323.8V171.4" fill="none" stroke="#1b2f78" stroke-width="1.6" stroke-linejoin="miter"/>
<path d="M25.5 39.5V207.5H324.5V39.5Z" fill="none" stroke="#6a6a6a" stroke-width="1.2"/>
<line x1="25.5" y1="39.5" x2="324.5" y2="39.5" stroke="#444" stroke-width="1.2"/>
<line x1="25.5" y1="56.6" x2="29" y2="56.6" stroke="#555" stroke-width="0.8"/>
<line x1="25.5" y1="128.0" x2="29" y2="128.0" stroke="#555" stroke-width="0.8"/>
<line x1="25.5" y1="199.3" x2="29" y2="199.3" stroke="#555" stroke-width="0.8"/>
<line x1="25.5" y1="106.5" x2="27.5" y2="106.5" stroke="#777" stroke-width="0.6"/>
<line x1="322" y1="106.5" x2="324.5" y2="106.5" stroke="#777" stroke-width="0.6"/>
<line x1="25.5" y1="93.9" x2="27.5" y2="93.9" stroke="#777" stroke-width="0.6"/>
<line x1="322" y1="93.9" x2="324.5" y2="93.9" stroke="#777" stroke-width="0.6"/>
<line x1="25.5" y1="85.0" x2="27.5" y2="85.0" stroke="#777" stroke-width="0.6"/>
<line x1="322" y1="85.0" x2="324.5" y2="85.0" stroke="#777" stroke-width="0.6"/>
<line x1="25.5" y1="78.1" x2="27.5" y2="78.1" stroke="#777" stroke-width="0.6"/>
<line x1="322" y1="78.1" x2="324.5" y2="78.1" stroke="#777" stroke-width="0.6"/>
<line x1="25.5" y1="72.4" x2="27.5" y2="72.4" stroke="#777" stroke-width="0.6"/>
<line x1="322" y1="72.4" x2="324.5" y2="72.4" stroke="#777" stroke-width="0.6"/>
<line x1="25.5" y1="67.7" x2="27.5" y2="67.7" stroke="#777" stroke-width="0.6"/>
<line x1="322" y1="67.7" x2="324.5" y2="67.7" stroke="#777" stroke-width="0.6"/>
<line x1="25.5" y1="63.5" x2="27.5" y2="63.5" stroke="#777" stroke-width="0.6"/>
<line x1="322" y1="63.5" x2="324.5" y2="63.5" stroke="#777" stroke-width="0.6"/>
<line x1="25.5" y1="59.9" x2="27.5" y2="59.9" stroke="#777" stroke-width="0.6"/>
<line x1="322" y1="59.9" x2="324.5" y2="59.9" stroke="#777" stroke-width="0.6"/>
<line x1="25.5" y1="177.8" x2="27.5" y2="177.8" stroke="#777" stroke-width="0.6"/>
<line x1="322" y1="177.8" x2="324.5" y2="177.8" stroke="#777" stroke-width="0.6"/>
<line x1="25.5" y1="165.3" x2="27.5" y2="165.3" stroke="#777" stroke-width="0.6"/>
<line x1="322" y1="165.3" x2="324.5" y2="165.3" stroke="#777" stroke-width="0.6"/>
<line x1="25.5" y1="156.4" x2="27.5" y2="156.4" stroke="#777" stroke-width="0.6"/>
<line x1="322" y1="156.4" x2="324.5" y2="156.4" stroke="#777" stroke-width="0.6"/>
<line x1="25.5" y1="149.5" x2="27.5" y2="149.5" stroke="#777" stroke-width="0.6"/>
<line x1="322" y1="149.5" x2="324.5" y2="149.5" stroke="#777" stroke-width="0.6"/>
<line x1="25.5" y1="143.8" x2="27.5" y2="143.8" stroke="#777" stroke-width="0.6"/>
<line x1="322" y1="143.8" x2="324.5" y2="143.8" stroke="#777" stroke-width="0.6"/>
<line x1="25.5" y1="139.0" x2="27.5" y2="139.0" stroke="#777" stroke-width="0.6"/>
<line x1="322" y1="139.0" x2="324.5" y2="139.0" stroke="#777" stroke-width="0.6"/>
<line x1="25.5" y1="134.9" x2="27.5" y2="134.9" stroke="#777" stroke-width="0.6"/>
<line x1="322" y1="134.9" x2="324.5" y2="134.9" stroke="#777" stroke-width="0.6"/>
<line x1="25.5" y1="131.3" x2="27.5" y2="131.3" stroke="#777" stroke-width="0.6"/>
<line x1="322" y1="131.3" x2="324.5" y2="131.3" stroke="#777" stroke-width="0.6"/>
<text x="16.5" y="57" font-size="5" fill="#777">10<tspan font-size="3.5" dy="-2">1</tspan></text>
<text x="16.2" y="128.6" font-size="5" fill="#777">10<tspan font-size="3.5" dy="-2">0</tspan></text>
<text x="15.5" y="200" font-size="5" fill="#777">10<tspan font-size="3.5" dy="-2">-1</tspan></text>
<text transform="translate(12.5,141) rotate(-90)" font-size="4.5" text-anchor="middle" fill="#777">Log Ratio</text>
<text x="31.4" y="37.2" font-size="5.2" font-weight="bold" text-anchor="middle" fill="#222">1</text>
<text x="55.3" y="37.2" font-size="5.2" font-weight="bold" text-anchor="middle" fill="#222">2</text>
<text x="77.2" y="37.2" font-size="5.2" font-weight="bold" text-anchor="middle" fill="#222">3</text>
<text x="98.0" y="37.2" font-size="5.2" font-weight="bold" text-anchor="middle" fill="#222">4</text>
<text x="115.3" y="37.2" font-size="5.2" font-weight="bold" text-anchor="middle" fill="#222">5</text>
<text x="132.2" y="37.2" font-size="5.2" font-weight="bold" text-anchor="middle" fill="#222">6</text>
<text x="149.4" y="37.2" font-size="5.2" font-weight="bold" text-anchor="middle" fill="#222">7</text>
<text x="164.4" y="37.2" font-size="5.2" font-weight="bold" text-anchor="middle" fill="#222">8</text>
<text x="176.4" y="37.2" font-size="5.2" font-weight="bold" text-anchor="middle" fill="#222">9</text>
<text x="190.5" y="37.2" font-size="5.2" font-weight="bold" text-anchor="middle" fill="#222">10</text>
<text x="203.8" y="37.2" font-size="5.2" font-weight="bold" text-anchor="middle" fill="#222">11</text>
<text x="216.0" y="37.2" font-size="5.2" font-weight="bold" text-anchor="middle" fill="#222">12</text>
<text x="227.5" y="37.2" font-size="5.2" font-weight="bold" text-anchor="middle" fill="#222">13</text>
<text x="238.1" y="37.2" font-size="5.2" font-weight="bold" text-anchor="middle" fill="#222">14</text>
<text x="248.3" y="37.2" font-size="5.2" font-weight="bold" text-anchor="middle" fill="#222">15</text>
<text x="258.3" y="37.2" font-size="5.2" font-weight="bold" text-anchor="middle" fill="#222">16</text>
<text x="266.6" y="37.2" font-size="5.2" font-weight="bold" text-anchor="middle" fill="#222">17</text>
<text x="274.4" y="37.2" font-size="5.2" font-weight="bold" text-anchor="middle" fill="#222">18</text>
<text x="281.6" y="37.2" font-size="5.2" font-weight="bold" text-anchor="middle" fill="#222">19</text>
<text x="289.4" y="37.2" font-size="5.2" font-weight="bold" text-anchor="middle" fill="#222">20</text>
<text x="296.0" y="37.2" font-size="5.2" font-weight="bold" text-anchor="middle" fill="#222">. .</text>
<text x="305.5" y="37.2" font-size="5.2" font-weight="bold" text-anchor="middle" fill="#222">X</text>
<text x="316.5" y="37.2" font-size="5.2" font-weight="bold" text-anchor="middle" fill="#222">Y</text>
<text x="164.2" y="49.1" font-size="8.6" font-weight="bold" fill="#111">MYC</text>
<text x="148.9" y="81.8" font-size="8.6" font-weight="bold" fill="#111">RD2</text>
<text x="262.8" y="58.8" font-size="8.9" font-weight="bold" fill="#111">ERBB2</text>
<text x="276.8" y="206.0" font-size="8.5" font-weight="bold" fill="#111">DCC</text>
<rect x="381" y="111" width="283" height="31" fill="#b6b6b6" filter="url(#bl3)"/>
<path d="M456 124.5h2M495 101.5h2M470 128.5h2M437 123.5h2M495 108.5h2M394 102.5h2M437 125.5h2M450 142.5h2M382 127.5h2M492 135.5h2M473 138.5h2M397 145.5h2M455 126.5h2M486 126.5h2M406 133.5h2M486 162.5h2M415 141.5h2M463 121.5h2M405 144.5h2M498 118.5h2M489 121.5h2M400 137.5h2M398 135.5h2M454 129.5h2M381 120.5h2M418 114.5h2M480 114.5h2M439 126.5h2M466 159.5h2M383 138.5h2M471 126.5h2M476 123.5h2M425 123.5h2M386 124.5h2M402 133.5h2M472 123.5h2M493 136.5h2M423 121.5h2M444 126.5h2M471 119.5h2M477 127.5h2M495 122.5h2M391 115.5h2M492 140.5h2M422 140.5h2M418 117.5h2M419 127.5h2M398 130.5h2M464 133.5h2M386 125.5h2M500 112.5h2M409 122.5h2M452 132.5h2M432 112.5h2M387 128.5h2M440 123.5h2M482 140.5h2M496 141.5h2M457 126.5h2M433 119.5h2M398 131.5h2M435 116.5h2M502 147.5h2M435 96.5h2M440 123.5h2M416 110.5h2M429 133.5h2M500 135.5h2M497 114.5h2M421 114.5h2M391 122.5h2M486 148.5h2M424 130.5h2M465 103.5h2M461 126.5h2M466 112.5h2M414 102.5h2M464 127.5h2M416 143.5h2M451 119.5h2M382 115.5h2M462 122.5h2M437 133.5h2M477 108.5h2M423 112.5h2M481 108.5h2M423 140.5h2M464 103.5h2M499 140.5h2M445 121.5h2M400 141.5h2M438 98.5h2M464 121.5h2M401 104.5h2M475 108.5h2M431 115.5h2M456 128.5h2M468 106.5h2M384 133.5h2M459 137.5h2M407 118.5h2M385 108.5h2M438 126.5h2M397 129.5h2M419 129.5h2M385 133.5h2M437 112.5h2M452 137.5h2M409 125.5h2M430 125.5h2M414 119.5h2M481 129.5h2M426 143.5h2M392 129.5h2M446 116.5h2M497 140.5h2M480 104.5h2M458 137.5h2M425 136.5h2M449 139.5h2M497 143.5h2M423 121.5h2M489 131.5h2M449 125.5h2M455 137.5h2M489 139.5h2M426 116.5h2M416 129.5h2M498 100.5h2M491 148.5h2M453 123.5h2M441 162.5h2M431 109.5h2M440 160.5h2M415 118.5h2M456 126.5h2M434 119.5h2M481 147.5h2M382 115.5h2M494 123.5h2M475 125.5h2M399 135.5h2M500 120.5h2M438 142.5h2M459 108.5h2M395 112.5h2M473 120.5h2M421 141.5h2M416 110.5h2M424 122.5h2M471 122.5h2M411 123.5h2M436 149.5h2M447 111.5h2M382 127.5h2M450 111.5h2M466 115.5h2M491 114.5h2M427 105.5h2M404 141.5h2M416 127.5h2M482 121.5h2M465 115.5h2M475 129.5h2M491 134.5h2M447 137.5h2M441 121.5h2M451 132.5h2M479 134.5h2M480 129.5h2M476 123.5h2M468 122.5h2M499 146.5h2M386 125.5h2M483 129.5h2M496 144.5h2M467 132.5h2M492 133.5h2M398 114.5h2M400 116.5h2M456 131.5h2M426 127.5h2M389 141.5h2M470 131.5h2M487 134.5h2M418 136.5h2M453 94.5h2M426 127.5h2M387 123.5h2M457 118.5h2M442 139.5h2M456 116.5h2M412 115.5h2M471 122.5h2M443 131.5h2M425 132.5h2M470 134.5h2M460 144.5h2M391 122.5h2M395 120.5h2M452 127.5h2M439 152.5h2M420 126.5h2M468 122.5h2M387 144.5h2M463 152.5h2M407 152.5h2M461 149.5h2M480 137.5h2M423 139.5h2M409 116.5h2M423 141.5h2M427 141.5h2M459 144.5h2M478 101.5h2M443 136.5h2M452 106.5h2M428 115.5h2M392 134.5h2M385 127.5h2M488 103.5h2M380 128.5h2M437 139.5h2M432 113.5h2M437 131.5h2M400 130.5h2M426 104.5h2M399 143.5h2M411 124.5h2M415 133.5h2M409 122.5h2M493 125.5h2M425 144.5h2M462 117.5h2M438 131.5h2M461 123.5h2M416 115.5h2M400 106.5h2M405 134.5h2M390 126.5h2M429 137.5h2M418 123.5h2M437 121.5h2M467 146.5h2M400 126.5h2M494 145.5h2M459 92.5h2M381 140.5h2M388 127.5h2M386 112.5h2M447 141.5h2M423 124.5h2M392 151.5h2M440 137.5h2M494 134.5h2M386 128.5h2M429 134.5h2M430 129.5h2M417 128.5h2M498 126.5h2M402 112.5h2M445 124.5h2M391 123.5h2M446 131.5h2M492 104.5h2M406 110.5h2M382 110.5h2M450 121.5h2M426 110.5h2M491 110.5h2M418 101.5h2M407 133.5h2M394 123.5h2M474 130.5h2M480 122.5h2M390 131.5h2M410 137.5h2M450 132.5h2M410 144.5h2M386 133.5h2M405 122.5h2M392 137.5h2M431 116.5h2M448 145.5h2M489 112.5h2M450 107.5h2M434 133.5h2M496 107.5h2M469 122.5h2M479 115.5h2M427 128.5h2M401 129.5h2M412 120.5h2M388 115.5h2M473 122.5h2M386 124.5h2M396 109.5h2M496 146.5h2M455 127.5h2M424 139.5h2M420 143.5h2M481 126.5h2M469 138.5h2M401 134.5h2M466 95.5h2M477 135.5h2M395 113.5h2M436 152.5h2M433 104.5h2M494 133.5h2M445 143.5h2M393 122.5h2M479 121.5h2M499 127.5h2M384 112.5h2M487 118.5h2M428 127.5h2M405 135.5h2M449 111.5h2M410 142.5h2M423 125.5h2M482 163.5h2M483 115.5h2M398 116.5h2M481 121.5h2M401 125.5h2M392 119.5h2M404 97.5h2M477 116.5h2M485 143.5h2M456 129.5h2M382 113.5h2M442 118.5h2M428 121.5h2M419 136.5h2M427 127.5h2M438 121.5h2M500 112.5h2M479 143.5h2M462 116.5h2M445 129.5h2M452 113.5h2M463 114.5h2M390 123.5h2M391 114.5h2M473 139.5h2M467 114.5h2M414 154.5h2M467 145.5h2M462 135.5h2M496 141.5h2M482 113.5h2M470 118.5h2M443 119.5h2M489 127.5h2M446 161.5h2M428 138.5h2M402 125.5h2M460 148.5h2M455 108.5h2M427 141.5h2M447 138.5h2M467 106.5h2M406 145.5h2M417 123.5h2M489 143.5h2M401 110.5h2M408 108.5h2M388 102.5h2M487 115.5h2M469 113.5h2M444 132.5h2M490 122.5h2M454 135.5h2M498 126.5h2M394 128.5h2M449 118.5h2M403 120.5h2M452 113.5h2M469 109.5h2M388 100.5h2M497 127.5h2M419 136.5h2M493 110.5h2M408 117.5h2M438 101.5h2M393 128.5h2M392 132.5h2M399 120.5h2M472 121.5h2M470 135.5h2M467 103.5h2M492 143.5h2M497 120.5h2M393 129.5h2M405 128.5h2M426 106.5h2M470 130.5h2M390 111.5h2M426 134.5h2M395 114.5h2M463 118.5h2M440 156.5h2M389 118.5h2M473 123.5h2M394 114.5h2M438 112.5h2M492 142.5h2M427 121.5h2M465 140.5h2M476 115.5h2M421 120.5h2M483 121.5h2M431 124.5h2M409 122.5h2M413 121.5h2M392 87.5h2M446 130.5h2M427 130.5h2M423 123.5h2M479 148.5h2M424 126.5h2M382 125.5h2M427 140.5h2M443 134.5h2M499 128.5h2M434 119.5h2M414 126.5h2M496 119.5h2M387 110.5h2M428 128.5h2M452 111.5h2M490 113.5h2M385 110.5h2M383 127.5h2M486 111.5h2M481 136.5h2M502 118.5h2M472 131.5h2M475 120.5h2M432 167.5h2M407 118.5h2M431 123.5h2M415 140.5h2M461 131.5h2M436 131.5h2M389 104.5h2M488 144.5h2M404 150.5h2M497 128.5h2M453 131.5h2M492 132.5h2M494 133.5h2M432 127.5h2M413 125.5h2M474 112.5h2M399 89.5h2M466 121.5h2M391 140.5h2M426 137.5h2M425 108.5h2M498 127.5h2M410 116.5h2M447 121.5h2M469 135.5h2M466 136.5h2M381 127.5h2M442 111.5h2M454 126.5h2M441 121.5h2M385 116.5h2M383 133.5h2M416 107.5h2M493 131.5h2M425 104.5h2M494 121.5h2M496 136.5h2M401 124.5h2M493 138.5h2M470 132.5h2M444 102.5h2M417 144.5h2M447 128.5h2M423 119.5h2M440 117.5h2M435 121.5h2M388 135.5h2M398 131.5h2M498 124.5h2M475 136.5h2M470 123.5h2M456 150.5h2M427 118.5h2M412 118.5h2M487 99.5h2M402 136.5h2M397 146.5h2M448 132.5h2M381 149.5h2M440 132.5h2M486 142.5h2M395 129.5h2M468 111.5h2M407 113.5h2M496 129.5h2M463 128.5h2M392 138.5h2M459 131.5h2M489 124.5h2M458 120.5h2M483 141.5h2M412 140.5h2M417 147.5h2M443 125.5h2M490 117.5h2M407 127.5h2M412 133.5h2M391 122.5h2M423 137.5h2M456 132.5h2M459 128.5h2M440 131.5h2M464 109.5h2M491 131.5h2M398 123.5h2M445 140.5h2M490 107.5h2M431 118.5h2M476 131.5h2M393 116.5h2M412 108.5h2M412 147.5h2M457 104.5h2M394 99.5h2M474 122.5h2M457 130.5h2M483 121.5h2M498 123.5h2M427 111.5h2M412 109.5h2M430 122.5h2M388 130.5h2M467 102.5h2M388 139.5h2M417 138.5h2M476 154.5h2M489 119.5h2M431 125.5h2M408 142.5h2M416 128.5h2M393 94.5h2M495 123.5h2M437 143.5h2M394 139.5h2M446 159.5h2M446 145.5h2M433 123.5h2M498 142.5h2M432 129.5h2M492 140.5h2M427 105.5h2M420 103.5h2M479 118.5h2M387 124.5h2M494 111.5h2M492 128.5h2M450 114.5h2M471 125.5h2M411 103.5h2M454 129.5h2M397 131.5h2M469 145.5h2M393 132.5h2M401 125.5h2M391 108.5h2M484 131.5h2M400 123.5h2M451 119.5h2M411 122.5h2M468 128.5h2M395 126.5h2M452 113.5h2M458 98.5h2M492 127.5h2M415 111.5h2M396 148.5h2M431 94.5h2M396 144.5h2M460 126.5h2M380 104.5h2M495 115.5h2M461 149.5h2M431 135.5h2M422 108.5h2M469 104.5h2M455 124.5h2M477 133.5h2M380 138.5h2M476 128.5h2M386 100.5h2M445 118.5h2M405 126.5h2M499 131.5h2M481 117.5h2M459 111.5h2M408 138.5h2M414 144.5h2M451 126.5h2M471 111.5h2M417 125.5h2M470 113.5h2M472 138.5h2M434 123.5h2M412 121.5h2M482 128.5h2M382 129.5h2M473 137.5h2M434 134.5h2M478 109.5h2M383 127.5h2M477 127.5h2M482 107.5h2M455 120.5h2M455 100.5h2M383 155.5h2M405 98.5h2M388 122.5h2M425 130.5h2M391 125.5h2M432 126.5h2M417 123.5h2M400 112.5h2M496 141.5h2M407 113.5h2M429 112.5h2M383 129.5h2M436 127.5h2M485 105.5h2M463 127.5h2M492 98.5h2M477 108.5h2M460 135.5h2M487 122.5h2M403 111.5h2M420 125.5h2M474 145.5h2M404 100.5h2M425 120.5h2M392 115.5h2M398 117.5h2M415 133.5h2M432 125.5h2M393 142.5h2M497 126.5h2M482 111.5h2M390 152.5h2M399 130.5h2M453 125.5h2M472 101.5h2M435 128.5h2M492 112.5h2M401 115.5h2M432 102.5h2M408 134.5h2M416 127.5h2M445 120.5h2M407 116.5h2M392 110.5h2M469 115.5h2M484 131.5h2M475 118.5h2M395 144.5h2M443 141.5h2M492 134.5h2M458 140.5h2M437 129.5h2M434 131.5h2M435 134.5h2M389 120.5h2M416 116.5h2M391 115.5h2M416 154.5h2M392 107.5h2M391 151.5h2M422 130.5h2M436 144.5h2M392 133.5h2M464 116.5h2M435 128.5h2M408 122.5h2M415 123.5h2M441 150.5h2M422 99.5h2M449 124.5h2M435 115.5h2M430 110.5h2M432 135.5h2M487 135.5h2M417 113.5h2M452 138.5h2M402 105.5h2M385 132.5h2M394 126.5h2M388 96.5h2M390 117.5h2M460 117.5h2M384 117.5h2M421 127.5h2M464 99.5h2M482 123.5h2M455 130.5h2M438 118.5h2M419 120.5h2M488 120.5h2M425 132.5h2M494 94.5h2M428 153.5h2M396 90.5h2M471 123.5h2M414 110.5h2M401 99.5h2M429 141.5h2M411 115.5h2M455 115.5h2M435 124.5h2M480 128.5h2M460 126.5h2M451 141.5h2M441 144.5h2M418 112.5h2M421 119.5h2M494 120.5h2M386 114.5h2M444 125.5h2M386 131.5h2M476 164.5h2M407 122.5h2M395 126.5h2M404 136.5h2M410 124.5h2M388 158.5h2M470 153.5h2M492 137.5h2M411 105.5h2M401 124.5h2M402 130.5h2M468 123.5h2M417 125.5h2M483 138.5h2M469 108.5h2M491 113.5h2M450 120.5h2M415 135.5h2M436 127.5h2M395 134.5h2M425 130.5h2M496 100.5h2M471 127.5h2M452 119.5h2M419 137.5h2M457 139.5h2M416 106.5h2M398 143.5h2M408 126.5h2M381 122.5h2M405 134.5h2M461 116.5h2M469 120.5h2M405 131.5h2M452 122.5h2M466 123.5h2M486 110.5h2M457 123.5h2M403 120.5h2M437 119.5h2M470 123.5h2M422 109.5h2M482 128.5h2M417 108.5h2M460 118.5h2M418 122.5h2M453 140.5h2M459 135.5h2M448 136.5h2M404 149.5h2M383 143.5h2M441 124.5h2M413 128.5h2M400 101.5h2M390 142.5h2M423 119.5h2M383 108.5h2M408 120.5h2M434 153.5h2M412 110.5h2M398 127.5h2M461 122.5h2M446 110.5h2M474 143.5h2M386 120.5h2M442 119.5h2M463 115.5h2M425 111.5h2M462 113.5h2M493 120.5h2M466 105.5h2M408 111.5h2M388 113.5h2M472 127.5h2M444 140.5h2M468 126.5h2M494 110.5h2M434 88.5h2M420 108.5h2M467 130.5h2M475 123.5h2M459 102.5h2M485 119.5h2M398 107.5h2M465 127.5h2M497 133.5h2M388 101.5h2M432 152.5h2M472 108.5h2M421 127.5h2M461 109.5h2M458 139.5h2M498 109.5h2M440 106.5h2M449 126.5h2M386 136.5h2M441 122.5h2M385 136.5h2M414 153.5h2M417 129.5h2M461 116.5h2M449 137.5h2M420 116.5h2M412 125.5h2M395 125.5h2M398 116.5h2M495 146.5h2M423 125.5h2M457 136.5h2M438 137.5h2M413 136.5h2M398 126.5h2M434 119.5h2M473 99.5h2M419 118.5h2M495 152.5h2M432 133.5h2M381 123.5h2M467 165.5h2M470 126.5h2M418 124.5h2M437 149.5h2M398 109.5h2M500 114.5h2M390 121.5h2M432 111.5h2M418 123.5h2M495 114.5h2M475 127.5h2M410 120.5h2M409 128.5h2M501 113.5h2M462 114.5h2M462 112.5h2M398 123.5h2M384 135.5h2M382 134.5h2M462 120.5h2M418 133.5h2M440 132.5h2M439 150.5h2M389 149.5h2M450 139.5h2M416 124.5h2M488 121.5h2M494 123.5h2M432 121.5h2M482 117.5h2M409 120.5h2M388 117.5h2M434 124.5h2M489 138.5h2M475 116.5h2M397 150.5h2M439 116.5h2M488 114.5h2M419 161.5h2M493 141.5h2M469 99.5h2M389 121.5h2M491 144.5h2M463 137.5h2M422 128.5h2M401 127.5h2M426 141.5h2M413 98.5h2M453 142.5h2M472 128.5h2M487 124.5h2M392 132.5h2M472 146.5h2M455 104.5h2M432 128.5h2M404 126.5h2M385 131.5h2M496 137.5h2M430 121.5h2M414 128.5h2M401 110.5h2M488 129.5h2M436 123.5h2M407 117.5h2M416 115.5h2M417 113.5h2M440 115.5h2M463 93.5h2M434 130.5h2M476 142.5h2M452 117.5h2M476 123.5h2M431 117.5h2M399 145.5h2M420 128.5h2M411 128.5h2M462 125.5h2M424 107.5h2M490 133.5h2M465 133.5h2M403 164.5h2M451 118.5h2M488 116.5h2M454 123.5h2M481 118.5h2M415 109.5h2M419 110.5h2M412 107.5h2M460 157.5h2M438 107.5h2M412 118.5h2M390 139.5h2M453 136.5h2M499 106.5h2M500 107.5h2M441 112.5h2M425 132.5h2M473 119.5h2M496 122.5h2M444 125.5h2M452 108.5h2M450 130.5h2M469 130.5h2M423 142.5h2M471 143.5h2M473 120.5h2M473 130.5h2M406 115.5h2M413 107.5h2M381 105.5h2M452 112.5h2M500 128.5h2M433 146.5h2M451 122.5h2M447 134.5h2M454 140.5h2M441 115.5h2M459 116.5h2M413 115.5h2M463 122.5h2M401 127.5h2M424 117.5h2M440 107.5h2M479 119.5h2M471 136.5h2M463 100.5h2M383 137.5h2M445 142.5h2M404 104.5h2M478 95.5h2M420 119.5h2M461 100.5h2M421 94.5h2M428 139.5h2M389 139.5h2M483 130.5h2M496 132.5h2M441 125.5h2M410 113.5h2M425 134.5h2M490 124.5h2M487 121.5h2M469 116.5h2M490 117.5h2M454 120.5h2M496 119.5h2M405 121.5h2M457 126.5h2M426 125.5h2M412 120.5h2M448 125.5h2M462 118.5h2M444 141.5h2M476 108.5h2M449 116.5h2M480 130.5h2M485 129.5h2M482 153.5h2M454 126.5h2M484 121.5h2M394 113.5h2M473 121.5h2M413 111.5h2M425 139.5h2M406 119.5h2M500 133.5h2M404 124.5h2M469 114.5h2M463 135.5h2M413 118.5h2M407 120.5h2M447 100.5h2M398 137.5h2M492 124.5h2M393 137.5h2M419 137.5h2M482 123.5h2M499 122.5h2M433 117.5h2M401 125.5h2M400 137.5h2M463 114.5h2M411 123.5h2M398 136.5h2M389 134.5h2M444 124.5h2M413 148.5h2M484 154.5h2M408 115.5h2M493 98.5h2M437 130.5h2M446 124.5h2M425 147.5h2M488 121.5h2M384 111.5h2M413 114.5h2M451 131.5h2M381 98.5h2M496 131.5h2M464 118.5h2M502 108.5h2M476 110.5h2M494 129.5h2M447 116.5h2M461 118.5h2M440 175.5h2M501 106.5h2M496 130.5h2M421 126.5h2M481 115.5h2M393 121.5h2M411 130.5h2M471 130.5h2M404 134.5h2M396 141.5h2M481 109.5h2M468 103.5h2M469 123.5h2M426 139.5h2M428 137.5h2M477 118.5h2M457 133.5h2M450 130.5h2M476 126.5h2M426 135.5h2M436 99.5h2M454 140.5h2M414 116.5h2M400 138.5h2M428 143.5h2M486 133.5h2M489 114.5h2M448 118.5h2M448 132.5h2M441 140.5h2M404 101.5h2M458 134.5h2M420 126.5h2M447 144.5h2M416 112.5h2M456 127.5h2M487 114.5h2M449 137.5h2M461 125.5h2M492 135.5h2M398 121.5h2M440 116.5h2M435 126.5h2M497 133.5h2M385 139.5h2M425 142.5h2M404 131.5h2M406 88.5h2M466 88.5h2M453 153.5h2M489 121.5h2M434 119.5h2M466 128.5h2M501 130.5h2M492 122.5h2M465 121.5h2M500 129.5h2M434 104.5h2M457 139.5h2M389 118.5h2M398 145.5h2M494 119.5h2M398 141.5h2M432 137.5h2M436 127.5h2M475 147.5h2M468 111.5h2M428 132.5h2M437 118.5h2M497 138.5h2M478 138.5h2M480 140.5h2M422 149.5h2M389 105.5h2M456 114.5h2M447 135.5h2M485 106.5h2M411 105.5h2M477 118.5h2M478 130.5h2M450 129.5h2M440 153.5h2M462 137.5h2M446 124.5h2M447 121.5h2M498 141.5h2M465 123.5h2M455 145.5h2M425 119.5h2M475 114.5h2M427 130.5h2M401 115.5h2M420 144.5h2M501 144.5h2M431 127.5h2M484 152.5h2M410 120.5h2M396 140.5h2M406 120.5h2M398 129.5h2M454 116.5h2M497 153.5h2M462 122.5h2M421 147.5h2M486 107.5h2M471 134.5h2M466 125.5h2M399 113.5h2M425 129.5h2M415 124.5h2M418 100.5h2M401 135.5h2M393 137.5h2M468 126.5h2M435 115.5h2M424 112.5h2M430 157.5h2M469 133.5h2M392 132.5h2M442 147.5h2M471 125.5h2M480 118.5h2M405 139.5h2M479 142.5h2M417 109.5h2M416 139.5h2M434 132.5h2M495 125.5h2M488 135.5h2M404 125.5h2M433 139.5h2M450 151.5h2M483 109.5h2M496 126.5h2M395 129.5h2M452 151.5h2M475 148.5h2M454 124.5h2M472 116.5h2M420 123.5h2M493 122.5h2M458 124.5h2M501 114.5h2M436 114.5h2M457 113.5h2M490 115.5h2M488 129.5h2M468 104.5h2M404 115.5h2M405 126.5h2M496 128.5h2M482 149.5h2M429 133.5h2M459 126.5h2M466 114.5h2M400 139.5h2M460 130.5h2M449 102.5h2M450 135.5h2M430 125.5h2M389 155.5h2M463 140.5h2M449 115.5h2M457 100.5h2M432 98.5h2M496 147.5h2M399 133.5h2M422 108.5h2M465 122.5h2M448 147.5h2M451 152.5h2M496 135.5h2M473 119.5h2M394 145.5h2M447 117.5h2M415 137.5h2M389 116.5h2M402 129.5h2M421 127.5h2M499 127.5h2M387 136.5h2M395 116.5h2M432 121.5h2M446 125.5h2M381 119.5h2M483 145.5h2M402 98.5h2M419 143.5h2M395 126.5h2M422 152.5h2M461 142.5h2M404 118.5h2M439 118.5h2M455 138.5h2M499 119.5h2M479 110.5h2M442 132.5h2M413 143.5h2M406 113.5h2M384 135.5h2M424 140.5h2M425 121.5h2M436 120.5h2M429 110.5h2M451 122.5h2M432 145.5h2M466 114.5h2M404 140.5h2M439 123.5h2M396 125.5h2M436 127.5h2M483 101.5h2M478 134.5h2M399 123.5h2M397 127.5h2M419 117.5h2M397 133.5h2M409 120.5h2M452 124.5h2M451 121.5h2M445 110.5h2M477 120.5h2M480 133.5h2M385 116.5h2M437 144.5h2M439 128.5h2M471 136.5h2M464 106.5h2M421 122.5h2M407 106.5h2M486 109.5h2M404 128.5h2M481 103.5h2M483 129.5h2M443 112.5h2M409 117.5h2M477 128.5h2M384 123.5h2M437 137.5h2M422 132.5h2M410 128.5h2M492 108.5h2M404 112.5h2M474 138.5h2M432 130.5h2M449 137.5h2M498 110.5h2M482 104.5h2M432 100.5h2M468 124.5h2M429 133.5h2M416 145.5h2M412 125.5h2M459 145.5h2M494 112.5h2M488 117.5h2M397 92.5h2M421 104.5h2M399 127.5h2M469 127.5h2M430 136.5h2M383 102.5h2M418 124.5h2M384 135.5h2M411 117.5h2M445 137.5h2M500 131.5h2M490 129.5h2M415 114.5h2M489 122.5h2M494 120.5h2M425 122.5h2M466 115.5h2M428 121.5h2M388 105.5h2M427 139.5h2M437 135.5h2M431 143.5h2M427 127.5h2M390 114.5h2M458 125.5h2M422 121.5h2M488 111.5h2M396 124.5h2M415 100.5h2M461 110.5h2M498 121.5h2M422 128.5h2M425 130.5h2M491 127.5h2M489 129.5h2M499 129.5h2M401 122.5h2M406 134.5h2M384 103.5h2M389 130.5h2M440 141.5h2M490 142.5h2M487 118.5h2M467 123.5h2M389 127.5h2M489 114.5h2M415 124.5h2M409 110.5h2M440 118.5h2M447 128.5h2M445 121.5h2M455 114.5h2M404 115.5h2M476 124.5h2M403 124.5h2M417 130.5h2M446 126.5h2M489 132.5h2M418 128.5h2M482 138.5h2M471 139.5h2M421 115.5h2M441 144.5h2M482 132.5h2M491 134.5h2M478 108.5h2M416 118.5h2M494 122.5h2M442 142.5h2M456 159.5h2M406 136.5h2M456 110.5h2M487 121.5h2M450 135.5h2M405 120.5h2M405 111.5h2M395 134.5h2M491 140.5h2M477 135.5h2M478 111.5h2M420 106.5h2M412 146.5h2M456 121.5h2M449 123.5h2M477 136.5h2M489 116.5h2M385 142.5h2M479 114.5h2M435 104.5h2M407 112.5h2M403 126.5h2M408 98.5h2M447 114.5h2M483 124.5h2M415 128.5h2M398 112.5h2M497 129.5h2M384 130.5h2M423 133.5h2M495 126.5h2M411 123.5h2M382 116.5h2M381 149.5h2M436 148.5h2M411 143.5h2M419 131.5h2M402 106.5h2M422 133.5h2M448 131.5h2M385 141.5h2M492 141.5h2M438 117.5h2M429 125.5h2M466 108.5h2M434 108.5h2M402 137.5h2M422 126.5h2M485 134.5h2M418 125.5h2M493 121.5h2M437 125.5h2M454 119.5h2M479 124.5h2M427 131.5h2M474 125.5h2M420 120.5h2M491 124.5h2M486 130.5h2M480 106.5h2M471 132.5h2M482 133.5h2M492 145.5h2M476 112.5h2M499 123.5h2M501 130.5h2M489 110.5h2M486 118.5h2M455 125.5h2M397 116.5h2M441 140.5h2M458 139.5h2M418 96.5h2M496 120.5h2M472 136.5h2M499 101.5h2M481 124.5h2M419 102.5h2M383 104.5h2M395 137.5h2M431 113.5h2M477 118.5h2M423 128.5h2M473 115.5h2M382 113.5h2M501 134.5h2M476 130.5h2M494 120.5h2M471 113.5h2M461 105.5h2M447 114.5h2M446 124.5h2M393 148.5h2M392 122.5h2M486 122.5h2M404 115.5h2M439 127.5h2M455 130.5h2M498 141.5h2M398 127.5h2M393 134.5h2M382 158.5h2M385 116.5h2M481 117.5h2M487 121.5h2M394 112.5h2M465 110.5h2M409 136.5h2M416 140.5h2M454 125.5h2M468 122.5h2M499 111.5h2M420 135.5h2M487 126.5h2M441 131.5h2M434 117.5h2M493 121.5h2M445 108.5h2M385 139.5h2M492 130.5h2M435 116.5h2M385 134.5h2M453 91.5h2M499 99.5h2M483 130.5h2M493 110.5h2M385 129.5h2M496 140.5h2M453 134.5h2M401 118.5h2M381 134.5h2M429 109.5h2M465 139.5h2M495 132.5h2M454 118.5h2M464 127.5h2M421 118.5h2M455 113.5h2M431 152.5h2M466 151.5h2M498 137.5h2M497 111.5h2M500 146.5h2M393 142.5h2M500 134.5h2M384 135.5h2M438 108.5h2M398 109.5h2M405 124.5h2M490 124.5h2M456 117.5h2M453 160.5h2M488 111.5h2M387 118.5h2M471 129.5h2M390 134.5h2M458 109.5h2M495 140.5h2M457 109.5h2M447 122.5h2M404 125.5h2M464 113.5h2M483 132.5h2M427 122.5h2M481 101.5h2M409 113.5h2M452 116.5h2M391 129.5h2M476 134.5h2M475 112.5h2M434 137.5h2M446 124.5h2M497 137.5h2M488 130.5h2M485 130.5h2M434 114.5h2M454 111.5h2M490 140.5h2M412 147.5h2M390 120.5h2M478 140.5h2M451 133.5h2M426 123.5h2M450 108.5h2M442 114.5h2M393 130.5h2M389 102.5h2M479 145.5h2M456 126.5h2M416 134.5h2M456 130.5h2M445 128.5h2M456 118.5h2M417 133.5h2M394 127.5h2M400 160.5h2M424 134.5h2M472 111.5h2M411 132.5h2M495 133.5h2M475 158.5h2M485 157.5h2M460 147.5h2M451 112.5h2M496 119.5h2M499 132.5h2M445 123.5h2M465 136.5h2M472 150.5h2M395 119.5h2M487 144.5h2M501 121.5h2M451 150.5h2M424 125.5h2M385 131.5h2M433 131.5h2M419 131.5h2M397 128.5h2M499 135.5h2M432 113.5h2M497 114.5h2M481 149.5h2M470 113.5h2M487 116.5h2M420 141.5h2M493 119.5h2M409 178.5h2M422 124.5h2M406 108.5h2M396 131.5h2M442 119.5h2M482 110.5h2M400 126.5h2M494 109.5h2M428 113.5h2M467 119.5h2M424 131.5h2M473 135.5h2M460 113.5h2M494 104.5h2M411 96.5h2M486 125.5h2M452 108.5h2M401 128.5h2M488 125.5h2M429 114.5h2M487 116.5h2M470 112.5h2M406 138.5h2M495 141.5h2M445 150.5h2M398 134.5h2M463 124.5h2M412 141.5h2M488 142.5h2M489 116.5h2M399 108.5h2M501 116.5h2M383 142.5h2M419 110.5h2M430 123.5h2M427 144.5h2M423 127.5h2M394 112.5h2M471 140.5h2M431 139.5h2M453 137.5h2M439 137.5h2M444 123.5h2M384 131.5h2M403 131.5h2M401 148.5h2M452 144.5h2M440 115.5h2M485 121.5h2M470 122.5h2M380 126.5h2M385 124.5h2M435 122.5h2M443 117.5h2M494 133.5h2M496 126.5h2M496 109.5h2M466 126.5h2M398 132.5h2M393 111.5h2M406 137.5h2M390 117.5h2M487 138.5h2M488 129.5h2M480 116.5h2M414 111.5h2M409 117.5h2M446 123.5h2M409 149.5h2M475 126.5h2M434 127.5h2M487 118.5h2M442 117.5h2M421 119.5h2M401 116.5h2M502 132.5h2M419 127.5h2M421 110.5h2M399 120.5h2M481 123.5h2M401 117.5h2M394 106.5h2M468 124.5h2M409 144.5h2M438 104.5h2M395 135.5h2M388 144.5h2M456 124.5h2M398 122.5h2M410 101.5h2M477 135.5h2M428 141.5h2M404 126.5h2M415 135.5h2M428 120.5h2M462 129.5h2M452 123.5h2M461 129.5h2M421 129.5h2M421 114.5h2M461 92.5h2M432 156.5h2M434 124.5h2M437 119.5h2M458 124.5h2M467 108.5h2M491 128.5h2M456 115.5h2M469 100.5h2M436 156.5h2M390 116.5h2M502 139.5h2M458 149.5h2M475 119.5h2M402 134.5h2M395 131.5h2M480 130.5h2M446 149.5h2M434 95.5h2M402 130.5h2M443 121.5h2M483 132.5h2M459 132.5h2M392 140.5h2M448 109.5h2M475 141.5h2M446 145.5h2M427 131.5h2M386 112.5h2M465 142.5h2M407 129.5h2M430 107.5h2M458 135.5h2M423 128.5h2M388 148.5h2M451 122.5h2M383 107.5h2M390 110.5h2M457 107.5h2M500 121.5h2M496 112.5h2M409 135.5h2M384 133.5h2M449 117.5h2M454 123.5h2M437 118.5h2M477 103.5h2M463 139.5h2M461 135.5h2M404 114.5h2M413 137.5h2M390 122.5h2M474 138.5h2M500 141.5h2M500 102.5h2M442 123.5h2M468 123.5h2M482 115.5h2M392 140.5h2M494 112.5h2M407 131.5h2M486 138.5h2M444 121.5h2M415 120.5h2M483 107.5h2M382 90.5h2M383 124.5h2M456 120.5h2M417 130.5h2M497 128.5h2M485 140.5h2M394 143.5h2M456 128.5h2M385 137.5h2M453 106.5h2M410 133.5h2M502 121.5h2M447 139.5h2M454 116.5h2M495 114.5h2M498 129.5h2M501 143.5h2M473 144.5h2M406 125.5h2M482 130.5h2M390 137.5h2M500 105.5h2M394 127.5h2M394 120.5h2M483 139.5h2M500 142.5h2M439 100.5h2M458 138.5h2M500 120.5h2M386 112.5h2M489 125.5h2M464 118.5h2M413 118.5h2M390 128.5h2M437 120.5h2M484 105.5h2M491 125.5h2M474 115.5h2M469 127.5h2M491 127.5h2M401 147.5h2M431 102.5h2M444 130.5h2M484 127.5h2M456 125.5h2M390 134.5h2M473 124.5h2M480 129.5h2M418 133.5h2M425 140.5h2M444 109.5h2M413 129.5h2M441 134.5h2M431 123.5h2M436 113.5h2M457 129.5h2M494 133.5h2M499 137.5h2M380 121.5h2M442 113.5h2M469 125.5h2M458 130.5h2M500 95.5h2M443 134.5h2M463 113.5h2M459 106.5h2M464 123.5h2M487 115.5h2M454 106.5h2M422 125.5h2M409 133.5h2M424 120.5h2M452 119.5h2M413 125.5h2M473 135.5h2M394 137.5h2M390 139.5h2M437 123.5h2M389 133.5h2M493 139.5h2M494 112.5h2M407 134.5h2M482 132.5h2M404 134.5h2M470 135.5h2M420 114.5h2M492 143.5h2M419 138.5h2M491 124.5h2M484 152.5h2M418 130.5h2M389 143.5h2M450 118.5h2M393 143.5h2M464 123.5h2M468 142.5h2M401 115.5h2M464 144.5h2M489 138.5h2M423 127.5h2M488 113.5h2M400 125.5h2M434 124.5h2M457 127.5h2M488 113.5h2M487 133.5h2M496 146.5h2M403 120.5h2M424 112.5h2M476 145.5h2M480 130.5h2M501 133.5h2M422 113.5h2M467 117.5h2M381 135.5h2M465 98.5h2M423 122.5h2M474 116.5h2M477 107.5h2M464 113.5h2M474 143.5h2M491 112.5h2M467 133.5h2M491 129.5h2M391 139.5h2M397 109.5h2M488 123.5h2M422 116.5h2M463 113.5h2M484 113.5h2M419 146.5h2M484 98.5h2M433 125.5h2M429 141.5h2M461 134.5h2M391 131.5h2M395 119.5h2M476 140.5h2M426 137.5h2M497 115.5h2M421 121.5h2M476 132.5h2M452 140.5h2M473 120.5h2M400 130.5h2M403 123.5h2M500 155.5h2M501 139.5h2M388 104.5h2M498 136.5h2M446 137.5h2M471 117.5h2M389 120.5h2M468 117.5h2M415 139.5h2M408 128.5h2M442 139.5h2M407 126.5h2M424 108.5h2M439 111.5h2M432 121.5h2M470 143.5h2M409 140.5h2M413 140.5h2M472 119.5h2M422 123.5h2M493 135.5h2M501 108.5h2M501 131.5h2M441 99.5h2M489 118.5h2M499 156.5h2M480 144.5h2M463 120.5h2M394 124.5h2M490 119.5h2M478 140.5h2M414 110.5h2M453 98.5h2M453 127.5h2M430 120.5h2M457 102.5h2M425 116.5h2M393 110.5h2M413 135.5h2M394 138.5h2M473 119.5h2M466 121.5h2M476 146.5h2M438 129.5h2M489 141.5h2M477 116.5h2M403 124.5h2M471 105.5h2M435 126.5h2M401 138.5h2M461 117.5h2M476 108.5h2M415 106.5h2M457 110.5h2M402 122.5h2M418 136.5h2M463 119.5h2M495 131.5h2M451 137.5h2M395 117.5h2M389 128.5h2M389 123.5h2M453 122.5h2M422 127.5h2M452 132.5h2M410 136.5h2M442 138.5h2M472 114.5h2M479 131.5h2M480 126.5h2M440 102.5h2M411 138.5h2M438 131.5h2M388 105.5h2M412 137.5h2M428 111.5h2M489 98.5h2M413 120.5h2M455 124.5h2M460 126.5h2M443 120.5h2M431 135.5h2M457 146.5h2M495 121.5h2M417 133.5h2M482 126.5h2M392 127.5h2M476 85.5h2M440 132.5h2M403 149.5h2M381 95.5h2M501 129.5h2M443 139.5h2M433 129.5h2M460 115.5h2M484 134.5h2M477 125.5h2M386 142.5h2M441 144.5h2M427 127.5h2M493 117.5h2M472 125.5h2M428 105.5h2M429 118.5h2M444 136.5h2M389 128.5h2M441 116.5h2M424 126.5h2M382 150.5h2M418 117.5h2M501 123.5h2M417 109.5h2M465 136.5h2M435 104.5h2M486 130.5h2M499 148.5h2M385 135.5h2M462 142.5h2M397 155.5h2M500 129.5h2M491 145.5h2M434 133.5h2M425 118.5h2M429 145.5h2M400 129.5h2M432 126.5h2M468 94.5h2M488 110.5h2M489 110.5h2M465 121.5h2M457 133.5h2M436 140.5h2M440 109.5h2M454 126.5h2M418 150.5h2M472 162.5h2M414 136.5h2M420 105.5h2M415 126.5h2M410 127.5h2M491 143.5h2M499 122.5h2M387 91.5h2M412 115.5h2M383 142.5h2M494 117.5h2M390 134.5h2M485 110.5h2M418 143.5h2M422 128.5h2M399 128.5h2M454 130.5h2M475 132.5h2M480 130.5h2M410 118.5h2M480 121.5h2M451 135.5h2M462 131.5h2M409 134.5h2M383 135.5h2M387 133.5h2M479 132.5h2M489 108.5h2M480 138.5h2M499 128.5h2M489 145.5h2M471 149.5h2M474 132.5h2M453 130.5h2M381 126.5h2M447 120.5h2M482 121.5h2M430 136.5h2M412 138.5h2M406 131.5h2M392 148.5h2M409 138.5h2M463 140.5h2M432 127.5h2M493 127.5h2M453 143.5h2M481 132.5h2M405 133.5h2M434 122.5h2M433 140.5h2M470 122.5h2M468 122.5h2M436 139.5h2M421 128.5h2M500 133.5h2M493 147.5h2M422 161.5h2M473 110.5h2M432 128.5h2M384 115.5h2M492 124.5h2M457 120.5h2M451 150.5h2M457 123.5h2M407 104.5h2M486 124.5h2M471 103.5h2M409 146.5h2M491 122.5h2M415 115.5h2M501 151.5h2M465 131.5h2M446 134.5h2M381 116.5h2M493 140.5h2M464 132.5h2M486 119.5h2M407 125.5h2M410 144.5h2M382 124.5h2M458 120.5h2M393 97.5h2M431 124.5h2M405 148.5h2M438 106.5h2M470 125.5h2M408 128.5h2M453 127.5h2M397 118.5h2M416 124.5h2M471 137.5h2M425 124.5h2M491 106.5h2M452 138.5h2M447 123.5h2M405 128.5h2M484 137.5h2M490 113.5h2M420 128.5h2M449 85.5h2M464 136.5h2M424 111.5h2M497 119.5h2M403 129.5h2M428 115.5h2M385 125.5h2M412 137.5h2M457 133.5h2M446 133.5h2M445 118.5h2M412 121.5h2M474 133.5h2M391 125.5h2M487 138.5h2M497 125.5h2M452 128.5h2M383 123.5h2M482 119.5h2M474 126.5h2M380 133.5h2M470 145.5h2M443 111.5h2M412 114.5h2M423 118.5h2M476 118.5h2M492 119.5h2M415 119.5h2M452 112.5h2M383 129.5h2M428 120.5h2M500 130.5h2M474 135.5h2M463 123.5h2M468 125.5h2M468 143.5h2M452 115.5h2M412 122.5h2M419 111.5h2M405 125.5h2M387 137.5h2M488 124.5h2M489 129.5h2M408 132.5h2M381 128.5h2M465 143.5h2M401 106.5h2M468 122.5h2M463 125.5h2M396 119.5h2M468 105.5h2M469 132.5h2M474 122.5h2M490 111.5h2M462 100.5h2M422 128.5h2M422 94.5h2M403 104.5h2M416 140.5h2M438 137.5h2M438 117.5h2M451 135.5h2M400 118.5h2M442 126.5h2M441 115.5h2M477 131.5h2M409 91.5h2M425 119.5h2M431 119.5h2M475 111.5h2M488 126.5h2M438 141.5h2M436 119.5h2M414 118.5h2M410 114.5h2M417 130.5h2M495 117.5h2M392 117.5h2M457 111.5h2M386 115.5h2M454 130.5h2M462 109.5h2M423 118.5h2M473 132.5h2M471 110.5h2M416 121.5h2M498 142.5h2M418 129.5h2M478 142.5h2M468 121.5h2M405 139.5h2M486 124.5h2M384 115.5h2M401 143.5h2M381 116.5h2M485 143.5h2M403 103.5h2M473 110.5h2M458 115.5h2M414 126.5h2M449 118.5h2M410 145.5h2M456 130.5h2M488 145.5h2M488 99.5h2M397 140.5h2M428 122.5h2M387 138.5h2M424 107.5h2M434 112.5h2M492 115.5h2M482 106.5h2M423 126.5h2M415 110.5h2M462 124.5h2M467 121.5h2M496 156.5h2M432 132.5h2M493 114.5h2M460 134.5h2M417 127.5h2M421 144.5h2M383 118.5h2M470 152.5h2M397 107.5h2M401 124.5h2M480 144.5h2M476 122.5h2M429 125.5h2M486 145.5h2M470 152.5h2M490 162.5h2M464 127.5h2M395 133.5h2M475 87.5h2M401 113.5h2M424 120.5h2M473 150.5h2M469 115.5h2M429 125.5h2M394 121.5h2M446 107.5h2M486 138.5h2M393 139.5h2M411 116.5h2M486 112.5h2M408 117.5h2M416 135.5h2M462 118.5h2M476 136.5h2M390 116.5h2M430 112.5h2M434 128.5h2M468 131.5h2M420 125.5h2M457 134.5h2M465 123.5h2M434 123.5h2M431 135.5h2M429 145.5h2M483 115.5h2M486 125.5h2M387 118.5h2M394 135.5h2M458 115.5h2M491 155.5h2M385 132.5h2M466 144.5h2M408 105.5h2M494 158.5h2M425 115.5h2M460 91.5h2M431 141.5h2M462 118.5h2M490 131.5h2M388 127.5h2M414 146.5h2M424 121.5h2M453 111.5h2M422 131.5h2M493 125.5h2M454 120.5h2M494 120.5h2M386 130.5h2M446 113.5h2M463 137.5h2M433 111.5h2M450 114.5h2M443 128.5h2M462 135.5h2M494 128.5h2M435 128.5h2M495 132.5h2M455 119.5h2M389 127.5h2M495 120.5h2M423 121.5h2M394 136.5h2M424 126.5h2M437 128.5h2M482 126.5h2M395 108.5h2M436 125.5h2M487 140.5h2M404 110.5h2M434 122.5h2M389 149.5h2M407 111.5h2M485 100.5h2M418 132.5h2M387 138.5h2M385 124.5h2M407 113.5h2M498 147.5h2M414 130.5h2M500 130.5h2M438 133.5h2M443 133.5h2M456 103.5h2M435 120.5h2M482 118.5h2M392 108.5h2M419 120.5h2M486 152.5h2M466 122.5h2M382 118.5h2M390 115.5h2M501 129.5h2M392 117.5h2M402 117.5h2M479 132.5h2M439 111.5h2M394 107.5h2M488 112.5h2M480 128.5h2M492 117.5h2M391 126.5h2M467 142.5h2M458 109.5h2M429 111.5h2M386 121.5h2M467 142.5h2M429 100.5h2M455 117.5h2M438 120.5h2M426 129.5h2M499 110.5h2M460 124.5h2M408 116.5h2M444 128.5h2M442 131.5h2M424 104.5h2M501 113.5h2M400 120.5h2M382 114.5h2M413 139.5h2M396 118.5h2M407 126.5h2M441 123.5h2M464 113.5h2M419 140.5h2M459 143.5h2M460 124.5h2M388 109.5h2M398 106.5h2M385 120.5h2M469 140.5h2M488 116.5h2M440 125.5h2M445 122.5h2M471 132.5h2M430 96.5h2M386 124.5h2M495 86.5h2M485 145.5h2M492 128.5h2M417 112.5h2M427 113.5h2M492 132.5h2M471 130.5h2M473 98.5h2M404 128.5h2M410 149.5h2M417 131.5h2M454 109.5h2M413 127.5h2M395 130.5h2M422 111.5h2M446 146.5h2M421 132.5h2M420 125.5h2M469 129.5h2M461 130.5h2M485 111.5h2M429 101.5h2M417 120.5h2M437 122.5h2M498 129.5h2M483 125.5h2M490 123.5h2M396 136.5h2M382 118.5h2M472 149.5h2M397 129.5h2M481 132.5h2M464 127.5h2M454 124.5h2M449 118.5h2M484 135.5h2M465 101.5h2M479 110.5h2M454 124.5h2M480 129.5h2M481 135.5h2M409 142.5h2M499 141.5h2M396 140.5h2M450 129.5h2M459 113.5h2M393 115.5h2M424 86.5h2M441 131.5h2M459 115.5h2M462 110.5h2M394 126.5h2M432 134.5h2M417 130.5h2M388 121.5h2M470 129.5h2M412 127.5h2M428 107.5h2M471 125.5h2M493 124.5h2M427 140.5h2M403 101.5h2M407 116.5h2M400 137.5h2M502 132.5h2M458 151.5h2M406 148.5h2M435 96.5h2M486 105.5h2M422 142.5h2M480 121.5h2M418 110.5h2M501 109.5h2M483 121.5h2M468 122.5h2M395 155.5h2M485 112.5h2M393 110.5h2M475 114.5h2M485 131.5h2M381 131.5h2M500 107.5h2M486 127.5h2M403 116.5h2M422 142.5h2M470 110.5h2M447 135.5h2M426 149.5h2M415 121.5h2M447 117.5h2M400 119.5h2M431 104.5h2M447 112.5h2M441 121.5h2M418 126.5h2M474 122.5h2M488 121.5h2M487 138.5h2M420 107.5h2M412 115.5h2M387 135.5h2M404 115.5h2M389 101.5h2M401 126.5h2M438 150.5h2M416 109.5h2M450 111.5h2M452 130.5h2M458 109.5h2M432 146.5h2M448 102.5h2M455 130.5h2M423 121.5h2M421 105.5h2M452 113.5h2M449 127.5h2M461 113.5h2M474 103.5h2M382 129.5h2M455 122.5h2M393 105.5h2M443 111.5h2M496 109.5h2M394 129.5h2M385 144.5h2M434 143.5h2M457 131.5h2M393 132.5h2M418 135.5h2M440 115.5h2M383 119.5h2M388 130.5h2M495 118.5h2M432 133.5h2M390 140.5h2M410 114.5h2M390 118.5h2M460 125.5h2M404 159.5h2M401 120.5h2M487 148.5h2M478 127.5h2M446 138.5h2M444 146.5h2M442 116.5h2M398 166.5h2M480 124.5h2M472 125.5h2M471 94.5h2M451 107.5h2M387 120.5h2M455 147.5h2M393 141.5h2M414 125.5h2M404 117.5h2M440 159.5h2M391 111.5h2M382 136.5h2M459 146.5h2M482 111.5h2M481 124.5h2M425 133.5h2M393 109.5h2M384 113.5h2M500 126.5h2M386 103.5h2M419 128.5h2M463 118.5h2M389 131.5h2M452 117.5h2M421 110.5h2M392 137.5h2M426 149.5h2M454 130.5h2M388 134.5h2M500 124.5h2M400 139.5h2M434 138.5h2M381 123.5h2M430 116.5h2M385 117.5h2M463 99.5h2M498 136.5h2M454 127.5h2M390 103.5h2M453 128.5h2M451 102.5h2M471 133.5h2M408 102.5h2M500 129.5h2M417 121.5h2M391 118.5h2M434 124.5h2M423 115.5h2M394 119.5h2M380 136.5h2M458 117.5h2M389 140.5h2M458 132.5h2M493 122.5h2M498 152.5h2M426 120.5h2M462 122.5h2M477 134.5h2M421 109.5h2M397 108.5h2M385 133.5h2M420 136.5h2M492 111.5h2M394 115.5h2M458 124.5h2M498 103.5h2M473 100.5h2M405 135.5h2M461 108.5h2M491 140.5h2M484 142.5h2M381 111.5h2M434 117.5h2M420 138.5h2M485 134.5h2M476 142.5h2M423 127.5h2M489 130.5h2M413 113.5h2M384 118.5h2M474 128.5h2M442 119.5h2M396 125.5h2M403 128.5h2M420 131.5h2M446 111.5h2M442 124.5h2M387 109.5h2M383 136.5h2M461 156.5h2M498 107.5h2M419 123.5h2M388 130.5h2M461 121.5h2M469 125.5h2M483 116.5h2M421 115.5h2M386 124.5h2M484 164.5h2M401 127.5h2M403 123.5h2M426 136.5h2M476 147.5h2M474 110.5h2M492 113.5h2M478 100.5h2M381 80.5h2M433 103.5h2M397 123.5h2M435 107.5h2M476 121.5h2M437 133.5h2M485 123.5h2M451 129.5h2M482 97.5h2M486 117.5h2M433 130.5h2M439 105.5h2M494 120.5h2M386 132.5h2M425 132.5h2M423 133.5h2M406 126.5h2M447 117.5h2M381 149.5h2M466 110.5h2M408 143.5h2M493 127.5h2M489 132.5h2M463 127.5h2M492 111.5h2M490 135.5h2M493 103.5h2M399 129.5h2M461 118.5h2M413 117.5h2M395 132.5h2M444 134.5h2M402 116.5h2M478 125.5h2M386 131.5h2M465 145.5h2M450 120.5h2M466 126.5h2M457 84.5h2M399 145.5h2M429 125.5h2M489 135.5h2M431 117.5h2M399 145.5h2M460 118.5h2M407 124.5h2M485 93.5h2M436 141.5h2M387 135.5h2M432 98.5h2M471 140.5h2M395 107.5h2M410 120.5h2M451 145.5h2M452 132.5h2M492 134.5h2M387 119.5h2M460 116.5h2M419 105.5h2M430 131.5h2M414 108.5h2M394 122.5h2M494 114.5h2M482 116.5h2M383 128.5h2M446 124.5h2M432 119.5h2M426 107.5h2M435 128.5h2M465 128.5h2M439 146.5h2M451 104.5h2M499 106.5h2M382 121.5h2M458 109.5h2M409 112.5h2M430 130.5h2M491 120.5h2M386 139.5h2M421 125.5h2M400 138.5h2M416 117.5h2M437 138.5h2M458 116.5h2M431 113.5h2M443 118.5h2M500 115.5h2M478 129.5h2M407 119.5h2M455 135.5h2M479 114.5h2M453 161.5h2M491 126.5h2M426 128.5h2M459 117.5h2M458 105.5h2M396 141.5h2M402 106.5h2M383 116.5h2M462 128.5h2M441 141.5h2M469 106.5h2M418 138.5h2M495 120.5h2M419 131.5h2M495 121.5h2M393 114.5h2M464 124.5h2M425 118.5h2M479 100.5h2M454 102.5h2M401 104.5h2M502 123.5h2M418 140.5h2M467 145.5h2M396 92.5h2M434 130.5h2M446 156.5h2M425 147.5h2M446 115.5h2M431 155.5h2M459 134.5h2M441 102.5h2M482 121.5h2M440 113.5h2M448 107.5h2M431 118.5h2M481 130.5h2M473 119.5h2M400 110.5h2M384 142.5h2M499 130.5h2M450 150.5h2M445 136.5h2M496 120.5h2M470 110.5h2M478 126.5h2M387 127.5h2M465 137.5h2M493 121.5h2M484 118.5h2M499 128.5h2M476 114.5h2M395 107.5h2M446 115.5h2M420 108.5h2M435 118.5h2M415 137.5h2M494 156.5h2M396 132.5h2M480 140.5h2M451 137.5h2M430 124.5h2M401 126.5h2M410 115.5h2M492 131.5h2M485 135.5h2M412 130.5h2M490 152.5h2M423 117.5h2M474 108.5h2M461 138.5h2M400 140.5h2M481 133.5h2M441 129.5h2M480 117.5h2M399 135.5h2M464 121.5h2M383 136.5h2M411 128.5h2M406 131.5h2M482 95.5h2M448 124.5h2M440 106.5h2M406 116.5h2M412 113.5h2M442 110.5h2M433 129.5h2M394 119.5h2M461 128.5h2M497 113.5h2M416 125.5h2M449 144.5h2M384 131.5h2M423 128.5h2M383 125.5h2M449 106.5h2M412 142.5h2M435 151.5h2M416 109.5h2M489 129.5h2M444 124.5h2M485 130.5h2M479 122.5h2M488 116.5h2M440 124.5h2M442 122.5h2M476 133.5h2M433 103.5h2M411 144.5h2M493 103.5h2M444 127.5h2M489 124.5h2M403 130.5h2M459 138.5h2M412 133.5h2M450 149.5h2M434 127.5h2M491 106.5h2M428 128.5h2M461 129.5h2M419 141.5h2M454 130.5h2M491 122.5h2M491 137.5h2M462 133.5h2M402 135.5h2M467 118.5h2M386 112.5h2M442 125.5h2M407 141.5h2M389 139.5h2M480 113.5h2M456 164.5h2M410 133.5h2M384 123.5h2M429 130.5h2M464 110.5h2M500 124.5h2M438 144.5h2M431 119.5h2M484 127.5h2M490 134.5h2M424 106.5h2M492 130.5h2M448 145.5h2M457 120.5h2M456 124.5h2M408 152.5h2M491 123.5h2M399 113.5h2M476 113.5h2M403 102.5h2M401 131.5h2M472 140.5h2M425 137.5h2M434 134.5h2M480 141.5h2M414 124.5h2M404 128.5h2M402 125.5h2M410 105.5h2M486 140.5h2M483 101.5h2M496 96.5h2M414 97.5h2M500 150.5h2M422 125.5h2M389 149.5h2M499 131.5h2M455 147.5h2M437 132.5h2M466 118.5h2M408 127.5h2M461 107.5h2M477 106.5h2M479 130.5h2M491 122.5h2M438 122.5h2M489 122.5h2M473 117.5h2M471 130.5h2M449 130.5h2M408 151.5h2M492 128.5h2M497 126.5h2M389 159.5h2M473 116.5h2M499 138.5h2M469 112.5h2M430 142.5h2M445 162.5h2M386 139.5h2M381 125.5h2M471 146.5h2M394 120.5h2M493 140.5h2M407 131.5h2M401 135.5h2M495 128.5h2M461 124.5h2M424 144.5h2M415 142.5h2M382 125.5h2M400 149.5h2M501 103.5h2M478 114.5h2M473 122.5h2M486 118.5h2M390 105.5h2M473 149.5h2M413 144.5h2M389 121.5h2M447 112.5h2M391 151.5h2M444 128.5h2M399 143.5h2M402 133.5h2M434 110.5h2M386 141.5h2M416 133.5h2M485 127.5h2M493 153.5h2M383 111.5h2M459 128.5h2M496 152.5h2M433 131.5h2M425 121.5h2M393 114.5h2M384 161.5h2M400 136.5h2M466 98.5h2M406 136.5h2M399 129.5h2M383 139.5h2M430 106.5h2M473 130.5h2M483 128.5h2M499 150.5h2M494 120.5h2M405 145.5h2M484 114.5h2M401 122.5h2M498 129.5h2M489 130.5h2M487 147.5h2M490 128.5h2M482 146.5h2M395 144.5h2M399 104.5h2M437 139.5h2M486 155.5h2M468 127.5h2M494 129.5h2M440 131.5h2M405 115.5h2M496 108.5h2M411 91.5h2M461 114.5h2M410 135.5h2M466 114.5h2M419 117.5h2M484 85.5h2M450 121.5h2M449 132.5h2M411 131.5h2M423 118.5h2M427 137.5h2M395 113.5h2M382 130.5h2M454 142.5h2M446 119.5h2M438 115.5h2M497 146.5h2M413 112.5h2M499 125.5h2M388 125.5h2M412 135.5h2M450 113.5h2M411 137.5h2M484 139.5h2M463 125.5h2M422 122.5h2M496 139.5h2M441 116.5h2M482 145.5h2M472 162.5h2M459 107.5h2M493 132.5h2M435 113.5h2M485 123.5h2M435 116.5h2M497 129.5h2M499 126.5h2M404 111.5h2M387 135.5h2M458 140.5h2M490 129.5h2M492 154.5h2M478 119.5h2M438 116.5h2M480 102.5h2M483 135.5h2M467 131.5h2M385 143.5h2M400 132.5h2M428 129.5h2M406 116.5h2M403 136.5h2M403 133.5h2M499 124.5h2M431 102.5h2M393 115.5h2M490 119.5h2M416 127.5h2M477 108.5h2M486 145.5h2M484 110.5h2M474 109.5h2M487 129.5h2M498 124.5h2M500 109.5h2M484 135.5h2M477 145.5h2M411 141.5h2M467 115.5h2M415 149.5h2M392 113.5h2M397 130.5h2M499 144.5h2M479 120.5h2M457 114.5h2M403 136.5h2M383 132.5h2M450 109.5h2M434 126.5h2M464 102.5h2M472 132.5h2M490 101.5h2M442 121.5h2M427 147.5h2M391 151.5h2M384 140.5h2M493 94.5h2M426 131.5h2M440 117.5h2M456 131.5h2M423 119.5h2M474 126.5h2M383 123.5h2M384 115.5h2M440 137.5h2M389 116.5h2M426 117.5h2M391 79.5h2M448 137.5h2M484 132.5h2M457 116.5h2M466 115.5h2M454 96.5h2M445 115.5h2M420 123.5h2M493 138.5h2M431 154.5h2M473 133.5h2M484 118.5h2M398 97.5h2M483 158.5h2M408 132.5h2M398 106.5h2M483 125.5h2M442 133.5h2M385 119.5h2M416 128.5h2M491 142.5h2M481 120.5h2M453 123.5h2M466 124.5h2M406 121.5h2M449 98.5h2M492 108.5h2M470 104.5h2M437 131.5h2M401 112.5h2M408 113.5h2M397 108.5h2M475 135.5h2M386 132.5h2M420 126.5h2M429 122.5h2M468 134.5h2M457 115.5h2M443 135.5h2M427 117.5h2M384 116.5h2M388 149.5h2M454 129.5h2M454 116.5h2M451 139.5h2M413 130.5h2M431 128.5h2M466 119.5h2M434 120.5h2M390 90.5h2M433 113.5h2M449 115.5h2M435 121.5h2M435 126.5h2M454 139.5h2M422 115.5h2M445 98.5h2M474 148.5h2M462 115.5h2M494 120.5h2M393 128.5h2M501 125.5h2M396 135.5h2M404 139.5h2M443 135.5h2M474 134.5h2M422 115.5h2M430 112.5h2M491 122.5h2M450 112.5h2M450 149.5h2M442 130.5h2M440 137.5h2M484 125.5h2M397 123.5h2M416 119.5h2M485 134.5h2M485 129.5h2M410 132.5h2M408 129.5h2M489 128.5h2M427 106.5h2M496 105.5h2M471 110.5h2M403 128.5h2M422 129.5h2M498 124.5h2M406 126.5h2M495 112.5h2M427 118.5h2M442 122.5h2M399 119.5h2M385 108.5h2M393 139.5h2M396 114.5h2M387 120.5h2M407 156.5h2M485 127.5h2M443 121.5h2M404 152.5h2M443 127.5h2M384 131.5h2M475 135.5h2M477 116.5h2M428 134.5h2M426 120.5h2M397 141.5h2M473 165.5h2M441 146.5h2M442 117.5h2M399 128.5h2M389 125.5h2M443 131.5h2M468 147.5h2M420 130.5h2M500 113.5h2M384 127.5h2M478 121.5h2M381 141.5h2M463 130.5h2M381 130.5h2M418 121.5h2M385 113.5h2M501 114.5h2M465 105.5h2M402 148.5h2M462 115.5h2M431 92.5h2M422 131.5h2M499 121.5h2M405 111.5h2M467 130.5h2M399 110.5h2M434 109.5h2M449 102.5h2M451 106.5h2M437 113.5h2M386 135.5h2M466 129.5h2M454 155.5h2M417 112.5h2M483 113.5h2M471 104.5h2M444 140.5h2M398 103.5h2M495 123.5h2M381 120.5h2M422 127.5h2M500 112.5h2M384 115.5h2M449 113.5h2M450 124.5h2M401 136.5h2M429 118.5h2M492 124.5h2M455 134.5h2M393 130.5h2M459 115.5h2M422 135.5h2M397 129.5h2M404 120.5h2M453 129.5h2M447 123.5h2M467 117.5h2M453 104.5h2M493 118.5h2M469 117.5h2M396 118.5h2M385 129.5h2M456 131.5h2M402 116.5h2M463 114.5h2M458 112.5h2M385 95.5h2M421 137.5h2M492 126.5h2M405 133.5h2M439 132.5h2M478 104.5h2M455 147.5h2M414 111.5h2M397 137.5h2M400 126.5h2M446 125.5h2M390 143.5h2M410 116.5h2M456 147.5h2M494 119.5h2M438 93.5h2M407 133.5h2M468 156.5h2M447 130.5h2M385 102.5h2M397 137.5h2M396 131.5h2M467 106.5h2M464 136.5h2M418 137.5h2M384 117.5h2M428 134.5h2M469 131.5h2M383 146.5h2M440 107.5h2M462 119.5h2M399 111.5h2M485 123.5h2M500 113.5h2M470 132.5h2M486 128.5h2M468 120.5h2M432 133.5h2M417 116.5h2M396 124.5h2M386 123.5h2M396 109.5h2M427 127.5h2M471 137.5h2M424 128.5h2M463 109.5h2M499 91.5h2M404 121.5h2M463 124.5h2M470 122.5h2M430 108.5h2M477 117.5h2M386 95.5h2M456 131.5h2M435 117.5h2M389 133.5h2M389 133.5h2M470 125.5h2M409 115.5h2M470 120.5h2M500 136.5h2M439 105.5h2M458 116.5h2M484 118.5h2M407 117.5h2M462 128.5h2M390 124.5h2M479 111.5h2M468 141.5h2M389 119.5h2M470 120.5h2M397 127.5h2M430 117.5h2M424 95.5h2M497 128.5h2M430 113.5h2M492 161.5h2M383 143.5h2M483 102.5h2M484 121.5h2M453 130.5h2M437 109.5h2M475 114.5h2M423 134.5h2M449 133.5h2M384 108.5h2M388 109.5h2M394 122.5h2M394 135.5h2M409 130.5h2M466 120.5h2M418 121.5h2M440 116.5h2M426 114.5h2M383 143.5h2M481 135.5h2M470 102.5h2M397 121.5h2M477 142.5h2M439 132.5h2M429 119.5h2M451 103.5h2M452 130.5h2M381 127.5h2M429 123.5h2M411 133.5h2M389 137.5h2M492 135.5h2M462 125.5h2M442 122.5h2M497 128.5h2M417 122.5h2M412 128.5h2M409 132.5h2M395 108.5h2M487 153.5h2M475 132.5h2M448 118.5h2M414 123.5h2M467 128.5h2M427 130.5h2M425 140.5h2M405 144.5h2M401 123.5h2M398 147.5h2M401 91.5h2M447 121.5h2M458 132.5h2M416 113.5h2M451 111.5h2M431 155.5h2M385 140.5h2M398 99.5h2M446 142.5h2M420 133.5h2M457 130.5h2M500 154.5h2M497 117.5h2M414 143.5h2M382 133.5h2M442 129.5h2M408 116.5h2M408 108.5h2M414 119.5h2M478 111.5h2M383 125.5h2M436 121.5h2M486 132.5h2M483 125.5h2M473 134.5h2M441 151.5h2M460 109.5h2M421 107.5h2M483 123.5h2M416 114.5h2M475 131.5h2M416 123.5h2M484 127.5h2M400 129.5h2M382 124.5h2M421 105.5h2M496 146.5h2M396 116.5h2M453 129.5h2M405 123.5h2M480 140.5h2M497 109.5h2M407 110.5h2M432 115.5h2M399 125.5h2M382 111.5h2M432 116.5h2M460 126.5h2M458 115.5h2M476 127.5h2M398 149.5h2M410 123.5h2M424 142.5h2M438 129.5h2M462 118.5h2M387 152.5h2M410 135.5h2M473 143.5h2M482 121.5h2M499 122.5h2M470 100.5h2M485 116.5h2M467 144.5h2M481 136.5h2M492 132.5h2M474 122.5h2M485 110.5h2M425 129.5h2M453 131.5h2M383 131.5h2M399 123.5h2M465 145.5h2M433 128.5h2M458 129.5h2M474 113.5h2M442 131.5h2M443 119.5h2M498 112.5h2M405 115.5h2M418 133.5h2M445 136.5h2M402 143.5h2M447 127.5h2M429 130.5h2M413 129.5h2M486 130.5h2M389 129.5h2M387 109.5h2M480 119.5h2M482 125.5h2M476 139.5h2M435 122.5h2M384 124.5h2M424 131.5h2M410 138.5h2M449 127.5h2M487 133.5h2M486 113.5h2M438 122.5h2M485 114.5h2M501 129.5h2M419 126.5h2M440 125.5h2M464 117.5h2M399 167.5h2M499 136.5h2M501 124.5h2M392 115.5h2M464 137.5h2M449 142.5h2M422 132.5h2M477 93.5h2M497 131.5h2M456 112.5h2M417 125.5h2M473 105.5h2M418 117.5h2M438 127.5h2M409 111.5h2M439 109.5h2M401 114.5h2M397 98.5h2M410 129.5h2M483 121.5h2M410 145.5h2M381 152.5h2M433 122.5h2M486 141.5h2M451 131.5h2M399 139.5h2M448 126.5h2M431 119.5h2M414 125.5h2M458 115.5h2M471 119.5h2M385 137.5h2M381 127.5h2M449 146.5h2M386 119.5h2M445 135.5h2M482 105.5h2M403 112.5h2M394 115.5h2M480 136.5h2M430 135.5h2M417 137.5h2M385 134.5h2M498 128.5h2M444 133.5h2M444 132.5h2M490 119.5h2M468 118.5h2M497 144.5h2M496 129.5h2M383 111.5h2M417 127.5h2M412 150.5h2M469 124.5h2M460 111.5h2M482 112.5h2M482 115.5h2M466 101.5h2M484 116.5h2M423 139.5h2M464 121.5h2M437 129.5h2M483 124.5h2M399 149.5h2M380 118.5h2M414 143.5h2M463 130.5h2M392 111.5h2M401 122.5h2M432 134.5h2M392 124.5h2M460 116.5h2M383 140.5h2M468 120.5h2M492 110.5h2M491 164.5h2M490 98.5h2M388 125.5h2M501 94.5h2M412 152.5h2M456 110.5h2M455 113.5h2M422 129.5h2M477 118.5h2M462 115.5h2M470 128.5h2M484 133.5h2M396 133.5h2M406 146.5h2M465 140.5h2M439 118.5h2M406 146.5h2M422 116.5h2M446 135.5h2M421 115.5h2M444 134.5h2M397 105.5h2M440 137.5h2M499 110.5h2M464 116.5h2M431 127.5h2M466 115.5h2M381 137.5h2M481 139.5h2M412 133.5h2M456 131.5h2M449 128.5h2M451 142.5h2M473 134.5h2M466 119.5h2M443 125.5h2M431 121.5h2M387 127.5h2M447 108.5h2M403 123.5h2M410 147.5h2M413 133.5h2M410 128.5h2M436 119.5h2M489 128.5h2M422 121.5h2M414 107.5h2M447 106.5h2M476 130.5h2M444 132.5h2M454 116.5h2M499 123.5h2M478 104.5h2M469 115.5h2M450 119.5h2M466 143.5h2M415 141.5h2M418 129.5h2M482 128.5h2M496 123.5h2M428 130.5h2M452 123.5h2M492 129.5h2M497 126.5h2M424 113.5h2M411 109.5h2M385 122.5h2M403 153.5h2M409 139.5h2M454 117.5h2M415 133.5h2M479 140.5h2M404 110.5h2M455 119.5h2M417 124.5h2M483 117.5h2M481 118.5h2M438 133.5h2M462 118.5h2M472 108.5h2M444 124.5h2M404 125.5h2M447 137.5h2M448 98.5h2M449 115.5h2M418 147.5h2M466 120.5h2M443 129.5h2M407 143.5h2M450 125.5h2M421 148.5h2M494 113.5h2M417 135.5h2M421 116.5h2M411 132.5h2M426 118.5h2M475 153.5h2M457 133.5h2M447 117.5h2M496 130.5h2M408 114.5h2M401 123.5h2M443 124.5h2M396 119.5h2M446 134.5h2M425 140.5h2M392 128.5h2M493 115.5h2M481 99.5h2M418 109.5h2M469 115.5h2M426 132.5h2M482 135.5h2M489 143.5h2M464 137.5h2M470 112.5h2M415 133.5h2M479 116.5h2M460 135.5h2M442 95.5h2M414 129.5h2M482 143.5h2M409 115.5h2M445 143.5h2M388 121.5h2M462 121.5h2M383 109.5h2M405 130.5h2M426 139.5h2M500 149.5h2M497 135.5h2M490 110.5h2M501 125.5h2M461 130.5h2M430 116.5h2M438 117.5h2M440 151.5h2M395 129.5h2M406 126.5h2M440 118.5h2M499 111.5h2M394 119.5h2M470 142.5h2M413 112.5h2M456 134.5h2M481 121.5h2M498 128.5h2M466 116.5h2M478 121.5h2M484 124.5h2M479 116.5h2M438 129.5h2M489 157.5h2M472 110.5h2M449 133.5h2M399 136.5h2M454 147.5h2M499 114.5h2M386 139.5h2M418 141.5h2M390 131.5h2M429 137.5h2M484 116.5h2M428 95.5h2M478 155.5h2M454 116.5h2M390 120.5h2M475 108.5h2M483 109.5h2M457 120.5h2M437 126.5h2M485 128.5h2M493 142.5h2M462 129.5h2M463 132.5h2M417 111.5h2M448 133.5h2M414 122.5h2M387 112.5h2M392 151.5h2M406 117.5h2M410 143.5h2M460 128.5h2M479 134.5h2M488 132.5h2M419 123.5h2M400 133.5h2M430 148.5h2M418 134.5h2M494 114.5h2M412 113.5h2M464 137.5h2M485 126.5h2M424 117.5h2M472 137.5h2M467 121.5h2M408 137.5h2M494 121.5h2M445 131.5h2M501 119.5h2M438 136.5h2M432 132.5h2M485 130.5h2M458 115.5h2M385 118.5h2M420 145.5h2M435 137.5h2M477 126.5h2M453 133.5h2M408 138.5h2M492 135.5h2M411 128.5h2M493 115.5h2M489 103.5h2M395 119.5h2M471 128.5h2M437 136.5h2M495 109.5h2M468 130.5h2M407 133.5h2M411 109.5h2M457 116.5h2M411 117.5h2M467 102.5h2M499 119.5h2M478 125.5h2M385 126.5h2M474 105.5h2M447 117.5h2M449 139.5h2M419 124.5h2M381 120.5h2M471 116.5h2M434 116.5h2M423 123.5h2M482 137.5h2M449 144.5h2M419 117.5h2M450 125.5h2M448 118.5h2M486 138.5h2M478 133.5h2M449 136.5h2M406 112.5h2M495 134.5h2M498 102.5h2M452 153.5h2M415 101.5h2M461 147.5h2M409 123.5h2M436 126.5h2M448 137.5h2M435 127.5h2M481 107.5h2M447 128.5h2M388 133.5h2M390 120.5h2M462 130.5h2M482 107.5h2M496 136.5h2M492 121.5h2M487 116.5h2M466 127.5h2M400 115.5h2M421 141.5h2M405 149.5h2M442 130.5h2M389 109.5h2M445 146.5h2M436 129.5h2M466 139.5h2M426 119.5h2M406 135.5h2M489 104.5h2M477 124.5h2M436 134.5h2M476 109.5h2M404 140.5h2M437 111.5h2M420 143.5h2M486 133.5h2M500 139.5h2M401 116.5h2M434 135.5h2M482 113.5h2M427 111.5h2M398 104.5h2M443 133.5h2M457 146.5h2M485 139.5h2M419 132.5h2M399 126.5h2M392 151.5h2M428 112.5h2M490 126.5h2M436 113.5h2M388 126.5h2M435 116.5h2M397 131.5h2M469 113.5h2M400 123.5h2M430 118.5h2M419 138.5h2M434 122.5h2M417 129.5h2M490 119.5h2M497 129.5h2M396 143.5h2M453 137.5h2M394 152.5h2M455 124.5h2M381 129.5h2M480 127.5h2M436 120.5h2M392 147.5h2M497 153.5h2M437 124.5h2M474 135.5h2M444 128.5h2M439 141.5h2M474 129.5h2M456 94.5h2M500 127.5h2M413 133.5h2M443 114.5h2M427 118.5h2M479 121.5h2M381 114.5h2M401 93.5h2M391 116.5h2M414 121.5h2M490 117.5h2M473 120.5h2M383 137.5h2M407 121.5h2M416 114.5h2M451 124.5h2M473 128.5h2M382 114.5h2M402 133.5h2M398 138.5h2M420 130.5h2M486 114.5h2M421 121.5h2M416 100.5h2M488 132.5h2M389 132.5h2M498 121.5h2M417 137.5h2M417 131.5h2M491 112.5h2M428 130.5h2M480 91.5h2M474 142.5h2M396 132.5h2M398 132.5h2M483 130.5h2M493 146.5h2M436 115.5h2M501 140.5h2M422 108.5h2M489 136.5h2M474 127.5h2M488 132.5h2M395 122.5h2M488 117.5h2M400 140.5h2M416 123.5h2M382 114.5h2M394 141.5h2M394 122.5h2M452 115.5h2M386 117.5h2M467 131.5h2M389 119.5h2M442 149.5h2M429 124.5h2M396 141.5h2M421 148.5h2M459 127.5h2M381 129.5h2M417 146.5h2M423 126.5h2M452 117.5h2M385 133.5h2M496 130.5h2M497 107.5h2M451 98.5h2M384 133.5h2M427 131.5h2M424 144.5h2M482 134.5h2M438 122.5h2M437 121.5h2M476 117.5h2M461 133.5h2M478 112.5h2M395 134.5h2M476 124.5h2M406 133.5h2M431 131.5h2M398 113.5h2M436 132.5h2M497 140.5h2M407 147.5h2M384 115.5h2M392 111.5h2M415 117.5h2M395 97.5h2M451 112.5h2M422 120.5h2M400 130.5h2M437 125.5h2M487 123.5h2M409 119.5h2M420 151.5h2M434 136.5h2M423 128.5h2M398 149.5h2M416 119.5h2M385 154.5h2M412 126.5h2M388 108.5h2M384 127.5h2M460 138.5h2M478 146.5h2M465 107.5h2M407 160.5h2M405 126.5h2M432 121.5h2M446 114.5h2M440 135.5h2M423 145.5h2M491 146.5h2M452 123.5h2M443 131.5h2M383 120.5h2M497 127.5h2M446 133.5h2M490 117.5h2M412 128.5h2M435 107.5h2M449 117.5h2M407 95.5h2M451 133.5h2M387 130.5h2M487 129.5h2M427 121.5h2M416 114.5h2M413 85.5h2M395 128.5h2M386 137.5h2M454 127.5h2M492 120.5h2M489 115.5h2M420 121.5h2M411 104.5h2M436 133.5h2M423 130.5h2M473 149.5h2M471 114.5h2M491 116.5h2M443 129.5h2M410 135.5h2M445 119.5h2M461 117.5h2M482 151.5h2M381 122.5h2M446 127.5h2M485 120.5h2M447 149.5h2M485 122.5h2M462 126.5h2M479 118.5h2M490 118.5h2M475 127.5h2M442 113.5h2M384 139.5h2M459 122.5h2M411 121.5h2M494 109.5h2M433 97.5h2M424 120.5h2M475 162.5h2M395 114.5h2M419 132.5h2M490 111.5h2M488 120.5h2M483 134.5h2M478 120.5h2M427 138.5h2M411 119.5h2M445 118.5h2M402 143.5h2M481 131.5h2M483 142.5h2M412 107.5h2M460 134.5h2M408 157.5h2M478 136.5h2M480 114.5h2M384 132.5h2M458 144.5h2M470 82.5h2M443 112.5h2M446 129.5h2M403 122.5h2M393 107.5h2M447 131.5h2M391 126.5h2M437 120.5h2M429 125.5h2M443 123.5h2M485 122.5h2M469 135.5h2M423 131.5h2M469 123.5h2M445 143.5h2M481 116.5h2M493 119.5h2M486 119.5h2M473 141.5h2M426 119.5h2M481 121.5h2M429 135.5h2M408 120.5h2M420 116.5h2M463 133.5h2M475 113.5h2M410 100.5h2M423 154.5h2M481 119.5h2M420 144.5h2M467 132.5h2M384 128.5h2M433 115.5h2M383 127.5h2M449 126.5h2M428 116.5h2M488 139.5h2M404 117.5h2M457 129.5h2M403 119.5h2M403 136.5h2M415 123.5h2M457 119.5h2M398 141.5h2M460 128.5h2M428 126.5h2M483 127.5h2M396 134.5h2M420 134.5h2M404 126.5h2M389 114.5h2M445 126.5h2M461 132.5h2M409 141.5h2M408 125.5h2M422 121.5h2M422 116.5h2M470 143.5h2M400 120.5h2M411 126.5h2M477 131.5h2M486 115.5h2M482 119.5h2M445 122.5h2M457 112.5h2M394 125.5h2M431 121.5h2M405 104.5h2M491 118.5h2M480 119.5h2M477 102.5h2M406 112.5h2M489 132.5h2M482 141.5h2M501 123.5h2M441 131.5h2M495 137.5h2M429 116.5h2M423 127.5h2M473 130.5h2M393 120.5h2M430 132.5h2M382 126.5h2M470 96.5h2M430 101.5h2M470 128.5h2M455 128.5h2M392 115.5h2M416 144.5h2M461 146.5h2M412 123.5h2M398 135.5h2M417 138.5h2M488 117.5h2M459 114.5h2M494 109.5h2M485 132.5h2M485 117.5h2M499 128.5h2M437 151.5h2M502 110.5h2M442 116.5h2M447 119.5h2M493 123.5h2M404 120.5h2M495 120.5h2M415 142.5h2M489 132.5h2M469 116.5h2M458 134.5h2M458 131.5h2M469 108.5h2M415 120.5h2M409 114.5h2M384 116.5h2M473 156.5h2M456 111.5h2M427 112.5h2M464 117.5h2M435 146.5h2M420 141.5h2M463 122.5h2M390 132.5h2M476 121.5h2M407 138.5h2M449 121.5h2M467 131.5h2M420 118.5h2M436 113.5h2M400 136.5h2M416 121.5h2M480 116.5h2M423 127.5h2M416 98.5h2M446 111.5h2M492 131.5h2M459 148.5h2M454 155.5h2M386 125.5h2M463 126.5h2M396 125.5h2M423 133.5h2M415 137.5h2M426 135.5h2M468 148.5h2M488 113.5h2M389 129.5h2M454 115.5h2M485 111.5h2M458 120.5h2M396 113.5h2M449 134.5h2M501 118.5h2M468 118.5h2M478 114.5h2M501 128.5h2M410 128.5h2M448 108.5h2M477 139.5h2M381 122.5h2M408 106.5h2M469 135.5h2M451 131.5h2M392 117.5h2M465 116.5h2M395 120.5h2M432 121.5h2M400 103.5h2M401 134.5h2M420 123.5h2M414 114.5h2M452 126.5h2M473 127.5h2M422 125.5h2M492 150.5h2M428 107.5h2M480 127.5h2M400 135.5h2M456 149.5h2M466 122.5h2M481 132.5h2M476 127.5h2M486 118.5h2M426 121.5h2M469 105.5h2M442 129.5h2M388 147.5h2M474 121.5h2M434 140.5h2M474 122.5h2M493 117.5h2M473 115.5h2M394 156.5h2M442 132.5h2M484 120.5h2M494 101.5h2M458 121.5h2M478 118.5h2M491 116.5h2M390 151.5h2M431 113.5h2M416 118.5h2M409 131.5h2M443 106.5h2M450 113.5h2M445 117.5h2M482 114.5h2M501 120.5h2M433 118.5h2M428 137.5h2M423 122.5h2M405 105.5h2M457 105.5h2M402 121.5h2M495 88.5h2M454 123.5h2M458 134.5h2M442 109.5h2M398 111.5h2M431 98.5h2M497 98.5h2M456 107.5h2M475 123.5h2M458 128.5h2M451 111.5h2M457 113.5h2M453 120.5h2M497 129.5h2M405 115.5h2M462 115.5h2M382 158.5h2M486 134.5h2M462 145.5h2M409 86.5h2M400 134.5h2M446 114.5h2M387 138.5h2M469 129.5h2M405 145.5h2M438 129.5h2M490 113.5h2M461 119.5h2M423 132.5h2M472 132.5h2M427 143.5h2M429 136.5h2M405 109.5h2M493 115.5h2M466 114.5h2M473 137.5h2M391 120.5h2M399 114.5h2M404 122.5h2M409 120.5h2M396 104.5h2M439 115.5h2M459 123.5h2M473 131.5h2M433 107.5h2M420 140.5h2M492 116.5h2M488 122.5h2M397 124.5h2M408 108.5h2M388 125.5h2M387 154.5h2M501 153.5h2M499 109.5h2M397 126.5h2M401 128.5h2M403 104.5h2M393 124.5h2M494 112.5h2M474 127.5h2M382 141.5h2M411 109.5h2M493 139.5h2M483 118.5h2M421 122.5h2M422 116.5h2M385 107.5h2M424 112.5h2M470 121.5h2M498 125.5h2M387 147.5h2M421 127.5h2M442 107.5h2M455 111.5h2M453 109.5h2M428 117.5h2M488 150.5h2M413 105.5h2M480 130.5h2M476 113.5h2M385 117.5h2M400 127.5h2M457 102.5h2M496 128.5h2M481 130.5h2M435 112.5h2M482 117.5h2M414 103.5h2M453 104.5h2M478 143.5h2M428 130.5h2M397 147.5h2M433 122.5h2M417 113.5h2M392 118.5h2M490 123.5h2M465 127.5h2M430 127.5h2M395 145.5h2M383 125.5h2M422 118.5h2M471 145.5h2M422 108.5h2M489 107.5h2M380 121.5h2M440 122.5h2M389 122.5h2M444 113.5h2M431 117.5h2M498 129.5h2M382 149.5h2M450 123.5h2M442 129.5h2M445 107.5h2M487 130.5h2M419 116.5h2M457 118.5h2M493 114.5h2M386 106.5h2M414 134.5h2M397 112.5h2M437 146.5h2M388 121.5h2M494 134.5h2M447 125.5h2M484 101.5h2M479 111.5h2M430 128.5h2M425 134.5h2M440 107.5h2M456 124.5h2M424 120.5h2M403 147.5h2M407 156.5h2M455 113.5h2M474 110.5h2M465 134.5h2M410 130.5h2M488 116.5h2M382 123.5h2M501 108.5h2M412 127.5h2M382 139.5h2M415 137.5h2M473 135.5h2M414 120.5h2M402 119.5h2M462 149.5h2M473 133.5h2M481 105.5h2M424 115.5h2M451 133.5h2M413 133.5h2M487 115.5h2M412 144.5h2M498 143.5h2M430 141.5h2M425 113.5h2M439 123.5h2M406 117.5h2M390 115.5h2M466 112.5h2M432 109.5h2M404 118.5h2M435 135.5h2M495 104.5h2M456 127.5h2M383 130.5h2M410 133.5h2M383 131.5h2M463 137.5h2M396 116.5h2M432 124.5h2M468 120.5h2M492 114.5h2M391 122.5h2M387 128.5h2M426 118.5h2M498 137.5h2M428 128.5h2M496 138.5h2M487 113.5h2M446 131.5h2M461 131.5h2M440 128.5h2M452 130.5h2M484 99.5h2M393 130.5h2M427 120.5h2M497 123.5h2M500 146.5h2M382 124.5h2M468 138.5h2M447 133.5h2M473 109.5h2M428 150.5h2M394 141.5h2M465 112.5h2M418 118.5h2M446 129.5h2M453 121.5h2M494 115.5h2M401 87.5h2M427 151.5h2M427 138.5h2M488 132.5h2M465 118.5h2M430 124.5h2M494 124.5h2M480 141.5h2M481 120.5h2M475 134.5h2M465 125.5h2M492 138.5h2M497 127.5h2M454 136.5h2M437 112.5h2M485 135.5h2M406 123.5h2M422 120.5h2M416 123.5h2M459 113.5h2M448 135.5h2M451 135.5h2M470 112.5h2M415 113.5h2M502 138.5h2M437 118.5h2M448 120.5h2M480 135.5h2M432 127.5h2M481 109.5h2M425 124.5h2M408 146.5h2M482 143.5h2M401 127.5h2M456 109.5h2M432 110.5h2M396 107.5h2M452 120.5h2M477 141.5h2M402 123.5h2M434 139.5h2M468 130.5h2M435 125.5h2M501 138.5h2M456 124.5h2M432 117.5h2M396 125.5h2M434 139.5h2M461 133.5h2M383 116.5h2M427 128.5h2M490 132.5h2M439 146.5h2M443 131.5h2M502 127.5h2M409 125.5h2M420 106.5h2M481 124.5h2M461 89.5h2M443 121.5h2M435 139.5h2M382 98.5h2M409 144.5h2M403 110.5h2M401 113.5h2M493 121.5h2M474 136.5h2M416 134.5h2M412 129.5h2M486 138.5h2M460 116.5h2M456 147.5h2M398 127.5h2M406 122.5h2M423 139.5h2M450 136.5h2M475 110.5h2M441 115.5h2M390 98.5h2M436 111.5h2M451 120.5h2M390 120.5h2M445 99.5h2M481 138.5h2M403 121.5h2M387 118.5h2M427 144.5h2M499 123.5h2M434 120.5h2M481 117.5h2M386 112.5h2M489 122.5h2M385 133.5h2M381 144.5h2M395 109.5h2M423 138.5h2M458 142.5h2M416 109.5h2M391 122.5h2M430 120.5h2M484 140.5h2M470 110.5h2M390 108.5h2M393 114.5h2M471 107.5h2M399 106.5h2M388 118.5h2M456 132.5h2M448 133.5h2M392 101.5h2M433 126.5h2M424 119.5h2M414 156.5h2M383 118.5h2M500 134.5h2M406 126.5h2M429 123.5h2M447 128.5h2M438 121.5h2M468 146.5h2M399 92.5h2M463 125.5h2M495 133.5h2M453 122.5h2M479 115.5h2M476 133.5h2M395 142.5h2M458 121.5h2M386 141.5h2M492 117.5h2M486 135.5h2M492 111.5h2M384 119.5h2M380 119.5h2M442 112.5h2M386 108.5h2M400 125.5h2M434 140.5h2M466 158.5h2M501 125.5h2M430 128.5h2M391 108.5h2M482 130.5h2M501 125.5h2M384 105.5h2M494 100.5h2M389 139.5h2M489 140.5h2M393 139.5h2M444 124.5h2M417 121.5h2M408 124.5h2M495 127.5h2M459 138.5h2M455 127.5h2M409 118.5h2M454 154.5h2M493 128.5h2M415 157.5h2M398 137.5h2M419 128.5h2M492 138.5h2M394 118.5h2M435 104.5h2M382 120.5h2M409 135.5h2M479 118.5h2M385 136.5h2M443 104.5h2M418 117.5h2M472 137.5h2M458 145.5h2M457 139.5h2M419 117.5h2M480 134.5h2M426 129.5h2M460 107.5h2M470 119.5h2M431 140.5h2M450 126.5h2M416 114.5h2M409 116.5h2M391 126.5h2M497 131.5h2M396 141.5h2M447 112.5h2M486 138.5h2M437 126.5h2M445 116.5h2M426 121.5h2M390 118.5h2M486 127.5h2M382 130.5h2M460 122.5h2M470 94.5h2M482 126.5h2M495 92.5h2M385 128.5h2M453 112.5h2M475 140.5h2M384 142.5h2M419 115.5h2M438 138.5h2M501 122.5h2M487 100.5h2M423 139.5h2M413 115.5h2M410 128.5h2M468 118.5h2M388 107.5h2M453 118.5h2M392 126.5h2M405 102.5h2M410 106.5h2M411 137.5h2M484 146.5h2M412 105.5h2M427 115.5h2M407 156.5h2M430 118.5h2M410 126.5h2M449 129.5h2M396 129.5h2M449 148.5h2M446 129.5h2M435 131.5h2M464 126.5h2M403 127.5h2M416 91.5h2M424 132.5h2M472 107.5h2M475 155.5h2M449 114.5h2M454 127.5h2M415 113.5h2M447 115.5h2M423 129.5h2M487 138.5h2M460 132.5h2M463 151.5h2M488 123.5h2M432 126.5h2M465 152.5h2M391 113.5h2M457 123.5h2M466 121.5h2M451 141.5h2M401 122.5h2M493 113.5h2M407 137.5h2M484 146.5h2M416 117.5h2M431 111.5h2M461 116.5h2M422 136.5h2M410 93.5h2M469 114.5h2M386 130.5h2M415 102.5h2M412 114.5h2M409 109.5h2M441 122.5h2M432 149.5h2M441 118.5h2M415 131.5h2M409 117.5h2M434 132.5h2M482 130.5h2M432 118.5h2M483 135.5h2M419 140.5h2M389 127.5h2M480 143.5h2M450 122.5h2M494 136.5h2M398 119.5h2M430 138.5h2M420 114.5h2M427 122.5h2M500 129.5h2M412 96.5h2M433 127.5h2M394 131.5h2M498 136.5h2M465 122.5h2M469 130.5h2M416 137.5h2M467 123.5h2M417 105.5h2M463 145.5h2M485 145.5h2M485 104.5h2M483 122.5h2M480 113.5h2M495 131.5h2M467 116.5h2M444 134.5h2M472 118.5h2M429 137.5h2M409 118.5h2M439 114.5h2M495 136.5h2M392 160.5h2M468 116.5h2M479 128.5h2M400 116.5h2M425 125.5h2M425 151.5h2M473 124.5h2M407 142.5h2M449 149.5h2M461 116.5h2M457 111.5h2M463 125.5h2M397 130.5h2M426 135.5h2M412 123.5h2M410 130.5h2M476 126.5h2M466 109.5h2M405 95.5h2M489 137.5h2M451 132.5h2M481 140.5h2M431 140.5h2M471 138.5h2M498 113.5h2M496 146.5h2M386 114.5h2M425 115.5h2M397 121.5h2M487 119.5h2M501 108.5h2M459 119.5h2M405 105.5h2M391 134.5h2M466 127.5h2M462 123.5h2M398 119.5h2M439 125.5h2M478 144.5h2M386 131.5h2M418 109.5h2M409 121.5h2M419 134.5h2M383 106.5h2M437 146.5h2M395 103.5h2M451 122.5h2M437 117.5h2M490 120.5h2M400 97.5h2M397 106.5h2M411 114.5h2M415 118.5h2M454 128.5h2M436 148.5h2M449 122.5h2M444 148.5h2M396 122.5h2M467 129.5h2M463 130.5h2M494 107.5h2M462 115.5h2M464 80.5h2M451 197.5h2M425 165.5h2M421 111.5h2M436 92.5h2M391 104.5h2M392 133.5h2M430 185.5h2M488 50.5h2M433 126.5h2M500 75.5h2M460 54.5h2M488 158.5h2M469 83.5h2M464 156.5h2M480 117.5h2M483 175.5h2M483 79.5h2M463 90.5h2M422 163.5h2M390 104.5h2M417 117.5h2M491 87.5h2M473 124.5h2M455 68.5h2M481 128.5h2M498 124.5h2M454 125.5h2M418 148.5h2M478 107.5h2M411 134.5h2M472 143.5h2M462 124.5h2M430 110.5h2M475 45.5h2M495 158.5h2M479 123.5h2M389 172.5h2M453 117.5h2M393 158.5h2M421 132.5h2M401 155.5h2M428 161.5h2M438 97.5h2M481 148.5h2M413 80.5h2M498 197.5h2M442 115.5h2M487 103.5h2M452 179.5h2M437 151.5h2M452 81.5h2M484 116.5h2M447 149.5h2M494 73.5h2M497 139.5h2M492 146.5h2M401 68.5h2M498 105.5h2M411 89.5h2M462 113.5h2M451 87.5h2M430 112.5h2M486 117.5h2M411 111.5h2M461 172.5h2M432 158.5h2M419 117.5h2M490 141.5h2M446 156.5h2M471 142.5h2M438 150.5h2M394 119.5h2M436 93.5h2M394 92.5h2M385 138.5h2M489 137.5h2M400 104.5h2M466 95.5h2M495 153.5h2M512 114.5h2M510 144.5h2M517 116.5h2M507 135.5h2M518 142.5h2M508 120.5h2M506 115.5h2M517 99.5h2M505 92.5h2M505 120.5h2M503 128.5h2M517 146.5h2M512 143.5h2M517 101.5h2M511 127.5h2M514 112.5h2M506 111.5h2M506 128.5h2M514 127.5h2M506 127.5h2M506 135.5h2M502 117.5h2M509 108.5h2M505 114.5h2M506 96.5h2M510 132.5h2M510 139.5h2M510 113.5h2M509 132.5h2M505 99.5h2M512 120.5h2M517 128.5h2M509 147.5h2M516 137.5h2M506 132.5h2M507 114.5h2M509 106.5h2M505 112.5h2M515 120.5h2M506 94.5h2M513 124.5h2M514 138.5h2M510 146.5h2M503 135.5h2M511 117.5h2M508 140.5h2M516 108.5h2M511 95.5h2M504 116.5h2M513 132.5h2M508 98.5h2M505 132.5h2M515 106.5h2M509 122.5h2M511 119.5h2M513 133.5h2M503 137.5h2M515 96.5h2M516 93.5h2M509 121.5h2M510 133.5h2M509 96.5h2M504 118.5h2M508 139.5h2M512 138.5h2M507 117.5h2M503 100.5h2M516 101.5h2M513 127.5h2M518 109.5h2M503 118.5h2M506 124.5h2M503 140.5h2M514 118.5h2M511 128.5h2M513 128.5h2M507 134.5h2M512 98.5h2M507 119.5h2M504 100.5h2M507 107.5h2M507 117.5h2M512 95.5h2M506 134.5h2M508 114.5h2M513 124.5h2M506 107.5h2M515 127.5h2M514 122.5h2M515 122.5h2M515 124.5h2M515 110.5h2M517 134.5h2M511 108.5h2M510 98.5h2M510 118.5h2M515 114.5h2M516 111.5h2M512 113.5h2M517 102.5h2M517 104.5h2M507 118.5h2M517 144.5h2M504 128.5h2M508 145.5h2M502 116.5h2M512 128.5h2M508 119.5h2M514 139.5h2M512 116.5h2M517 114.5h2M511 88.5h2M506 113.5h2M506 116.5h2M508 100.5h2M507 119.5h2M508 120.5h2M516 139.5h2M517 139.5h2M508 108.5h2M510 114.5h2M509 98.5h2M509 136.5h2M505 134.5h2M514 115.5h2M508 119.5h2M510 133.5h2M505 102.5h2M514 104.5h2M504 136.5h2M508 119.5h2M514 111.5h2M517 128.5h2M505 144.5h2M513 132.5h2M508 119.5h2M512 107.5h2M513 147.5h2M510 118.5h2M504 114.5h2M511 119.5h2M517 113.5h2M513 106.5h2M504 113.5h2M513 103.5h2M511 147.5h2M510 119.5h2M512 102.5h2M517 89.5h2M505 109.5h2M511 130.5h2M511 123.5h2M506 125.5h2M514 135.5h2M517 113.5h2M506 132.5h2M515 153.5h2M504 109.5h2M510 120.5h2M515 130.5h2M514 118.5h2M516 110.5h2M513 104.5h2M509 105.5h2M515 111.5h2M505 138.5h2M515 106.5h2M505 129.5h2M507 136.5h2M514 117.5h2M515 145.5h2M518 129.5h2M503 107.5h2M510 124.5h2M504 88.5h2M510 144.5h2M507 125.5h2M516 134.5h2M506 120.5h2M508 125.5h2M509 112.5h2M504 106.5h2M504 118.5h2M517 110.5h2M505 106.5h2M508 107.5h2M503 96.5h2M514 107.5h2M512 140.5h2M505 112.5h2M511 134.5h2M513 123.5h2M517 89.5h2M511 136.5h2M512 104.5h2M505 104.5h2M506 113.5h2M517 136.5h2M503 122.5h2M516 106.5h2M505 127.5h2M506 84.5h2M516 131.5h2M507 136.5h2M505 106.5h2M509 139.5h2M514 117.5h2M514 107.5h2M503 131.5h2M515 128.5h2M511 137.5h2M515 113.5h2M512 121.5h2M507 120.5h2M512 112.5h2M509 96.5h2M506 102.5h2M505 117.5h2M502 109.5h2M515 118.5h2M503 129.5h2M516 141.5h2M513 127.5h2M509 127.5h2M515 145.5h2M511 138.5h2M515 119.5h2M512 126.5h2M516 137.5h2M517 134.5h2M510 137.5h2M512 96.5h2M508 134.5h2M513 111.5h2M511 132.5h2M517 114.5h2M506 122.5h2M506 134.5h2M506 119.5h2M508 139.5h2M512 120.5h2M505 125.5h2M503 139.5h2M502 121.5h2M516 115.5h2M507 105.5h2M517 115.5h2M511 135.5h2M506 139.5h2M517 116.5h2M509 132.5h2M512 116.5h2M507 128.5h2M515 103.5h2M505 138.5h2M505 117.5h2M517 112.5h2M515 106.5h2M504 115.5h2M510 119.5h2M514 110.5h2M506 154.5h2M516 131.5h2M515 144.5h2M509 97.5h2M510 109.5h2M509 112.5h2M504 146.5h2M511 139.5h2M514 121.5h2M506 105.5h2M515 99.5h2M505 110.5h2M504 109.5h2M515 132.5h2M505 133.5h2M504 129.5h2M514 124.5h2M504 104.5h2M507 113.5h2M511 107.5h2M504 139.5h2M510 126.5h2M517 120.5h2M511 116.5h2M507 100.5h2M503 123.5h2M518 108.5h2M509 109.5h2M514 111.5h2M507 119.5h2M517 139.5h2M516 118.5h2M508 113.5h2M516 130.5h2M516 118.5h2M506 116.5h2M509 111.5h2M515 89.5h2M511 96.5h2M504 118.5h2M507 124.5h2M510 139.5h2M509 144.5h2M516 99.5h2M509 119.5h2M512 130.5h2M510 106.5h2M510 113.5h2M504 100.5h2M516 120.5h2M507 106.5h2M509 107.5h2M513 125.5h2M513 115.5h2M504 145.5h2M502 123.5h2M506 110.5h2M514 106.5h2M512 120.5h2M504 126.5h2M508 109.5h2M509 157.5h2M514 144.5h2M513 117.5h2M509 107.5h2M503 132.5h2M511 111.5h2M509 124.5h2M513 132.5h2M509 90.5h2M506 120.5h2M516 91.5h2M509 135.5h2M505 151.5h2M503 121.5h2M514 115.5h2M515 100.5h2M512 135.5h2M508 136.5h2M510 121.5h2M516 112.5h2M511 131.5h2M507 118.5h2M514 116.5h2M514 127.5h2M509 125.5h2M514 124.5h2M514 133.5h2M512 117.5h2M517 112.5h2M504 117.5h2M516 126.5h2M510 124.5h2M511 123.5h2M515 96.5h2M511 135.5h2M509 140.5h2M508 117.5h2M518 110.5h2M504 111.5h2M504 147.5h2M517 130.5h2M511 115.5h2M506 99.5h2M508 125.5h2M503 115.5h2M512 108.5h2M510 125.5h2M509 114.5h2M507 99.5h2M515 133.5h2M510 135.5h2M517 133.5h2M514 124.5h2M515 112.5h2M513 115.5h2M517 117.5h2M506 117.5h2M508 130.5h2M510 129.5h2M517 120.5h2M517 117.5h2M510 103.5h2M516 114.5h2M503 125.5h2M507 121.5h2M517 138.5h2M515 120.5h2M514 128.5h2M514 111.5h2M515 123.5h2M517 85.5h2M507 142.5h2M505 144.5h2M511 112.5h2M504 127.5h2M517 131.5h2M508 123.5h2M502 115.5h2M503 135.5h2M511 116.5h2M503 140.5h2M503 130.5h2M514 117.5h2M510 118.5h2M509 121.5h2M514 122.5h2M504 126.5h2M509 143.5h2M509 142.5h2M515 121.5h2M518 136.5h2M503 116.5h2M510 117.5h2M507 146.5h2M515 114.5h2M510 125.5h2M515 137.5h2M517 102.5h2M503 104.5h2M510 98.5h2M517 132.5h2M510 147.5h2M509 126.5h2M516 116.5h2M507 114.5h2M505 121.5h2M503 121.5h2M503 137.5h2M505 115.5h2M516 124.5h2M507 123.5h2M505 121.5h2M506 113.5h2M515 123.5h2M503 112.5h2M512 112.5h2M508 101.5h2M508 150.5h2M517 110.5h2M506 130.5h2M517 129.5h2M510 141.5h2M510 104.5h2M512 135.5h2M513 108.5h2M516 133.5h2M503 107.5h2M508 117.5h2M509 108.5h2M511 116.5h2M508 112.5h2M512 129.5h2M503 128.5h2M512 109.5h2M508 120.5h2M508 112.5h2M507 107.5h2M512 113.5h2M513 123.5h2M509 117.5h2M515 139.5h2M505 125.5h2M503 139.5h2M507 94.5h2M502 123.5h2M507 125.5h2M517 77.5h2M505 109.5h2M504 94.5h2M506 117.5h2M509 114.5h2M512 108.5h2M505 133.5h2M508 119.5h2M511 119.5h2M516 114.5h2M516 115.5h2M514 107.5h2M510 117.5h2M517 129.5h2M511 138.5h2M517 137.5h2M512 88.5h2M507 134.5h2M510 117.5h2M513 140.5h2M507 105.5h2M517 132.5h2M516 113.5h2M515 114.5h2M512 118.5h2M505 121.5h2M507 111.5h2M510 128.5h2M516 123.5h2M509 127.5h2M512 150.5h2M517 147.5h2M513 116.5h2M512 133.5h2M507 128.5h2M511 135.5h2M506 159.5h2M513 130.5h2M513 149.5h2M508 137.5h2M507 108.5h2M514 115.5h2M508 129.5h2M513 117.5h2M507 121.5h2M512 121.5h2M511 119.5h2M503 120.5h2M504 131.5h2M507 128.5h2M508 112.5h2M510 117.5h2M514 86.5h2M507 127.5h2M515 106.5h2M507 105.5h2M507 108.5h2M505 134.5h2M509 119.5h2M513 120.5h2M508 131.5h2M506 127.5h2M512 110.5h2M509 102.5h2M514 113.5h2M503 101.5h2M507 111.5h2M506 92.5h2M511 128.5h2M506 144.5h2M503 86.5h2M511 118.5h2M505 126.5h2M503 131.5h2M517 126.5h2M509 122.5h2M503 113.5h2M507 127.5h2M518 105.5h2M507 129.5h2M508 123.5h2M515 123.5h2M506 117.5h2M515 144.5h2M503 126.5h2M510 130.5h2M507 126.5h2M515 129.5h2M510 125.5h2M504 143.5h2M504 120.5h2M512 142.5h2M513 109.5h2M514 85.5h2M509 132.5h2M514 130.5h2M514 108.5h2M513 105.5h2M503 111.5h2M503 120.5h2M511 119.5h2M512 115.5h2M511 145.5h2M502 126.5h2M507 123.5h2M505 132.5h2M506 108.5h2M518 120.5h2M509 132.5h2M508 106.5h2M504 117.5h2M504 122.5h2M508 124.5h2M510 122.5h2M513 117.5h2M513 152.5h2M507 100.5h2M505 142.5h2M512 114.5h2M510 117.5h2M516 101.5h2M504 109.5h2M513 120.5h2M503 109.5h2M506 97.5h2M516 118.5h2M510 110.5h2M513 92.5h2M518 131.5h2M511 122.5h2M510 100.5h2M506 87.5h2M515 125.5h2M510 126.5h2M513 113.5h2M512 107.5h2M511 131.5h2M511 98.5h2M505 79.5h2M514 116.5h2M504 143.5h2M515 148.5h2M512 139.5h2M510 121.5h2M505 116.5h2M504 132.5h2M508 126.5h2M516 127.5h2M504 123.5h2M512 113.5h2M516 128.5h2M512 123.5h2M514 127.5h2M517 133.5h2M511 109.5h2M504 112.5h2M508 125.5h2M512 100.5h2M515 145.5h2M504 116.5h2M509 116.5h2M518 115.5h2M507 107.5h2M509 107.5h2M516 151.5h2M513 114.5h2M503 131.5h2M509 124.5h2M510 122.5h2M503 122.5h2M509 99.5h2M503 134.5h2M511 115.5h2M507 152.5h2M511 113.5h2M508 50.5h2M506 129.5h2M510 87.5h2M514 95.5h2M505 172.5h2M504 131.5h2M503 143.5h2M505 86.5h2M524 131.5h2M529 145.5h2M530 139.5h2M523 124.5h2M531 101.5h2M519 109.5h2M530 122.5h2M525 86.5h2M528 125.5h2M519 129.5h2M520 134.5h2M528 137.5h2M519 132.5h2M530 142.5h2M526 109.5h2M526 109.5h2M530 140.5h2M526 124.5h2M531 135.5h2M519 119.5h2M524 121.5h2M520 93.5h2M528 120.5h2M522 136.5h2M528 99.5h2M530 127.5h2M519 129.5h2M519 142.5h2M521 144.5h2M522 109.5h2M527 105.5h2M530 154.5h2M520 116.5h2M524 123.5h2M532 110.5h2M526 124.5h2M523 135.5h2M527 129.5h2M530 101.5h2M520 112.5h2M531 122.5h2M520 149.5h2M528 143.5h2M528 111.5h2M524 127.5h2M529 137.5h2M530 113.5h2M526 122.5h2M518 118.5h2M519 105.5h2M530 127.5h2M529 115.5h2M528 142.5h2M524 164.5h2M529 124.5h2M529 142.5h2M531 141.5h2M528 117.5h2M526 116.5h2M526 142.5h2M519 115.5h2M526 115.5h2M528 107.5h2M527 111.5h2M519 139.5h2M522 162.5h2M527 134.5h2M521 113.5h2M520 130.5h2M522 129.5h2M526 116.5h2M524 111.5h2M523 120.5h2M530 121.5h2M531 117.5h2M522 117.5h2M531 137.5h2M527 129.5h2M522 120.5h2M526 125.5h2M521 126.5h2M523 131.5h2M525 128.5h2M518 126.5h2M520 122.5h2M519 125.5h2M531 119.5h2M524 117.5h2M518 140.5h2M518 106.5h2M528 133.5h2M526 151.5h2M524 108.5h2M524 146.5h2M522 126.5h2M527 112.5h2M525 136.5h2M529 117.5h2M527 136.5h2M525 132.5h2M521 127.5h2M519 114.5h2M531 134.5h2M528 115.5h2M522 133.5h2M523 126.5h2M520 122.5h2M522 133.5h2M520 119.5h2M525 143.5h2M523 128.5h2M519 125.5h2M525 106.5h2M522 125.5h2M527 137.5h2M529 112.5h2M522 131.5h2M529 153.5h2M525 127.5h2M519 142.5h2M527 127.5h2M531 147.5h2M519 121.5h2M529 114.5h2M531 103.5h2M523 126.5h2M530 102.5h2M521 125.5h2M528 137.5h2M521 130.5h2M528 168.5h2M523 141.5h2M522 134.5h2M526 128.5h2M530 125.5h2M527 117.5h2M528 109.5h2M526 127.5h2M525 143.5h2M529 123.5h2M524 120.5h2M520 124.5h2M521 121.5h2M522 138.5h2M529 134.5h2M528 125.5h2M531 119.5h2M522 125.5h2M532 113.5h2M531 97.5h2M523 115.5h2M519 134.5h2M519 144.5h2M524 109.5h2M530 158.5h2M521 133.5h2M531 130.5h2M520 122.5h2M527 120.5h2M526 124.5h2M523 130.5h2M529 120.5h2M529 119.5h2M523 145.5h2M524 145.5h2M532 107.5h2M527 134.5h2M519 116.5h2M520 139.5h2M519 119.5h2M520 93.5h2M519 140.5h2M524 128.5h2M521 135.5h2M532 125.5h2M531 123.5h2M530 110.5h2M530 128.5h2M525 118.5h2M529 103.5h2M528 121.5h2M532 121.5h2M528 113.5h2M532 112.5h2M518 101.5h2M530 130.5h2M531 120.5h2M519 109.5h2M523 113.5h2M529 119.5h2M523 135.5h2M521 134.5h2M526 116.5h2M527 120.5h2M529 114.5h2M519 116.5h2M527 125.5h2M525 134.5h2M527 138.5h2M528 117.5h2M529 136.5h2M528 108.5h2M529 126.5h2M528 103.5h2M530 130.5h2M530 104.5h2M519 101.5h2M521 128.5h2M521 104.5h2M521 126.5h2M529 136.5h2M531 110.5h2M527 136.5h2M529 119.5h2M526 98.5h2M528 119.5h2M526 120.5h2M528 125.5h2M530 103.5h2M526 146.5h2M527 137.5h2M531 125.5h2M522 105.5h2M519 126.5h2M520 123.5h2M520 123.5h2M525 130.5h2M519 88.5h2M531 111.5h2M524 135.5h2M531 136.5h2M530 133.5h2M529 102.5h2M531 118.5h2M528 140.5h2M523 110.5h2M520 138.5h2M531 144.5h2M531 84.5h2M521 133.5h2M520 112.5h2M521 118.5h2M519 126.5h2M526 130.5h2M520 109.5h2M528 126.5h2M518 129.5h2M522 135.5h2M524 136.5h2M519 110.5h2M521 129.5h2M526 132.5h2M526 122.5h2M523 121.5h2M523 114.5h2M519 108.5h2M523 111.5h2M530 102.5h2M526 105.5h2M524 114.5h2M523 123.5h2M518 108.5h2M520 130.5h2M531 131.5h2M531 136.5h2M529 124.5h2M527 113.5h2M524 124.5h2M522 128.5h2M519 105.5h2M526 113.5h2M526 123.5h2M532 140.5h2M527 113.5h2M523 112.5h2M521 110.5h2M525 127.5h2M528 133.5h2M531 112.5h2M529 129.5h2M528 144.5h2M525 102.5h2M532 129.5h2M524 117.5h2M531 137.5h2M522 122.5h2M528 97.5h2M519 106.5h2M523 134.5h2M529 135.5h2M525 107.5h2M526 129.5h2M526 144.5h2M524 111.5h2M527 120.5h2M532 148.5h2M530 120.5h2M527 105.5h2M531 111.5h2M527 98.5h2M522 122.5h2M529 133.5h2M527 140.5h2M530 122.5h2M519 129.5h2M520 145.5h2M519 95.5h2M530 101.5h2M525 144.5h2M522 91.5h2M530 126.5h2M524 141.5h2M529 136.5h2M521 109.5h2M524 122.5h2M529 117.5h2M531 130.5h2M519 119.5h2M523 96.5h2M523 136.5h2M522 142.5h2M529 123.5h2M528 133.5h2M529 127.5h2M522 122.5h2M523 119.5h2M530 113.5h2M523 129.5h2M520 125.5h2M525 126.5h2M524 109.5h2M528 129.5h2M527 121.5h2M520 157.5h2M524 132.5h2M520 124.5h2M525 91.5h2M524 138.5h2M525 128.5h2M526 138.5h2M527 121.5h2M531 126.5h2M530 115.5h2M521 109.5h2M523 120.5h2M530 107.5h2M519 125.5h2M526 98.5h2M523 112.5h2M531 126.5h2M524 121.5h2M531 127.5h2M523 116.5h2M530 99.5h2M522 128.5h2M526 88.5h2M521 125.5h2M526 156.5h2M524 100.5h2M530 132.5h2M519 114.5h2M531 127.5h2M522 129.5h2M529 127.5h2M520 132.5h2M527 144.5h2M529 130.5h2M525 136.5h2M529 123.5h2M525 97.5h2M519 128.5h2M522 147.5h2M522 129.5h2M523 110.5h2M527 133.5h2M531 135.5h2M531 105.5h2M520 109.5h2M522 152.5h2M526 126.5h2M519 122.5h2M523 116.5h2M519 125.5h2M524 142.5h2M525 105.5h2M519 143.5h2M520 101.5h2M525 121.5h2M527 140.5h2M532 140.5h2M529 129.5h2M530 138.5h2M531 126.5h2M522 139.5h2M526 116.5h2M519 115.5h2M524 152.5h2M527 96.5h2M526 111.5h2M521 140.5h2M527 143.5h2M520 129.5h2M524 137.5h2M521 148.5h2M519 144.5h2M526 139.5h2M527 123.5h2M522 115.5h2M525 105.5h2M526 140.5h2M526 119.5h2M521 156.5h2M524 112.5h2M525 134.5h2M521 165.5h2M522 134.5h2M523 111.5h2M525 107.5h2M530 122.5h2M524 137.5h2M525 125.5h2M529 131.5h2M524 114.5h2M520 120.5h2M524 133.5h2M523 139.5h2M530 131.5h2M528 129.5h2M524 110.5h2M530 137.5h2M519 135.5h2M518 141.5h2M519 113.5h2M524 112.5h2M519 97.5h2M530 120.5h2M526 146.5h2M529 147.5h2M529 123.5h2M529 112.5h2M525 93.5h2M526 113.5h2M522 132.5h2M525 127.5h2M527 126.5h2M523 132.5h2M531 134.5h2M525 121.5h2M528 106.5h2M519 130.5h2M527 132.5h2M519 117.5h2M524 119.5h2M526 133.5h2M523 138.5h2M527 97.5h2M525 128.5h2M522 111.5h2M523 135.5h2M521 134.5h2M531 124.5h2M519 116.5h2M530 124.5h2M532 105.5h2M519 131.5h2M527 126.5h2M527 132.5h2M530 121.5h2M522 124.5h2M523 135.5h2M519 129.5h2M524 124.5h2M529 125.5h2M520 104.5h2M521 128.5h2M523 149.5h2M520 124.5h2M519 140.5h2M520 94.5h2M530 114.5h2M526 154.5h2M526 119.5h2M527 134.5h2M520 137.5h2M520 157.5h2M527 120.5h2M522 134.5h2M532 137.5h2M520 157.5h2M528 125.5h2M520 114.5h2M532 126.5h2M519 122.5h2M519 121.5h2M521 122.5h2M526 130.5h2M519 106.5h2M526 133.5h2M522 121.5h2M521 106.5h2M529 115.5h2M525 112.5h2M521 127.5h2M530 123.5h2M525 101.5h2M519 157.5h2M529 121.5h2M526 134.5h2M525 131.5h2M524 130.5h2M529 122.5h2M524 134.5h2M524 114.5h2M519 118.5h2M532 129.5h2M520 124.5h2M522 125.5h2M522 123.5h2M524 137.5h2M522 144.5h2M522 147.5h2M525 124.5h2M527 118.5h2M522 133.5h2M523 119.5h2M531 120.5h2M526 117.5h2M529 130.5h2M529 138.5h2M521 122.5h2M531 112.5h2M527 163.5h2M520 103.5h2M519 132.5h2M527 125.5h2M519 125.5h2M527 119.5h2M526 146.5h2M521 144.5h2M519 115.5h2M530 130.5h2M525 119.5h2M529 128.5h2M527 108.5h2M525 123.5h2M531 129.5h2M525 102.5h2M528 114.5h2M523 134.5h2M525 147.5h2M524 104.5h2M521 101.5h2M523 99.5h2M523 120.5h2M531 134.5h2M530 107.5h2M525 137.5h2M528 134.5h2M525 133.5h2M530 120.5h2M527 110.5h2M519 51.5h2M524 98.5h2M523 74.5h2M525 99.5h2M520 121.5h2M523 163.5h2M524 98.5h2M531 98.5h2M553 110.5h2M651 138.5h2M587 129.5h2M634 134.5h2M624 125.5h2M619 124.5h2M562 130.5h2M574 120.5h2M606 126.5h2M575 123.5h2M588 109.5h2M556 116.5h2M630 136.5h2M538 121.5h2M541 136.5h2M644 112.5h2M609 116.5h2M631 141.5h2M635 111.5h2M561 120.5h2M632 142.5h2M591 135.5h2M541 124.5h2M655 133.5h2M611 130.5h2M608 122.5h2M624 113.5h2M654 126.5h2M636 134.5h2M565 103.5h2M631 105.5h2M625 127.5h2M544 130.5h2M595 122.5h2M595 135.5h2M599 113.5h2M591 116.5h2M566 126.5h2M633 133.5h2M656 119.5h2M623 115.5h2M578 130.5h2M619 110.5h2M636 140.5h2M654 128.5h2M538 113.5h2M641 146.5h2M573 129.5h2M595 101.5h2M545 130.5h2M534 150.5h2M652 122.5h2M580 152.5h2M599 120.5h2M619 142.5h2M624 120.5h2M539 112.5h2M642 135.5h2M639 122.5h2M576 108.5h2M572 151.5h2M595 130.5h2M559 131.5h2M586 133.5h2M653 127.5h2M574 121.5h2M549 112.5h2M596 149.5h2M561 142.5h2M542 122.5h2M625 104.5h2M544 90.5h2M568 121.5h2M612 130.5h2M633 134.5h2M561 130.5h2M604 123.5h2M568 123.5h2M615 105.5h2M538 140.5h2M557 132.5h2M549 128.5h2M652 128.5h2M568 122.5h2M602 118.5h2M538 127.5h2M583 133.5h2M583 90.5h2M539 125.5h2M620 130.5h2M661 118.5h2M570 115.5h2M536 123.5h2M633 136.5h2M660 148.5h2M539 128.5h2M607 123.5h2M596 129.5h2M641 114.5h2M640 149.5h2M600 125.5h2M622 120.5h2M633 132.5h2M609 126.5h2M652 126.5h2M615 109.5h2M622 143.5h2M578 121.5h2M540 109.5h2M560 129.5h2M607 119.5h2M647 136.5h2M644 137.5h2M639 134.5h2M574 127.5h2M536 137.5h2M562 127.5h2M549 120.5h2M660 119.5h2M577 152.5h2M625 148.5h2M562 130.5h2M635 104.5h2M623 149.5h2M605 144.5h2M552 145.5h2M622 144.5h2M581 123.5h2M599 124.5h2M564 114.5h2M591 98.5h2M535 121.5h2M543 157.5h2M622 136.5h2M656 119.5h2M546 135.5h2M643 133.5h2M655 113.5h2M581 149.5h2M534 161.5h2M578 129.5h2M535 120.5h2M580 112.5h2M662 131.5h2M546 145.5h2M538 134.5h2M663 130.5h2M630 122.5h2M569 127.5h2M613 144.5h2M552 110.5h2M583 124.5h2M541 140.5h2M603 130.5h2M586 133.5h2M565 113.5h2M597 153.5h2M634 114.5h2M546 128.5h2M662 121.5h2M561 109.5h2M571 125.5h2M551 106.5h2M561 135.5h2M623 132.5h2M624 117.5h2M548 112.5h2M636 103.5h2M549 145.5h2M632 130.5h2M655 143.5h2M602 133.5h2M542 140.5h2M555 129.5h2M599 125.5h2M562 131.5h2M624 118.5h2M582 108.5h2M580 144.5h2M619 139.5h2M635 114.5h2M658 125.5h2M534 132.5h2M660 114.5h2M544 136.5h2M612 127.5h2M634 136.5h2M550 123.5h2M657 123.5h2M563 118.5h2M606 151.5h2M602 156.5h2M566 137.5h2M626 133.5h2M586 106.5h2M634 143.5h2M552 160.5h2M552 114.5h2M653 117.5h2M549 157.5h2M603 133.5h2M573 140.5h2M538 138.5h2M627 132.5h2M570 120.5h2M609 136.5h2M639 118.5h2M539 130.5h2M562 112.5h2M605 126.5h2M632 124.5h2M547 136.5h2M597 126.5h2M613 117.5h2M648 123.5h2M630 142.5h2M545 124.5h2M594 131.5h2M545 134.5h2M651 131.5h2M602 109.5h2M594 145.5h2M583 111.5h2M611 100.5h2M662 133.5h2M648 130.5h2M588 122.5h2M657 98.5h2M594 123.5h2M661 120.5h2M601 96.5h2M569 121.5h2M601 104.5h2M658 119.5h2M553 131.5h2M631 145.5h2M629 129.5h2M657 109.5h2M572 131.5h2M542 103.5h2M581 135.5h2M609 107.5h2M574 118.5h2M575 157.5h2M580 133.5h2M561 132.5h2M592 103.5h2M535 109.5h2M600 132.5h2M549 119.5h2M642 124.5h2M655 133.5h2M619 130.5h2M572 100.5h2M575 128.5h2M648 140.5h2M611 134.5h2M586 132.5h2M560 119.5h2M583 90.5h2M574 139.5h2M563 112.5h2M553 147.5h2M550 137.5h2M642 105.5h2M599 132.5h2M656 126.5h2M637 144.5h2M653 103.5h2M543 133.5h2M626 107.5h2M542 108.5h2M590 109.5h2M547 145.5h2M555 142.5h2M657 136.5h2M550 116.5h2M547 113.5h2M597 126.5h2M585 113.5h2M546 136.5h2M578 115.5h2M572 114.5h2M559 137.5h2M578 137.5h2M617 114.5h2M636 129.5h2M552 139.5h2M576 114.5h2M640 137.5h2M640 131.5h2M543 131.5h2M552 126.5h2M582 140.5h2M549 137.5h2M650 123.5h2M582 138.5h2M630 127.5h2M597 140.5h2M585 146.5h2M629 144.5h2M612 129.5h2M658 130.5h2M582 124.5h2M621 129.5h2M645 138.5h2M577 129.5h2M592 130.5h2M570 126.5h2M605 111.5h2M576 130.5h2M657 104.5h2M550 116.5h2M618 99.5h2M621 123.5h2M592 114.5h2M633 131.5h2M600 119.5h2M609 127.5h2M634 129.5h2M637 122.5h2M599 98.5h2M586 147.5h2M540 142.5h2M533 114.5h2M539 124.5h2M534 132.5h2M599 115.5h2M633 134.5h2M582 122.5h2M556 125.5h2M545 112.5h2M660 102.5h2M600 112.5h2M535 127.5h2M612 115.5h2M596 143.5h2M616 128.5h2M562 111.5h2M540 123.5h2M536 134.5h2M562 110.5h2M590 144.5h2M631 150.5h2M536 125.5h2M552 124.5h2M650 116.5h2M563 155.5h2M552 117.5h2M642 136.5h2M649 134.5h2M586 133.5h2M661 116.5h2M536 155.5h2M607 125.5h2M615 127.5h2M622 138.5h2M552 114.5h2M662 143.5h2M602 120.5h2M595 144.5h2M621 121.5h2M655 115.5h2M592 119.5h2M557 135.5h2M602 118.5h2M647 129.5h2M581 121.5h2M554 130.5h2M555 134.5h2M611 152.5h2M660 126.5h2M649 114.5h2M608 127.5h2M578 125.5h2M571 123.5h2M578 145.5h2M533 119.5h2M574 137.5h2M575 128.5h2M552 157.5h2M549 100.5h2M591 124.5h2M572 127.5h2M638 144.5h2M550 141.5h2M559 131.5h2M626 126.5h2M656 125.5h2M592 109.5h2M649 101.5h2M578 122.5h2M636 114.5h2M568 129.5h2M618 137.5h2M636 105.5h2M579 145.5h2M587 122.5h2M572 111.5h2M639 108.5h2M533 143.5h2M607 123.5h2M587 132.5h2M554 124.5h2M580 113.5h2M571 115.5h2M600 121.5h2M617 115.5h2M661 109.5h2M618 141.5h2M564 123.5h2M609 118.5h2M556 126.5h2M564 156.5h2M537 133.5h2M633 124.5h2M606 141.5h2M575 135.5h2M551 125.5h2M642 152.5h2M567 131.5h2M602 120.5h2M639 136.5h2M621 127.5h2M607 110.5h2M640 105.5h2M608 134.5h2M575 146.5h2M633 118.5h2M584 118.5h2M639 124.5h2M570 121.5h2M538 136.5h2M608 122.5h2M639 132.5h2M595 125.5h2M594 130.5h2M582 140.5h2M557 106.5h2M539 140.5h2M627 120.5h2M652 121.5h2M533 110.5h2M571 128.5h2M536 133.5h2M593 107.5h2M537 108.5h2M631 106.5h2M630 112.5h2M569 125.5h2M607 130.5h2M608 110.5h2M537 147.5h2M650 115.5h2M662 127.5h2M536 126.5h2M541 132.5h2M636 142.5h2M594 130.5h2M563 118.5h2M610 116.5h2M642 122.5h2M583 134.5h2M641 135.5h2M650 124.5h2M553 142.5h2M562 134.5h2M597 136.5h2M635 148.5h2M659 132.5h2M551 115.5h2M589 124.5h2M654 101.5h2M651 107.5h2M569 146.5h2M651 117.5h2M662 125.5h2M563 136.5h2M616 140.5h2M611 142.5h2M590 126.5h2M631 119.5h2M594 121.5h2M586 101.5h2M609 142.5h2M545 126.5h2M572 139.5h2M641 99.5h2M584 130.5h2M571 144.5h2M605 129.5h2M627 135.5h2M618 113.5h2M618 127.5h2M534 110.5h2M596 106.5h2M601 116.5h2M578 122.5h2M552 139.5h2M567 121.5h2M553 122.5h2M635 127.5h2M586 105.5h2M564 122.5h2M608 150.5h2M625 118.5h2M587 137.5h2M596 116.5h2M602 128.5h2M549 129.5h2M587 122.5h2M542 108.5h2M610 116.5h2M636 156.5h2M536 140.5h2M559 143.5h2M642 108.5h2M560 141.5h2M651 140.5h2M575 124.5h2M601 126.5h2M626 123.5h2M622 122.5h2M606 118.5h2M538 154.5h2M538 113.5h2M634 139.5h2M580 136.5h2M622 112.5h2M613 141.5h2M592 123.5h2M583 109.5h2M567 130.5h2M626 115.5h2M562 129.5h2M650 95.5h2M579 142.5h2M597 130.5h2M577 107.5h2M658 136.5h2M560 134.5h2M654 129.5h2M562 141.5h2M650 142.5h2M565 110.5h2M627 132.5h2M656 143.5h2M570 107.5h2M548 135.5h2M593 137.5h2M637 116.5h2M571 118.5h2M608 117.5h2M578 118.5h2M564 125.5h2M620 135.5h2M639 143.5h2M547 102.5h2M625 131.5h2M660 143.5h2M600 146.5h2M647 127.5h2M619 130.5h2M540 126.5h2M540 134.5h2M604 113.5h2M663 103.5h2M610 108.5h2M661 125.5h2M622 118.5h2M586 115.5h2M649 129.5h2M606 99.5h2M612 127.5h2M545 136.5h2M532 121.5h2M619 132.5h2M559 116.5h2M611 119.5h2M557 121.5h2M638 113.5h2M544 130.5h2M621 124.5h2M653 118.5h2M622 123.5h2M574 99.5h2M573 123.5h2M659 128.5h2M603 121.5h2M550 116.5h2M559 131.5h2M563 119.5h2M644 112.5h2M617 128.5h2M638 133.5h2M561 114.5h2M628 124.5h2M611 132.5h2M635 120.5h2M587 125.5h2M579 138.5h2M560 119.5h2M608 111.5h2M556 140.5h2M558 125.5h2M615 124.5h2M571 150.5h2M629 141.5h2M611 132.5h2M554 126.5h2M586 141.5h2M559 151.5h2M634 122.5h2M639 108.5h2M624 126.5h2M634 109.5h2M638 141.5h2M634 120.5h2M582 140.5h2M597 142.5h2M625 125.5h2M554 112.5h2M565 125.5h2M534 136.5h2M646 127.5h2M563 128.5h2M624 123.5h2M609 114.5h2M653 131.5h2M613 134.5h2M604 89.5h2M583 94.5h2M656 140.5h2M618 124.5h2M656 129.5h2M542 145.5h2M651 138.5h2M649 121.5h2M601 122.5h2M600 116.5h2M634 119.5h2M601 103.5h2M615 107.5h2M559 147.5h2M543 118.5h2M635 130.5h2M617 131.5h2M642 116.5h2M570 155.5h2M608 114.5h2M653 124.5h2M571 133.5h2M644 139.5h2M534 113.5h2M568 123.5h2M569 127.5h2M635 96.5h2M656 122.5h2M571 105.5h2M570 130.5h2M631 111.5h2M597 105.5h2M626 127.5h2M592 124.5h2M605 150.5h2M654 122.5h2M543 131.5h2M606 132.5h2M581 129.5h2M637 122.5h2M655 129.5h2M631 140.5h2M559 116.5h2M534 108.5h2M542 116.5h2M568 117.5h2M534 118.5h2M533 100.5h2M605 128.5h2M601 122.5h2M589 145.5h2M543 125.5h2M544 114.5h2M634 143.5h2M613 115.5h2M601 129.5h2M558 116.5h2M581 118.5h2M651 127.5h2M576 123.5h2M632 105.5h2M577 134.5h2M650 112.5h2M610 137.5h2M640 136.5h2M657 125.5h2M646 119.5h2M598 169.5h2M635 110.5h2M640 146.5h2M574 136.5h2M599 121.5h2M536 121.5h2M581 117.5h2M630 110.5h2M643 119.5h2M600 119.5h2M575 138.5h2M562 145.5h2M662 124.5h2M640 128.5h2M545 126.5h2M651 115.5h2M611 153.5h2M539 137.5h2M662 116.5h2M543 149.5h2M586 116.5h2M631 108.5h2M637 132.5h2M594 150.5h2M562 113.5h2M657 110.5h2M549 111.5h2M615 128.5h2M599 141.5h2M568 128.5h2M539 103.5h2M581 118.5h2M589 120.5h2M599 123.5h2M542 144.5h2M571 155.5h2M610 133.5h2M645 126.5h2M585 124.5h2M553 127.5h2M649 142.5h2M562 137.5h2M609 144.5h2M554 127.5h2M569 140.5h2M588 128.5h2M568 111.5h2M549 129.5h2M653 127.5h2M600 109.5h2M590 134.5h2M642 130.5h2M573 115.5h2M533 127.5h2M584 125.5h2M545 116.5h2M639 128.5h2M534 121.5h2M660 125.5h2M616 123.5h2M580 121.5h2M580 120.5h2M656 121.5h2M537 130.5h2M535 147.5h2M614 122.5h2M642 103.5h2M547 137.5h2M545 142.5h2M596 128.5h2M533 139.5h2M575 123.5h2M557 138.5h2M658 115.5h2M620 117.5h2M542 117.5h2M616 121.5h2M660 138.5h2M620 132.5h2M574 134.5h2M636 137.5h2M539 126.5h2M644 138.5h2M586 116.5h2M597 148.5h2M589 133.5h2M642 154.5h2M543 122.5h2M621 105.5h2M567 126.5h2M587 106.5h2M610 125.5h2M627 144.5h2M644 124.5h2M560 134.5h2M660 121.5h2M624 123.5h2M656 116.5h2M561 133.5h2M581 129.5h2M539 114.5h2M589 124.5h2M634 140.5h2M613 115.5h2M557 104.5h2M635 132.5h2M630 123.5h2M540 99.5h2M642 151.5h2M643 120.5h2M552 137.5h2M633 111.5h2M603 109.5h2M587 121.5h2M550 158.5h2M539 159.5h2M600 115.5h2M644 136.5h2M570 147.5h2M649 118.5h2M544 134.5h2M547 142.5h2M594 121.5h2M562 118.5h2M651 119.5h2M605 127.5h2M643 113.5h2M652 118.5h2M641 113.5h2M556 131.5h2M585 115.5h2M539 113.5h2M571 131.5h2M571 124.5h2M646 117.5h2M568 120.5h2M572 141.5h2M572 116.5h2M648 134.5h2M559 96.5h2M561 120.5h2M599 120.5h2M633 111.5h2M580 146.5h2M557 105.5h2M541 122.5h2M661 135.5h2M614 117.5h2M557 129.5h2M592 125.5h2M580 140.5h2M587 117.5h2M598 145.5h2M573 131.5h2M628 126.5h2M660 115.5h2M644 113.5h2M612 105.5h2M552 113.5h2M568 117.5h2M661 151.5h2M583 133.5h2M566 128.5h2M608 127.5h2M583 122.5h2M618 134.5h2M625 113.5h2M551 118.5h2M539 107.5h2M574 148.5h2M536 109.5h2M579 121.5h2M604 120.5h2M651 131.5h2M572 123.5h2M656 143.5h2M542 140.5h2M611 121.5h2M602 124.5h2M642 126.5h2M617 127.5h2M544 123.5h2M604 132.5h2M644 126.5h2M661 128.5h2M657 122.5h2M640 132.5h2M609 134.5h2M537 135.5h2M565 132.5h2M575 128.5h2M618 115.5h2M603 129.5h2M614 111.5h2M613 126.5h2M541 132.5h2M556 159.5h2M650 127.5h2M546 132.5h2M573 118.5h2M600 119.5h2M646 130.5h2M571 105.5h2M655 116.5h2M649 139.5h2M544 130.5h2M570 117.5h2M580 138.5h2M590 144.5h2M552 154.5h2M533 117.5h2M594 117.5h2M555 110.5h2M634 125.5h2M635 119.5h2M557 153.5h2M596 131.5h2M540 134.5h2M581 131.5h2M583 116.5h2M643 128.5h2M632 123.5h2M577 127.5h2M629 123.5h2M589 107.5h2M610 135.5h2M632 140.5h2M622 130.5h2M585 115.5h2M548 106.5h2M627 116.5h2M550 136.5h2M606 109.5h2M605 91.5h2M628 106.5h2M618 157.5h2M542 129.5h2M642 124.5h2M569 111.5h2M576 105.5h2M625 121.5h2M574 138.5h2M546 118.5h2M654 116.5h2M637 139.5h2M589 132.5h2M611 121.5h2M556 134.5h2M532 120.5h2M575 133.5h2M557 113.5h2M601 123.5h2M611 137.5h2M575 124.5h2M621 124.5h2M535 128.5h2M600 120.5h2M599 100.5h2M591 122.5h2M604 132.5h2M659 145.5h2M650 116.5h2M532 125.5h2M552 120.5h2M568 142.5h2M600 130.5h2M616 119.5h2M636 118.5h2M609 108.5h2M659 130.5h2M544 136.5h2M602 144.5h2M625 133.5h2M588 113.5h2M575 109.5h2M623 141.5h2M593 113.5h2M625 118.5h2M541 130.5h2M541 125.5h2M606 125.5h2M602 112.5h2M588 118.5h2M636 139.5h2M566 135.5h2M614 151.5h2M631 126.5h2M540 143.5h2M654 143.5h2M622 146.5h2M627 135.5h2M564 148.5h2M607 128.5h2M631 116.5h2M645 130.5h2M645 114.5h2M555 131.5h2M636 139.5h2M565 119.5h2M560 152.5h2M563 114.5h2M636 122.5h2M597 122.5h2M612 134.5h2M549 125.5h2M594 138.5h2M572 104.5h2M617 108.5h2M557 127.5h2M598 122.5h2M550 136.5h2M646 121.5h2M615 142.5h2M534 136.5h2M615 125.5h2M554 145.5h2M657 114.5h2M616 112.5h2M658 129.5h2M572 138.5h2M579 138.5h2M654 139.5h2M550 129.5h2M561 135.5h2M600 129.5h2M625 137.5h2M572 123.5h2M612 117.5h2M630 107.5h2M627 134.5h2M617 117.5h2M574 140.5h2M542 147.5h2M575 135.5h2M580 124.5h2M632 128.5h2M645 137.5h2M552 116.5h2M544 112.5h2M566 124.5h2M536 114.5h2M577 124.5h2M639 122.5h2M642 131.5h2M648 140.5h2M580 143.5h2M657 117.5h2M609 133.5h2M599 138.5h2M662 129.5h2M637 120.5h2M590 116.5h2M634 136.5h2M661 143.5h2M572 120.5h2M644 110.5h2M578 106.5h2M614 120.5h2M642 126.5h2M624 131.5h2M538 121.5h2M599 130.5h2M583 127.5h2M548 151.5h2M628 126.5h2M577 112.5h2M591 128.5h2M595 110.5h2M567 135.5h2M600 142.5h2M626 132.5h2M637 142.5h2M621 110.5h2M654 119.5h2M579 110.5h2M648 138.5h2M582 142.5h2M651 142.5h2M544 119.5h2M619 142.5h2M607 135.5h2M657 140.5h2M551 96.5h2M543 152.5h2M646 115.5h2M571 148.5h2M582 115.5h2M618 133.5h2M623 145.5h2M552 128.5h2M604 139.5h2M541 139.5h2M656 125.5h2M543 140.5h2M533 131.5h2M622 132.5h2M560 149.5h2M592 134.5h2M611 106.5h2M646 131.5h2M606 106.5h2M537 121.5h2M647 120.5h2M655 125.5h2M538 120.5h2M615 131.5h2M590 101.5h2M570 106.5h2M571 136.5h2M559 143.5h2M533 130.5h2M541 135.5h2M643 126.5h2M621 127.5h2M590 127.5h2M546 141.5h2M548 142.5h2M624 142.5h2M554 133.5h2M660 123.5h2M538 125.5h2M592 107.5h2M576 114.5h2M553 135.5h2M633 117.5h2M622 135.5h2M639 135.5h2M653 137.5h2M621 141.5h2M546 133.5h2M608 165.5h2M537 127.5h2M574 116.5h2M540 120.5h2M539 113.5h2M566 120.5h2M660 143.5h2M578 114.5h2M537 135.5h2M598 114.5h2M630 136.5h2M570 126.5h2M645 149.5h2M638 130.5h2M630 120.5h2M593 126.5h2M608 117.5h2M639 132.5h2M600 109.5h2M569 98.5h2M534 132.5h2M535 112.5h2M585 154.5h2M608 112.5h2M648 136.5h2M610 128.5h2M547 118.5h2M642 136.5h2M626 124.5h2M609 134.5h2M573 128.5h2M604 126.5h2M619 119.5h2M660 136.5h2M619 157.5h2M580 121.5h2M549 117.5h2M630 131.5h2M623 116.5h2M602 158.5h2M644 122.5h2M611 130.5h2M579 128.5h2M596 138.5h2M619 140.5h2M542 122.5h2M540 124.5h2M568 101.5h2M658 102.5h2M626 151.5h2M545 123.5h2M647 116.5h2M595 150.5h2M546 102.5h2M575 137.5h2M654 139.5h2M539 127.5h2M547 146.5h2M595 98.5h2M550 128.5h2M593 126.5h2M549 89.5h2M615 127.5h2M576 115.5h2M590 142.5h2M600 124.5h2M626 127.5h2M583 135.5h2M597 119.5h2M624 124.5h2M605 133.5h2M574 120.5h2M593 121.5h2M662 144.5h2M559 127.5h2M613 110.5h2M581 142.5h2M562 116.5h2M569 140.5h2M660 116.5h2M603 119.5h2M540 137.5h2M579 116.5h2M644 131.5h2M636 125.5h2M642 127.5h2M606 153.5h2M633 111.5h2M594 128.5h2M650 124.5h2M544 141.5h2M569 105.5h2M590 116.5h2M601 124.5h2M538 138.5h2M645 143.5h2M645 142.5h2M561 134.5h2M597 94.5h2M591 131.5h2M603 139.5h2M563 118.5h2M572 128.5h2M649 113.5h2M603 103.5h2M653 147.5h2M659 130.5h2M551 131.5h2M597 106.5h2M560 110.5h2M653 128.5h2M624 126.5h2M582 136.5h2M570 98.5h2M614 120.5h2M612 124.5h2M636 139.5h2M536 131.5h2M572 132.5h2M617 138.5h2M619 120.5h2M629 98.5h2M615 146.5h2M585 131.5h2M553 126.5h2M629 121.5h2M612 107.5h2M563 109.5h2M546 129.5h2M661 125.5h2M573 141.5h2M566 119.5h2M641 121.5h2M538 118.5h2M607 132.5h2M641 136.5h2M548 94.5h2M605 130.5h2M623 138.5h2M606 101.5h2M580 136.5h2M554 121.5h2M625 120.5h2M610 127.5h2M634 155.5h2M613 114.5h2M574 115.5h2M600 129.5h2M560 125.5h2M585 112.5h2M639 134.5h2M609 130.5h2M603 155.5h2M613 142.5h2M663 107.5h2M560 148.5h2M543 151.5h2M554 108.5h2M577 112.5h2M659 121.5h2M616 117.5h2M610 105.5h2M582 128.5h2M552 124.5h2M618 123.5h2M649 119.5h2M536 133.5h2M647 138.5h2M612 142.5h2M662 122.5h2M659 138.5h2M598 128.5h2M646 118.5h2M590 128.5h2M647 125.5h2M533 147.5h2M657 128.5h2M552 133.5h2M659 136.5h2M632 134.5h2M608 131.5h2M597 122.5h2M592 109.5h2M641 148.5h2M590 119.5h2M622 124.5h2M546 108.5h2M556 106.5h2M566 126.5h2M570 130.5h2M616 141.5h2M553 114.5h2M575 125.5h2M654 142.5h2M571 133.5h2M613 123.5h2M644 127.5h2M643 139.5h2M534 134.5h2M563 128.5h2M658 125.5h2M650 142.5h2M640 110.5h2M568 123.5h2M537 112.5h2M588 124.5h2M617 142.5h2M652 141.5h2M585 119.5h2M628 124.5h2M587 132.5h2M589 127.5h2M547 141.5h2M614 120.5h2M632 137.5h2M560 118.5h2M577 140.5h2M616 110.5h2M573 103.5h2M584 122.5h2M630 141.5h2M622 137.5h2M567 135.5h2M653 120.5h2M610 109.5h2M540 150.5h2M542 136.5h2M654 145.5h2M645 103.5h2M547 116.5h2M641 125.5h2M643 114.5h2M630 118.5h2M625 110.5h2M561 133.5h2M564 125.5h2M662 131.5h2M640 106.5h2M605 150.5h2M574 118.5h2M659 132.5h2M546 139.5h2M534 99.5h2M578 126.5h2M576 127.5h2M616 129.5h2M554 132.5h2M533 130.5h2M571 130.5h2M637 126.5h2M533 111.5h2M640 131.5h2M580 122.5h2M537 128.5h2M554 112.5h2M637 161.5h2M635 119.5h2M658 157.5h2M595 125.5h2M610 149.5h2M628 105.5h2M608 134.5h2M660 138.5h2M576 113.5h2M640 124.5h2M568 134.5h2M592 131.5h2M622 136.5h2M591 116.5h2M656 126.5h2M572 134.5h2M629 144.5h2M548 120.5h2M638 126.5h2M590 127.5h2M571 143.5h2M542 119.5h2M618 149.5h2M620 122.5h2M553 117.5h2M657 113.5h2M590 136.5h2M536 105.5h2M557 134.5h2M606 123.5h2M604 112.5h2M558 109.5h2M584 113.5h2M630 117.5h2M559 109.5h2M598 112.5h2M660 110.5h2M650 121.5h2M646 137.5h2M633 127.5h2M555 127.5h2M633 117.5h2M575 145.5h2M627 129.5h2M642 130.5h2M603 124.5h2M573 113.5h2M536 120.5h2M656 132.5h2M540 123.5h2M626 136.5h2M592 122.5h2M546 119.5h2M604 110.5h2M635 113.5h2M599 121.5h2M630 118.5h2M635 125.5h2M584 118.5h2M653 131.5h2M662 120.5h2M549 136.5h2M605 115.5h2M592 126.5h2M541 105.5h2M662 142.5h2M651 133.5h2M601 132.5h2M585 114.5h2M629 134.5h2M587 116.5h2M541 147.5h2M659 135.5h2M548 149.5h2M535 155.5h2M610 143.5h2M592 105.5h2M581 127.5h2M579 129.5h2M627 145.5h2M661 154.5h2M651 132.5h2M648 120.5h2M582 121.5h2M627 105.5h2M631 113.5h2M546 106.5h2M543 131.5h2M644 136.5h2M638 152.5h2M608 128.5h2M590 119.5h2M633 145.5h2M598 116.5h2M582 157.5h2M608 112.5h2M560 126.5h2M638 119.5h2M537 116.5h2M635 153.5h2M633 139.5h2M622 124.5h2M615 108.5h2M645 129.5h2M612 139.5h2M607 122.5h2M659 107.5h2M588 135.5h2M597 122.5h2M553 139.5h2M606 115.5h2M577 120.5h2M548 116.5h2M546 153.5h2M565 129.5h2M532 143.5h2M583 122.5h2M567 126.5h2M635 138.5h2M569 127.5h2M565 124.5h2M588 113.5h2M536 135.5h2M628 118.5h2M611 149.5h2M620 121.5h2M537 144.5h2M599 143.5h2M583 132.5h2M535 142.5h2M580 125.5h2M630 145.5h2M636 119.5h2M611 140.5h2M597 108.5h2M574 137.5h2M592 112.5h2M655 116.5h2M610 144.5h2M588 146.5h2M655 117.5h2M566 119.5h2M564 112.5h2M601 121.5h2M547 133.5h2M633 135.5h2M574 146.5h2M610 129.5h2M644 145.5h2M547 145.5h2M563 140.5h2M662 132.5h2M580 131.5h2M568 129.5h2M612 135.5h2M610 109.5h2M623 101.5h2M536 123.5h2M585 129.5h2M628 118.5h2M620 100.5h2M556 126.5h2M660 103.5h2M579 115.5h2M549 135.5h2M559 138.5h2M657 143.5h2M642 116.5h2M639 109.5h2M535 132.5h2M597 127.5h2M548 130.5h2M605 139.5h2M645 123.5h2M548 110.5h2M633 123.5h2M554 148.5h2M586 119.5h2M644 139.5h2M577 131.5h2M533 118.5h2M539 135.5h2M633 123.5h2M655 138.5h2M552 124.5h2M553 102.5h2M605 101.5h2M566 119.5h2M651 107.5h2M586 121.5h2M653 135.5h2M651 120.5h2M612 124.5h2M661 107.5h2M535 122.5h2M594 122.5h2M649 108.5h2M573 129.5h2M618 136.5h2M611 122.5h2M549 128.5h2M533 127.5h2M610 118.5h2M642 135.5h2M593 146.5h2M564 135.5h2M578 137.5h2M574 96.5h2M642 140.5h2M567 122.5h2M555 115.5h2M632 120.5h2M630 105.5h2M612 135.5h2M560 139.5h2M590 107.5h2M588 102.5h2M626 137.5h2M645 120.5h2M654 128.5h2M645 138.5h2M630 123.5h2M635 109.5h2M619 100.5h2M548 125.5h2M564 134.5h2M653 116.5h2M640 123.5h2M555 143.5h2M614 135.5h2M597 145.5h2M613 110.5h2M545 143.5h2M538 126.5h2M536 118.5h2M662 111.5h2M656 112.5h2M646 137.5h2M587 122.5h2M566 139.5h2M562 130.5h2M533 115.5h2M541 116.5h2M551 117.5h2M654 161.5h2M593 126.5h2M637 116.5h2M601 137.5h2M620 103.5h2M579 140.5h2M603 137.5h2M618 116.5h2M597 131.5h2M617 115.5h2M643 136.5h2M588 113.5h2M602 101.5h2M661 124.5h2M631 149.5h2M647 131.5h2M607 131.5h2M652 126.5h2M577 125.5h2M659 136.5h2M603 121.5h2M653 127.5h2M559 121.5h2M604 130.5h2M552 140.5h2M559 136.5h2M551 122.5h2M586 149.5h2M551 125.5h2M636 118.5h2M628 132.5h2M625 132.5h2M539 128.5h2M621 127.5h2M605 115.5h2M626 135.5h2M535 140.5h2M578 110.5h2M542 129.5h2M609 115.5h2M655 130.5h2M576 128.5h2M573 138.5h2M596 125.5h2M632 106.5h2M536 131.5h2M623 121.5h2M648 129.5h2M569 137.5h2M578 119.5h2M567 109.5h2M599 100.5h2M619 138.5h2M608 108.5h2M627 120.5h2M662 109.5h2M612 117.5h2M538 136.5h2M573 117.5h2M600 114.5h2M547 118.5h2M630 117.5h2M622 106.5h2M599 131.5h2M578 113.5h2M620 106.5h2M564 124.5h2M624 135.5h2M625 109.5h2M575 150.5h2M645 117.5h2M648 138.5h2M658 133.5h2M609 159.5h2M628 137.5h2M599 129.5h2M649 99.5h2M599 118.5h2M571 163.5h2M596 113.5h2M639 123.5h2M608 100.5h2M622 114.5h2M584 128.5h2M631 138.5h2M538 119.5h2M582 124.5h2M556 133.5h2M576 119.5h2M552 124.5h2M586 122.5h2M627 129.5h2M653 121.5h2M625 117.5h2M627 122.5h2M582 136.5h2M557 120.5h2M542 139.5h2M575 125.5h2M602 136.5h2M624 130.5h2M620 135.5h2M584 135.5h2M653 133.5h2M572 108.5h2M620 122.5h2M595 117.5h2M662 127.5h2M584 149.5h2M570 110.5h2M595 113.5h2M602 108.5h2M572 127.5h2M638 153.5h2M659 114.5h2M621 121.5h2M555 104.5h2M625 139.5h2M646 118.5h2M650 135.5h2M612 136.5h2M533 128.5h2M599 94.5h2M658 148.5h2M604 126.5h2M646 134.5h2M655 107.5h2M584 124.5h2M607 124.5h2M536 130.5h2M570 119.5h2M541 122.5h2M605 127.5h2M612 145.5h2M573 121.5h2M620 132.5h2M554 126.5h2M617 121.5h2M644 165.5h2M607 116.5h2M635 119.5h2M632 132.5h2M609 117.5h2M587 139.5h2M562 129.5h2M558 118.5h2M634 133.5h2M538 98.5h2M613 120.5h2M652 148.5h2M648 108.5h2M542 119.5h2M555 126.5h2M606 113.5h2M542 141.5h2M627 125.5h2M652 109.5h2M590 143.5h2M534 145.5h2M556 142.5h2M546 117.5h2M533 147.5h2M605 136.5h2M656 130.5h2M533 127.5h2M620 124.5h2M626 122.5h2M562 111.5h2M588 135.5h2M584 120.5h2M552 139.5h2M577 132.5h2M655 120.5h2M613 125.5h2M536 106.5h2M632 96.5h2M578 110.5h2M616 116.5h2M662 131.5h2M550 125.5h2M545 121.5h2M539 122.5h2M566 123.5h2M548 115.5h2M613 148.5h2M562 107.5h2M577 117.5h2M635 117.5h2M589 106.5h2M583 119.5h2M608 144.5h2M619 127.5h2M657 141.5h2M578 105.5h2M618 106.5h2M594 138.5h2M568 104.5h2M594 151.5h2M653 134.5h2M598 124.5h2M622 120.5h2M574 105.5h2M649 143.5h2M629 125.5h2M634 127.5h2M540 109.5h2M546 131.5h2M542 121.5h2M621 109.5h2M645 137.5h2M629 103.5h2M662 112.5h2M599 142.5h2M615 144.5h2M609 120.5h2M563 130.5h2M635 112.5h2M637 143.5h2M554 131.5h2M607 129.5h2M547 118.5h2M581 138.5h2M640 114.5h2M570 157.5h2M562 123.5h2M535 117.5h2M569 128.5h2M535 117.5h2M568 128.5h2M545 133.5h2M534 114.5h2M536 130.5h2M592 145.5h2M553 109.5h2M579 125.5h2M658 105.5h2M565 137.5h2M618 145.5h2M660 126.5h2M621 126.5h2M648 127.5h2M627 103.5h2M547 108.5h2M605 133.5h2M639 148.5h2M616 127.5h2M627 95.5h2M639 118.5h2M592 111.5h2M598 127.5h2M549 134.5h2M560 85.5h2M550 114.5h2M599 123.5h2M562 119.5h2M535 133.5h2M536 151.5h2M563 129.5h2M591 106.5h2M655 148.5h2M646 125.5h2M652 128.5h2M656 129.5h2M647 135.5h2M586 147.5h2M613 126.5h2M631 119.5h2M594 109.5h2M623 116.5h2M640 131.5h2M563 121.5h2M563 117.5h2M587 124.5h2M564 120.5h2M580 137.5h2M610 121.5h2M589 149.5h2M617 124.5h2M582 145.5h2M603 111.5h2M655 129.5h2M535 121.5h2M625 99.5h2M534 124.5h2M590 137.5h2M538 121.5h2M541 128.5h2M553 116.5h2M621 130.5h2M614 123.5h2M565 116.5h2M637 145.5h2M626 129.5h2M625 125.5h2M554 135.5h2M558 149.5h2M592 125.5h2M626 135.5h2M543 152.5h2M638 126.5h2M615 129.5h2M545 136.5h2M657 133.5h2M592 128.5h2M623 113.5h2M563 115.5h2M630 151.5h2M615 137.5h2M638 118.5h2M578 130.5h2M576 123.5h2M647 136.5h2M648 120.5h2M591 120.5h2M593 122.5h2M655 113.5h2M577 128.5h2M656 124.5h2M559 147.5h2M655 120.5h2M563 131.5h2M540 142.5h2M595 130.5h2M587 127.5h2M646 146.5h2M617 120.5h2M568 147.5h2M638 117.5h2M619 127.5h2M594 139.5h2M617 127.5h2M629 148.5h2M566 154.5h2M616 115.5h2M553 129.5h2M556 129.5h2M574 139.5h2M584 137.5h2M604 135.5h2M561 138.5h2M592 136.5h2M620 111.5h2M635 123.5h2M634 146.5h2M535 126.5h2M547 123.5h2M662 130.5h2M653 122.5h2M628 145.5h2M626 133.5h2M587 95.5h2M571 152.5h2M658 119.5h2M661 107.5h2M627 111.5h2M635 120.5h2M621 124.5h2M640 135.5h2M538 124.5h2M584 112.5h2M564 138.5h2M549 142.5h2M579 127.5h2M588 113.5h2M649 137.5h2M544 119.5h2M567 146.5h2M650 103.5h2M546 135.5h2M624 102.5h2M598 134.5h2M637 145.5h2M577 146.5h2M598 135.5h2M638 133.5h2M635 110.5h2M609 120.5h2M577 132.5h2M562 112.5h2M601 137.5h2M643 119.5h2M654 133.5h2M620 139.5h2M594 124.5h2M572 121.5h2M549 145.5h2M655 133.5h2M651 121.5h2M538 141.5h2M637 119.5h2M578 120.5h2M560 106.5h2M623 137.5h2M633 129.5h2M652 110.5h2M616 115.5h2M639 114.5h2M581 122.5h2M642 134.5h2M614 114.5h2M552 136.5h2M643 116.5h2M566 136.5h2M589 97.5h2M536 114.5h2M603 115.5h2M553 122.5h2M543 136.5h2M561 105.5h2M566 122.5h2M656 127.5h2M581 139.5h2M546 130.5h2M624 143.5h2M607 137.5h2M550 127.5h2M564 104.5h2M656 119.5h2M654 141.5h2M649 121.5h2M569 153.5h2M623 126.5h2M563 123.5h2M662 142.5h2M645 154.5h2M550 113.5h2M656 131.5h2M598 126.5h2M534 126.5h2M535 166.5h2M616 142.5h2M655 111.5h2M607 152.5h2M622 99.5h2M552 110.5h2M652 123.5h2M544 119.5h2M656 140.5h2M578 147.5h2M600 146.5h2M588 111.5h2M578 121.5h2M607 134.5h2M557 137.5h2M533 135.5h2M627 145.5h2M620 115.5h2M602 110.5h2M634 132.5h2M535 113.5h2M638 121.5h2M565 138.5h2M633 141.5h2M543 129.5h2M626 113.5h2M616 129.5h2M562 111.5h2M561 125.5h2M580 114.5h2M537 112.5h2M660 156.5h2M645 129.5h2M538 110.5h2M591 115.5h2M588 151.5h2M567 134.5h2M636 117.5h2M548 107.5h2M578 121.5h2M554 110.5h2M656 137.5h2M627 114.5h2M590 137.5h2M611 116.5h2M537 128.5h2M645 127.5h2M634 140.5h2M661 120.5h2M540 121.5h2M562 126.5h2M650 136.5h2M556 102.5h2M566 112.5h2M657 138.5h2M642 116.5h2M618 129.5h2M616 111.5h2M591 143.5h2M558 141.5h2M660 114.5h2M576 122.5h2M615 117.5h2M617 142.5h2M582 112.5h2M605 117.5h2M641 127.5h2M631 122.5h2M660 119.5h2M628 127.5h2M636 107.5h2M564 101.5h2M602 136.5h2M645 126.5h2M544 125.5h2M552 118.5h2M625 104.5h2M632 129.5h2M536 104.5h2M606 122.5h2M561 151.5h2M587 121.5h2M560 108.5h2M567 148.5h2M569 108.5h2M593 117.5h2M550 113.5h2M548 160.5h2M615 122.5h2M609 142.5h2M570 134.5h2M533 144.5h2M628 109.5h2M572 133.5h2M556 135.5h2M595 138.5h2M637 143.5h2M599 130.5h2M554 128.5h2M635 111.5h2M608 117.5h2M592 124.5h2M630 124.5h2M601 137.5h2M591 139.5h2M561 120.5h2M564 125.5h2M553 122.5h2M606 137.5h2M659 146.5h2M543 128.5h2M599 115.5h2M613 117.5h2M576 143.5h2M561 128.5h2M644 126.5h2M538 139.5h2M542 110.5h2M558 122.5h2M547 133.5h2M578 131.5h2M564 154.5h2M623 128.5h2M651 121.5h2M604 130.5h2M595 127.5h2M606 152.5h2M603 109.5h2M562 96.5h2M658 134.5h2M619 90.5h2M654 110.5h2M640 123.5h2M597 127.5h2M572 126.5h2M603 143.5h2M659 113.5h2M638 142.5h2M576 120.5h2M612 128.5h2M615 154.5h2M599 151.5h2M546 102.5h2M606 122.5h2M602 128.5h2M652 139.5h2M545 132.5h2M580 134.5h2M656 116.5h2M577 124.5h2M599 119.5h2M599 117.5h2M594 128.5h2M535 131.5h2M658 114.5h2M543 127.5h2M627 113.5h2M575 131.5h2M558 125.5h2M539 113.5h2M605 119.5h2M535 157.5h2M646 134.5h2M546 139.5h2M568 131.5h2M652 104.5h2M657 152.5h2M577 124.5h2M657 115.5h2M600 147.5h2M544 88.5h2M609 125.5h2M571 122.5h2M609 107.5h2M609 126.5h2M575 139.5h2M591 131.5h2M557 126.5h2M638 112.5h2M655 118.5h2M570 120.5h2M629 131.5h2M608 112.5h2M592 129.5h2M661 114.5h2M596 118.5h2M579 128.5h2M653 155.5h2M629 126.5h2M648 109.5h2M638 90.5h2M560 139.5h2M547 107.5h2M649 111.5h2M617 139.5h2M605 105.5h2M551 125.5h2M565 124.5h2M592 127.5h2M650 145.5h2M547 128.5h2M620 132.5h2M651 125.5h2M604 137.5h2M582 135.5h2M533 131.5h2M535 115.5h2M561 138.5h2M577 147.5h2M659 141.5h2M590 103.5h2M568 129.5h2M556 134.5h2M616 116.5h2M639 123.5h2M608 125.5h2M619 109.5h2M587 134.5h2M618 132.5h2M635 97.5h2M611 142.5h2M662 133.5h2M640 122.5h2M551 132.5h2M564 142.5h2M629 128.5h2M592 117.5h2M540 131.5h2M586 134.5h2M538 147.5h2M595 109.5h2M600 147.5h2M641 143.5h2M628 133.5h2M600 146.5h2M580 137.5h2M611 135.5h2M582 118.5h2M597 127.5h2M658 146.5h2M645 122.5h2M653 146.5h2M623 126.5h2M562 136.5h2M593 118.5h2M560 154.5h2M596 134.5h2M556 133.5h2M606 113.5h2M611 101.5h2M606 129.5h2M610 124.5h2M575 151.5h2M557 129.5h2M643 123.5h2M643 118.5h2M649 133.5h2M659 112.5h2M624 121.5h2M594 111.5h2M632 114.5h2M546 122.5h2M625 134.5h2M612 105.5h2M551 115.5h2M629 145.5h2M569 117.5h2M651 131.5h2M589 118.5h2M638 145.5h2M604 117.5h2M565 123.5h2M582 108.5h2M547 125.5h2M652 140.5h2M566 111.5h2M572 126.5h2M561 132.5h2M586 137.5h2M628 131.5h2M626 129.5h2M646 131.5h2M627 126.5h2M625 165.5h2M552 112.5h2M537 122.5h2M561 120.5h2M630 101.5h2M581 122.5h2M547 114.5h2M652 149.5h2M569 120.5h2M621 140.5h2M582 102.5h2M578 120.5h2M551 138.5h2M658 143.5h2M576 136.5h2M595 146.5h2M618 117.5h2M614 115.5h2M597 123.5h2M611 123.5h2M540 139.5h2M648 161.5h2M557 151.5h2M584 138.5h2M565 134.5h2M628 142.5h2M637 135.5h2M598 128.5h2M582 123.5h2M634 139.5h2M600 124.5h2M576 133.5h2M570 102.5h2M553 126.5h2M627 96.5h2M598 148.5h2M559 112.5h2M644 144.5h2M572 127.5h2M584 132.5h2M625 137.5h2M597 151.5h2M548 152.5h2M583 106.5h2M552 121.5h2M596 118.5h2M662 125.5h2M630 150.5h2M641 150.5h2M634 137.5h2M642 90.5h2M636 126.5h2M575 122.5h2M533 106.5h2M532 121.5h2M562 130.5h2M648 115.5h2M572 124.5h2M656 121.5h2M657 111.5h2M623 139.5h2M546 110.5h2M619 135.5h2M649 120.5h2M620 143.5h2M633 137.5h2M539 136.5h2M625 120.5h2M565 129.5h2M587 139.5h2M654 122.5h2M647 153.5h2M617 117.5h2M623 117.5h2M645 101.5h2M614 108.5h2M571 120.5h2M645 109.5h2M554 150.5h2M579 105.5h2M615 103.5h2M535 167.5h2M572 119.5h2M636 102.5h2M631 123.5h2M571 127.5h2M599 111.5h2M657 144.5h2M630 122.5h2M653 128.5h2M623 126.5h2M543 98.5h2M616 122.5h2M578 145.5h2M606 114.5h2M622 115.5h2M649 133.5h2M586 120.5h2M628 99.5h2M640 121.5h2M539 97.5h2M577 138.5h2M618 139.5h2M637 124.5h2M580 109.5h2M614 102.5h2M611 144.5h2M612 130.5h2M533 150.5h2M551 113.5h2M629 132.5h2M613 123.5h2M609 125.5h2M573 121.5h2M554 136.5h2M662 153.5h2M590 138.5h2M535 115.5h2M534 136.5h2M643 116.5h2M605 113.5h2M582 122.5h2M609 131.5h2M538 136.5h2M647 128.5h2M613 135.5h2M607 132.5h2M564 103.5h2M577 126.5h2M626 147.5h2M565 122.5h2M549 129.5h2M569 142.5h2M537 135.5h2M613 113.5h2M572 156.5h2M534 120.5h2M561 116.5h2M626 116.5h2M643 112.5h2M581 158.5h2M618 116.5h2M597 138.5h2M548 129.5h2M546 132.5h2M577 108.5h2M535 128.5h2M600 140.5h2M646 106.5h2M653 138.5h2M614 113.5h2M535 101.5h2M541 134.5h2M634 135.5h2M551 110.5h2M575 113.5h2M656 118.5h2M535 126.5h2M656 128.5h2M652 116.5h2M576 145.5h2M545 130.5h2M565 108.5h2M543 136.5h2M617 103.5h2M585 154.5h2M651 119.5h2M638 126.5h2M572 110.5h2M644 128.5h2M565 109.5h2M540 106.5h2M597 136.5h2M538 117.5h2M557 131.5h2M659 125.5h2M624 114.5h2M584 131.5h2M609 100.5h2M566 131.5h2M636 129.5h2M583 125.5h2M593 141.5h2M591 104.5h2M573 132.5h2M623 129.5h2M618 129.5h2M546 128.5h2M608 154.5h2M581 107.5h2M617 118.5h2M570 94.5h2M575 115.5h2M600 122.5h2M627 110.5h2M644 105.5h2M587 122.5h2M598 101.5h2M658 116.5h2M649 112.5h2M571 128.5h2M543 121.5h2M617 139.5h2M648 108.5h2M635 136.5h2M620 131.5h2M615 141.5h2M585 136.5h2M544 123.5h2M590 96.5h2M649 130.5h2M662 146.5h2M615 107.5h2M554 110.5h2M602 128.5h2M544 112.5h2M591 105.5h2M578 118.5h2M586 119.5h2M658 156.5h2M574 132.5h2M557 115.5h2M652 127.5h2M613 142.5h2M544 123.5h2M566 122.5h2M634 107.5h2M580 134.5h2M557 126.5h2M641 129.5h2M656 143.5h2M543 156.5h2M563 115.5h2M642 147.5h2M604 98.5h2M609 137.5h2M552 145.5h2M536 133.5h2M661 118.5h2M556 140.5h2M635 116.5h2M641 143.5h2M535 140.5h2M642 129.5h2M548 155.5h2M617 144.5h2M547 124.5h2M605 112.5h2M602 125.5h2M644 106.5h2M624 126.5h2M604 121.5h2M559 118.5h2M582 147.5h2M565 106.5h2M640 111.5h2M657 113.5h2M618 135.5h2M549 119.5h2M597 127.5h2M564 118.5h2M584 135.5h2M613 118.5h2M652 111.5h2M576 129.5h2M602 136.5h2M572 130.5h2M538 134.5h2M622 119.5h2M550 140.5h2M660 124.5h2M616 122.5h2M548 134.5h2M554 128.5h2M624 119.5h2M599 131.5h2M552 123.5h2M578 105.5h2M569 146.5h2M644 124.5h2M572 122.5h2M592 117.5h2M628 121.5h2M565 115.5h2M640 137.5h2M533 138.5h2M536 136.5h2M644 133.5h2M547 109.5h2M548 132.5h2M646 120.5h2M651 119.5h2M610 128.5h2M661 142.5h2M560 133.5h2M589 180.5h2M573 130.5h2M654 128.5h2M602 135.5h2M583 143.5h2M658 120.5h2M625 108.5h2M547 121.5h2M562 111.5h2M562 141.5h2M620 129.5h2M610 110.5h2M610 126.5h2M633 122.5h2M662 137.5h2M605 118.5h2M574 116.5h2M629 119.5h2M565 134.5h2M642 124.5h2M580 127.5h2M548 103.5h2M608 145.5h2M605 142.5h2M642 127.5h2M584 118.5h2M575 144.5h2M662 115.5h2M569 100.5h2M649 127.5h2M626 110.5h2M542 131.5h2M541 128.5h2M570 131.5h2M650 130.5h2M583 111.5h2M572 123.5h2M597 128.5h2M629 145.5h2M540 132.5h2M544 155.5h2M633 115.5h2M560 135.5h2M613 135.5h2M556 116.5h2M602 153.5h2M548 123.5h2M594 127.5h2M597 130.5h2M591 125.5h2M562 124.5h2M647 123.5h2M611 132.5h2M555 137.5h2M661 124.5h2M651 156.5h2M637 136.5h2M541 139.5h2M599 137.5h2M645 101.5h2M538 133.5h2M568 103.5h2M538 136.5h2M563 117.5h2M558 123.5h2M632 115.5h2M561 130.5h2M576 143.5h2M643 114.5h2M640 131.5h2M596 131.5h2M552 128.5h2M641 135.5h2M566 173.5h2M546 138.5h2M604 127.5h2M626 134.5h2M576 138.5h2M608 126.5h2M610 116.5h2M594 138.5h2M545 135.5h2M584 132.5h2M653 117.5h2M536 141.5h2M562 114.5h2M619 129.5h2M648 116.5h2M580 120.5h2M649 122.5h2M534 102.5h2M577 121.5h2M660 135.5h2M625 125.5h2M642 134.5h2M656 128.5h2M584 128.5h2M535 122.5h2M640 122.5h2M597 119.5h2M536 129.5h2M647 126.5h2M604 122.5h2M581 129.5h2M573 128.5h2M599 130.5h2M645 128.5h2M641 134.5h2M587 110.5h2M613 111.5h2M629 154.5h2M563 114.5h2M605 105.5h2M653 131.5h2M580 119.5h2M611 151.5h2M553 130.5h2M544 110.5h2M613 103.5h2M656 142.5h2M592 128.5h2M554 116.5h2M609 146.5h2M572 119.5h2M571 110.5h2M539 127.5h2M615 97.5h2M638 128.5h2M615 114.5h2M651 113.5h2M540 111.5h2M635 106.5h2M627 114.5h2M532 113.5h2M588 120.5h2M591 136.5h2M632 118.5h2M537 116.5h2M587 121.5h2M643 125.5h2M629 119.5h2M565 116.5h2M586 128.5h2M656 116.5h2M641 127.5h2M633 132.5h2M585 113.5h2M542 103.5h2M556 130.5h2M623 121.5h2M659 103.5h2M600 117.5h2M589 147.5h2M572 137.5h2M588 142.5h2M537 131.5h2M647 121.5h2M630 137.5h2M621 165.5h2M567 107.5h2M571 143.5h2M546 117.5h2M641 123.5h2M593 117.5h2M630 134.5h2M554 114.5h2M638 157.5h2M567 123.5h2M654 155.5h2M619 139.5h2M534 137.5h2M594 109.5h2M580 116.5h2M615 134.5h2M653 122.5h2M558 150.5h2M575 161.5h2M635 128.5h2M581 116.5h2M620 124.5h2M625 120.5h2M631 122.5h2M537 114.5h2M661 125.5h2M588 126.5h2M593 123.5h2M533 129.5h2M583 125.5h2M584 106.5h2M661 123.5h2M615 130.5h2M656 107.5h2M558 131.5h2M603 116.5h2M540 120.5h2M561 86.5h2M608 121.5h2M611 99.5h2M541 129.5h2M643 137.5h2M565 139.5h2M656 124.5h2M660 123.5h2M569 141.5h2M547 129.5h2M597 134.5h2M611 123.5h2M545 129.5h2M555 105.5h2M611 133.5h2M608 90.5h2M594 133.5h2M571 137.5h2M655 120.5h2M647 137.5h2M597 114.5h2M605 127.5h2M588 145.5h2M661 143.5h2M561 109.5h2M563 155.5h2M587 121.5h2M659 107.5h2M596 126.5h2M574 117.5h2M610 134.5h2M655 132.5h2M601 118.5h2M596 92.5h2M651 129.5h2M655 130.5h2M536 138.5h2M615 131.5h2M578 108.5h2M638 134.5h2M612 127.5h2M640 105.5h2M643 138.5h2M593 127.5h2M603 116.5h2M567 145.5h2M552 131.5h2M541 126.5h2M586 145.5h2M608 123.5h2M556 125.5h2M648 113.5h2M601 109.5h2M635 120.5h2M557 113.5h2M552 146.5h2M660 116.5h2M624 121.5h2M650 131.5h2M618 129.5h2M593 130.5h2M589 109.5h2M552 116.5h2M578 123.5h2M545 137.5h2M565 106.5h2M560 110.5h2M660 140.5h2M624 142.5h2M560 141.5h2M572 119.5h2M608 101.5h2M547 134.5h2M538 119.5h2M546 114.5h2M534 115.5h2M624 129.5h2M646 114.5h2M599 115.5h2M652 129.5h2M619 112.5h2M592 128.5h2M543 127.5h2M595 127.5h2M576 140.5h2M658 94.5h2M589 144.5h2M613 134.5h2M612 154.5h2M551 109.5h2M654 116.5h2M538 111.5h2M654 137.5h2M564 114.5h2M644 122.5h2M559 111.5h2M606 149.5h2M597 110.5h2M536 114.5h2M549 129.5h2M585 119.5h2M660 125.5h2M639 137.5h2M557 125.5h2M573 128.5h2M661 126.5h2M590 123.5h2M657 121.5h2M614 114.5h2M596 108.5h2M555 163.5h2M566 122.5h2M600 139.5h2M554 141.5h2M580 124.5h2M549 114.5h2M651 104.5h2M556 137.5h2M594 118.5h2M588 111.5h2M534 107.5h2M649 121.5h2M630 137.5h2M545 151.5h2M592 128.5h2M591 139.5h2M617 130.5h2M540 128.5h2M626 137.5h2M537 118.5h2M650 129.5h2M594 141.5h2M649 135.5h2M576 131.5h2M554 134.5h2M628 119.5h2M648 136.5h2M593 108.5h2M633 136.5h2M604 113.5h2M551 116.5h2M549 110.5h2M651 110.5h2M648 128.5h2M625 117.5h2M552 138.5h2M649 135.5h2M575 107.5h2M560 119.5h2M633 105.5h2M554 114.5h2M635 136.5h2M563 132.5h2M600 136.5h2M574 127.5h2M561 115.5h2M654 134.5h2M647 119.5h2M592 133.5h2M628 152.5h2M583 157.5h2M560 130.5h2M625 119.5h2M605 132.5h2M580 142.5h2M594 136.5h2M589 111.5h2M581 110.5h2M593 112.5h2M627 137.5h2M582 131.5h2M582 143.5h2M633 127.5h2M632 113.5h2M580 138.5h2M633 94.5h2M570 125.5h2M621 105.5h2M628 127.5h2M575 115.5h2M627 139.5h2M647 113.5h2M565 140.5h2M571 133.5h2M552 118.5h2M572 97.5h2M645 123.5h2M655 122.5h2M645 129.5h2M609 105.5h2M597 133.5h2M560 127.5h2M601 127.5h2M574 123.5h2M622 132.5h2M616 115.5h2M628 133.5h2M631 130.5h2M653 103.5h2M624 108.5h2M645 113.5h2M644 133.5h2M653 124.5h2M592 112.5h2M541 99.5h2M565 138.5h2M536 126.5h2M588 127.5h2M602 148.5h2M570 129.5h2M643 130.5h2M548 100.5h2M652 123.5h2M609 128.5h2M582 134.5h2M622 132.5h2M571 124.5h2M624 102.5h2M603 134.5h2M597 124.5h2M589 123.5h2M627 119.5h2M557 114.5h2M540 133.5h2M613 145.5h2M536 135.5h2M560 132.5h2M576 141.5h2M587 106.5h2M541 132.5h2M562 134.5h2M619 115.5h2M534 132.5h2M553 124.5h2M600 128.5h2M547 110.5h2M542 109.5h2M633 130.5h2M596 138.5h2M661 135.5h2M559 123.5h2M571 121.5h2M570 137.5h2M583 123.5h2M553 132.5h2M626 122.5h2M566 144.5h2M539 126.5h2M659 139.5h2M539 109.5h2M555 125.5h2M624 118.5h2M569 134.5h2M640 129.5h2M654 149.5h2M537 121.5h2M625 117.5h2M619 107.5h2M537 117.5h2M566 121.5h2M535 122.5h2M582 121.5h2M636 132.5h2M660 115.5h2M594 147.5h2M534 117.5h2M657 133.5h2M654 134.5h2M658 119.5h2M621 131.5h2M654 129.5h2M566 122.5h2M650 125.5h2M645 138.5h2M564 128.5h2M627 113.5h2M611 108.5h2M605 111.5h2M582 111.5h2M584 113.5h2M635 140.5h2M566 139.5h2M649 123.5h2M625 138.5h2M532 103.5h2M660 136.5h2M538 113.5h2M594 119.5h2M570 132.5h2M571 125.5h2M582 124.5h2M645 133.5h2M585 112.5h2M641 119.5h2M653 137.5h2M582 124.5h2M550 117.5h2M649 132.5h2M637 127.5h2M601 139.5h2M564 111.5h2M654 120.5h2M544 127.5h2M554 105.5h2M636 110.5h2M576 137.5h2M594 144.5h2M595 129.5h2M640 125.5h2M579 145.5h2M627 117.5h2M577 132.5h2M544 121.5h2M653 129.5h2M611 118.5h2M575 135.5h2M550 127.5h2M573 131.5h2M652 101.5h2M662 108.5h2M615 136.5h2M640 126.5h2M650 141.5h2M551 117.5h2M546 125.5h2M581 107.5h2M645 123.5h2M537 105.5h2M547 126.5h2M537 115.5h2M571 129.5h2M551 151.5h2M583 129.5h2M558 139.5h2M555 140.5h2M540 126.5h2M569 126.5h2M624 132.5h2M634 132.5h2M579 140.5h2M566 103.5h2M652 115.5h2M535 116.5h2M633 129.5h2M609 125.5h2M542 122.5h2M592 111.5h2M638 128.5h2M594 144.5h2M546 123.5h2M620 125.5h2M577 141.5h2M639 111.5h2M631 149.5h2M642 143.5h2M535 130.5h2M650 127.5h2M548 143.5h2M610 96.5h2M623 139.5h2M576 116.5h2M639 126.5h2M608 119.5h2M623 153.5h2M646 122.5h2M658 114.5h2M633 146.5h2M583 117.5h2M618 123.5h2M624 148.5h2M659 116.5h2M535 123.5h2M547 112.5h2M593 150.5h2M593 132.5h2M592 123.5h2M613 124.5h2M628 116.5h2M645 137.5h2M629 128.5h2M574 116.5h2M553 120.5h2M619 97.5h2M566 106.5h2M588 128.5h2M549 129.5h2M582 151.5h2M605 126.5h2M541 141.5h2M599 137.5h2M578 146.5h2M597 143.5h2M573 118.5h2M535 107.5h2M557 122.5h2M607 138.5h2M580 132.5h2M600 145.5h2M621 118.5h2M560 150.5h2M578 142.5h2M549 153.5h2M552 140.5h2M614 120.5h2M581 111.5h2M568 142.5h2M533 116.5h2M629 132.5h2M648 136.5h2M564 123.5h2M546 154.5h2M654 126.5h2M615 142.5h2M607 133.5h2M608 128.5h2M595 145.5h2M538 139.5h2M613 132.5h2M638 136.5h2M647 109.5h2M601 140.5h2M555 125.5h2M622 130.5h2M657 148.5h2M616 137.5h2M644 113.5h2M543 100.5h2M552 126.5h2M631 122.5h2M640 142.5h2M657 128.5h2M594 145.5h2M576 135.5h2M573 140.5h2M592 134.5h2M659 116.5h2M539 125.5h2M571 135.5h2M655 129.5h2M563 132.5h2M607 130.5h2M630 112.5h2M580 118.5h2M554 131.5h2M608 128.5h2M545 123.5h2M573 131.5h2M635 116.5h2M617 140.5h2M562 108.5h2M564 140.5h2M606 95.5h2M634 115.5h2M605 132.5h2M552 111.5h2M622 136.5h2M632 115.5h2M560 135.5h2M644 114.5h2M608 132.5h2M539 135.5h2M579 119.5h2M600 149.5h2M640 131.5h2M600 116.5h2M645 132.5h2M560 120.5h2M598 137.5h2M611 115.5h2M647 127.5h2M555 115.5h2M554 121.5h2M557 110.5h2M577 146.5h2M555 108.5h2M637 102.5h2M533 115.5h2M624 115.5h2M631 160.5h2M623 135.5h2M576 138.5h2M595 125.5h2M614 128.5h2M558 124.5h2M658 119.5h2M617 115.5h2M567 136.5h2M642 145.5h2M608 167.5h2M662 149.5h2M603 136.5h2M586 118.5h2M547 153.5h2M657 117.5h2M562 137.5h2M542 120.5h2M614 124.5h2M653 140.5h2M650 113.5h2M599 123.5h2M597 134.5h2M571 119.5h2M556 127.5h2M573 108.5h2M627 129.5h2M622 129.5h2M541 120.5h2M583 127.5h2M573 135.5h2M560 106.5h2M603 115.5h2M613 115.5h2M623 141.5h2M658 103.5h2M597 124.5h2M631 142.5h2M651 119.5h2M617 138.5h2M565 133.5h2M616 126.5h2M568 141.5h2M594 110.5h2M600 97.5h2M569 120.5h2M584 147.5h2M649 130.5h2M625 123.5h2M533 112.5h2M543 146.5h2M635 145.5h2M640 123.5h2M596 131.5h2M563 97.5h2M626 131.5h2M558 132.5h2M586 136.5h2M607 136.5h2M626 105.5h2M570 140.5h2M657 140.5h2M575 150.5h2M593 115.5h2M564 162.5h2M575 140.5h2M576 119.5h2M660 118.5h2M584 152.5h2M645 126.5h2M657 115.5h2M592 131.5h2M605 117.5h2M636 137.5h2M660 109.5h2M542 128.5h2M576 121.5h2M613 137.5h2M551 158.5h2M621 105.5h2M624 120.5h2M628 133.5h2M638 119.5h2M553 126.5h2M614 114.5h2M661 125.5h2M558 127.5h2M557 135.5h2M586 120.5h2M634 135.5h2M640 127.5h2M663 126.5h2M577 146.5h2M533 112.5h2M609 144.5h2M583 121.5h2M533 139.5h2M597 130.5h2M639 113.5h2M538 113.5h2M549 132.5h2M645 143.5h2M571 123.5h2M540 121.5h2M631 135.5h2M629 138.5h2M641 120.5h2M554 136.5h2M584 118.5h2M565 119.5h2M556 121.5h2M555 102.5h2M626 99.5h2M539 109.5h2M602 134.5h2M571 125.5h2M613 131.5h2M555 130.5h2M551 123.5h2M651 129.5h2M563 118.5h2M653 137.5h2M608 123.5h2M622 136.5h2M618 128.5h2M624 135.5h2M580 121.5h2M550 106.5h2M627 98.5h2M538 114.5h2M603 101.5h2M608 117.5h2M543 113.5h2M539 144.5h2M618 100.5h2M545 140.5h2M600 106.5h2M551 132.5h2M586 126.5h2M589 123.5h2M597 110.5h2M543 148.5h2M558 142.5h2M577 105.5h2M590 137.5h2M569 118.5h2M605 113.5h2M644 141.5h2M567 131.5h2M615 149.5h2M612 115.5h2M608 111.5h2M652 134.5h2M645 129.5h2M600 136.5h2M615 138.5h2M603 121.5h2M596 124.5h2M629 118.5h2M596 134.5h2M627 106.5h2M589 129.5h2M661 129.5h2M539 145.5h2M552 124.5h2M614 120.5h2M650 133.5h2M535 121.5h2M588 112.5h2M616 123.5h2M628 134.5h2M618 149.5h2M549 129.5h2M647 131.5h2M581 122.5h2M619 142.5h2M575 147.5h2M597 137.5h2M644 124.5h2M552 134.5h2M606 146.5h2M588 128.5h2M574 156.5h2M567 136.5h2M648 136.5h2M590 103.5h2M586 117.5h2M620 119.5h2M589 113.5h2M580 106.5h2M618 133.5h2M569 104.5h2M551 132.5h2M536 133.5h2M568 126.5h2M532 143.5h2M574 120.5h2M632 114.5h2M586 139.5h2M536 118.5h2M575 96.5h2M632 117.5h2M576 119.5h2M658 118.5h2M639 128.5h2M597 101.5h2M567 129.5h2M653 120.5h2M657 93.5h2M638 129.5h2M583 141.5h2M541 140.5h2M607 145.5h2M576 139.5h2M587 129.5h2M585 143.5h2M623 127.5h2M608 119.5h2M642 143.5h2M655 110.5h2M562 140.5h2M607 140.5h2M585 130.5h2M554 116.5h2M623 115.5h2M578 133.5h2M626 120.5h2M659 117.5h2M597 132.5h2M640 117.5h2M642 118.5h2M633 127.5h2M533 137.5h2M601 124.5h2M590 121.5h2M583 107.5h2M582 138.5h2M609 101.5h2M555 144.5h2M534 146.5h2M595 128.5h2M636 124.5h2M646 119.5h2M605 132.5h2M645 125.5h2M552 123.5h2M660 100.5h2M653 129.5h2M616 128.5h2M631 134.5h2M624 128.5h2M539 127.5h2M585 146.5h2M591 122.5h2M545 113.5h2M576 133.5h2M625 117.5h2M598 113.5h2M597 130.5h2M656 140.5h2M582 125.5h2M629 121.5h2M607 128.5h2M544 131.5h2M619 139.5h2M617 120.5h2M549 135.5h2M608 125.5h2M611 124.5h2M642 133.5h2M631 122.5h2M576 124.5h2M558 146.5h2M582 125.5h2M571 135.5h2M563 125.5h2M630 115.5h2M538 110.5h2M559 119.5h2M562 116.5h2M625 119.5h2M558 119.5h2M536 130.5h2M583 113.5h2M661 119.5h2M613 127.5h2M593 131.5h2M621 119.5h2M536 122.5h2M540 113.5h2M546 128.5h2M591 141.5h2M570 112.5h2M568 114.5h2M565 145.5h2M594 144.5h2M619 131.5h2M543 123.5h2M548 124.5h2M579 105.5h2M540 128.5h2M624 130.5h2M655 107.5h2M574 119.5h2M551 137.5h2M532 126.5h2M631 131.5h2M578 127.5h2M557 121.5h2M614 128.5h2M604 136.5h2M617 124.5h2M560 119.5h2M628 129.5h2M568 125.5h2M655 138.5h2M605 115.5h2M567 115.5h2M568 126.5h2M617 125.5h2M580 106.5h2M573 110.5h2M578 142.5h2M574 106.5h2M623 106.5h2M619 117.5h2M602 116.5h2M647 125.5h2M534 120.5h2M561 125.5h2M565 111.5h2M662 125.5h2M661 111.5h2M637 114.5h2M595 147.5h2M600 94.5h2M649 114.5h2M591 115.5h2M632 114.5h2M554 108.5h2M611 122.5h2M561 123.5h2M539 114.5h2M597 134.5h2M539 130.5h2M614 132.5h2M533 116.5h2M653 132.5h2M622 129.5h2M537 147.5h2M602 138.5h2M642 133.5h2M604 117.5h2M607 128.5h2M582 144.5h2M659 116.5h2M542 133.5h2M630 114.5h2M589 132.5h2M620 110.5h2M656 122.5h2M603 96.5h2M648 115.5h2M652 112.5h2M613 117.5h2M567 144.5h2M546 107.5h2M618 128.5h2M599 138.5h2M621 136.5h2M657 116.5h2M600 116.5h2M575 98.5h2M567 134.5h2M582 130.5h2M620 135.5h2M633 134.5h2M659 139.5h2M662 89.5h2M625 132.5h2M630 128.5h2M622 126.5h2M626 129.5h2M608 150.5h2M578 118.5h2M566 126.5h2M555 130.5h2M579 142.5h2M661 138.5h2M658 120.5h2M637 114.5h2M649 139.5h2M554 119.5h2M551 111.5h2M601 110.5h2M614 118.5h2M635 126.5h2M637 128.5h2M597 142.5h2M570 142.5h2M643 130.5h2M541 117.5h2M562 120.5h2M634 124.5h2M615 119.5h2M545 116.5h2M569 119.5h2M580 140.5h2M651 101.5h2M579 132.5h2M629 120.5h2M578 103.5h2M553 123.5h2M628 145.5h2M567 113.5h2M644 138.5h2M568 125.5h2M535 129.5h2M583 121.5h2M607 130.5h2M543 126.5h2M551 134.5h2M649 128.5h2M569 124.5h2M653 152.5h2M564 119.5h2M615 131.5h2M594 114.5h2M626 134.5h2M624 131.5h2M545 136.5h2M657 107.5h2M613 131.5h2M582 133.5h2M593 103.5h2M612 104.5h2M583 144.5h2M621 135.5h2M584 85.5h2M596 138.5h2M628 128.5h2M614 148.5h2M636 118.5h2M632 136.5h2M611 134.5h2M547 105.5h2M618 124.5h2M596 147.5h2M584 126.5h2M620 103.5h2M660 151.5h2M555 126.5h2M570 145.5h2M579 124.5h2M542 136.5h2M583 131.5h2M629 138.5h2M611 126.5h2M572 118.5h2M655 125.5h2M631 129.5h2M610 138.5h2M606 116.5h2M615 108.5h2M628 107.5h2M603 122.5h2M600 100.5h2M651 144.5h2M581 130.5h2M618 124.5h2M584 134.5h2M642 154.5h2M559 97.5h2M575 103.5h2M577 157.5h2M658 132.5h2M534 96.5h2M563 133.5h2M554 137.5h2M622 118.5h2M545 131.5h2M540 141.5h2M543 109.5h2M648 122.5h2M603 103.5h2M574 142.5h2M555 119.5h2M636 128.5h2M649 130.5h2M583 143.5h2M574 130.5h2M624 120.5h2M639 106.5h2M589 120.5h2M648 105.5h2M538 136.5h2M556 106.5h2M641 123.5h2M552 135.5h2M589 115.5h2M586 155.5h2M534 139.5h2M542 130.5h2M624 104.5h2M654 137.5h2M567 135.5h2M551 108.5h2M576 131.5h2M576 106.5h2M560 125.5h2M631 146.5h2M619 126.5h2M562 131.5h2M552 118.5h2M627 113.5h2M617 137.5h2M561 139.5h2M639 126.5h2M658 134.5h2M599 126.5h2M549 117.5h2M539 129.5h2M543 121.5h2M594 121.5h2M642 138.5h2M643 145.5h2M548 123.5h2M593 123.5h2M569 119.5h2M538 118.5h2M606 134.5h2M553 147.5h2M560 123.5h2M624 130.5h2M541 106.5h2M641 145.5h2M559 146.5h2M570 125.5h2M552 145.5h2M548 123.5h2M611 114.5h2M533 114.5h2M591 113.5h2M585 123.5h2M566 125.5h2M536 103.5h2M622 117.5h2M649 148.5h2M590 121.5h2M654 112.5h2M550 136.5h2M646 98.5h2M608 105.5h2M605 108.5h2M586 125.5h2M629 114.5h2M599 135.5h2M658 104.5h2M601 137.5h2M638 115.5h2M652 109.5h2M591 130.5h2M659 121.5h2M611 114.5h2M556 137.5h2M656 124.5h2M594 103.5h2M636 140.5h2M533 116.5h2M593 141.5h2M648 103.5h2M574 135.5h2M657 113.5h2M549 135.5h2M543 137.5h2M542 141.5h2M629 131.5h2M574 149.5h2M597 148.5h2M557 129.5h2M640 103.5h2M556 144.5h2M600 122.5h2M569 147.5h2M585 116.5h2M641 135.5h2M655 119.5h2M560 123.5h2M568 127.5h2M609 120.5h2M583 135.5h2M619 136.5h2M619 146.5h2M660 131.5h2M596 146.5h2M558 120.5h2M625 124.5h2M582 120.5h2M585 130.5h2M554 139.5h2M600 141.5h2M563 144.5h2M657 115.5h2M570 145.5h2M638 108.5h2M557 129.5h2M582 121.5h2M659 131.5h2M647 110.5h2M574 130.5h2M656 128.5h2M656 137.5h2M585 120.5h2M625 118.5h2M649 134.5h2M600 136.5h2M568 102.5h2M566 117.5h2M654 118.5h2M550 138.5h2M547 115.5h2M584 126.5h2M634 105.5h2M641 123.5h2M566 122.5h2M628 113.5h2M603 120.5h2M631 121.5h2M555 146.5h2M558 118.5h2M600 118.5h2M635 149.5h2M641 125.5h2M534 114.5h2M556 136.5h2M595 153.5h2M561 126.5h2M564 142.5h2M580 114.5h2M586 133.5h2M571 131.5h2M572 130.5h2M640 136.5h2M613 136.5h2M568 127.5h2M649 116.5h2M533 119.5h2M534 134.5h2M618 119.5h2M577 138.5h2M641 129.5h2M629 110.5h2M656 129.5h2M609 124.5h2M642 128.5h2M641 128.5h2M624 113.5h2M571 146.5h2M659 118.5h2M633 107.5h2M630 123.5h2M599 141.5h2M574 132.5h2M656 128.5h2M610 95.5h2M544 118.5h2M613 130.5h2M594 143.5h2M564 141.5h2M570 131.5h2M646 124.5h2M564 140.5h2M570 125.5h2M533 137.5h2M628 131.5h2M635 119.5h2M660 114.5h2M624 133.5h2M642 148.5h2M635 131.5h2M589 105.5h2M600 135.5h2M612 135.5h2M660 94.5h2M575 136.5h2M577 109.5h2M609 134.5h2M546 161.5h2M617 127.5h2M570 153.5h2M656 132.5h2M574 125.5h2M639 127.5h2M657 129.5h2M595 129.5h2M562 131.5h2M567 127.5h2M537 117.5h2M659 110.5h2M574 115.5h2M538 122.5h2M628 131.5h2M652 153.5h2M540 157.5h2M629 112.5h2M577 139.5h2M593 87.5h2M625 131.5h2M601 118.5h2M594 123.5h2M606 141.5h2M645 125.5h2M636 134.5h2M656 107.5h2M580 109.5h2M612 122.5h2M624 110.5h2M615 136.5h2M603 118.5h2M620 128.5h2M604 120.5h2M581 135.5h2M595 136.5h2M557 123.5h2M584 125.5h2M572 132.5h2M589 130.5h2M627 124.5h2M611 141.5h2M575 99.5h2M571 139.5h2M550 118.5h2M630 95.5h2M631 133.5h2M621 147.5h2M561 148.5h2M659 97.5h2M648 150.5h2M656 116.5h2M570 131.5h2M642 131.5h2M587 122.5h2M641 112.5h2M633 125.5h2M632 129.5h2M570 102.5h2M641 101.5h2M647 136.5h2M649 135.5h2M544 121.5h2M606 122.5h2M534 137.5h2M581 98.5h2M571 118.5h2M549 137.5h2M596 115.5h2M586 148.5h2M632 135.5h2M624 154.5h2M646 108.5h2M631 149.5h2M643 123.5h2M551 118.5h2M639 130.5h2M612 120.5h2M569 115.5h2M561 101.5h2M553 139.5h2M593 142.5h2M598 114.5h2M554 125.5h2M580 113.5h2M628 110.5h2M562 131.5h2M585 114.5h2M619 137.5h2M610 149.5h2M638 141.5h2M623 118.5h2M630 126.5h2M558 120.5h2M640 136.5h2M654 147.5h2M612 138.5h2M579 132.5h2M558 117.5h2M597 128.5h2M575 141.5h2M588 98.5h2M650 106.5h2M594 137.5h2M587 135.5h2M536 123.5h2M581 126.5h2M539 113.5h2M600 160.5h2M575 134.5h2M633 131.5h2M599 136.5h2M660 110.5h2M535 144.5h2M622 121.5h2M648 124.5h2M619 128.5h2M605 145.5h2M636 139.5h2M608 105.5h2M633 99.5h2M547 145.5h2M558 132.5h2M598 138.5h2M591 122.5h2M536 124.5h2M654 114.5h2M593 150.5h2M539 147.5h2M630 112.5h2M542 115.5h2M657 109.5h2M572 153.5h2M627 113.5h2M629 142.5h2M650 130.5h2M628 113.5h2M659 156.5h2M633 128.5h2M651 126.5h2M586 117.5h2M646 124.5h2M651 111.5h2M654 115.5h2M637 118.5h2M563 112.5h2M591 112.5h2M559 134.5h2M624 141.5h2M550 119.5h2M634 116.5h2M575 104.5h2M657 136.5h2M641 123.5h2M626 141.5h2M586 123.5h2M636 131.5h2M544 157.5h2M582 84.5h2M613 146.5h2M608 120.5h2M543 128.5h2M627 123.5h2M587 141.5h2M596 156.5h2M626 156.5h2M567 125.5h2M602 125.5h2M593 119.5h2M658 148.5h2M542 155.5h2M615 125.5h2M545 139.5h2M537 139.5h2M657 130.5h2M563 132.5h2M612 135.5h2M582 112.5h2M555 135.5h2M532 126.5h2M571 150.5h2M587 120.5h2M591 116.5h2M586 138.5h2M640 143.5h2M627 129.5h2M548 128.5h2M647 124.5h2M567 140.5h2M621 131.5h2M610 148.5h2M581 134.5h2M634 103.5h2M644 127.5h2M613 134.5h2M652 119.5h2M632 134.5h2M622 137.5h2M589 134.5h2M656 129.5h2M610 145.5h2M606 141.5h2M549 121.5h2M662 119.5h2M562 142.5h2M624 134.5h2M599 110.5h2M627 136.5h2M630 128.5h2M607 149.5h2M658 140.5h2M589 131.5h2M624 124.5h2M572 112.5h2M582 138.5h2M658 145.5h2M544 114.5h2M608 150.5h2M571 116.5h2M536 133.5h2M654 136.5h2M542 139.5h2M647 139.5h2M564 122.5h2M594 139.5h2M581 124.5h2M552 83.5h2M640 122.5h2M594 121.5h2M641 133.5h2M557 145.5h2M620 126.5h2M630 104.5h2M639 112.5h2M614 136.5h2M606 132.5h2M623 155.5h2M658 134.5h2M617 131.5h2M607 135.5h2M536 137.5h2M641 138.5h2M609 127.5h2M551 115.5h2M616 137.5h2M609 126.5h2M573 152.5h2M631 128.5h2M559 122.5h2M562 112.5h2M538 119.5h2M618 116.5h2M575 134.5h2M641 162.5h2M640 105.5h2M540 145.5h2M620 132.5h2M662 135.5h2M647 113.5h2M599 102.5h2M564 141.5h2M651 124.5h2M646 128.5h2M540 140.5h2M569 133.5h2M536 123.5h2M567 119.5h2M633 141.5h2M637 119.5h2M629 112.5h2M640 109.5h2M632 102.5h2M545 104.5h2M567 132.5h2M621 109.5h2M640 124.5h2M563 114.5h2M655 133.5h2M656 135.5h2M660 143.5h2M640 135.5h2M627 135.5h2M650 147.5h2M561 122.5h2M626 115.5h2M576 128.5h2M619 130.5h2M595 142.5h2M627 133.5h2M588 130.5h2M562 125.5h2M552 117.5h2M593 134.5h2M632 130.5h2M606 130.5h2M604 129.5h2M593 105.5h2M562 119.5h2M584 147.5h2M629 122.5h2M597 129.5h2M533 111.5h2M569 121.5h2M657 124.5h2M609 149.5h2M602 111.5h2M539 139.5h2M568 144.5h2M623 123.5h2M553 125.5h2M553 135.5h2M595 128.5h2M661 130.5h2M627 127.5h2M547 125.5h2M558 140.5h2M582 98.5h2M638 145.5h2M658 130.5h2M619 116.5h2M591 140.5h2M659 125.5h2M584 115.5h2M572 114.5h2M651 130.5h2M593 135.5h2M559 110.5h2M617 142.5h2M590 127.5h2M619 124.5h2M647 143.5h2M549 126.5h2M633 119.5h2M581 111.5h2M643 124.5h2M543 135.5h2M546 122.5h2M633 113.5h2M552 139.5h2M576 102.5h2M638 138.5h2M548 131.5h2M616 125.5h2M656 126.5h2M552 110.5h2M648 124.5h2M553 136.5h2M585 137.5h2M629 124.5h2M591 143.5h2M589 130.5h2M636 123.5h2M551 125.5h2M643 130.5h2M545 116.5h2M575 122.5h2M656 116.5h2M659 127.5h2M605 134.5h2M566 133.5h2M542 137.5h2M655 145.5h2M655 119.5h2M658 137.5h2M632 131.5h2M567 120.5h2M635 108.5h2M542 131.5h2M593 147.5h2M639 114.5h2M533 126.5h2M568 112.5h2M594 127.5h2M574 125.5h2M583 125.5h2M656 98.5h2M582 131.5h2M541 141.5h2M660 137.5h2M608 137.5h2M571 129.5h2M539 120.5h2M609 133.5h2M548 134.5h2M648 153.5h2M632 144.5h2M570 133.5h2M637 135.5h2M631 127.5h2M608 137.5h2M571 111.5h2M575 122.5h2M627 126.5h2M572 130.5h2M647 140.5h2M632 120.5h2M652 114.5h2M655 129.5h2M645 106.5h2M575 115.5h2M605 127.5h2M560 121.5h2M590 141.5h2M660 116.5h2M612 126.5h2M571 118.5h2M572 138.5h2M656 118.5h2M547 120.5h2M591 131.5h2M612 122.5h2M622 132.5h2M650 139.5h2M589 141.5h2M609 157.5h2M610 128.5h2M542 119.5h2M613 130.5h2M555 126.5h2M615 106.5h2M556 109.5h2M543 135.5h2M646 116.5h2M602 140.5h2M603 143.5h2M546 142.5h2M631 104.5h2M552 119.5h2M585 136.5h2M557 125.5h2M640 115.5h2M584 126.5h2M578 128.5h2M641 109.5h2M622 132.5h2M549 130.5h2M626 141.5h2M601 129.5h2M612 117.5h2M653 121.5h2M628 130.5h2M616 98.5h2M636 116.5h2M590 132.5h2M633 103.5h2M655 126.5h2M599 145.5h2M648 130.5h2M652 120.5h2M597 146.5h2M624 144.5h2M651 120.5h2M542 138.5h2M559 126.5h2M536 149.5h2M623 124.5h2M647 134.5h2M551 152.5h2M623 128.5h2M543 140.5h2M585 124.5h2M610 97.5h2M572 122.5h2M639 110.5h2M652 125.5h2M568 119.5h2M659 127.5h2M589 149.5h2M563 124.5h2M566 124.5h2M599 132.5h2M551 130.5h2M585 153.5h2M539 143.5h2M576 134.5h2M571 126.5h2M547 122.5h2M615 128.5h2M546 129.5h2M625 123.5h2M538 134.5h2M626 130.5h2M564 115.5h2M621 130.5h2M569 101.5h2M544 153.5h2M556 127.5h2M535 115.5h2M633 122.5h2M632 113.5h2M584 109.5h2M583 119.5h2M537 98.5h2M549 135.5h2M600 119.5h2M574 124.5h2M597 121.5h2M614 131.5h2M573 131.5h2M651 129.5h2M612 103.5h2M539 127.5h2M586 110.5h2M548 126.5h2M597 95.5h2M545 147.5h2M575 136.5h2M575 124.5h2M621 140.5h2M595 120.5h2M619 103.5h2M611 132.5h2M647 127.5h2M549 133.5h2M568 126.5h2M568 125.5h2M552 138.5h2M640 160.5h2M599 131.5h2M598 156.5h2M635 120.5h2M603 123.5h2M558 130.5h2M641 139.5h2M648 127.5h2M554 143.5h2M596 126.5h2M614 135.5h2M573 141.5h2M621 145.5h2M570 124.5h2M636 125.5h2M628 129.5h2M552 126.5h2M635 111.5h2M605 148.5h2M568 118.5h2M565 119.5h2M599 146.5h2M618 125.5h2M538 125.5h2M633 127.5h2M569 129.5h2M626 116.5h2M614 126.5h2M647 117.5h2M592 115.5h2M551 125.5h2M624 109.5h2M544 102.5h2M647 130.5h2M582 140.5h2M639 127.5h2M652 130.5h2M547 120.5h2M624 143.5h2M591 107.5h2M627 132.5h2M604 120.5h2M632 128.5h2M555 151.5h2M605 143.5h2M637 141.5h2M602 144.5h2M568 139.5h2M537 151.5h2M631 153.5h2M581 149.5h2M662 143.5h2M616 117.5h2M591 115.5h2M634 126.5h2M570 127.5h2M561 113.5h2M536 122.5h2M654 116.5h2M591 140.5h2M646 137.5h2M579 123.5h2M593 127.5h2M597 144.5h2M639 122.5h2M650 145.5h2M600 147.5h2M620 125.5h2M549 135.5h2M614 144.5h2M608 106.5h2M570 133.5h2M633 129.5h2M569 119.5h2M586 116.5h2M567 123.5h2M602 138.5h2M599 131.5h2M638 114.5h2M638 117.5h2M611 128.5h2M612 123.5h2M657 118.5h2M589 123.5h2M548 120.5h2M545 145.5h2M584 118.5h2M581 134.5h2M551 116.5h2M550 143.5h2M563 120.5h2M656 132.5h2M618 138.5h2M598 124.5h2M610 132.5h2M600 125.5h2M643 128.5h2M661 122.5h2M597 141.5h2M581 118.5h2M661 143.5h2M622 132.5h2M563 128.5h2M558 111.5h2M567 128.5h2M558 127.5h2M629 111.5h2M642 95.5h2M651 127.5h2M616 152.5h2M575 104.5h2M616 124.5h2M641 121.5h2M602 145.5h2M545 120.5h2M643 137.5h2M631 141.5h2M566 119.5h2M551 111.5h2M555 105.5h2M556 135.5h2M604 126.5h2M598 120.5h2M562 107.5h2M654 118.5h2M575 97.5h2M577 130.5h2M626 136.5h2M574 144.5h2M538 96.5h2M562 117.5h2M577 118.5h2M568 116.5h2M625 118.5h2M547 117.5h2M663 115.5h2M594 127.5h2M550 122.5h2M575 139.5h2M588 138.5h2M637 131.5h2M544 148.5h2M626 147.5h2M590 126.5h2M657 112.5h2M541 117.5h2M563 132.5h2M628 132.5h2M563 115.5h2M583 119.5h2M548 120.5h2M591 120.5h2M625 108.5h2M553 113.5h2M567 140.5h2M659 128.5h2M647 126.5h2M546 101.5h2M635 127.5h2M633 139.5h2M604 121.5h2M637 158.5h2M559 122.5h2M565 132.5h2M583 116.5h2M538 144.5h2M656 136.5h2M645 133.5h2M583 144.5h2M608 112.5h2M549 118.5h2M605 139.5h2M546 118.5h2M615 113.5h2M537 134.5h2M616 127.5h2M645 109.5h2M544 131.5h2M610 135.5h2M595 126.5h2M536 127.5h2M644 109.5h2M586 114.5h2M582 153.5h2M606 139.5h2M591 144.5h2M662 108.5h2M630 136.5h2M573 123.5h2M544 125.5h2M561 125.5h2M590 131.5h2M643 123.5h2M656 126.5h2M613 117.5h2M553 127.5h2M630 129.5h2M635 122.5h2M647 144.5h2M541 126.5h2M659 107.5h2M565 124.5h2M601 114.5h2M538 117.5h2M659 138.5h2M553 119.5h2M633 144.5h2M620 160.5h2M617 141.5h2M609 136.5h2M651 99.5h2M641 141.5h2M569 123.5h2M572 114.5h2M595 133.5h2M600 123.5h2M562 126.5h2M588 161.5h2M618 145.5h2M574 115.5h2M561 108.5h2M559 114.5h2M569 145.5h2M598 133.5h2M583 132.5h2M609 126.5h2M626 126.5h2M586 115.5h2M618 141.5h2M554 133.5h2M656 120.5h2M612 119.5h2M647 133.5h2M637 141.5h2M614 110.5h2M620 121.5h2M661 119.5h2M586 123.5h2M592 130.5h2M629 132.5h2M573 121.5h2M661 115.5h2M552 127.5h2M620 87.5h2M571 107.5h2M647 111.5h2M597 142.5h2M589 144.5h2M641 134.5h2M593 127.5h2M534 119.5h2M544 138.5h2M559 102.5h2M616 119.5h2M585 118.5h2M628 134.5h2M616 99.5h2M644 146.5h2M640 122.5h2M575 146.5h2M632 148.5h2M622 105.5h2M595 141.5h2M597 137.5h2M648 116.5h2M535 114.5h2M547 117.5h2M629 128.5h2M658 130.5h2M552 128.5h2M650 138.5h2M576 131.5h2M599 115.5h2M659 120.5h2M650 141.5h2M587 132.5h2M633 153.5h2M583 136.5h2M632 149.5h2M542 118.5h2M574 129.5h2M629 136.5h2M607 139.5h2M581 122.5h2M642 151.5h2M618 138.5h2M602 126.5h2M596 128.5h2M554 124.5h2M572 125.5h2M566 134.5h2M655 115.5h2M546 134.5h2M556 121.5h2M604 130.5h2M610 139.5h2M572 129.5h2M534 115.5h2M559 126.5h2M580 121.5h2M630 127.5h2M593 114.5h2M533 109.5h2M637 160.5h2M577 122.5h2M602 134.5h2M568 129.5h2M595 133.5h2M601 128.5h2M653 126.5h2M551 139.5h2M622 120.5h2M630 114.5h2M547 124.5h2M536 123.5h2M570 124.5h2M543 140.5h2M564 100.5h2M655 125.5h2M578 121.5h2M566 127.5h2M607 125.5h2M568 144.5h2M547 124.5h2M570 139.5h2M632 116.5h2M647 140.5h2M606 130.5h2M655 110.5h2M607 139.5h2M662 132.5h2M621 109.5h2M602 114.5h2M566 129.5h2M653 122.5h2M634 131.5h2M571 118.5h2M580 126.5h2M544 127.5h2M597 122.5h2M585 114.5h2M583 137.5h2M654 126.5h2M583 128.5h2M559 120.5h2M609 112.5h2M602 142.5h2M548 97.5h2M539 122.5h2M537 112.5h2M594 141.5h2M658 134.5h2M567 111.5h2M649 143.5h2M535 132.5h2M590 118.5h2M557 128.5h2M545 120.5h2M592 135.5h2M662 134.5h2M614 140.5h2M633 143.5h2M573 135.5h2M643 111.5h2M543 132.5h2M608 129.5h2M624 123.5h2M568 113.5h2M617 106.5h2M567 155.5h2M545 126.5h2M635 122.5h2M605 125.5h2M588 118.5h2M583 123.5h2M552 126.5h2M629 147.5h2M563 147.5h2M610 126.5h2M654 130.5h2M662 103.5h2M616 106.5h2M586 127.5h2M663 133.5h2M571 122.5h2M548 99.5h2M545 125.5h2M574 130.5h2M645 143.5h2M612 122.5h2M650 127.5h2M637 117.5h2M616 140.5h2M602 120.5h2M593 126.5h2M545 147.5h2M637 116.5h2M624 128.5h2M604 123.5h2M568 114.5h2M544 121.5h2M616 111.5h2M619 126.5h2M598 138.5h2M579 96.5h2M652 132.5h2M604 99.5h2M575 101.5h2M543 131.5h2M613 149.5h2M568 126.5h2M545 134.5h2M585 121.5h2M609 106.5h2M604 120.5h2M579 126.5h2M643 115.5h2M637 121.5h2M593 105.5h2M545 116.5h2M641 105.5h2M595 132.5h2M603 143.5h2M599 119.5h2M583 134.5h2M660 95.5h2M596 116.5h2M659 134.5h2M552 131.5h2M662 118.5h2M572 117.5h2M580 139.5h2M622 139.5h2M604 137.5h2M650 113.5h2M568 137.5h2M571 135.5h2M653 140.5h2M652 110.5h2M616 121.5h2M547 145.5h2M538 115.5h2M556 114.5h2M631 110.5h2M614 141.5h2M592 107.5h2M546 106.5h2M539 134.5h2M567 120.5h2M550 132.5h2M582 116.5h2M565 134.5h2M597 141.5h2M648 120.5h2M648 125.5h2M557 148.5h2M597 118.5h2M634 117.5h2M604 119.5h2M542 119.5h2M547 103.5h2M625 145.5h2M621 142.5h2M653 117.5h2M541 127.5h2M603 145.5h2M543 97.5h2M650 100.5h2M615 112.5h2M540 139.5h2M624 142.5h2M634 139.5h2M568 138.5h2M587 115.5h2M625 114.5h2M551 136.5h2M561 138.5h2M575 156.5h2M576 125.5h2M555 127.5h2M632 123.5h2M653 146.5h2M604 130.5h2M602 120.5h2M609 115.5h2M570 140.5h2M642 122.5h2M662 109.5h2M651 115.5h2M596 132.5h2M636 132.5h2M642 147.5h2M656 119.5h2M653 144.5h2M593 119.5h2M543 119.5h2M622 121.5h2M587 123.5h2M640 125.5h2M637 146.5h2M595 98.5h2M625 118.5h2M643 90.5h2M640 129.5h2M557 124.5h2M630 116.5h2M631 134.5h2M586 104.5h2M547 124.5h2M610 128.5h2M653 143.5h2M555 146.5h2M595 119.5h2M579 116.5h2M584 125.5h2M611 124.5h2M656 154.5h2M539 127.5h2M545 125.5h2M565 134.5h2M659 133.5h2M546 121.5h2M606 125.5h2M592 134.5h2M647 124.5h2M588 105.5h2M652 127.5h2M534 121.5h2M611 126.5h2M654 106.5h2M609 129.5h2M661 127.5h2M651 104.5h2M593 121.5h2M552 126.5h2M606 104.5h2M639 132.5h2M635 138.5h2M539 127.5h2M626 102.5h2M660 143.5h2M638 154.5h2M540 119.5h2M598 122.5h2M634 132.5h2M588 131.5h2M612 122.5h2M641 146.5h2M633 115.5h2M573 130.5h2M608 96.5h2M642 123.5h2M640 125.5h2M575 118.5h2M634 123.5h2M567 141.5h2M592 126.5h2M607 140.5h2M659 104.5h2M575 121.5h2M569 113.5h2M644 135.5h2M614 118.5h2M650 104.5h2M621 114.5h2M613 138.5h2M540 129.5h2M566 108.5h2M602 122.5h2M633 133.5h2M577 114.5h2M605 143.5h2M586 120.5h2M631 126.5h2M570 135.5h2M646 113.5h2M618 109.5h2M606 105.5h2M575 136.5h2M656 134.5h2M630 125.5h2M625 130.5h2M615 118.5h2M567 121.5h2M640 101.5h2M539 123.5h2M551 123.5h2M619 117.5h2M618 138.5h2M558 114.5h2M584 127.5h2M566 145.5h2M551 125.5h2M586 149.5h2M657 123.5h2M635 126.5h2M634 135.5h2M565 123.5h2M648 89.5h2M539 119.5h2M588 133.5h2M599 109.5h2M643 117.5h2M546 142.5h2M554 117.5h2M551 111.5h2M614 127.5h2M581 144.5h2M568 126.5h2M640 111.5h2M615 140.5h2M651 148.5h2M550 137.5h2M534 147.5h2M594 133.5h2M647 122.5h2M625 110.5h2M569 135.5h2M653 116.5h2M550 118.5h2M562 110.5h2M660 135.5h2M573 119.5h2M625 111.5h2M555 111.5h2M546 108.5h2M652 121.5h2M653 148.5h2M578 133.5h2M555 114.5h2M626 140.5h2M654 96.5h2M595 124.5h2M655 121.5h2M554 119.5h2M541 119.5h2M635 102.5h2M641 138.5h2M591 128.5h2M629 138.5h2M627 110.5h2M548 119.5h2M644 118.5h2M570 119.5h2M599 115.5h2M568 131.5h2M548 125.5h2M563 127.5h2M636 113.5h2M628 141.5h2M596 118.5h2M546 110.5h2M646 138.5h2M540 139.5h2M570 136.5h2M585 128.5h2M646 115.5h2M542 127.5h2M630 130.5h2M569 118.5h2M591 120.5h2M580 131.5h2M545 127.5h2M537 140.5h2M568 117.5h2M586 134.5h2M593 138.5h2M630 110.5h2M570 109.5h2M552 104.5h2M569 126.5h2M627 138.5h2M630 137.5h2M561 140.5h2M620 124.5h2M582 127.5h2M563 124.5h2M607 137.5h2M559 107.5h2M552 140.5h2M570 120.5h2M625 124.5h2M558 121.5h2M598 139.5h2M609 144.5h2M612 126.5h2M638 121.5h2M566 135.5h2M549 125.5h2M563 118.5h2M651 120.5h2M641 121.5h2M575 130.5h2M564 141.5h2M597 140.5h2M635 111.5h2M539 139.5h2M537 137.5h2M660 118.5h2M605 90.5h2M547 131.5h2M618 86.5h2M548 131.5h2M551 126.5h2M637 134.5h2M596 120.5h2M609 144.5h2M648 121.5h2M541 119.5h2M587 132.5h2M647 134.5h2M545 151.5h2M621 122.5h2M656 153.5h2M570 126.5h2M650 127.5h2M599 155.5h2M589 123.5h2M632 132.5h2M612 118.5h2M579 119.5h2M651 153.5h2M659 111.5h2M542 145.5h2M604 134.5h2M599 142.5h2M536 128.5h2M533 116.5h2M625 144.5h2M634 106.5h2M554 156.5h2M650 101.5h2M581 106.5h2M623 164.5h2M559 129.5h2M613 103.5h2M649 142.5h2M655 133.5h2M546 63.5h2M554 157.5h2M619 84.5h2M579 69.5h2M626 104.5h2M574 112.5h2M584 112.5h2M611 92.5h2M599 58.5h2M576 169.5h2M622 121.5h2M570 157.5h2M561 151.5h2M613 141.5h2M613 107.5h2M611 170.5h2M569 145.5h2M598 196.5h2M631 113.5h2M629 163.5h2M577 197.5h2M560 109.5h2M629 112.5h2M652 122.5h2M659 135.5h2M608 120.5h2M547 179.5h2M612 117.5h2M660 130.5h2M544 149.5h2M646 171.5h2M578 112.5h2M617 125.5h2M592 141.5h2M620 159.5h2M613 126.5h2M593 131.5h2M652 190.5h2M611 88.5h2M614 56.5h2M590 155.5h2M575 122.5h2M662 135.5h2M650 119.5h2M602 146.5h2M632 173.5h2M556 159.5h2M657 120.5h2M604 141.5h2M662 62.5h2M538 161.5h2M617 121.5h2M617 88.5h2M618 134.5h2M548 54.5h2M537 188.5h2M624 137.5h2M632 156.5h2M658 112.5h2M604 79.5h2M598 143.5h2M644 110.5h2M545 171.5h2M636 151.5h2M566 127.5h2M582 169.5h2M536 102.5h2M609 93.5h2M571 160.5h2M624 114.5h2M629 100.5h2M582 123.5h2M598 141.5h2M631 153.5h2M658 110.5h2M575 125.5h2M612 124.5h2M597 195.5h2M600 178.5h2M652 123.5h2M630 153.5h2M665 140.5h2M665 150.5h2M665 118.5h2M664 121.5h2M664 153.5h2M664 129.5h2M663 150.5h2M664 129.5h2M665 158.5h2M665 155.5h2M664 129.5h2M664 123.5h2M665 128.5h2M664 118.5h2M665 135.5h2M663 123.5h2M665 147.5h2M665 136.5h2M664 156.5h2M665 157.5h2M663 135.5h2M665 121.5h2M664 124.5h2M664 156.5h2M664 129.5h2M665 158.5h2M663 145.5h2M664 136.5h2M665 142.5h2M664 127.5h2M664 146.5h2M664 128.5h2M665 119.5h2M664 153.5h2M664 146.5h2M664 140.5h2M664 152.5h2M665 142.5h2M663 168.5h2M664 118.5h2M665 128.5h2M665 134.5h2M664 124.5h2M665 127.5h2M665 131.5h2M665 131.5h2M664 121.5h2M665 136.5h2M665 114.5h2M665 140.5h2M664 123.5h2M663 130.5h2M665 146.5h2M665 137.5h2M664 123.5h2M664 135.5h2M664 135.5h2M664 141.5h2M664 152.5h2M665 124.5h2M664 140.5h2M665 139.5h2M664 126.5h2M664 117.5h2M664 139.5h2M664 144.5h2M664 135.5h2M664 134.5h2M664 128.5h2M664 120.5h2M664 129.5h2M665 115.5h2M665 132.5h2M664 127.5h2M664 140.5h2M665 140.5h2M665 159.5h2M665 114.5h2M665 159.5h2M664 124.5h2M665 136.5h2M664 133.5h2M665 153.5h2M664 148.5h2M664 124.5h2M664 144.5h2M665 128.5h2M664 146.5h2M664 159.5h2M664 142.5h2M664 150.5h2M663 145.5h2M664 128.5h2M664 130.5h2M665 146.5h2M663 131.5h2M664 118.5h2M664 158.5h2M665 147.5h2M665 140.5h2M665 173.5h2" stroke="#aaaaaa" stroke-width="1.5" fill="none"/>
<line x1="404.5" y1="39.4" x2="404.5" y2="206.0" stroke="#888" stroke-width="0.9"/>
<line x1="428.5" y1="39.4" x2="428.5" y2="206.0" stroke="#888" stroke-width="0.9"/>
<line x1="447.6" y1="39.4" x2="447.6" y2="206.0" stroke="#888" stroke-width="0.9"/>
<line x1="467.8" y1="39.4" x2="467.8" y2="206.0" stroke="#888" stroke-width="0.9"/>
<line x1="485.5" y1="39.4" x2="485.5" y2="206.0" stroke="#888" stroke-width="0.9"/>
<line x1="502.5" y1="39.4" x2="502.5" y2="206.0" stroke="#888" stroke-width="0.9"/>
<line x1="518.5" y1="39.4" x2="518.5" y2="206.0" stroke="#b0b0b0" stroke-width="1.6"/>
<line x1="532.5" y1="39.4" x2="532.5" y2="206.0" stroke="#aaa" stroke-width="1.0"/>
<line x1="544.4" y1="39.4" x2="544.4" y2="206.0" stroke="#aaa" stroke-width="1.0"/>
<line x1="556.6" y1="39.4" x2="556.6" y2="206.0" stroke="#888" stroke-width="0.9"/>
<line x1="569.6" y1="39.4" x2="569.6" y2="206.0" stroke="#888" stroke-width="0.9"/>
<line x1="583.3" y1="39.4" x2="583.3" y2="206.0" stroke="#888" stroke-width="0.9"/>
<line x1="593.1" y1="39.4" x2="593.1" y2="206.0" stroke="#b0b0b0" stroke-width="1.6"/>
<line x1="601.9" y1="39.4" x2="601.9" y2="206.0" stroke="#888" stroke-width="0.9"/>
<line x1="610.0" y1="39.4" x2="610.0" y2="206.0" stroke="#b0b0b0" stroke-width="1.6"/>
<line x1="617.7" y1="39.4" x2="617.7" y2="206.0" stroke="#888" stroke-width="0.9"/>
<line x1="624.7" y1="39.4" x2="624.7" y2="206.0" stroke="#888" stroke-width="0.9"/>
<line x1="632.6" y1="39.4" x2="632.6" y2="206.0" stroke="#888" stroke-width="0.9"/>
<line x1="637.5" y1="39.4" x2="637.5" y2="206.0" stroke="#888" stroke-width="0.9"/>
<line x1="643.6" y1="39.4" x2="643.6" y2="206.0" stroke="#888" stroke-width="0.9"/>
<line x1="646.4" y1="39.4" x2="646.4" y2="206.0" stroke="#aaa" stroke-width="1.0"/>
<line x1="649.4" y1="39.4" x2="649.4" y2="206.0" stroke="#888" stroke-width="0.9"/>
<line x1="664.5" y1="39.4" x2="664.5" y2="206.0" stroke="#b0b0b0" stroke-width="1.6"/>
<path d="M526 66.5h2M529 63.5h2M526 68.5h2M530 63.5h2M528 59.5h2M525 61.5h2M528 56.5h2M530 58.5h2M526 55.5h2M531 67.5h2M530 65.5h2M525 60.5h2M528 56.5h2M531 61.5h2M526 68.5h2M525 70.5h2M527 64.5h2M527 63.5h2M526 55.5h2M530 58.5h2M530 58.5h2M531 70.5h2M529 67.5h2M528 67.5h2M525 63.5h2M530 58.5h2M531 70.5h2M527 61.5h2M527 61.5h2M531 61.5h2M525 56.5h2M529 71.5h2M528 63.5h2M528 67.5h2M526 65.5h2M528 65.5h2M526 57.5h2M527 70.5h2M527 65.5h2M526 56.5h2M512 92.5h2M514 83.5h2M514 89.5h2M515 95.5h2M513 95.5h2M515 87.5h2M515 85.5h2M513 80.5h2M515 79.5h2M512 92.5h2M514 85.5h2M514 77.5h2M512 81.5h2M513 79.5h2M512 82.5h2M515 95.5h2M514 85.5h2M512 95.5h2M620 79.5h2M618 67.5h2M621 80.5h2M621 76.5h2M619 75.5h2M621 69.5h2M620 69.5h2M621 63.5h2M620 83.5h2M618 76.5h2M620 81.5h2M620 68.5h2M619 84.5h2M621 65.5h2M618 65.5h2M618 72.5h2M618 82.5h2M620 65.5h2M620 70.5h2M620 67.5h2M619 67.5h2M619 78.5h2M640 80.5h2M640 90.5h2M641 89.5h2M638 85.5h2M638 89.5h2M639 88.5h2M639 88.5h2M639 80.5h2M639 83.5h2M641 83.5h2M634 176.5h2M635 172.5h2M634 176.5h2M634 179.5h2M633 177.5h2M634 176.5h2" stroke="#a8a8a8" stroke-width="1.5" fill="none"/>
<rect x="512.8" y="95.0" width="2.3" height="36.0" fill="#1e3276"/>
<rect x="524.0" y="70.5" width="3.0" height="79.5" fill="#1e3276"/>
<rect x="528.5" y="62.3" width="2.8" height="74.2" fill="#1e3276"/>
<rect x="619.4" y="83.8" width="1.8" height="48.2" fill="#1e3276"/>
<rect x="639.6" y="91.4" width="1.6" height="36.6" fill="#1e3276"/>
<path d="M380.5 126.0H381.7V132.0H387.5V126.0H392.6V123.3H394.3V122.7H402.3V127.9H404.0V127.3H412.6V120.0H413.0V133.0H413.4V128.4H416.6V130.7H427.4V128.0H428.2V116.0H429.2V142.0H430.0V120.0H431.0V128.0H432.0V130.0H435.0V129.6H440.7V126.0H442.4V113.0H443.6V120.0H447.0V134.7H451.0V125.6H453.3V128.0H456.0V125.0H459.6V127.3H467.6V138.0H468.7V129.6H479.0V123.0H480.5V137.0H482.0V125.0H484.0V138.0H485.5V123.0H487.0V136.0H488.7V130.7H490.0V130.5H492.3V130.5H496.9V128.2H498.4V126.6H502.2V120.6H512.8V95.0H514.0V136.5H515.1V129.0H517.4V132.0H521.0V118.0H521.8V132.0H523.5V70.5H525.5V153.3H527.3V62.3H529.5V136.5H531.1V130.5H537.0V135.0H538.0V128.2H546.3V135.0H547.9V112.4H549.0V134.7H550.1V128.0H553.0V134.7H556.4V122.0H557.6V127.3H565.0V129.5H568.0V124.0H569.0V130.0H571.3V131.0H574.5V122.0H575.5V130.5H579.3V136.4H581.6V131.9H584.4V129.0H590.1V125.6H594.0V116.0H595.5V131.0H597.0V118.0H598.5V131.0H600.0V118.0H601.5V129.0H602.5V128.2H614.0V144.7H615.7V132.0H619.6V83.8H621.0V116.8H625.4V132.0H629.2V134.6H633.6V172.6H634.3V127.0H639.8V91.4H641.0V116.0H643.1V128.2H648.0V137.0H649.5V119.3H658.4V122.0H661.0V127.0H664.7V135.8H665.5V135.8" fill="none" stroke="#16296e" stroke-width="1.5" stroke-linejoin="miter"/>
<path d="M380.0 39.4V206.0H671.4V39.4Z" fill="none" stroke="#808080" stroke-width="1.3"/>
<line x1="377" y1="128.8" x2="380" y2="128.8" stroke="#666" stroke-width="0.8"/>
<line x1="377" y1="106.6" x2="380" y2="106.6" stroke="#666" stroke-width="0.8"/>
<line x1="377" y1="93.6" x2="380" y2="93.6" stroke="#666" stroke-width="0.8"/>
<line x1="377" y1="84.4" x2="380" y2="84.4" stroke="#666" stroke-width="0.8"/>
<line x1="377" y1="77.2" x2="380" y2="77.2" stroke="#666" stroke-width="0.8"/>
<line x1="377" y1="71.4" x2="380" y2="71.4" stroke="#666" stroke-width="0.8"/>
<line x1="377" y1="66.4" x2="380" y2="66.4" stroke="#666" stroke-width="0.8"/>
<line x1="377" y1="62.2" x2="380" y2="62.2" stroke="#666" stroke-width="0.8"/>
<line x1="377" y1="58.4" x2="380" y2="58.4" stroke="#666" stroke-width="0.8"/>
<line x1="377" y1="55.0" x2="380" y2="55.0" stroke="#666" stroke-width="0.8"/>
<line x1="377" y1="180.4" x2="380" y2="180.4" stroke="#666" stroke-width="0.8"/>
<line x1="377" y1="167.4" x2="380" y2="167.4" stroke="#666" stroke-width="0.8"/>
<line x1="377" y1="158.2" x2="380" y2="158.2" stroke="#666" stroke-width="0.8"/>
<line x1="377" y1="151.0" x2="380" y2="151.0" stroke="#666" stroke-width="0.8"/>
<line x1="377" y1="145.2" x2="380" y2="145.2" stroke="#666" stroke-width="0.8"/>
<line x1="377" y1="140.2" x2="380" y2="140.2" stroke="#666" stroke-width="0.8"/>
<line x1="377" y1="136.0" x2="380" y2="136.0" stroke="#666" stroke-width="0.8"/>
<line x1="377" y1="132.2" x2="380" y2="132.2" stroke="#666" stroke-width="0.8"/>
<line x1="377" y1="202.6" x2="380" y2="202.6" stroke="#666" stroke-width="0.8"/>
<text x="358.5" y="58" font-size="8" fill="#222">10<tspan font-size="5" dy="-3">1</tspan></text>
<text x="358.5" y="132.8" font-size="8" fill="#222">10<tspan font-size="5" dy="-3">0</tspan></text>
<text x="355.5" y="206" font-size="8" fill="#222">10<tspan font-size="5" dy="-3">-1</tspan></text>
<text x="373.2" y="68.6" font-size="5.6" text-anchor="middle" fill="#222">7</text>
<text x="373.2" y="73.6" font-size="5.6" text-anchor="middle" fill="#222">6</text>
<text x="373.2" y="79.4" font-size="5.6" text-anchor="middle" fill="#222">5</text>
<text x="373.2" y="86.6" font-size="5.6" text-anchor="middle" fill="#222">4</text>
<text x="373.2" y="95.8" font-size="5.6" text-anchor="middle" fill="#222">3</text>
<text x="373.2" y="108.8" font-size="5.6" text-anchor="middle" fill="#222">2</text>
<text x="373.2" y="134.4" font-size="5.6" text-anchor="middle" fill="#222">9</text>
<text x="373.2" y="138.2" font-size="5.6" text-anchor="middle" fill="#222">8</text>
<text x="373.2" y="142.4" font-size="5.6" text-anchor="middle" fill="#222">7</text>
<text x="373.2" y="147.4" font-size="5.6" text-anchor="middle" fill="#222">6</text>
<text x="373.2" y="153.2" font-size="5.6" text-anchor="middle" fill="#222">5</text>
<text x="373.2" y="160.4" font-size="5.6" text-anchor="middle" fill="#222">4</text>
<text x="373.2" y="169.6" font-size="5.6" text-anchor="middle" fill="#222">3</text>
<text x="373.2" y="182.6" font-size="5.6" text-anchor="middle" fill="#222">2</text>
<text x="373" y="54.8" font-size="4" text-anchor="middle" fill="#555">.0</text>
<text x="373" y="57.8" font-size="4" text-anchor="middle" fill="#555">9</text>
<text x="373" y="128.8" font-size="4" text-anchor="middle" fill="#555">.0</text>
<text x="373" y="131.8" font-size="4" text-anchor="middle" fill="#555">9</text>
<text x="373" y="202.5" font-size="4" text-anchor="middle" fill="#555">.0</text>
<text x="373" y="205.5" font-size="4" text-anchor="middle" fill="#555">9</text>
<text x="390.5" y="36.7" font-size="5.5" font-weight="bold" text-anchor="middle" fill="#222">1</text>
<text x="414.0" y="36.7" font-size="5.5" font-weight="bold" text-anchor="middle" fill="#222">2</text>
<text x="436.0" y="36.7" font-size="5.5" font-weight="bold" text-anchor="middle" fill="#222">3</text>
<text x="455.5" y="36.7" font-size="5.5" font-weight="bold" text-anchor="middle" fill="#222">4</text>
<text x="472.5" y="36.7" font-size="5.5" font-weight="bold" text-anchor="middle" fill="#222">5</text>
<text x="491.0" y="36.7" font-size="5.5" font-weight="bold" text-anchor="middle" fill="#222">6</text>
<text x="508.0" y="36.7" font-size="5.5" font-weight="bold" text-anchor="middle" fill="#222">7</text>
<text x="523.3" y="36.7" font-size="5.5" font-weight="bold" text-anchor="middle" fill="#222">8</text>
<text x="537.2" y="36.7" font-size="5.5" font-weight="bold" text-anchor="middle" fill="#222">9</text>
<text x="549.4" y="36.7" font-size="5.5" font-weight="bold" text-anchor="middle" fill="#222">10</text>
<text x="562.7" y="36.7" font-size="5.5" font-weight="bold" text-anchor="middle" fill="#222">11</text>
<text x="575.0" y="36.7" font-size="5.5" font-weight="bold" text-anchor="middle" fill="#222">12</text>
<text x="586.1" y="36.7" font-size="5.5" font-weight="bold" text-anchor="middle" fill="#222">13</text>
<text x="595.0" y="36.7" font-size="5.5" font-weight="bold" text-anchor="middle" fill="#222">14</text>
<text x="603.9" y="36.7" font-size="5.5" font-weight="bold" text-anchor="middle" fill="#222">15</text>
<text x="612.0" y="36.7" font-size="5.5" font-weight="bold" text-anchor="middle" fill="#222">16</text>
<text x="620.5" y="36.7" font-size="5.5" font-weight="bold" text-anchor="middle" fill="#222">17</text>
<text x="627.5" y="36.7" font-size="5.5" font-weight="bold" text-anchor="middle" fill="#222">18</text>
<text x="634.3" y="36.7" font-size="5.5" font-weight="bold" text-anchor="middle" fill="#222">19</text>
<text x="641.0" y="36.7" font-size="5.5" font-weight="bold" text-anchor="middle" fill="#222">20</text>
<text x="650.0" y="36.7" font-size="5.5" font-weight="bold" text-anchor="middle" fill="#222">. .</text>
<text x="656.0" y="36.7" font-size="5.5" font-weight="bold" text-anchor="middle" fill="#222">X</text>
<text x="663.6" y="36.7" font-size="5.5" font-weight="bold" text-anchor="middle" fill="#222">Y</text>
<text x="520.8" y="52.5" font-size="8.8" font-weight="bold" fill="#111">MYC</text>
<text x="504.5" y="77.6" font-size="8.4" font-weight="bold" fill="#111">RD2</text>
<text x="608.8" y="63.7" font-size="8.8" font-weight="bold" fill="#111">ERBB2</text>
<text x="626.0" y="189.7" font-size="8.3" font-weight="bold" fill="#111">DCC</text>
<defs><filter id="tex" x="-10%" y="-10%" width="120%" height="120%"><feTurbulence type="fractalNoise" baseFrequency="0.9" numOctaves="1" seed="3" result="n"/><feColorMatrix in="n" type="matrix" values="0 0 0 0 1  0 0 0 0 1  0 0 0 0 1  0 0 0 -1.6 1.05" result="w"/><feComposite in="w" in2="SourceGraphic" operator="in" result="wm"/><feMerge><feMergeNode in="SourceGraphic"/><feMergeNode in="wm"/></feMerge><feGaussianBlur stdDeviation="0.6"/></filter><radialGradient id="nucS" cx="50%" cy="50%" r="50%"><stop offset="0" stop-color="#9274c2"/><stop offset="0.6" stop-color="#8666ba"/><stop offset="0.88" stop-color="#7454ae"/><stop offset="1" stop-color="#a68cc8"/></radialGradient><radialGradient id="nucN" cx="50%" cy="50%" r="50%"><stop offset="0" stop-color="#2a1e74"/><stop offset="0.45" stop-color="#44388e"/><stop offset="0.85" stop-color="#6456a8"/><stop offset="1" stop-color="#9284c4"/></radialGradient><radialGradient id="nucL" cx="50%" cy="50%" r="50%"><stop offset="0" stop-color="#554a9c"/><stop offset="0.6" stop-color="#685ca8"/><stop offset="0.88" stop-color="#7a6eb4"/><stop offset="1" stop-color="#aa9ccc"/></radialGradient><radialGradient id="nucD" cx="50%" cy="50%" r="50%"><stop offset="0" stop-color="#0e0840"/><stop offset="0.45" stop-color="#1c1460"/><stop offset="0.8" stop-color="#352c85"/><stop offset="1" stop-color="#6a5eb0"/></radialGradient><linearGradient id="cellg" x1="0" y1="0" x2="0" y2="1"><stop offset="0" stop-color="#f2e8f0"/><stop offset="0.12" stop-color="#eadaE6"/><stop offset="0.3" stop-color="#dfbdd6"/><stop offset="0.55" stop-color="#d6a4c8"/><stop offset="0.8" stop-color="#ddb6d2"/><stop offset="1" stop-color="#e8d0e0"/></linearGradient><filter id="spk" x="-10%" y="-10%" width="120%" height="120%"><feGaussianBlur in="SourceGraphic" stdDeviation="1.2" result="b"/><feTurbulence type="fractalNoise" baseFrequency="0.7" numOctaves="2" seed="9" result="n"/><feColorMatrix in="n" type="matrix" values="0 0 0 0 1  0 0 0 0 1  0 0 0 0 1  0 0 0 0.9 -0.42" result="w"/><feComposite in="w" in2="b" operator="in" result="wm"/><feMerge><feMergeNode in="b"/><feMergeNode in="wm"/></feMerge></filter><filter id="spk2" x="-20%" y="-20%" width="140%" height="140%"><feGaussianBlur in="SourceGraphic" stdDeviation="2" result="b"/><feTurbulence type="fractalNoise" baseFrequency="0.7" numOctaves="2" seed="4" result="n"/><feColorMatrix in="n" type="matrix" values="0 0 0 0 1  0 0 0 0 1  0 0 0 0 1  0 0 0 0.9 -0.42" result="w"/><feComposite in="w" in2="b" operator="in" result="wm"/><feMerge><feMergeNode in="b"/><feMergeNode in="wm"/></feMerge></filter></defs>
<g filter="url(#spk)">
<path d="M121.8,255.4 C130,254 140,254 146.9,254 C158,252 166,250 174.8,249.8 C186,249 196,248.5 206.9,248.4 C204,251 200,254 197.1,256.8 C192,262 187,266 183.2,270.7 C179,276 176,281 174.8,287.5 C173,293 172,298 172,304.2 C172,310 173,316 176.2,321 C179,327 183,331 186,335 C189,338 192,340 194.3,341.9 C183,341 172,340.5 160.8,340.5 C150,340.5 142,341.5 132.9,341.9 C126,342.5 120,343.5 113.4,344.7 C118,340 123,336 127.3,332 C131,327 135,323 137.1,318.2 C140,312 141,307 141.3,301.4 C141,294 140,288 138.5,281.9 C136,276 133,272 130.1,267.9 C127,263 124,259 121.8,255.4Z" fill="url(#cellg)"/>
</g>
<g filter="url(#bl1)">
<ellipse cx="160.4" cy="295.6" rx="13.4" ry="16.6" fill="url(#nucS)" transform="rotate(-10 160.2 295)"/>
<path d="M157.5,289 C162,289 164.5,295 163.8,301 C163,304.5 159.5,305 158.8,302 C159.3,297 158.8,292.5 157.5,289Z" fill="#341c7a"/>
</g>
<g filter="url(#spk2)">
<path d="M418,232 C430,236 450,236 470,244 C480,250 486,256 484,258 C470,262 455,268 443,268 C432,262 424,248 418,232Z" fill="#d8c8e6"/>
<path d="M524,229 C530,238 528,256 518,262 C508,266 495,264 487,261 C492,252 500,238 512,232 C516,230 520,229 524,229Z" fill="#d6c6e6"/>
<path d="M406,272 C412,266 440,268 484,279 C475,290 458,295 440,297 C428,301 420,304 414,300 C407,292 403,280 406,272Z" fill="#ecccdc"/>
<path d="M484.6,298 C495,285 505,268 525,264 C545,262 556,270 558,280 C556,292 545,297 530,297 C515,298 500,298 484.6,298Z" fill="#e4b8d2"/>
<path d="M438,350 C436,335 440,318 448,300 C458,294 472,296 478,305 C480,318 474,330 462,338 C452,344 445,348 438,350Z" fill="#e2b4d0"/>
<path d="M527,302 C545,302 560,315 560,333 C560,350 548,362 528,362 C508,362 494,350 494,333 C494,315 508,302 527,302Z" fill="#e6bad3"/>
<path d="M547,244 C552,236 565,231 582,232 C598,235 606,245 612,255 C618,260 624,266 622,268 C605,272 590,272 575,268 C560,262 550,254 547,244Z" fill="#e8bed5"/>
<path d="M566,296 C570,288 580,290 595,296 C610,304 625,318 634,328 C620,334 605,332 590,330 C575,322 566,308 566,296Z" fill="#e5b8d2"/>
<circle cx="477" cy="346.3" r="15.5" fill="#e2c0dc"/>
<circle cx="578.5" cy="344" r="16.5" fill="#e2c0dc"/>
</g>
<g filter="url(#bl3)" opacity="0.8">
<ellipse cx="448.3" cy="253.5" rx="18.0" ry="15.0" fill="#d9a4cc" transform="rotate(0 448.3 253.5)"/>
<ellipse cx="510.8" cy="246.8" rx="16.0" ry="18.0" fill="#d9a4cc" transform="rotate(25 510.8 246.8)"/>
<ellipse cx="447.0" cy="283.7" rx="25.0" ry="13.0" fill="#d9a4cc" transform="rotate(-6 447.0 283.7)"/>
<ellipse cx="527.0" cy="281.0" rx="26.0" ry="18.0" fill="#d9a4cc" transform="rotate(-8 527.0 281.0)"/>
<ellipse cx="461.0" cy="313.0" rx="20.0" ry="18.0" fill="#d9a4cc" transform="rotate(-10 461.0 313.0)"/>
<ellipse cx="529.5" cy="336.7" rx="26.0" ry="24.0" fill="#d9a4cc" transform="rotate(0 529.5 336.7)"/>
<ellipse cx="581.8" cy="252.2" rx="20.0" ry="20.0" fill="#d9a4cc" transform="rotate(0 581.8 252.2)"/>
<ellipse cx="592.8" cy="314.2" rx="27.0" ry="17.0" fill="#d9a4cc" transform="rotate(35 592.8 314.2)"/>
</g>
<g filter="url(#bl1)">
<ellipse cx="448.3" cy="253.5" rx="14.5" ry="11.5" fill="url(#nucN)" transform="rotate(0 448.3 253.5)"/>
<ellipse cx="510.8" cy="246.8" rx="13.0" ry="15.0" fill="url(#nucN)" transform="rotate(25 510.8 246.8)"/>
<ellipse cx="447.0" cy="283.7" rx="21.0" ry="9.8" fill="url(#nucL)" transform="rotate(-6 447.0 283.7)"/>
<ellipse cx="527.0" cy="281.0" rx="22.0" ry="14.0" fill="url(#nucL)" transform="rotate(-8 527.0 281.0)"/>
<ellipse cx="461.0" cy="313.0" rx="16.0" ry="13.7" fill="url(#nucL)" transform="rotate(-10 461.0 313.0)"/>
<ellipse cx="477.0" cy="346.3" rx="12.6" ry="10.8" fill="url(#nucD)" transform="rotate(0 477.0 346.3)"/>
<ellipse cx="529.5" cy="336.7" rx="20.9" ry="18.7" fill="url(#nucL)" transform="rotate(0 529.5 336.7)"/>
<ellipse cx="581.8" cy="252.2" rx="15.2" ry="15.8" fill="url(#nucL)" transform="rotate(0 581.8 252.2)"/>
<ellipse cx="592.8" cy="314.2" rx="22.0" ry="13.0" fill="url(#nucL)" transform="rotate(35 592.8 314.2)"/>
<ellipse cx="578.5" cy="344.0" rx="13.7" ry="12.5" fill="url(#nucD)" transform="rotate(0 578.5 344.0)"/>
</g><g filter="url(#bl2)">
<ellipse cx="449.0" cy="252.4" rx="5.0" ry="4.0" fill="#1c1262" opacity="0.7"/>
<ellipse cx="509.0" cy="245.0" rx="3.5" ry="4.0" fill="#1c1262" opacity="0.7"/>
<ellipse cx="516.0" cy="252.0" rx="2.5" ry="2.0" fill="#1c1262" opacity="0.7"/>
<ellipse cx="437.0" cy="285.0" rx="3.0" ry="2.5" fill="#1c1262" opacity="0.7"/>
<ellipse cx="453.0" cy="282.0" rx="3.5" ry="2.5" fill="#1c1262" opacity="0.7"/>
<ellipse cx="520.0" cy="281.0" rx="4.0" ry="3.5" fill="#1c1262" opacity="0.7"/>
<ellipse cx="536.0" cy="279.0" rx="4.0" ry="3.5" fill="#1c1262" opacity="0.7"/>
<ellipse cx="455.0" cy="310.0" rx="3.0" ry="2.0" fill="#1c1262" opacity="0.7"/>
<ellipse cx="464.0" cy="314.0" rx="3.0" ry="2.0" fill="#1c1262" opacity="0.7"/>
<ellipse cx="459.0" cy="320.0" rx="2.5" ry="2.0" fill="#1c1262" opacity="0.7"/>
<ellipse cx="524.0" cy="333.0" rx="6.0" ry="5.0" fill="#1c1262" opacity="0.7"/>
<ellipse cx="534.0" cy="340.0" rx="5.0" ry="4.0" fill="#1c1262" opacity="0.7"/>
<ellipse cx="583.0" cy="255.5" rx="4.0" ry="3.0" fill="#1c1262" opacity="0.7"/>
<ellipse cx="585.0" cy="312.0" rx="5.0" ry="3.5" fill="#1c1262" opacity="0.7"/>
<ellipse cx="600.0" cy="322.0" rx="3.0" ry="2.5" fill="#1c1262" opacity="0.7"/>
<ellipse cx="578.0" cy="306.0" rx="3.0" ry="2.5" fill="#1c1262" opacity="0.7"/>
</g>
<text x="94.3" y="386.9" font-size="15.3" fill="#111">single SK-BR-3 cell</text>
<text x="444.2" y="385.6" font-size="15.3" fill="#111">millions of SK-BR-3 cells</text>
</svg></body></html>
